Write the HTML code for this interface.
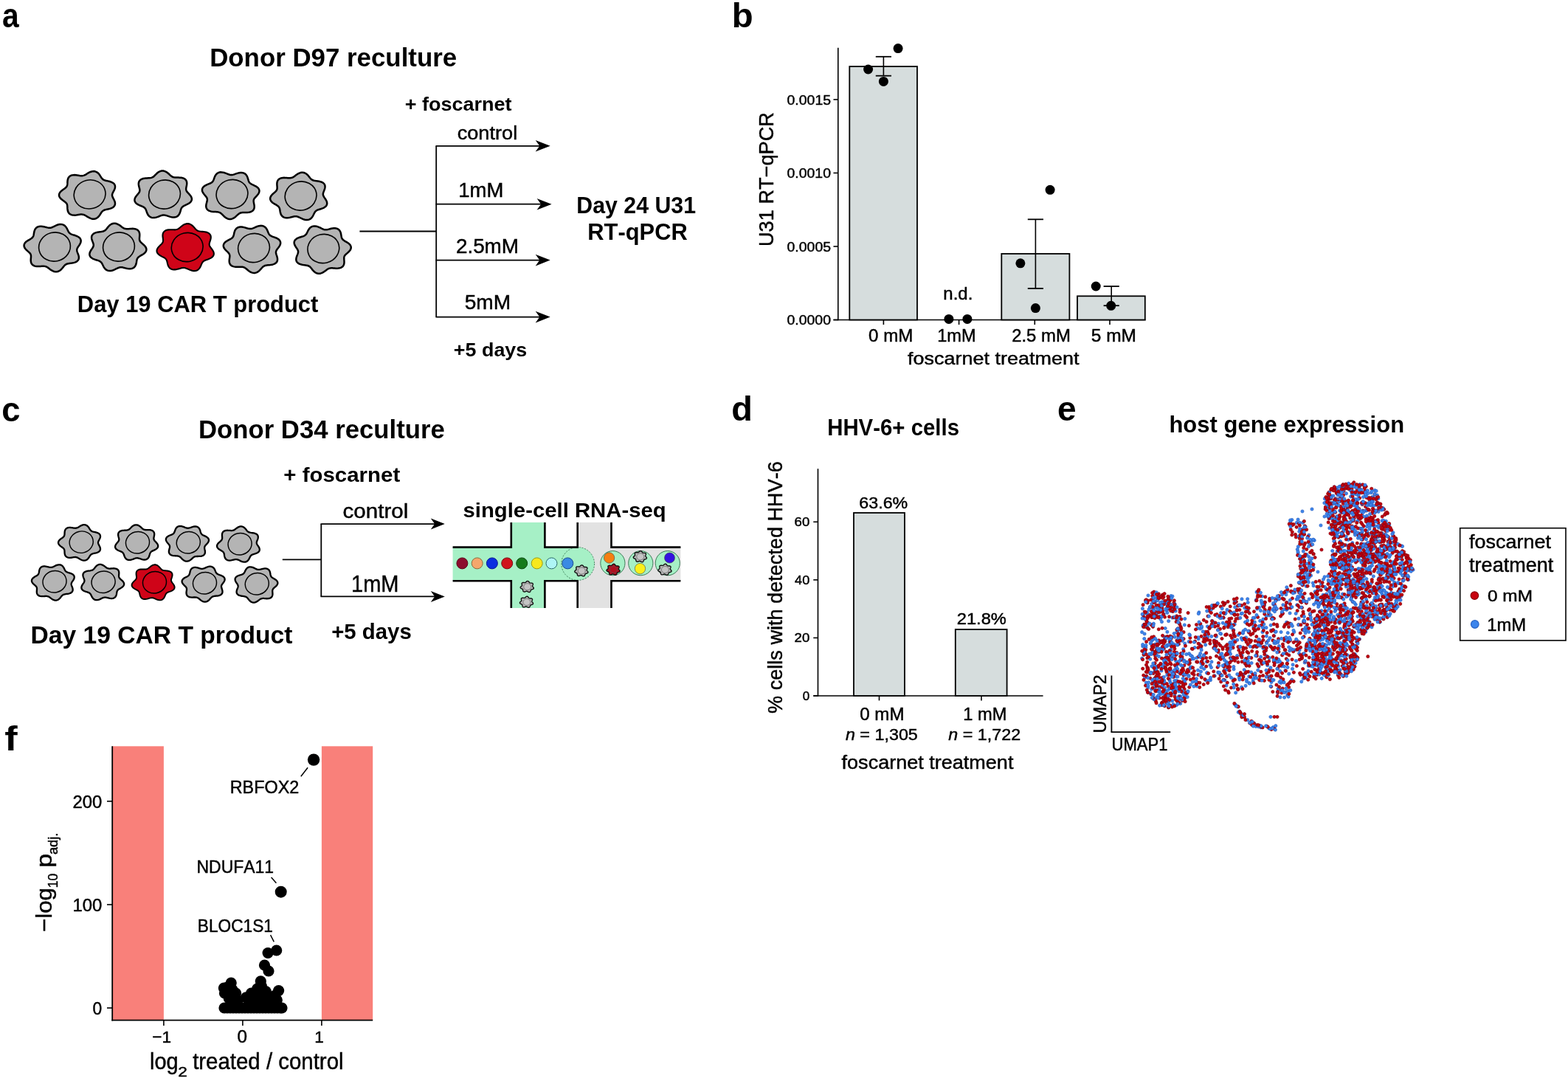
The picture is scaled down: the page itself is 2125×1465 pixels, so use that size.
<!DOCTYPE html>
<html><head><meta charset="utf-8"><title>Figure</title>
<style>
html,body{margin:0;padding:0;background:#fff;overflow:hidden;width:2125px;height:1465px;}
svg{display:block;}
text{font-family:"Liberation Sans",Arial,Helvetica,sans-serif;font-kerning:none;}
text[font-weight="normal"]{stroke:#000;stroke-width:0.45px;}
circle.r{fill:#c2020f;stroke:#86000b;stroke-width:0.7px;}
circle.b{fill:#3d85ec;stroke:#2a63c4;stroke-width:0.7px;}
</style></head>
<body>
<svg width="2125" height="1465" viewBox="0 0 2125 1465">
<rect width="2125" height="1465" fill="#fff"/>
<text x="2.88" y="37.30" font-size="46.70" font-weight="bold" font-style="normal" textLength="22.66" lengthAdjust="spacingAndGlyphs" fill="#000">a</text>
<text x="991.82" y="37.20" font-size="45.66" font-weight="bold" font-style="normal" textLength="28.91" lengthAdjust="spacingAndGlyphs" fill="#000">b</text>
<text x="2.29" y="570.50" font-size="47.07" font-weight="bold" font-style="normal" textLength="25.21" lengthAdjust="spacingAndGlyphs" fill="#000">c</text>
<text x="991.32" y="570.30" font-size="46.34" font-weight="bold" font-style="normal" textLength="28.67" lengthAdjust="spacingAndGlyphs" fill="#000">d</text>
<text x="1433.06" y="570.30" font-size="46.70" font-weight="bold" font-style="normal" textLength="25.59" lengthAdjust="spacingAndGlyphs" fill="#000">e</text>
<text x="6.39" y="1016.80" font-size="46.62" font-weight="bold" font-style="normal" textLength="17.41" lengthAdjust="spacingAndGlyphs" fill="#000">f</text>
<text x="284.15" y="89.70" font-size="34.34" font-weight="bold" font-style="normal" textLength="335.02" lengthAdjust="spacingAndGlyphs" fill="#000">Donor D97 reculture</text>
<text x="548.65" y="149.50" font-size="26.34" font-weight="bold" font-style="normal" textLength="144.91" lengthAdjust="spacingAndGlyphs" fill="#000">+ foscarnet</text>
<text x="619.65" y="189.20" font-size="25.79" font-weight="normal" font-style="normal" textLength="81.56" lengthAdjust="spacingAndGlyphs" fill="#000">control</text>
<text x="621.34" y="266.60" font-size="27.78" font-weight="normal" font-style="normal" textLength="61.12" lengthAdjust="spacingAndGlyphs" fill="#000">1mM</text>
<text x="617.91" y="342.50" font-size="27.10" font-weight="normal" font-style="normal" textLength="85.12" lengthAdjust="spacingAndGlyphs" fill="#000">2.5mM</text>
<text x="629.68" y="419.00" font-size="27.49" font-weight="normal" font-style="normal" textLength="62.43" lengthAdjust="spacingAndGlyphs" fill="#000">5mM</text>
<text x="781.36" y="288.90" font-size="32.11" font-weight="bold" font-style="normal" textLength="161.64" lengthAdjust="spacingAndGlyphs" fill="#000">Day 24 U31</text>
<text x="796.29" y="325.10" font-size="31.40" font-weight="bold" font-style="normal" textLength="135.43" lengthAdjust="spacingAndGlyphs" fill="#000">RT-qPCR</text>
<text x="614.86" y="483.30" font-size="26.07" font-weight="bold" font-style="normal" textLength="99.38" lengthAdjust="spacingAndGlyphs" fill="#000">+5 days</text>
<text x="104.81" y="422.60" font-size="30.90" font-weight="bold" font-style="normal" textLength="326.57" lengthAdjust="spacingAndGlyphs" fill="#000">Day 19 CAR T product</text>
<line x1="487.40" y1="313.50" x2="591.20" y2="313.50" stroke="#000" stroke-width="1.80"/>
<line x1="591.20" y1="197.80" x2="591.20" y2="429.60" stroke="#000" stroke-width="1.80"/>
<line x1="590.50" y1="197.80" x2="733.70" y2="197.80" stroke="#000" stroke-width="1.80"/>
<path d="M745.70 197.80 L725.70 190.00 L731.30 197.80 L725.70 205.60 Z" fill="#000"/>
<line x1="590.50" y1="276.70" x2="735.60" y2="276.70" stroke="#000" stroke-width="1.80"/>
<path d="M747.60 276.70 L727.60 268.90 L733.20 276.70 L727.60 284.50 Z" fill="#000"/>
<line x1="590.50" y1="352.60" x2="733.70" y2="352.60" stroke="#000" stroke-width="1.80"/>
<path d="M745.70 352.60 L725.70 344.80 L731.30 352.60 L725.70 360.40 Z" fill="#000"/>
<line x1="590.50" y1="429.60" x2="733.70" y2="429.60" stroke="#000" stroke-width="1.80"/>
<path d="M745.70 429.60 L725.70 421.80 L731.30 429.60 L725.70 437.40 Z" fill="#000"/>
<path d="M152.00 264.40 L152.10 265.46 L152.41 266.55 L152.90 267.68 L153.52 268.88 L154.19 270.13 L154.85 271.45 L155.42 272.82 L155.83 274.21 L156.01 275.59 L155.92 276.94 L155.54 278.21 L154.85 279.37 L153.87 280.39 L152.65 281.28 L151.22 282.00 L149.65 282.59 L148.01 283.06 L146.36 283.44 L144.76 283.78 L143.27 284.13 L141.91 284.52 L140.71 285.00 L139.66 285.60 L138.74 286.36 L137.93 287.26 L137.18 288.30 L136.44 289.46 L135.67 290.69 L134.84 291.94 L133.89 293.16 L132.82 294.27 L131.62 295.23 L130.29 295.97 L128.84 296.48 L127.31 296.71 L125.74 296.68 L124.14 296.40 L122.57 295.89 L121.05 295.21 L119.60 294.43 L118.22 293.59 L116.92 292.77 L115.68 292.02 L114.47 291.40 L113.26 290.94 L112.03 290.66 L110.75 290.56 L109.38 290.61 L107.92 290.78 L106.36 291.03 L104.72 291.30 L103.01 291.53 L101.29 291.65 L99.58 291.62 L97.95 291.41 L96.43 290.97 L95.09 290.31 L93.94 289.43 L93.02 288.36 L92.33 287.13 L91.85 285.77 L91.56 284.35 L91.42 282.92 L91.35 281.50 L91.31 280.15 L91.22 278.89 L91.03 277.73 L90.69 276.68 L90.16 275.71 L89.42 274.82 L88.49 273.96 L87.40 273.12 L86.18 272.25 L84.90 271.34 L83.63 270.36 L82.46 269.30 L81.44 268.16 L80.67 266.95 L80.17 265.69 L80.00 264.40 L80.16 263.11 L80.64 261.84 L81.40 260.63 L82.40 259.49 L83.57 258.43 L84.84 257.45 L86.12 256.53 L87.35 255.67 L88.46 254.83 L89.40 253.98 L90.15 253.09 L90.70 252.13 L91.05 251.08 L91.26 249.93 L91.35 248.67 L91.40 247.33 L91.46 245.92 L91.61 244.48 L91.89 243.06 L92.36 241.70 L93.04 240.46 L93.95 239.37 L95.08 238.49 L96.42 237.82 L97.93 237.37 L99.56 237.14 L101.26 237.11 L102.99 237.23 L104.69 237.45 L106.34 237.72 L107.90 237.98 L109.37 238.16 L110.74 238.23 L112.03 238.13 L113.27 237.87 L114.47 237.42 L115.68 236.81 L116.93 236.08 L118.23 235.26 L119.60 234.43 L121.05 233.63 L122.57 232.95 L124.14 232.44 L125.73 232.14 L127.31 232.10 L128.84 232.32 L130.29 232.81 L131.63 233.55 L132.84 234.49 L133.91 235.60 L134.86 236.81 L135.70 238.07 L136.47 239.30 L137.20 240.47 L137.95 241.52 L138.75 242.43 L139.66 243.19 L140.70 243.81 L141.89 244.30 L143.24 244.70 L144.72 245.05 L146.31 245.39 L147.96 245.77 L149.60 246.24 L151.17 246.82 L152.61 247.54 L153.85 248.42 L154.84 249.44 L155.54 250.59 L155.94 251.86 L156.04 253.20 L155.87 254.58 L155.47 255.97 L154.91 257.34 L154.25 258.66 L153.57 259.92 L152.95 261.11 L152.44 262.25 L152.12 263.34 Z" fill="#b4b4b4" stroke="#000" stroke-width="2.50" stroke-linejoin="round"/>
<ellipse cx="121.60" cy="263.40" rx="21.50" ry="19.50" fill="#b4b4b4" stroke="#000" stroke-width="1.60" transform="rotate(-14 121.60 263.40)"/>
<path d="M257.61 264.50 L258.52 265.73 L259.26 267.01 L259.75 268.32 L259.95 269.64 L259.84 270.94 L259.40 272.18 L258.65 273.35 L257.63 274.42 L256.38 275.38 L254.99 276.23 L253.52 276.99 L252.04 277.68 L250.63 278.33 L249.33 278.97 L248.20 279.64 L247.24 280.39 L246.47 281.23 L245.86 282.19 L245.38 283.28 L244.99 284.49 L244.62 285.80 L244.23 287.16 L243.75 288.55 L243.15 289.90 L242.38 291.16 L241.43 292.28 L240.29 293.20 L238.98 293.90 L237.52 294.36 L235.94 294.56 L234.29 294.53 L232.62 294.29 L230.95 293.90 L229.33 293.40 L227.77 292.87 L226.29 292.36 L224.90 291.93 L223.56 291.63 L222.27 291.50 L221.00 291.54 L219.71 291.77 L218.39 292.16 L217.00 292.67 L215.54 293.25 L213.99 293.85 L212.39 294.39 L210.74 294.82 L209.08 295.08 L207.44 295.12 L205.88 294.92 L204.42 294.46 L203.11 293.76 L201.96 292.83 L200.99 291.71 L200.19 290.46 L199.54 289.12 L199.00 287.75 L198.54 286.41 L198.10 285.14 L197.62 283.98 L197.06 282.94 L196.36 282.04 L195.49 281.26 L194.45 280.57 L193.24 279.96 L191.87 279.37 L190.40 278.78 L188.88 278.14 L187.38 277.42 L185.96 276.59 L184.71 275.66 L183.69 274.60 L182.94 273.44 L182.51 272.20 L182.40 270.90 L182.60 269.57 L183.07 268.24 L183.78 266.94 L184.65 265.69 L185.61 264.50 L186.58 263.37 L187.48 262.30 L188.25 261.27 L188.84 260.26 L189.22 259.23 L189.39 258.18 L189.35 257.06 L189.15 255.88 L188.83 254.61 L188.47 253.27 L188.13 251.87 L187.89 250.44 L187.81 249.01 L187.94 247.62 L188.33 246.31 L188.99 245.12 L189.93 244.09 L191.11 243.23 L192.51 242.55 L194.08 242.06 L195.75 241.74 L197.47 241.54 L199.18 241.43 L200.83 241.36 L202.38 241.27 L203.81 241.12 L205.11 240.85 L206.29 240.44 L207.37 239.87 L208.39 239.13 L209.37 238.24 L210.37 237.23 L211.41 236.15 L212.52 235.06 L213.72 234.02 L215.03 233.09 L216.43 232.34 L217.91 231.81 L219.45 231.54 L221.00 231.54 L222.54 231.82 L224.04 232.35 L225.46 233.09 L226.80 233.99 L228.04 235.00 L229.20 236.05 L230.28 237.07 L231.33 238.01 L232.36 238.83 L233.43 239.49 L234.57 239.98 L235.80 240.30 L237.14 240.48 L238.61 240.56 L240.19 240.57 L241.86 240.58 L243.58 240.63 L245.30 240.79 L246.98 241.08 L248.54 241.55 L249.93 242.22 L251.11 243.07 L252.04 244.11 L252.70 245.31 L253.10 246.62 L253.26 248.02 L253.22 249.46 L253.03 250.90 L252.76 252.30 L252.48 253.63 L252.26 254.89 L252.17 256.06 L252.24 257.16 L252.52 258.19 L253.01 259.19 L253.71 260.18 L254.58 261.19 L255.56 262.23 L256.60 263.33 Z" fill="#b4b4b4" stroke="#000" stroke-width="2.50" stroke-linejoin="round"/>
<ellipse cx="223.00" cy="263.50" rx="21.50" ry="19.50" fill="#b4b4b4" stroke="#000" stroke-width="1.60" transform="rotate(-14 223.00 263.50)"/>
<path d="M349.17 264.00 L348.16 265.17 L347.12 266.27 L346.12 267.32 L345.25 268.32 L344.53 269.31 L344.03 270.31 L343.73 271.34 L343.64 272.43 L343.73 273.60 L343.94 274.85 L344.21 276.18 L344.48 277.58 L344.67 279.01 L344.72 280.45 L344.57 281.86 L344.18 283.18 L343.53 284.38 L342.61 285.43 L341.44 286.30 L340.06 286.97 L338.51 287.45 L336.84 287.75 L335.12 287.91 L333.39 287.96 L331.72 287.97 L330.13 287.98 L328.66 288.04 L327.31 288.21 L326.07 288.53 L324.93 289.00 L323.85 289.65 L322.81 290.45 L321.77 291.39 L320.68 292.40 L319.53 293.45 L318.29 294.46 L316.96 295.37 L315.53 296.12 L314.04 296.66 L312.50 296.95 L310.95 296.96 L309.41 296.70 L307.93 296.19 L306.52 295.44 L305.21 294.53 L304.00 293.49 L302.89 292.40 L301.85 291.31 L300.86 290.30 L299.88 289.40 L298.87 288.65 L297.79 288.06 L296.62 287.64 L295.32 287.36 L293.90 287.20 L292.36 287.10 L290.71 287.03 L289.01 286.92 L287.29 286.73 L285.61 286.41 L284.04 285.92 L282.63 285.26 L281.43 284.41 L280.49 283.38 L279.81 282.20 L279.41 280.90 L279.27 279.51 L279.34 278.08 L279.58 276.65 L279.92 275.25 L280.28 273.90 L280.61 272.64 L280.82 271.45 L280.87 270.33 L280.72 269.27 L280.36 268.24 L279.78 267.23 L279.02 266.20 L278.13 265.13 L277.17 264.00 L276.21 262.81 L275.34 261.56 L274.62 260.26 L274.13 258.94 L273.92 257.60 L274.01 256.30 L274.43 255.05 L275.17 253.89 L276.18 252.83 L277.42 251.89 L278.82 251.06 L280.33 250.34 L281.85 249.70 L283.33 249.10 L284.70 248.52 L285.93 247.91 L286.98 247.24 L287.86 246.46 L288.57 245.57 L289.15 244.54 L289.63 243.39 L290.08 242.12 L290.54 240.79 L291.07 239.42 L291.72 238.08 L292.51 236.82 L293.48 235.69 L294.62 234.75 L295.92 234.04 L297.37 233.57 L298.93 233.36 L300.57 233.39 L302.22 233.64 L303.87 234.06 L305.48 234.60 L307.03 235.20 L308.49 235.79 L309.88 236.31 L311.21 236.71 L312.50 236.95 L313.77 237.01 L315.06 236.89 L316.39 236.60 L317.79 236.18 L319.26 235.68 L320.81 235.15 L322.43 234.65 L324.10 234.25 L325.78 234.01 L327.43 233.97 L329.01 234.16 L330.48 234.60 L331.80 235.29 L332.94 236.20 L333.90 237.31 L334.68 238.56 L335.29 239.91 L335.77 241.30 L336.16 242.67 L336.52 243.98 L336.91 245.20 L337.38 246.29 L337.98 247.26 L338.74 248.12 L339.68 248.87 L340.80 249.55 L342.09 250.19 L343.49 250.84 L344.97 251.53 L346.44 252.29 L347.83 253.14 L349.08 254.09 L350.12 255.16 L350.88 256.32 L351.34 257.56 L351.47 258.86 L351.28 260.17 L350.80 261.49 L350.08 262.77 Z" fill="#b4b4b4" stroke="#000" stroke-width="2.50" stroke-linejoin="round"/>
<ellipse cx="314.50" cy="263.00" rx="21.50" ry="19.50" fill="#b4b4b4" stroke="#000" stroke-width="1.60" transform="rotate(-14 314.50 263.00)"/>
<path d="M438.83 266.50 L439.53 267.61 L440.33 268.78 L441.16 270.01 L441.93 271.30 L442.59 272.63 L443.04 273.99 L443.25 275.35 L443.15 276.67 L442.75 277.92 L442.04 279.08 L441.04 280.11 L439.80 281.02 L438.37 281.79 L436.82 282.44 L435.23 283.00 L433.65 283.48 L432.16 283.95 L430.78 284.42 L429.57 284.96 L428.52 285.60 L427.63 286.36 L426.88 287.26 L426.23 288.31 L425.63 289.47 L425.03 290.73 L424.38 292.04 L423.64 293.35 L422.78 294.59 L421.76 295.72 L420.59 296.67 L419.28 297.40 L417.83 297.88 L416.29 298.10 L414.69 298.06 L413.07 297.78 L411.46 297.31 L409.89 296.69 L408.38 295.98 L406.96 295.26 L405.60 294.59 L404.30 294.01 L403.04 293.58 L401.79 293.32 L400.52 293.24 L399.19 293.33 L397.80 293.58 L396.32 293.92 L394.75 294.32 L393.11 294.71 L391.42 295.03 L389.71 295.22 L388.03 295.24 L386.42 295.03 L384.94 294.60 L383.61 293.93 L382.47 293.03 L381.54 291.93 L380.82 290.68 L380.28 289.32 L379.91 287.91 L379.64 286.50 L379.43 285.13 L379.22 283.83 L378.94 282.64 L378.54 281.57 L377.97 280.61 L377.23 279.74 L376.28 278.95 L375.16 278.19 L373.90 277.44 L372.53 276.67 L371.15 275.83 L369.80 274.91 L368.58 273.91 L367.55 272.81 L366.78 271.62 L366.31 270.38 L366.16 269.09 L366.34 267.79 L366.83 266.50 L367.58 265.26 L368.55 264.07 L369.65 262.95 L370.82 261.91 L371.97 260.93 L373.03 259.98 L373.95 259.06 L374.68 258.13 L375.20 257.15 L375.52 256.12 L375.65 255.00 L375.64 253.78 L375.55 252.48 L375.43 251.09 L375.36 249.66 L375.40 248.22 L375.61 246.80 L376.04 245.46 L376.70 244.24 L377.61 243.17 L378.76 242.30 L380.12 241.64 L381.65 241.19 L383.31 240.93 L385.03 240.84 L386.76 240.88 L388.46 241.00 L390.09 241.13 L391.62 241.23 L393.04 241.23 L394.36 241.11 L395.59 240.82 L396.75 240.35 L397.88 239.71 L399.02 238.93 L400.19 238.04 L401.42 237.10 L402.74 236.17 L404.13 235.31 L405.60 234.59 L407.13 234.06 L408.69 233.76 L410.25 233.73 L411.78 233.98 L413.24 234.49 L414.61 235.23 L415.86 236.18 L417.00 237.26 L418.03 238.42 L418.97 239.60 L419.85 240.73 L420.72 241.78 L421.60 242.69 L422.56 243.44 L423.61 244.04 L424.79 244.49 L426.12 244.81 L427.58 245.06 L429.16 245.26 L430.82 245.49 L432.51 245.77 L434.18 246.16 L435.76 246.69 L437.18 247.38 L438.40 248.24 L439.36 249.26 L440.05 250.42 L440.44 251.71 L440.55 253.07 L440.41 254.48 L440.08 255.90 L439.62 257.29 L439.10 258.63 L438.59 259.90 L438.17 261.10 L437.89 262.24 L437.81 263.32 L437.94 264.38 L438.28 265.43 Z" fill="#b4b4b4" stroke="#000" stroke-width="2.50" stroke-linejoin="round"/>
<ellipse cx="407.60" cy="265.50" rx="21.50" ry="19.50" fill="#b4b4b4" stroke="#000" stroke-width="1.60" transform="rotate(-14 407.60 265.50)"/>
<path d="M105.27 335.50 L104.71 336.57 L104.35 337.62 L104.20 338.68 L104.27 339.76 L104.53 340.89 L104.94 342.09 L105.44 343.36 L105.96 344.70 L106.43 346.08 L106.77 347.50 L106.91 348.91 L106.81 350.28 L106.43 351.57 L105.76 352.74 L104.82 353.77 L103.61 354.64 L102.19 355.34 L100.62 355.87 L98.96 356.26 L97.26 356.55 L95.59 356.77 L94.01 356.97 L92.54 357.21 L91.21 357.53 L90.01 357.97 L88.95 358.55 L87.99 359.30 L87.10 360.19 L86.23 361.23 L85.35 362.36 L84.41 363.53 L83.38 364.69 L82.25 365.78 L81.00 366.73 L79.64 367.49 L78.18 368.01 L76.65 368.27 L75.09 368.25 L73.53 367.97 L72.00 367.45 L70.53 366.74 L69.13 365.88 L67.82 364.95 L66.58 364.00 L65.41 363.11 L64.28 362.31 L63.14 361.67 L61.98 361.19 L60.76 360.88 L59.45 360.74 L58.04 360.74 L56.51 360.83 L54.89 360.96 L53.19 361.08 L51.46 361.12 L49.74 361.04 L48.08 360.79 L46.54 360.34 L45.17 359.69 L44.01 358.83 L43.08 357.78 L42.41 356.56 L41.97 355.22 L41.76 353.81 L41.71 352.37 L41.78 350.93 L41.90 349.55 L42.00 348.24 L42.02 347.02 L41.90 345.89 L41.60 344.85 L41.09 343.87 L40.38 342.93 L39.47 342.01 L38.42 341.07 L37.28 340.08 L36.11 339.04 L35.01 337.93 L34.03 336.74 L33.27 335.50 L32.76 334.22 L32.57 332.91 L32.70 331.62 L33.16 330.37 L33.92 329.19 L34.93 328.08 L36.15 327.07 L37.49 326.16 L38.88 325.32 L40.25 324.54 L41.52 323.79 L42.66 323.04 L43.61 322.25 L44.37 321.39 L44.95 320.44 L45.36 319.37 L45.65 318.19 L45.87 316.90 L46.08 315.54 L46.35 314.12 L46.72 312.71 L47.25 311.35 L47.96 310.09 L48.89 308.99 L50.01 308.08 L51.33 307.39 L52.81 306.95 L54.41 306.73 L56.09 306.74 L57.80 306.92 L59.49 307.24 L61.13 307.63 L62.70 308.03 L64.19 308.39 L65.59 308.64 L66.92 308.75 L68.19 308.69 L69.44 308.44 L70.70 308.02 L72.00 307.45 L73.35 306.78 L74.78 306.06 L76.28 305.36 L77.85 304.74 L79.46 304.26 L81.08 303.97 L82.69 303.92 L84.23 304.12 L85.68 304.59 L87.01 305.31 L88.18 306.25 L89.20 307.37 L90.07 308.61 L90.81 309.92 L91.46 311.23 L92.06 312.49 L92.65 313.67 L93.30 314.72 L94.04 315.63 L94.92 316.40 L95.95 317.05 L97.16 317.59 L98.52 318.08 L100.01 318.54 L101.58 319.03 L103.17 319.58 L104.72 320.23 L106.16 321.00 L107.41 321.90 L108.42 322.93 L109.15 324.08 L109.57 325.33 L109.67 326.65 L109.48 328.00 L109.04 329.36 L108.39 330.70 L107.62 331.99 L106.79 333.22 L105.98 334.39 Z" fill="#b4b4b4" stroke="#000" stroke-width="2.50" stroke-linejoin="round"/>
<ellipse cx="74.00" cy="334.50" rx="21.50" ry="19.50" fill="#b4b4b4" stroke="#000" stroke-width="1.60" transform="rotate(-14 74.00 334.50)"/>
<path d="M197.75 335.50 L198.25 336.79 L198.44 338.09 L198.30 339.38 L197.83 340.63 L197.07 341.81 L196.04 342.91 L194.83 343.92 L193.48 344.84 L192.09 345.67 L190.73 346.45 L189.46 347.20 L188.33 347.95 L187.38 348.75 L186.63 349.61 L186.06 350.57 L185.65 351.64 L185.37 352.82 L185.15 354.11 L184.94 355.48 L184.67 356.89 L184.30 358.31 L183.77 359.67 L183.05 360.92 L182.12 362.02 L180.99 362.92 L179.67 363.60 L178.18 364.04 L176.58 364.25 L174.90 364.24 L173.19 364.05 L171.50 363.74 L169.86 363.35 L168.29 362.95 L166.81 362.59 L165.41 362.35 L164.08 362.24 L162.81 362.32 L161.56 362.57 L160.30 363.00 L159.00 363.57 L157.64 364.24 L156.22 364.96 L154.72 365.66 L153.15 366.28 L151.54 366.76 L149.91 367.04 L148.31 367.09 L146.77 366.88 L145.32 366.40 L144.00 365.68 L142.83 364.73 L141.81 363.61 L140.94 362.37 L140.20 361.06 L139.56 359.75 L138.96 358.49 L138.36 357.32 L137.71 356.27 L136.96 355.37 L136.08 354.60 L135.04 353.96 L133.83 353.42 L132.46 352.93 L130.97 352.47 L129.40 351.98 L127.80 351.43 L126.26 350.78 L124.82 350.01 L123.58 349.11 L122.57 348.07 L121.85 346.92 L121.44 345.67 L121.34 344.35 L121.54 343.00 L121.99 341.64 L122.64 340.30 L123.41 339.01 L124.24 337.78 L125.05 336.61 L125.75 335.50 L126.30 334.43 L126.66 333.38 L126.80 332.32 L126.72 331.24 L126.45 330.10 L126.03 328.90 L125.53 327.63 L125.01 326.30 L124.54 324.91 L124.21 323.49 L124.07 322.08 L124.18 320.71 L124.56 319.43 L125.24 318.26 L126.19 317.23 L127.40 316.37 L128.82 315.68 L130.40 315.14 L132.07 314.75 L133.76 314.47 L135.42 314.25 L137.01 314.04 L138.47 313.80 L139.80 313.48 L140.99 313.03 L142.05 312.44 L143.00 311.69 L143.89 310.79 L144.76 309.75 L145.64 308.62 L146.58 307.45 L147.61 306.28 L148.74 305.20 L150.00 304.25 L151.36 303.50 L152.82 302.98 L154.35 302.73 L155.91 302.75 L157.47 303.04 L159.00 303.57 L160.47 304.29 L161.87 305.14 L163.18 306.08 L164.41 307.02 L165.58 307.91 L166.72 308.70 L167.85 309.34 L169.02 309.81 L170.24 310.11 L171.55 310.24 L172.97 310.24 L174.50 310.15 L176.12 310.02 L177.82 309.90 L179.56 309.86 L181.28 309.95 L182.93 310.20 L184.47 310.65 L185.84 311.31 L186.99 312.17 L187.91 313.23 L188.58 314.45 L189.01 315.79 L189.22 317.20 L189.26 318.65 L189.19 320.08 L189.08 321.46 L188.98 322.77 L188.96 323.99 L189.09 325.11 L189.40 326.15 L189.91 327.13 L190.64 328.06 L191.55 328.99 L192.60 329.93 L193.75 330.91 L194.92 331.96 L196.02 333.07 L196.99 334.26 Z" fill="#b4b4b4" stroke="#000" stroke-width="2.50" stroke-linejoin="round"/>
<ellipse cx="161.00" cy="334.50" rx="21.50" ry="19.50" fill="#b4b4b4" stroke="#000" stroke-width="1.60" transform="rotate(-14 161.00 334.50)"/>
<path d="M285.88 336.00 L286.77 337.15 L287.66 338.36 L288.49 339.63 L289.18 340.95 L289.65 342.29 L289.86 343.63 L289.76 344.94 L289.35 346.19 L288.62 347.35 L287.61 348.40 L286.36 349.32 L284.94 350.11 L283.41 350.80 L281.85 351.40 L280.32 351.94 L278.89 352.46 L277.59 353.01 L276.45 353.62 L275.49 354.33 L274.69 355.16 L274.03 356.13 L273.46 357.23 L272.94 358.45 L272.41 359.75 L271.82 361.09 L271.13 362.42 L270.30 363.67 L269.31 364.80 L268.15 365.74 L266.84 366.46 L265.39 366.93 L263.84 367.14 L262.23 367.10 L260.58 366.84 L258.95 366.38 L257.36 365.80 L255.84 365.15 L254.39 364.50 L253.02 363.90 L251.70 363.41 L250.42 363.08 L249.16 362.92 L247.87 362.94 L246.54 363.14 L245.14 363.47 L243.66 363.90 L242.10 364.37 L240.47 364.81 L238.78 365.17 L237.09 365.39 L235.43 365.42 L233.83 365.22 L232.36 364.78 L231.04 364.10 L229.90 363.19 L228.96 362.08 L228.21 360.83 L227.64 359.47 L227.22 358.07 L226.89 356.68 L226.60 355.33 L226.30 354.08 L225.92 352.93 L225.42 351.91 L224.76 351.00 L223.90 350.19 L222.87 349.46 L221.66 348.76 L220.31 348.06 L218.89 347.32 L217.46 346.53 L216.09 345.64 L214.85 344.66 L213.82 343.58 L213.05 342.41 L212.59 341.16 L212.46 339.87 L212.65 338.56 L213.14 337.26 L213.88 336.00 L214.82 334.79 L215.88 333.65 L216.99 332.58 L218.06 331.56 L219.03 330.59 L219.85 329.63 L220.46 328.66 L220.87 327.65 L221.07 326.58 L221.09 325.43 L220.98 324.20 L220.79 322.88 L220.60 321.48 L220.46 320.05 L220.46 318.60 L220.64 317.19 L221.05 315.86 L221.71 314.65 L222.62 313.60 L223.78 312.73 L225.16 312.07 L226.70 311.61 L228.36 311.33 L230.09 311.21 L231.82 311.21 L233.51 311.26 L235.12 311.32 L236.62 311.34 L238.01 311.25 L239.29 311.03 L240.47 310.64 L241.59 310.08 L242.68 309.36 L243.78 308.49 L244.91 307.54 L246.10 306.54 L247.38 305.57 L248.74 304.68 L250.19 303.94 L251.70 303.41 L253.25 303.12 L254.81 303.10 L256.34 303.36 L257.81 303.88 L259.19 304.62 L260.47 305.56 L261.64 306.62 L262.71 307.75 L263.70 308.88 L264.64 309.96 L265.57 310.93 L266.52 311.76 L267.54 312.43 L268.66 312.94 L269.90 313.30 L271.28 313.54 L272.79 313.71 L274.40 313.85 L276.09 314.01 L277.80 314.25 L279.47 314.60 L281.05 315.11 L282.47 315.79 L283.67 316.64 L284.62 317.67 L285.29 318.84 L285.69 320.14 L285.81 321.52 L285.70 322.94 L285.41 324.36 L285.01 325.76 L284.56 327.10 L284.15 328.37 L283.83 329.57 L283.67 330.70 L283.71 331.78 L283.96 332.82 L284.43 333.85 L285.08 334.91 Z" fill="#cf0418" stroke="#000" stroke-width="2.10" stroke-linejoin="round"/>
<ellipse cx="253.70" cy="335.00" rx="21.50" ry="19.50" fill="#cf0418" stroke="#000" stroke-width="1.60" transform="rotate(-14 253.70 335.00)"/>
<path d="M376.24 337.00 L375.42 338.09 L374.75 339.15 L374.27 340.18 L374.00 341.22 L373.95 342.30 L374.10 343.42 L374.40 344.62 L374.81 345.88 L375.25 347.22 L375.66 348.62 L375.95 350.04 L376.07 351.46 L375.95 352.85 L375.58 354.15 L374.92 355.33 L373.98 356.36 L372.79 357.23 L371.38 357.91 L369.81 358.42 L368.14 358.79 L366.43 359.03 L364.74 359.19 L363.12 359.32 L361.60 359.49 L360.22 359.72 L358.96 360.07 L357.84 360.57 L356.81 361.22 L355.85 362.04 L354.93 363.00 L353.99 364.07 L353.00 365.20 L351.93 366.33 L350.76 367.40 L349.48 368.34 L348.10 369.10 L346.63 369.63 L345.11 369.90 L343.55 369.89 L342.00 369.61 L340.49 369.09 L339.04 368.36 L337.67 367.48 L336.39 366.51 L335.20 365.51 L334.06 364.55 L332.97 363.67 L331.89 362.94 L330.77 362.36 L329.59 361.96 L328.32 361.73 L326.94 361.63 L325.44 361.64 L323.84 361.70 L322.15 361.75 L320.42 361.75 L318.70 361.63 L317.03 361.36 L315.48 360.91 L314.09 360.26 L312.92 359.40 L311.99 358.36 L311.32 357.15 L310.90 355.83 L310.71 354.42 L310.71 352.98 L310.84 351.54 L311.04 350.15 L311.23 348.82 L311.36 347.58 L311.35 346.42 L311.16 345.35 L310.77 344.34 L310.17 343.37 L309.37 342.41 L308.41 341.43 L307.35 340.42 L306.25 339.34 L305.18 338.21 L304.24 337.00 L303.48 335.74 L302.98 334.44 L302.77 333.13 L302.89 331.84 L303.34 330.59 L304.09 329.42 L305.11 328.33 L306.33 327.34 L307.70 326.46 L309.14 325.66 L310.56 324.92 L311.91 324.23 L313.13 323.53 L314.19 322.80 L315.05 321.99 L315.73 321.10 L316.25 320.08 L316.63 318.94 L316.94 317.70 L317.23 316.36 L317.56 314.97 L317.98 313.56 L318.54 312.21 L319.28 310.94 L320.22 309.83 L321.34 308.91 L322.66 308.22 L324.12 307.76 L325.71 307.55 L327.37 307.57 L329.07 307.78 L330.75 308.14 L332.38 308.58 L333.95 309.06 L335.43 309.49 L336.84 309.84 L338.17 310.04 L339.46 310.08 L340.72 309.94 L342.00 309.61 L343.31 309.14 L344.69 308.55 L346.13 307.90 L347.65 307.25 L349.24 306.66 L350.87 306.20 L352.52 305.93 L354.14 305.87 L355.69 306.07 L357.14 306.53 L358.46 307.24 L359.63 308.17 L360.62 309.29 L361.46 310.54 L362.15 311.86 L362.74 313.21 L363.27 314.51 L363.79 315.74 L364.35 316.85 L365.00 317.83 L365.79 318.67 L366.74 319.39 L367.86 320.01 L369.15 320.56 L370.58 321.09 L372.10 321.63 L373.66 322.22 L375.19 322.91 L376.62 323.70 L377.88 324.62 L378.90 325.66 L379.64 326.81 L380.07 328.05 L380.18 329.36 L379.99 330.70 L379.53 332.05 L378.85 333.37 L378.02 334.64 L377.13 335.85 Z" fill="#b4b4b4" stroke="#000" stroke-width="2.50" stroke-linejoin="round"/>
<ellipse cx="344.00" cy="336.00" rx="21.50" ry="19.50" fill="#b4b4b4" stroke="#000" stroke-width="1.60" transform="rotate(-14 344.00 336.00)"/>
<path d="M475.09 338.00 L474.34 339.25 L473.38 340.43 L472.28 341.55 L471.11 342.59 L469.96 343.58 L468.89 344.52 L467.97 345.44 L467.23 346.37 L466.70 347.35 L466.37 348.38 L466.23 349.50 L466.24 350.71 L466.33 352.01 L466.44 353.39 L466.51 354.82 L466.48 356.27 L466.27 357.69 L465.85 359.03 L465.19 360.26 L464.29 361.32 L463.14 362.20 L461.79 362.87 L460.26 363.33 L458.61 363.59 L456.89 363.68 L455.15 363.64 L453.45 363.52 L451.82 363.39 L450.29 363.29 L448.86 363.28 L447.54 363.40 L446.31 363.68 L445.15 364.14 L444.01 364.77 L442.88 365.55 L441.70 366.43 L440.47 367.37 L439.16 368.31 L437.77 369.17 L436.30 369.89 L434.77 370.43 L433.21 370.73 L431.65 370.77 L430.12 370.53 L428.66 370.02 L427.29 369.28 L426.03 368.34 L424.89 367.26 L423.86 366.10 L422.92 364.92 L422.04 363.78 L421.17 362.74 L420.29 361.82 L419.34 361.06 L418.29 360.46 L417.11 360.01 L415.80 359.68 L414.34 359.43 L412.76 359.22 L411.10 359.00 L409.41 358.71 L407.74 358.33 L406.16 357.80 L404.73 357.11 L403.51 356.26 L402.54 355.24 L401.85 354.08 L401.45 352.80 L401.33 351.43 L401.46 350.03 L401.79 348.61 L402.25 347.22 L402.77 345.88 L403.28 344.61 L403.71 343.40 L404.00 342.26 L404.09 341.18 L403.97 340.12 L403.63 339.07 L403.09 338.00 L402.40 336.89 L401.60 335.72 L400.77 334.50 L400.00 333.21 L399.34 331.87 L398.88 330.51 L398.67 329.16 L398.75 327.83 L399.15 326.58 L399.85 325.42 L400.85 324.38 L402.08 323.47 L403.51 322.70 L405.05 322.04 L406.65 321.49 L408.23 321.00 L409.73 320.54 L411.10 320.07 L412.32 319.53 L413.38 318.90 L414.27 318.14 L415.03 317.24 L415.68 316.21 L416.29 315.05 L416.89 313.79 L417.53 312.48 L418.27 311.17 L419.14 309.93 L420.15 308.80 L421.31 307.84 L422.62 307.11 L424.06 306.62 L425.60 306.39 L427.20 306.43 L428.83 306.70 L430.44 307.17 L432.01 307.79 L433.51 308.49 L434.94 309.21 L436.30 309.89 L437.60 310.48 L438.86 310.91 L440.11 311.18 L441.38 311.27 L442.70 311.18 L444.10 310.94 L445.57 310.60 L447.14 310.20 L448.78 309.81 L450.47 309.49 L452.18 309.30 L453.86 309.28 L455.47 309.47 L456.96 309.90 L458.29 310.57 L459.43 311.47 L460.37 312.56 L461.10 313.80 L461.64 315.16 L462.02 316.57 L462.28 317.99 L462.49 319.36 L462.70 320.66 L462.98 321.85 L463.37 322.93 L463.93 323.89 L464.67 324.76 L465.60 325.56 L466.72 326.31 L467.98 327.06 L469.34 327.84 L470.73 328.68 L472.07 329.59 L473.30 330.60 L474.33 331.70 L475.11 332.88 L475.59 334.12 L475.75 335.41 L475.57 336.71 Z" fill="#b4b4b4" stroke="#000" stroke-width="2.50" stroke-linejoin="round"/>
<ellipse cx="438.30" cy="337.00" rx="21.50" ry="19.50" fill="#b4b4b4" stroke="#000" stroke-width="1.60" transform="rotate(-14 438.30 337.00)"/>
<line x1="1135.80" y1="64.80" x2="1135.80" y2="434.30" stroke="#000" stroke-width="1.60"/>
<line x1="1129.50" y1="433.50" x2="1552.50" y2="433.50" stroke="#000" stroke-width="1.60"/>
<line x1="1129.50" y1="433.50" x2="1135.80" y2="433.50" stroke="#000" stroke-width="1.60"/>
<text x="1066.42" y="440.20" font-size="19.21" font-weight="normal" font-style="normal" textLength="59.63" lengthAdjust="spacingAndGlyphs" fill="#000">0.0000</text>
<line x1="1129.50" y1="333.97" x2="1135.80" y2="333.97" stroke="#000" stroke-width="1.60"/>
<text x="1066.42" y="340.67" font-size="19.21" font-weight="normal" font-style="normal" textLength="59.68" lengthAdjust="spacingAndGlyphs" fill="#000">0.0005</text>
<line x1="1129.50" y1="234.43" x2="1135.80" y2="234.43" stroke="#000" stroke-width="1.60"/>
<text x="1066.42" y="241.13" font-size="19.21" font-weight="normal" font-style="normal" textLength="59.63" lengthAdjust="spacingAndGlyphs" fill="#000">0.0010</text>
<line x1="1129.50" y1="134.90" x2="1135.80" y2="134.90" stroke="#000" stroke-width="1.60"/>
<text x="1066.42" y="141.60" font-size="19.21" font-weight="normal" font-style="normal" textLength="59.68" lengthAdjust="spacingAndGlyphs" fill="#000">0.0015</text>
<rect x="1151.30" y="90.10" width="91.70" height="343.40" fill="#d6dddd" stroke="#000" stroke-width="1.8"/>
<rect x="1357.30" y="343.90" width="92.10" height="89.60" fill="#d6dddd" stroke="#000" stroke-width="1.8"/>
<rect x="1460.00" y="401.30" width="91.80" height="32.20" fill="#d6dddd" stroke="#000" stroke-width="1.8"/>
<line x1="1197.40" y1="433.50" x2="1197.40" y2="440.00" stroke="#000" stroke-width="1.60"/>
<line x1="1299.60" y1="433.50" x2="1299.60" y2="440.00" stroke="#000" stroke-width="1.60"/>
<line x1="1402.30" y1="433.50" x2="1402.30" y2="440.00" stroke="#000" stroke-width="1.60"/>
<line x1="1504.00" y1="433.50" x2="1504.00" y2="440.00" stroke="#000" stroke-width="1.60"/>
<line x1="1197.40" y1="76.80" x2="1197.40" y2="102.70" stroke="#000" stroke-width="1.60"/>
<line x1="1186.80" y1="76.80" x2="1208.00" y2="76.80" stroke="#000" stroke-width="1.80"/>
<line x1="1186.80" y1="102.70" x2="1208.00" y2="102.70" stroke="#000" stroke-width="1.80"/>
<line x1="1403.40" y1="297.30" x2="1403.40" y2="390.90" stroke="#000" stroke-width="1.60"/>
<line x1="1392.80" y1="297.30" x2="1414.00" y2="297.30" stroke="#000" stroke-width="1.80"/>
<line x1="1392.80" y1="390.90" x2="1414.00" y2="390.90" stroke="#000" stroke-width="1.80"/>
<line x1="1506.20" y1="388.00" x2="1506.20" y2="414.20" stroke="#000" stroke-width="1.60"/>
<line x1="1495.60" y1="388.00" x2="1516.80" y2="388.00" stroke="#000" stroke-width="1.80"/>
<line x1="1495.60" y1="414.20" x2="1516.80" y2="414.20" stroke="#000" stroke-width="1.80"/>
<circle cx="1176.60" cy="94.00" r="6.5" fill="#000"/>
<circle cx="1197.40" cy="110.40" r="6.5" fill="#000"/>
<circle cx="1217.10" cy="65.60" r="6.5" fill="#000"/>
<circle cx="1285.90" cy="432.40" r="6.5" fill="#000"/>
<circle cx="1310.90" cy="432.40" r="6.5" fill="#000"/>
<circle cx="1382.90" cy="356.80" r="6.5" fill="#000"/>
<circle cx="1403.40" cy="417.60" r="6.5" fill="#000"/>
<circle cx="1423.10" cy="257.30" r="6.5" fill="#000"/>
<circle cx="1485.20" cy="388.00" r="6.5" fill="#000"/>
<circle cx="1505.70" cy="414.30" r="6.5" fill="#000"/>
<text x="1278.38" y="405.60" font-size="23.86" font-weight="normal" font-style="normal" textLength="39.99" lengthAdjust="spacingAndGlyphs" fill="#000">n.d.</text>
<text x="1177.13" y="462.70" font-size="23.37" font-weight="normal" font-style="normal" textLength="60.36" lengthAdjust="spacingAndGlyphs" fill="#000">0 mM</text>
<text x="1270.23" y="462.70" font-size="23.71" font-weight="normal" font-style="normal" textLength="52.51" lengthAdjust="spacingAndGlyphs" fill="#000">1mM</text>
<text x="1371.20" y="462.70" font-size="23.37" font-weight="normal" font-style="normal" textLength="79.70" lengthAdjust="spacingAndGlyphs" fill="#000">2.5 mM</text>
<text x="1478.72" y="462.70" font-size="23.71" font-weight="normal" font-style="normal" textLength="61.20" lengthAdjust="spacingAndGlyphs" fill="#000">5 mM</text>
<text x="1230.10" y="494.00" font-size="24.78" font-weight="normal" font-style="normal" textLength="232.42" lengthAdjust="spacingAndGlyphs" fill="#000">foscarnet treatment</text>
<text transform="translate(1047.90 331.90) rotate(-90)" x="-2.11" y="0" font-size="28.10" font-weight="normal" font-style="normal" textLength="181.98" lengthAdjust="spacingAndGlyphs" fill="#000">U31 RT−qPCR</text>
<text x="268.96" y="593.80" font-size="35.31" font-weight="bold" font-style="normal" textLength="333.81" lengthAdjust="spacingAndGlyphs" fill="#000">Donor D34 reculture</text>
<text x="384.35" y="652.50" font-size="28.41" font-weight="bold" font-style="normal" textLength="157.85" lengthAdjust="spacingAndGlyphs" fill="#000">+ foscarnet</text>
<text x="464.54" y="702.10" font-size="28.55" font-weight="normal" font-style="normal" textLength="88.72" lengthAdjust="spacingAndGlyphs" fill="#000">control</text>
<text x="476.02" y="801.90" font-size="30.55" font-weight="normal" font-style="normal" textLength="64.57" lengthAdjust="spacingAndGlyphs" fill="#000">1mM</text>
<text x="449.15" y="865.90" font-size="28.69" font-weight="bold" font-style="normal" textLength="108.59" lengthAdjust="spacingAndGlyphs" fill="#000">+5 days</text>
<text x="41.53" y="871.90" font-size="33.38" font-weight="bold" font-style="normal" textLength="354.89" lengthAdjust="spacingAndGlyphs" fill="#000">Day 19 CAR T product</text>
<text x="627.47" y="701.00" font-size="28.14" font-weight="bold" font-style="normal" textLength="275.27" lengthAdjust="spacingAndGlyphs" fill="#000">single-cell RNA-seq</text>
<line x1="382.80" y1="758.40" x2="435.30" y2="758.40" stroke="#000" stroke-width="1.80"/>
<line x1="435.30" y1="710.10" x2="435.30" y2="808.40" stroke="#000" stroke-width="1.80"/>
<line x1="434.50" y1="710.10" x2="591.40" y2="710.10" stroke="#000" stroke-width="1.80"/>
<path d="M602.80 710.10 L583.80 702.60 L589.12 710.10 L583.80 717.60 Z" fill="#000"/>
<line x1="434.50" y1="808.40" x2="591.40" y2="808.40" stroke="#000" stroke-width="1.80"/>
<path d="M602.80 808.40 L583.80 800.90 L589.12 808.40 L583.80 815.90 Z" fill="#000"/>
<path d="M133.00 735.40 L133.08 736.20 L133.31 737.01 L133.68 737.86 L134.14 738.76 L134.64 739.70 L135.14 740.69 L135.57 741.71 L135.87 742.76 L136.01 743.80 L135.94 744.80 L135.65 745.75 L135.14 746.62 L134.40 747.40 L133.48 748.06 L132.41 748.60 L131.24 749.04 L130.00 749.40 L128.77 749.68 L127.57 749.94 L126.45 750.19 L125.44 750.49 L124.53 750.85 L123.74 751.30 L123.06 751.87 L122.45 752.54 L121.88 753.33 L121.33 754.19 L120.76 755.12 L120.13 756.06 L119.42 756.97 L118.62 757.80 L117.71 758.52 L116.71 759.08 L115.63 759.46 L114.48 759.64 L113.30 759.61 L112.11 759.40 L110.93 759.02 L109.79 758.51 L108.70 757.92 L107.67 757.29 L106.69 756.67 L105.76 756.12 L104.85 755.65 L103.95 755.31 L103.03 755.10 L102.06 755.02 L101.04 755.06 L99.94 755.19 L98.77 755.38 L97.54 755.58 L96.26 755.74 L94.96 755.84 L93.69 755.82 L92.46 755.65 L91.32 755.33 L90.31 754.83 L89.46 754.18 L88.77 753.37 L88.25 752.44 L87.89 751.43 L87.67 750.37 L87.56 749.29 L87.51 748.23 L87.48 747.21 L87.42 746.27 L87.27 745.40 L87.02 744.61 L86.62 743.88 L86.07 743.21 L85.37 742.57 L84.55 741.94 L83.63 741.29 L82.67 740.61 L81.72 739.87 L80.84 739.08 L80.08 738.22 L79.50 737.32 L79.13 736.37 L79.00 735.40 L79.12 734.43 L79.48 733.48 L80.05 732.57 L80.80 731.72 L81.68 730.92 L82.63 730.18 L83.59 729.50 L84.51 728.85 L85.34 728.22 L86.05 727.58 L86.61 726.91 L87.02 726.20 L87.29 725.41 L87.44 724.54 L87.51 723.60 L87.55 722.59 L87.60 721.54 L87.71 720.46 L87.92 719.39 L88.27 718.37 L88.78 717.44 L89.46 716.63 L90.31 715.96 L91.32 715.46 L92.45 715.13 L93.67 714.96 L94.94 714.93 L96.24 715.02 L97.52 715.19 L98.75 715.39 L99.93 715.58 L101.03 715.72 L102.06 715.77 L103.02 715.70 L103.95 715.50 L104.85 715.17 L105.76 714.71 L106.69 714.16 L107.67 713.55 L108.70 712.92 L109.79 712.33 L110.93 711.81 L112.10 711.43 L113.30 711.21 L114.48 711.17 L115.63 711.34 L116.72 711.71 L117.72 712.26 L118.63 712.97 L119.44 713.80 L120.15 714.71 L120.78 715.65 L121.35 716.58 L121.90 717.45 L122.46 718.24 L123.07 718.92 L123.75 719.50 L124.53 719.96 L125.42 720.33 L126.43 720.62 L127.54 720.88 L128.73 721.14 L129.97 721.43 L131.20 721.78 L132.38 722.21 L133.46 722.76 L134.39 723.41 L135.13 724.18 L135.66 725.04 L135.96 725.99 L136.03 727.00 L135.91 728.03 L135.61 729.08 L135.18 730.10 L134.69 731.09 L134.18 732.04 L133.71 732.93 L133.33 733.78 L133.09 734.60 Z" fill="#b4b4b4" stroke="#000" stroke-width="2.31" stroke-linejoin="round"/>
<ellipse cx="110.20" cy="734.65" rx="16.12" ry="14.62" fill="#b4b4b4" stroke="#000" stroke-width="1.44" transform="rotate(-14 110.20 734.65)"/>
<path d="M212.46 736.00 L213.14 736.92 L213.69 737.88 L214.06 738.87 L214.21 739.86 L214.13 740.83 L213.80 741.76 L213.24 742.64 L212.47 743.44 L211.54 744.16 L210.49 744.80 L209.39 745.37 L208.28 745.89 L207.22 746.37 L206.25 746.85 L205.40 747.36 L204.68 747.92 L204.10 748.55 L203.65 749.27 L203.29 750.09 L202.99 750.99 L202.72 751.97 L202.42 753.00 L202.06 754.04 L201.61 755.05 L201.03 756.00 L200.32 756.83 L199.47 757.53 L198.48 758.05 L197.39 758.39 L196.21 758.54 L194.97 758.52 L193.71 758.34 L192.46 758.05 L191.24 757.68 L190.08 757.28 L188.97 756.89 L187.92 756.57 L186.92 756.35 L185.95 756.25 L185.00 756.28 L184.04 756.45 L183.04 756.75 L182.00 757.13 L180.90 757.57 L179.75 758.01 L178.54 758.42 L177.30 758.74 L176.06 758.93 L174.83 758.97 L173.66 758.82 L172.57 758.47 L171.58 757.95 L170.72 757.25 L169.99 756.41 L169.39 755.47 L168.90 754.46 L168.50 753.44 L168.16 752.43 L167.83 751.48 L167.47 750.61 L167.04 749.83 L166.52 749.15 L165.87 748.57 L165.09 748.06 L164.18 747.59 L163.15 747.16 L162.05 746.71 L160.91 746.23 L159.78 745.69 L158.72 745.07 L157.79 744.37 L157.02 743.58 L156.46 742.71 L156.13 741.78 L156.05 740.80 L156.20 739.80 L156.56 738.81 L157.09 737.83 L157.74 736.89 L158.46 736.00 L159.18 735.15 L159.86 734.35 L160.44 733.58 L160.88 732.82 L161.17 732.05 L161.29 731.26 L161.26 730.42 L161.11 729.53 L160.88 728.58 L160.60 727.58 L160.35 726.53 L160.17 725.46 L160.11 724.38 L160.21 723.34 L160.50 722.36 L160.99 721.47 L161.69 720.69 L162.58 720.05 L163.63 719.54 L164.81 719.17 L166.06 718.93 L167.35 718.78 L168.63 718.70 L169.87 718.65 L171.03 718.58 L172.11 718.46 L173.08 718.27 L173.97 717.96 L174.78 717.53 L175.54 716.97 L176.28 716.30 L177.03 715.55 L177.80 714.74 L178.64 713.92 L179.54 713.14 L180.52 712.45 L181.57 711.88 L182.68 711.49 L183.83 711.28 L185.00 711.28 L186.16 711.49 L187.28 711.88 L188.35 712.44 L189.35 713.12 L190.28 713.88 L191.15 714.66 L191.96 715.43 L192.75 716.13 L193.52 716.75 L194.32 717.24 L195.18 717.61 L196.10 717.85 L197.11 717.99 L198.21 718.04 L199.39 718.05 L200.64 718.06 L201.93 718.10 L203.23 718.21 L204.48 718.44 L205.65 718.79 L206.70 719.29 L207.58 719.93 L208.28 720.71 L208.78 721.60 L209.08 722.59 L209.20 723.64 L209.17 724.72 L209.02 725.80 L208.82 726.85 L208.61 727.85 L208.45 728.79 L208.37 729.67 L208.43 730.49 L208.64 731.27 L209.01 732.02 L209.53 732.76 L210.18 733.52 L210.92 734.30 L211.70 735.13 Z" fill="#b4b4b4" stroke="#000" stroke-width="2.31" stroke-linejoin="round"/>
<ellipse cx="186.50" cy="735.25" rx="16.12" ry="14.62" fill="#b4b4b4" stroke="#000" stroke-width="1.44" transform="rotate(-14 186.50 735.25)"/>
<path d="M281.30 736.00 L280.54 736.88 L279.76 737.70 L279.02 738.49 L278.36 739.24 L277.83 739.98 L277.44 740.73 L277.22 741.51 L277.16 742.32 L277.22 743.20 L277.38 744.14 L277.58 745.14 L277.78 746.18 L277.93 747.26 L277.96 748.34 L277.85 749.39 L277.56 750.38 L277.07 751.29 L276.38 752.07 L275.51 752.72 L274.47 753.22 L273.31 753.58 L272.06 753.81 L270.76 753.93 L269.47 753.97 L268.21 753.98 L267.02 753.98 L265.92 754.03 L264.90 754.16 L263.98 754.39 L263.12 754.75 L262.32 755.24 L261.54 755.84 L260.75 756.54 L259.94 757.30 L259.07 758.09 L258.14 758.84 L257.14 759.53 L256.08 760.09 L254.95 760.49 L253.80 760.71 L252.63 760.72 L251.48 760.53 L250.37 760.14 L249.32 759.58 L248.34 758.89 L247.43 758.12 L246.59 757.30 L245.81 756.49 L245.07 755.72 L244.33 755.05 L243.57 754.48 L242.77 754.04 L241.89 753.73 L240.92 753.52 L239.85 753.40 L238.69 753.33 L237.46 753.27 L236.18 753.19 L234.89 753.05 L233.63 752.81 L232.45 752.44 L231.40 751.94 L230.50 751.31 L229.79 750.54 L229.28 749.65 L228.98 748.67 L228.87 747.63 L228.93 746.56 L229.11 745.49 L229.36 744.44 L229.64 743.43 L229.88 742.48 L230.04 741.58 L230.08 740.75 L229.97 739.95 L229.69 739.18 L229.26 738.42 L228.69 737.65 L228.02 736.84 L227.30 736.00 L226.59 735.11 L225.93 734.17 L225.39 733.20 L225.02 732.20 L224.86 731.20 L224.94 730.23 L225.25 729.29 L225.80 728.42 L226.56 727.62 L227.49 726.92 L228.54 726.30 L229.67 725.75 L230.81 725.27 L231.92 724.83 L232.95 724.39 L233.87 723.93 L234.66 723.43 L235.32 722.85 L235.85 722.18 L236.29 721.41 L236.65 720.54 L236.99 719.59 L237.33 718.59 L237.73 717.57 L238.21 716.56 L238.81 715.61 L239.53 714.77 L240.39 714.07 L241.37 713.53 L242.46 713.18 L243.63 713.02 L244.85 713.04 L246.09 713.23 L247.33 713.55 L248.54 713.95 L249.69 714.40 L250.79 714.84 L251.84 715.23 L252.83 715.53 L253.80 715.71 L254.75 715.76 L255.72 715.67 L256.72 715.45 L257.77 715.14 L258.87 714.76 L260.03 714.36 L261.25 713.99 L262.50 713.69 L263.76 713.51 L265.00 713.47 L266.18 713.62 L267.28 713.95 L268.27 714.46 L269.13 715.15 L269.85 715.98 L270.43 716.92 L270.89 717.93 L271.25 718.97 L271.55 720.00 L271.82 720.99 L272.11 721.90 L272.46 722.72 L272.91 723.45 L273.48 724.09 L274.18 724.65 L275.03 725.16 L275.99 725.64 L277.04 726.13 L278.15 726.65 L279.25 727.21 L280.30 727.85 L281.24 728.57 L282.01 729.37 L282.59 730.24 L282.93 731.17 L283.03 732.14 L282.89 733.13 L282.53 734.12 L281.98 735.08 Z" fill="#b4b4b4" stroke="#000" stroke-width="2.31" stroke-linejoin="round"/>
<ellipse cx="255.30" cy="735.25" rx="16.12" ry="14.62" fill="#b4b4b4" stroke="#000" stroke-width="1.44" transform="rotate(-14 255.30 735.25)"/>
<path d="M348.52 738.00 L349.05 738.83 L349.65 739.71 L350.27 740.63 L350.85 741.60 L351.34 742.60 L351.68 743.62 L351.83 744.64 L351.77 745.63 L351.46 746.57 L350.93 747.43 L350.18 748.21 L349.25 748.89 L348.18 749.47 L347.02 749.96 L345.82 750.37 L344.64 750.74 L343.52 751.08 L342.49 751.44 L341.58 751.85 L340.79 752.33 L340.12 752.90 L339.56 753.57 L339.07 754.35 L338.62 755.23 L338.17 756.17 L337.69 757.16 L337.13 758.14 L336.48 759.07 L335.72 759.91 L334.85 760.62 L333.86 761.17 L332.78 761.53 L331.62 761.70 L330.42 761.67 L329.20 761.46 L327.99 761.10 L326.82 760.64 L325.69 760.11 L324.62 759.57 L323.60 759.07 L322.63 758.63 L321.68 758.31 L320.74 758.11 L319.79 758.05 L318.80 758.13 L317.75 758.31 L316.64 758.57 L315.46 758.87 L314.23 759.16 L312.96 759.40 L311.68 759.54 L310.42 759.55 L309.22 759.40 L308.10 759.07 L307.11 758.57 L306.25 757.90 L305.56 757.07 L305.01 756.14 L304.61 755.12 L304.33 754.06 L304.13 753.00 L303.97 751.97 L303.81 751.00 L303.60 750.11 L303.30 749.30 L302.88 748.58 L302.32 747.93 L301.61 747.34 L300.77 746.77 L299.82 746.21 L298.80 745.62 L297.76 745.00 L296.75 744.31 L295.84 743.55 L295.06 742.73 L294.48 741.84 L294.13 740.91 L294.02 739.94 L294.15 738.96 L294.52 738.00 L295.09 737.07 L295.81 736.18 L296.64 735.34 L297.52 734.56 L298.38 733.82 L299.17 733.11 L299.86 732.42 L300.41 731.72 L300.80 730.99 L301.04 730.21 L301.14 729.37 L301.13 728.46 L301.06 727.48 L300.97 726.45 L300.92 725.37 L300.95 724.29 L301.11 723.22 L301.43 722.22 L301.92 721.30 L302.61 720.51 L303.47 719.85 L304.49 719.35 L305.64 719.01 L306.88 718.82 L308.17 718.76 L309.47 718.79 L310.75 718.87 L311.97 718.97 L313.11 719.05 L314.18 719.05 L315.17 718.95 L316.09 718.74 L316.96 718.39 L317.81 717.91 L318.66 717.32 L319.54 716.66 L320.47 715.95 L321.45 715.25 L322.50 714.61 L323.60 714.07 L324.75 713.67 L325.92 713.45 L327.09 713.42 L328.24 713.61 L329.33 713.99 L330.36 714.55 L331.30 715.26 L332.15 716.07 L332.92 716.94 L333.63 717.82 L334.29 718.68 L334.94 719.46 L335.60 720.14 L336.32 720.71 L337.11 721.15 L337.99 721.49 L338.99 721.73 L340.08 721.92 L341.27 722.07 L342.51 722.24 L343.78 722.45 L345.04 722.74 L346.22 723.14 L347.29 723.66 L348.20 724.30 L348.92 725.07 L349.43 725.94 L349.73 726.91 L349.81 727.93 L349.71 728.99 L349.46 730.05 L349.12 731.09 L348.72 732.10 L348.34 733.05 L348.03 733.95 L347.82 734.80 L347.76 735.62 L347.85 736.41 L348.11 737.20 Z" fill="#b4b4b4" stroke="#000" stroke-width="2.31" stroke-linejoin="round"/>
<ellipse cx="325.10" cy="737.25" rx="16.12" ry="14.62" fill="#b4b4b4" stroke="#000" stroke-width="1.44" transform="rotate(-14 325.10 737.25)"/>
<path d="M97.45 789.00 L97.03 789.80 L96.76 790.59 L96.65 791.38 L96.70 792.19 L96.90 793.04 L97.21 793.94 L97.58 794.90 L97.97 795.90 L98.32 796.94 L98.57 798.00 L98.68 799.06 L98.61 800.08 L98.32 801.05 L97.82 801.93 L97.11 802.70 L96.21 803.35 L95.15 803.88 L93.97 804.28 L92.72 804.57 L91.45 804.79 L90.20 804.95 L89.01 805.11 L87.90 805.28 L86.90 805.52 L86.01 805.85 L85.21 806.29 L84.49 806.85 L83.82 807.52 L83.17 808.30 L82.51 809.14 L81.81 810.02 L81.04 810.90 L80.19 811.71 L79.25 812.42 L78.23 812.99 L77.13 813.38 L75.99 813.58 L74.82 813.56 L73.65 813.35 L72.50 812.96 L71.40 812.43 L70.35 811.78 L69.36 811.08 L68.44 810.38 L67.56 809.70 L66.71 809.11 L65.86 808.62 L64.99 808.27 L64.07 808.04 L63.09 807.93 L62.03 807.93 L60.88 808.00 L59.67 808.10 L58.39 808.18 L57.09 808.21 L55.80 808.15 L54.56 807.97 L53.40 807.63 L52.38 807.14 L51.50 806.50 L50.81 805.71 L50.31 804.80 L49.98 803.79 L49.82 802.73 L49.78 801.65 L49.84 800.57 L49.93 799.54 L50.00 798.55 L50.02 797.64 L49.93 796.79 L49.70 796.01 L49.32 795.28 L48.78 794.57 L48.11 793.88 L47.32 793.17 L46.46 792.44 L45.59 791.65 L44.76 790.82 L44.03 789.93 L43.45 789.00 L43.07 788.04 L42.93 787.06 L43.02 786.09 L43.37 785.15 L43.94 784.27 L44.70 783.44 L45.61 782.68 L46.62 781.99 L47.66 781.36 L48.68 780.78 L49.64 780.22 L50.49 779.66 L51.21 779.06 L51.78 778.42 L52.21 777.70 L52.52 776.90 L52.74 776.02 L52.90 775.05 L53.06 774.03 L53.26 772.97 L53.54 771.91 L53.94 770.89 L54.47 769.94 L55.16 769.12 L56.01 768.43 L57.00 767.92 L58.11 767.58 L59.31 767.43 L60.57 767.43 L61.85 767.57 L63.12 767.80 L64.35 768.10 L65.53 768.40 L66.64 768.67 L67.69 768.86 L68.69 768.94 L69.64 768.89 L70.58 768.70 L71.53 768.39 L72.50 767.96 L73.52 767.46 L74.58 766.92 L75.71 766.40 L76.88 765.93 L78.09 765.57 L79.31 765.35 L80.52 765.31 L81.68 765.47 L82.76 765.82 L83.75 766.36 L84.64 767.06 L85.40 767.90 L86.05 768.83 L86.61 769.81 L87.10 770.80 L87.54 771.75 L87.99 772.63 L88.47 773.41 L89.03 774.10 L89.69 774.68 L90.47 775.16 L91.37 775.57 L92.39 775.93 L93.50 776.28 L94.68 776.65 L95.88 777.06 L97.04 777.55 L98.12 778.12 L99.06 778.80 L99.82 779.57 L100.36 780.43 L100.68 781.37 L100.76 782.36 L100.61 783.38 L100.28 784.40 L99.79 785.40 L99.21 786.37 L98.59 787.29 L97.98 788.17 Z" fill="#b4b4b4" stroke="#000" stroke-width="2.31" stroke-linejoin="round"/>
<ellipse cx="74.00" cy="788.25" rx="16.12" ry="14.62" fill="#b4b4b4" stroke="#000" stroke-width="1.44" transform="rotate(-14 74.00 788.25)"/>
<path d="M167.67 789.50 L168.04 790.46 L168.18 791.44 L168.07 792.41 L167.72 793.34 L167.15 794.23 L166.38 795.06 L165.47 795.81 L164.46 796.50 L163.42 797.13 L162.40 797.71 L161.44 798.28 L160.60 798.84 L159.89 799.43 L159.32 800.08 L158.89 800.80 L158.59 801.60 L158.37 802.49 L158.21 803.46 L158.05 804.49 L157.85 805.55 L157.57 806.60 L157.18 807.62 L156.64 808.56 L155.94 809.39 L155.09 810.07 L154.10 810.58 L152.99 810.91 L151.78 811.06 L150.53 811.06 L149.24 810.92 L147.98 810.68 L146.74 810.38 L145.57 810.08 L144.45 809.82 L143.41 809.63 L142.41 809.56 L141.46 809.61 L140.52 809.80 L139.57 810.12 L138.60 810.55 L137.58 811.06 L136.51 811.59 L135.39 812.12 L134.21 812.59 L133.00 812.95 L131.78 813.16 L130.58 813.19 L129.42 813.03 L128.34 812.68 L127.35 812.13 L126.47 811.42 L125.71 810.58 L125.06 809.65 L124.50 808.67 L124.02 807.69 L123.57 806.74 L123.12 805.86 L122.63 805.08 L122.07 804.40 L121.41 803.82 L120.63 803.34 L119.72 802.94 L118.70 802.57 L117.58 802.23 L116.40 801.86 L115.20 801.45 L114.04 800.96 L112.97 800.38 L112.03 799.71 L111.28 798.93 L110.74 798.07 L110.43 797.13 L110.36 796.14 L110.50 795.12 L110.84 794.10 L111.33 793.10 L111.91 792.13 L112.53 791.21 L113.14 790.33 L113.67 789.50 L114.08 788.70 L114.34 787.91 L114.45 787.12 L114.39 786.30 L114.19 785.45 L113.87 784.55 L113.50 783.60 L113.11 782.60 L112.76 781.56 L112.51 780.49 L112.40 779.44 L112.48 778.41 L112.77 777.45 L113.28 776.57 L113.99 775.80 L114.90 775.15 L115.97 774.63 L117.15 774.23 L118.40 773.94 L119.67 773.73 L120.92 773.56 L122.11 773.41 L123.20 773.23 L124.20 772.98 L125.09 772.65 L125.88 772.21 L126.60 771.65 L127.27 770.97 L127.92 770.19 L128.58 769.34 L129.29 768.46 L130.06 767.59 L130.91 766.77 L131.85 766.06 L132.87 765.50 L133.96 765.11 L135.11 764.92 L136.28 764.94 L137.45 765.16 L138.60 765.55 L139.70 766.09 L140.75 766.73 L141.73 767.43 L142.66 768.14 L143.54 768.81 L144.39 769.40 L145.24 769.88 L146.11 770.24 L147.03 770.46 L148.02 770.56 L149.08 770.56 L150.22 770.49 L151.44 770.39 L152.72 770.30 L154.02 770.27 L155.31 770.34 L156.55 770.52 L157.70 770.86 L158.73 771.36 L159.59 772.00 L160.28 772.80 L160.78 773.71 L161.10 774.72 L161.27 775.78 L161.30 776.86 L161.25 777.94 L161.16 778.97 L161.08 779.95 L161.07 780.87 L161.17 781.71 L161.40 782.49 L161.79 783.22 L162.33 783.92 L163.01 784.62 L163.80 785.32 L164.66 786.06 L165.54 786.84 L166.37 787.68 L167.09 788.57 Z" fill="#b4b4b4" stroke="#000" stroke-width="2.31" stroke-linejoin="round"/>
<ellipse cx="140.10" cy="788.75" rx="16.12" ry="14.62" fill="#b4b4b4" stroke="#000" stroke-width="1.44" transform="rotate(-14 140.10 788.75)"/>
<path d="M233.64 790.00 L234.30 790.86 L234.97 791.77 L235.59 792.72 L236.11 793.71 L236.46 794.72 L236.62 795.73 L236.54 796.71 L236.23 797.64 L235.69 798.51 L234.93 799.30 L234.00 799.99 L232.93 800.59 L231.79 801.10 L230.61 801.55 L229.47 801.95 L228.39 802.35 L227.42 802.76 L226.57 803.21 L225.84 803.75 L225.25 804.37 L224.75 805.10 L224.32 805.92 L223.93 806.84 L223.53 807.81 L223.09 808.82 L222.57 809.81 L221.95 810.76 L221.21 811.60 L220.34 812.31 L219.36 812.85 L218.27 813.20 L217.11 813.36 L215.89 813.33 L214.66 813.13 L213.44 812.79 L212.25 812.35 L211.11 811.86 L210.02 811.37 L208.99 810.92 L208.00 810.56 L207.04 810.31 L206.09 810.19 L205.13 810.21 L204.13 810.35 L203.08 810.60 L201.97 810.93 L200.80 811.28 L199.57 811.61 L198.31 811.88 L197.04 812.04 L195.79 812.06 L194.60 811.92 L193.49 811.59 L192.50 811.07 L191.65 810.39 L190.94 809.56 L190.38 808.62 L189.96 807.60 L189.64 806.55 L189.39 805.51 L189.18 804.50 L188.95 803.56 L188.67 802.70 L188.29 801.93 L187.79 801.25 L187.15 800.65 L186.37 800.09 L185.47 799.57 L184.46 799.04 L183.39 798.49 L182.32 797.90 L181.29 797.23 L180.36 796.50 L179.59 795.68 L179.02 794.80 L178.67 793.87 L178.57 792.90 L178.71 791.92 L179.08 790.95 L179.64 790.00 L180.34 789.09 L181.14 788.24 L181.97 787.43 L182.77 786.67 L183.50 785.94 L184.11 785.22 L184.57 784.49 L184.88 783.74 L185.03 782.94 L185.04 782.08 L184.96 781.15 L184.82 780.16 L184.67 779.11 L184.57 778.04 L184.57 776.95 L184.70 775.90 L185.01 774.90 L185.50 773.99 L186.19 773.20 L187.06 772.55 L188.09 772.05 L189.25 771.71 L190.50 771.50 L191.79 771.41 L193.09 771.40 L194.36 771.45 L195.56 771.49 L196.69 771.50 L197.73 771.44 L198.69 771.27 L199.58 770.98 L200.42 770.56 L201.24 770.02 L202.06 769.37 L202.90 768.65 L203.80 767.91 L204.76 767.18 L205.78 766.51 L206.87 765.96 L208.00 765.56 L209.16 765.34 L210.33 765.33 L211.48 765.52 L212.58 765.91 L213.62 766.47 L214.58 767.17 L215.46 767.97 L216.26 768.81 L217.00 769.66 L217.71 770.47 L218.40 771.20 L219.12 771.82 L219.88 772.32 L220.72 772.70 L221.65 772.97 L222.68 773.16 L223.82 773.28 L225.03 773.39 L226.29 773.51 L227.58 773.69 L228.83 773.95 L230.01 774.33 L231.07 774.84 L231.98 775.48 L232.69 776.25 L233.20 777.13 L233.49 778.10 L233.58 779.14 L233.50 780.20 L233.28 781.27 L232.98 782.32 L232.65 783.33 L232.34 784.28 L232.10 785.18 L231.98 786.03 L232.01 786.83 L232.19 787.61 L232.54 788.39 L233.04 789.18 Z" fill="#cf0418" stroke="#000" stroke-width="1.94" stroke-linejoin="round"/>
<ellipse cx="209.50" cy="789.25" rx="16.12" ry="14.62" fill="#cf0418" stroke="#000" stroke-width="1.44" transform="rotate(-14 209.50 789.25)"/>
<path d="M301.68 791.00 L301.07 791.82 L300.57 792.61 L300.20 793.39 L300.00 794.17 L299.96 794.97 L300.07 795.82 L300.30 796.71 L300.61 797.66 L300.94 798.67 L301.24 799.71 L301.46 800.78 L301.55 801.85 L301.47 802.88 L301.18 803.86 L300.69 804.75 L299.99 805.52 L299.09 806.17 L298.04 806.68 L296.86 807.07 L295.61 807.34 L294.32 807.52 L293.06 807.64 L291.84 807.74 L290.70 807.86 L289.66 808.04 L288.72 808.30 L287.88 808.67 L287.11 809.17 L286.39 809.78 L285.69 810.50 L284.99 811.31 L284.25 812.15 L283.44 813.00 L282.57 813.80 L281.61 814.50 L280.58 815.07 L279.48 815.47 L278.33 815.67 L277.16 815.67 L276.00 815.46 L274.87 815.07 L273.78 814.52 L272.75 813.86 L271.79 813.13 L270.90 812.38 L270.05 811.66 L269.23 811.01 L268.41 810.45 L267.58 810.02 L266.69 809.72 L265.74 809.55 L264.70 809.48 L263.58 809.48 L262.38 809.52 L261.11 809.56 L259.82 809.56 L258.52 809.47 L257.27 809.27 L256.11 808.93 L255.07 808.44 L254.19 807.80 L253.49 807.02 L252.99 806.12 L252.68 805.12 L252.53 804.07 L252.53 802.98 L252.63 801.91 L252.78 800.86 L252.93 799.86 L253.02 798.93 L253.01 798.07 L252.87 797.26 L252.58 796.50 L252.13 795.78 L251.53 795.06 L250.81 794.32 L250.01 793.56 L249.18 792.76 L248.39 791.90 L247.68 791.00 L247.11 790.05 L246.73 789.08 L246.58 788.10 L246.67 787.13 L247.00 786.19 L247.57 785.31 L248.33 784.50 L249.25 783.76 L250.28 783.09 L251.35 782.49 L252.42 781.94 L253.44 781.42 L254.35 780.90 L255.14 780.35 L255.79 779.75 L256.30 779.07 L256.68 778.31 L256.97 777.46 L257.21 776.52 L257.42 775.52 L257.67 774.47 L257.99 773.42 L258.41 772.40 L258.96 771.46 L259.66 770.62 L260.51 769.93 L261.49 769.41 L262.59 769.07 L263.78 768.92 L265.03 768.93 L266.30 769.09 L267.56 769.35 L268.79 769.69 L269.96 770.04 L271.08 770.37 L272.13 770.63 L273.13 770.78 L274.09 770.81 L275.04 770.70 L276.00 770.46 L276.99 770.10 L278.02 769.66 L279.10 769.17 L280.24 768.69 L281.43 768.25 L282.65 767.90 L283.89 767.70 L285.10 767.66 L286.27 767.81 L287.36 768.15 L288.35 768.68 L289.22 769.38 L289.97 770.22 L290.59 771.15 L291.12 772.15 L291.56 773.16 L291.95 774.14 L292.34 775.05 L292.76 775.89 L293.25 776.62 L293.84 777.25 L294.56 777.79 L295.40 778.26 L296.36 778.67 L297.43 779.07 L298.58 779.47 L299.75 779.92 L300.89 780.43 L301.96 781.03 L302.91 781.71 L303.67 782.49 L304.23 783.36 L304.55 784.29 L304.64 785.27 L304.49 786.28 L304.14 787.29 L303.64 788.27 L303.02 789.23 L302.34 790.14 Z" fill="#b4b4b4" stroke="#000" stroke-width="2.31" stroke-linejoin="round"/>
<ellipse cx="277.50" cy="790.25" rx="16.12" ry="14.62" fill="#b4b4b4" stroke="#000" stroke-width="1.44" transform="rotate(-14 277.50 790.25)"/>
<path d="M375.89 792.00 L375.33 792.93 L374.61 793.82 L373.78 794.66 L372.91 795.45 L372.04 796.18 L371.24 796.89 L370.55 797.58 L370.00 798.28 L369.60 799.01 L369.35 799.79 L369.25 800.62 L369.25 801.53 L369.32 802.51 L369.41 803.54 L369.46 804.62 L369.43 805.70 L369.28 806.77 L368.96 807.77 L368.47 808.69 L367.79 809.49 L366.93 810.15 L365.92 810.65 L364.77 811.00 L363.53 811.19 L362.24 811.26 L360.94 811.23 L359.66 811.14 L358.44 811.04 L357.29 810.97 L356.22 810.96 L355.23 811.05 L354.31 811.26 L353.44 811.61 L352.58 812.08 L351.73 812.66 L350.85 813.32 L349.93 814.03 L348.95 814.73 L347.90 815.38 L346.80 815.92 L345.65 816.32 L344.48 816.55 L343.31 816.57 L342.16 816.40 L341.07 816.02 L340.04 815.46 L339.10 814.76 L338.24 813.95 L337.47 813.08 L336.76 812.19 L336.10 811.34 L335.46 810.55 L334.79 809.87 L334.08 809.30 L333.29 808.85 L332.41 808.51 L331.42 808.26 L330.33 808.07 L329.15 807.91 L327.90 807.75 L326.63 807.54 L325.38 807.24 L324.19 806.85 L323.12 806.34 L322.20 805.70 L321.48 804.93 L320.96 804.06 L320.66 803.10 L320.57 802.08 L320.67 801.02 L320.92 799.96 L321.26 798.91 L321.66 797.91 L322.04 796.95 L322.36 796.05 L322.57 795.20 L322.64 794.38 L322.55 793.59 L322.30 792.80 L321.89 792.00 L321.37 791.17 L320.78 790.29 L320.16 789.37 L319.57 788.41 L319.08 787.41 L318.73 786.38 L318.58 785.37 L318.64 784.38 L318.94 783.43 L319.47 782.56 L320.21 781.78 L321.14 781.10 L322.21 780.52 L323.36 780.03 L324.56 779.62 L325.74 779.25 L326.87 778.91 L327.90 778.55 L328.82 778.15 L329.61 777.67 L330.28 777.11 L330.85 776.43 L331.34 775.66 L331.79 774.78 L332.24 773.84 L332.73 772.86 L333.28 771.88 L333.93 770.95 L334.68 770.10 L335.56 769.38 L336.54 768.83 L337.62 768.46 L338.78 768.30 L339.98 768.32 L341.20 768.53 L342.41 768.88 L343.58 769.34 L344.71 769.87 L345.78 770.41 L346.80 770.92 L347.77 771.36 L348.72 771.69 L349.66 771.89 L350.61 771.95 L351.60 771.88 L352.65 771.70 L353.76 771.45 L354.93 771.15 L356.16 770.86 L357.43 770.62 L358.71 770.47 L359.97 770.46 L361.18 770.61 L362.30 770.93 L363.29 771.43 L364.15 772.10 L364.85 772.92 L365.40 773.85 L365.80 774.87 L366.09 775.93 L366.29 776.99 L366.44 778.02 L366.60 778.99 L366.81 779.89 L367.10 780.69 L367.52 781.42 L368.08 782.07 L368.78 782.67 L369.61 783.24 L370.56 783.80 L371.58 784.38 L372.62 785.01 L373.63 785.69 L374.55 786.45 L375.32 787.27 L375.91 788.16 L376.27 789.09 L376.38 790.06 L376.26 791.04 Z" fill="#b4b4b4" stroke="#000" stroke-width="2.31" stroke-linejoin="round"/>
<ellipse cx="348.30" cy="791.25" rx="16.12" ry="14.62" fill="#b4b4b4" stroke="#000" stroke-width="1.44" transform="rotate(-14 348.30 791.25)"/>
<rect x="782.70" y="708.00" width="45.80" height="116.00" fill="#e2e2e2"/>
<rect x="828.50" y="741.60" width="93.90" height="45.60" fill="#e2e2e2"/>
<rect x="613.60" y="741.60" width="169.10" height="45.60" fill="#a6f0c6"/>
<rect x="692.80" y="708.00" width="45.60" height="116.00" fill="#a6f0c6"/>
<circle cx="783.2" cy="764.0" r="22.4" fill="#a6f0c6" stroke="#3a7a55" stroke-width="0.9" stroke-dasharray="2.2 1.6"/>
<path d="M613.6 741.6 H692.8 V708.0 M738.4 708.0 V741.6 H782.7 V708.0 M828.5 708.0 V741.6 H922.4 M613.6 787.2 H692.8 V824.0 M738.4 824.0 V787.2 H782.7 V824.0 M828.5 824.0 V787.2 H922.4" fill="none" stroke="#000" stroke-width="2.6"/>
<circle cx="626.40" cy="763.4" r="7.5" fill="#8c0d2e" stroke="#5a0618" stroke-width="1.0"/>
<circle cx="646.70" cy="763.4" r="7.5" fill="#f5a76c" stroke="#8a6a3a" stroke-width="1.0"/>
<circle cx="666.90" cy="763.4" r="7.5" fill="#0b2fe0" stroke="#0a1a90" stroke-width="1.0"/>
<circle cx="687.20" cy="763.4" r="7.5" fill="#d0141c" stroke="#7a0a10" stroke-width="1.0"/>
<circle cx="707.20" cy="763.4" r="7.5" fill="#167a1c" stroke="#0c4a10" stroke-width="1.0"/>
<circle cx="727.70" cy="763.4" r="7.5" fill="#f7e81c" stroke="#9a9a10" stroke-width="1.0"/>
<circle cx="747.50" cy="763.4" r="7.5" fill="#aef5f5" stroke="#2a6a6a" stroke-width="1.0"/>
<circle cx="769.30" cy="763.4" r="7.5" fill="#3b8be3" stroke="#1a4a90" stroke-width="1.0"/>
<circle cx="830.40" cy="763.2" r="16.6" fill="#a6f0c6" stroke="#2e6e48" stroke-width="0.9"/>
<circle cx="868.30" cy="763.2" r="16.6" fill="#a6f0c6" stroke="#2e6e48" stroke-width="0.9"/>
<circle cx="904.80" cy="763.2" r="16.6" fill="#a6f0c6" stroke="#2e6e48" stroke-width="0.9"/>
<circle cx="825.6" cy="756.0" r="7.2" fill="#f57f12" stroke="#444" stroke-width="0.6"/>
<circle cx="867.5" cy="770.6" r="7.2" fill="#fbf01a" stroke="#444" stroke-width="0.6"/>
<circle cx="907.5" cy="756.0" r="7.0" fill="#3412e0" stroke="#444" stroke-width="0.6"/>
<path d="M795.78 773.60 L796.02 773.86 L796.27 774.14 L796.51 774.44 L796.71 774.75 L796.85 775.07 L796.92 775.38 L796.91 775.69 L796.82 775.99 L796.64 776.25 L796.38 776.49 L796.06 776.70 L795.70 776.87 L795.31 777.01 L794.91 777.13 L794.52 777.23 L794.16 777.33 L793.84 777.44 L793.57 777.57 L793.35 777.72 L793.18 777.91 L793.04 778.14 L792.93 778.41 L792.84 778.71 L792.74 779.04 L792.63 779.38 L792.50 779.72 L792.32 780.03 L792.11 780.32 L791.85 780.56 L791.55 780.73 L791.21 780.84 L790.84 780.88 L790.46 780.86 L790.07 780.77 L789.68 780.63 L789.30 780.46 L788.95 780.28 L788.61 780.09 L788.30 779.92 L788.00 779.79 L787.71 779.69 L787.43 779.65 L787.14 779.67 L786.84 779.73 L786.51 779.83 L786.17 779.96 L785.80 780.10 L785.41 780.24 L785.01 780.36 L784.60 780.44 L784.20 780.47 L783.82 780.44 L783.47 780.34 L783.16 780.18 L782.90 779.96 L782.70 779.68 L782.54 779.37 L782.44 779.03 L782.37 778.68 L782.32 778.33 L782.29 778.00 L782.25 777.69 L782.19 777.42 L782.09 777.18 L781.94 776.97 L781.74 776.80 L781.49 776.64 L781.18 776.49 L780.84 776.35 L780.48 776.20 L780.10 776.03 L779.75 775.83 L779.42 775.62 L779.16 775.37 L778.96 775.10 L778.84 774.81 L778.81 774.51 L778.87 774.20 L779.01 773.89 L779.22 773.60 L779.48 773.32 L779.77 773.06 L780.06 772.82 L780.35 772.59 L780.61 772.37 L780.82 772.16 L780.97 771.95 L781.07 771.72 L781.10 771.48 L781.08 771.21 L781.02 770.92 L780.94 770.60 L780.86 770.27 L780.79 769.92 L780.75 769.57 L780.77 769.22 L780.84 768.90 L780.98 768.60 L781.19 768.35 L781.47 768.15 L781.80 768.01 L782.18 767.92 L782.58 767.88 L783.01 767.87 L783.43 767.90 L783.84 767.95 L784.23 767.99 L784.59 768.02 L784.91 768.02 L785.21 767.98 L785.47 767.90 L785.72 767.76 L785.96 767.57 L786.20 767.35 L786.45 767.10 L786.71 766.83 L787.00 766.57 L787.31 766.33 L787.65 766.13 L788.00 765.99 L788.36 765.90 L788.73 765.90 L789.08 765.96 L789.43 766.10 L789.74 766.29 L790.03 766.54 L790.29 766.82 L790.53 767.12 L790.74 767.41 L790.94 767.69 L791.13 767.93 L791.34 768.14 L791.56 768.30 L791.82 768.41 L792.10 768.48 L792.43 768.52 L792.79 768.53 L793.19 768.54 L793.61 768.54 L794.03 768.57 L794.45 768.63 L794.84 768.73 L795.19 768.88 L795.48 769.07 L795.71 769.31 L795.86 769.59 L795.94 769.90 L795.94 770.23 L795.88 770.57 L795.77 770.92 L795.64 771.25 L795.50 771.57 L795.36 771.87 L795.26 772.15 L795.20 772.41 L795.20 772.65 L795.26 772.88 L795.38 773.12 L795.56 773.35 Z" fill="#b4b4b4" stroke="#111" stroke-width="1.4"/>
<ellipse cx="788.30" cy="773.60" rx="4.95" ry="4.49" fill="#c4c4c4" stroke="#555" stroke-width="0.6"/>
<path d="M722.18 795.20 L722.42 795.46 L722.67 795.74 L722.91 796.04 L723.11 796.35 L723.25 796.67 L723.32 796.98 L723.31 797.29 L723.22 797.59 L723.04 797.85 L722.78 798.09 L722.46 798.30 L722.10 798.47 L721.71 798.61 L721.31 798.73 L720.92 798.83 L720.56 798.93 L720.24 799.04 L719.97 799.17 L719.75 799.32 L719.58 799.51 L719.44 799.74 L719.33 800.01 L719.24 800.31 L719.14 800.64 L719.03 800.98 L718.90 801.32 L718.72 801.63 L718.51 801.92 L718.25 802.16 L717.95 802.33 L717.61 802.44 L717.24 802.48 L716.86 802.46 L716.47 802.37 L716.08 802.23 L715.70 802.06 L715.35 801.88 L715.01 801.69 L714.70 801.52 L714.40 801.39 L714.11 801.29 L713.83 801.25 L713.54 801.27 L713.24 801.33 L712.91 801.43 L712.57 801.56 L712.20 801.70 L711.81 801.84 L711.41 801.96 L711.00 802.04 L710.60 802.07 L710.22 802.04 L709.87 801.94 L709.56 801.78 L709.30 801.56 L709.10 801.28 L708.94 800.97 L708.84 800.63 L708.77 800.28 L708.72 799.93 L708.69 799.60 L708.65 799.29 L708.59 799.02 L708.49 798.78 L708.34 798.57 L708.14 798.40 L707.89 798.24 L707.58 798.09 L707.24 797.95 L706.88 797.80 L706.50 797.63 L706.15 797.43 L705.82 797.22 L705.56 796.97 L705.36 796.70 L705.24 796.41 L705.21 796.11 L705.27 795.80 L705.41 795.49 L705.62 795.20 L705.88 794.92 L706.17 794.66 L706.46 794.42 L706.75 794.19 L707.01 793.97 L707.22 793.76 L707.37 793.55 L707.47 793.32 L707.50 793.08 L707.48 792.81 L707.42 792.52 L707.34 792.20 L707.26 791.87 L707.19 791.52 L707.15 791.17 L707.17 790.82 L707.24 790.50 L707.38 790.20 L707.59 789.95 L707.87 789.75 L708.20 789.61 L708.58 789.52 L708.98 789.48 L709.41 789.47 L709.83 789.50 L710.24 789.55 L710.63 789.59 L710.99 789.62 L711.31 789.62 L711.61 789.58 L711.87 789.50 L712.12 789.36 L712.36 789.17 L712.60 788.95 L712.85 788.70 L713.11 788.43 L713.40 788.17 L713.71 787.93 L714.05 787.73 L714.40 787.59 L714.76 787.50 L715.13 787.50 L715.48 787.56 L715.83 787.70 L716.14 787.89 L716.43 788.14 L716.69 788.42 L716.93 788.72 L717.14 789.01 L717.34 789.29 L717.53 789.53 L717.74 789.74 L717.96 789.90 L718.22 790.01 L718.50 790.08 L718.83 790.12 L719.19 790.13 L719.59 790.14 L720.01 790.14 L720.43 790.17 L720.85 790.23 L721.24 790.33 L721.59 790.48 L721.88 790.67 L722.11 790.91 L722.26 791.19 L722.34 791.50 L722.34 791.83 L722.28 792.17 L722.17 792.52 L722.04 792.85 L721.90 793.17 L721.76 793.47 L721.66 793.75 L721.60 794.01 L721.60 794.25 L721.66 794.48 L721.78 794.72 L721.96 794.95 Z" fill="#b4b4b4" stroke="#111" stroke-width="1.4"/>
<ellipse cx="714.70" cy="795.20" rx="4.95" ry="4.49" fill="#c4c4c4" stroke="#555" stroke-width="0.6"/>
<path d="M721.38 816.00 L721.62 816.26 L721.87 816.54 L722.11 816.84 L722.31 817.15 L722.45 817.47 L722.52 817.78 L722.51 818.09 L722.42 818.39 L722.24 818.65 L721.98 818.89 L721.66 819.10 L721.30 819.27 L720.91 819.41 L720.51 819.53 L720.12 819.63 L719.76 819.73 L719.44 819.84 L719.17 819.97 L718.95 820.12 L718.78 820.31 L718.64 820.54 L718.53 820.81 L718.44 821.11 L718.34 821.44 L718.23 821.78 L718.10 822.12 L717.92 822.43 L717.71 822.72 L717.45 822.96 L717.15 823.13 L716.81 823.24 L716.44 823.28 L716.06 823.26 L715.67 823.17 L715.28 823.03 L714.90 822.86 L714.55 822.68 L714.21 822.49 L713.90 822.32 L713.60 822.19 L713.31 822.09 L713.03 822.05 L712.74 822.07 L712.44 822.13 L712.11 822.23 L711.77 822.36 L711.40 822.50 L711.01 822.64 L710.61 822.76 L710.20 822.84 L709.80 822.87 L709.42 822.84 L709.07 822.74 L708.76 822.58 L708.50 822.36 L708.30 822.08 L708.14 821.77 L708.04 821.43 L707.97 821.08 L707.92 820.73 L707.89 820.40 L707.85 820.09 L707.79 819.82 L707.69 819.58 L707.54 819.37 L707.34 819.20 L707.09 819.04 L706.78 818.89 L706.44 818.75 L706.08 818.60 L705.70 818.43 L705.35 818.23 L705.02 818.02 L704.76 817.77 L704.56 817.50 L704.44 817.21 L704.41 816.91 L704.47 816.60 L704.61 816.29 L704.82 816.00 L705.08 815.72 L705.37 815.46 L705.66 815.22 L705.95 814.99 L706.21 814.77 L706.42 814.56 L706.57 814.35 L706.67 814.12 L706.70 813.88 L706.68 813.61 L706.62 813.32 L706.54 813.00 L706.46 812.67 L706.39 812.32 L706.35 811.97 L706.37 811.62 L706.44 811.30 L706.58 811.00 L706.79 810.75 L707.07 810.55 L707.40 810.41 L707.78 810.32 L708.18 810.28 L708.61 810.27 L709.03 810.30 L709.44 810.35 L709.83 810.39 L710.19 810.42 L710.51 810.42 L710.81 810.38 L711.07 810.30 L711.32 810.16 L711.56 809.97 L711.80 809.75 L712.05 809.50 L712.31 809.23 L712.60 808.97 L712.91 808.73 L713.25 808.53 L713.60 808.39 L713.96 808.30 L714.33 808.30 L714.68 808.36 L715.03 808.50 L715.34 808.69 L715.63 808.94 L715.89 809.22 L716.13 809.52 L716.34 809.81 L716.54 810.09 L716.73 810.33 L716.94 810.54 L717.16 810.70 L717.42 810.81 L717.70 810.88 L718.03 810.92 L718.39 810.93 L718.79 810.94 L719.21 810.94 L719.63 810.97 L720.05 811.03 L720.44 811.13 L720.79 811.28 L721.08 811.47 L721.31 811.71 L721.46 811.99 L721.54 812.30 L721.54 812.63 L721.48 812.97 L721.37 813.32 L721.24 813.65 L721.10 813.97 L720.96 814.27 L720.86 814.55 L720.80 814.81 L720.80 815.05 L720.86 815.28 L720.98 815.52 L721.16 815.75 Z" fill="#b4b4b4" stroke="#111" stroke-width="1.4"/>
<ellipse cx="713.90" cy="816.00" rx="4.95" ry="4.49" fill="#c4c4c4" stroke="#555" stroke-width="0.6"/>
<path d="M838.98 772.00 L839.22 772.26 L839.47 772.54 L839.71 772.84 L839.91 773.15 L840.05 773.47 L840.12 773.78 L840.11 774.09 L840.02 774.39 L839.84 774.65 L839.58 774.89 L839.26 775.10 L838.90 775.27 L838.51 775.41 L838.11 775.53 L837.72 775.63 L837.36 775.73 L837.04 775.84 L836.77 775.97 L836.55 776.12 L836.38 776.31 L836.24 776.54 L836.13 776.81 L836.04 777.11 L835.94 777.44 L835.83 777.78 L835.70 778.12 L835.52 778.43 L835.31 778.72 L835.05 778.96 L834.75 779.13 L834.41 779.24 L834.04 779.28 L833.66 779.26 L833.27 779.17 L832.88 779.03 L832.50 778.86 L832.15 778.68 L831.81 778.49 L831.50 778.32 L831.20 778.19 L830.91 778.09 L830.63 778.05 L830.34 778.07 L830.04 778.13 L829.71 778.23 L829.37 778.36 L829.00 778.50 L828.61 778.64 L828.21 778.76 L827.80 778.84 L827.40 778.87 L827.02 778.84 L826.67 778.74 L826.36 778.58 L826.10 778.36 L825.90 778.08 L825.74 777.77 L825.64 777.43 L825.57 777.08 L825.52 776.73 L825.49 776.40 L825.45 776.09 L825.39 775.82 L825.29 775.58 L825.14 775.37 L824.94 775.20 L824.69 775.04 L824.38 774.89 L824.04 774.75 L823.68 774.60 L823.30 774.43 L822.95 774.23 L822.62 774.02 L822.36 773.77 L822.16 773.50 L822.04 773.21 L822.01 772.91 L822.07 772.60 L822.21 772.29 L822.42 772.00 L822.68 771.72 L822.97 771.46 L823.26 771.22 L823.55 770.99 L823.81 770.77 L824.02 770.56 L824.17 770.35 L824.27 770.12 L824.30 769.88 L824.28 769.61 L824.22 769.32 L824.14 769.00 L824.06 768.67 L823.99 768.32 L823.95 767.97 L823.97 767.62 L824.04 767.30 L824.18 767.00 L824.39 766.75 L824.67 766.55 L825.00 766.41 L825.38 766.32 L825.78 766.28 L826.21 766.27 L826.63 766.30 L827.04 766.35 L827.43 766.39 L827.79 766.42 L828.11 766.42 L828.41 766.38 L828.67 766.30 L828.92 766.16 L829.16 765.97 L829.40 765.75 L829.65 765.50 L829.91 765.23 L830.20 764.97 L830.51 764.73 L830.85 764.53 L831.20 764.39 L831.56 764.30 L831.93 764.30 L832.28 764.36 L832.63 764.50 L832.94 764.69 L833.23 764.94 L833.49 765.22 L833.73 765.52 L833.94 765.81 L834.14 766.09 L834.33 766.33 L834.54 766.54 L834.76 766.70 L835.02 766.81 L835.30 766.88 L835.63 766.92 L835.99 766.93 L836.39 766.94 L836.81 766.94 L837.23 766.97 L837.65 767.03 L838.04 767.13 L838.39 767.28 L838.68 767.47 L838.91 767.71 L839.06 767.99 L839.14 768.30 L839.14 768.63 L839.08 768.97 L838.97 769.32 L838.84 769.65 L838.70 769.97 L838.56 770.27 L838.46 770.55 L838.40 770.81 L838.40 771.05 L838.46 771.28 L838.58 771.52 L838.76 771.75 Z" fill="#b00e1e" stroke="#111" stroke-width="1.4"/>
<ellipse cx="831.50" cy="772.00" rx="4.95" ry="4.49" fill="#b00e1e" stroke="#555" stroke-width="0.6"/>
<path d="M875.28 754.40 L875.52 754.66 L875.77 754.94 L876.01 755.24 L876.21 755.55 L876.35 755.87 L876.42 756.18 L876.41 756.49 L876.32 756.79 L876.14 757.05 L875.88 757.29 L875.56 757.50 L875.20 757.67 L874.81 757.81 L874.41 757.93 L874.02 758.03 L873.66 758.13 L873.34 758.24 L873.07 758.37 L872.85 758.52 L872.68 758.71 L872.54 758.94 L872.43 759.21 L872.34 759.51 L872.24 759.84 L872.13 760.18 L872.00 760.52 L871.82 760.83 L871.61 761.12 L871.35 761.36 L871.05 761.53 L870.71 761.64 L870.34 761.68 L869.96 761.66 L869.57 761.57 L869.18 761.43 L868.80 761.26 L868.45 761.08 L868.11 760.89 L867.80 760.72 L867.50 760.59 L867.21 760.49 L866.93 760.45 L866.64 760.47 L866.34 760.53 L866.01 760.63 L865.67 760.76 L865.30 760.90 L864.91 761.04 L864.51 761.16 L864.10 761.24 L863.70 761.27 L863.32 761.24 L862.97 761.14 L862.66 760.98 L862.40 760.76 L862.20 760.48 L862.04 760.17 L861.94 759.83 L861.87 759.48 L861.82 759.13 L861.79 758.80 L861.75 758.49 L861.69 758.22 L861.59 757.98 L861.44 757.77 L861.24 757.60 L860.99 757.44 L860.68 757.29 L860.34 757.15 L859.98 757.00 L859.60 756.83 L859.25 756.63 L858.92 756.42 L858.66 756.17 L858.46 755.90 L858.34 755.61 L858.31 755.31 L858.37 755.00 L858.51 754.69 L858.72 754.40 L858.98 754.12 L859.27 753.86 L859.56 753.62 L859.85 753.39 L860.11 753.17 L860.32 752.96 L860.47 752.75 L860.57 752.52 L860.60 752.28 L860.58 752.01 L860.52 751.72 L860.44 751.40 L860.36 751.07 L860.29 750.72 L860.25 750.37 L860.27 750.02 L860.34 749.70 L860.48 749.40 L860.69 749.15 L860.97 748.95 L861.30 748.81 L861.68 748.72 L862.08 748.68 L862.51 748.67 L862.93 748.70 L863.34 748.75 L863.73 748.79 L864.09 748.82 L864.41 748.82 L864.71 748.78 L864.97 748.70 L865.22 748.56 L865.46 748.37 L865.70 748.15 L865.95 747.90 L866.21 747.63 L866.50 747.37 L866.81 747.13 L867.15 746.93 L867.50 746.79 L867.86 746.70 L868.23 746.70 L868.58 746.76 L868.93 746.90 L869.24 747.09 L869.53 747.34 L869.79 747.62 L870.03 747.92 L870.24 748.21 L870.44 748.49 L870.63 748.73 L870.84 748.94 L871.06 749.10 L871.32 749.21 L871.60 749.28 L871.93 749.32 L872.29 749.33 L872.69 749.34 L873.11 749.34 L873.53 749.37 L873.95 749.43 L874.34 749.53 L874.69 749.68 L874.98 749.87 L875.21 750.11 L875.36 750.39 L875.44 750.70 L875.44 751.03 L875.38 751.37 L875.27 751.72 L875.14 752.05 L875.00 752.37 L874.86 752.67 L874.76 752.95 L874.70 753.21 L874.70 753.45 L874.76 753.68 L874.88 753.92 L875.06 754.15 Z" fill="#b4b4b4" stroke="#111" stroke-width="1.4"/>
<ellipse cx="867.80" cy="754.40" rx="4.95" ry="4.49" fill="#c4c4c4" stroke="#555" stroke-width="0.6"/>
<path d="M908.88 772.00 L909.12 772.26 L909.37 772.54 L909.61 772.84 L909.81 773.15 L909.95 773.47 L910.02 773.78 L910.01 774.09 L909.92 774.39 L909.74 774.65 L909.48 774.89 L909.16 775.10 L908.80 775.27 L908.41 775.41 L908.01 775.53 L907.62 775.63 L907.26 775.73 L906.94 775.84 L906.67 775.97 L906.45 776.12 L906.28 776.31 L906.14 776.54 L906.03 776.81 L905.94 777.11 L905.84 777.44 L905.73 777.78 L905.60 778.12 L905.42 778.43 L905.21 778.72 L904.95 778.96 L904.65 779.13 L904.31 779.24 L903.94 779.28 L903.56 779.26 L903.17 779.17 L902.78 779.03 L902.40 778.86 L902.05 778.68 L901.71 778.49 L901.40 778.32 L901.10 778.19 L900.81 778.09 L900.53 778.05 L900.24 778.07 L899.94 778.13 L899.61 778.23 L899.27 778.36 L898.90 778.50 L898.51 778.64 L898.11 778.76 L897.70 778.84 L897.30 778.87 L896.92 778.84 L896.57 778.74 L896.26 778.58 L896.00 778.36 L895.80 778.08 L895.64 777.77 L895.54 777.43 L895.47 777.08 L895.42 776.73 L895.39 776.40 L895.35 776.09 L895.29 775.82 L895.19 775.58 L895.04 775.37 L894.84 775.20 L894.59 775.04 L894.28 774.89 L893.94 774.75 L893.58 774.60 L893.20 774.43 L892.85 774.23 L892.52 774.02 L892.26 773.77 L892.06 773.50 L891.94 773.21 L891.91 772.91 L891.97 772.60 L892.11 772.29 L892.32 772.00 L892.58 771.72 L892.87 771.46 L893.16 771.22 L893.45 770.99 L893.71 770.77 L893.92 770.56 L894.07 770.35 L894.17 770.12 L894.20 769.88 L894.18 769.61 L894.12 769.32 L894.04 769.00 L893.96 768.67 L893.89 768.32 L893.85 767.97 L893.87 767.62 L893.94 767.30 L894.08 767.00 L894.29 766.75 L894.57 766.55 L894.90 766.41 L895.28 766.32 L895.68 766.28 L896.11 766.27 L896.53 766.30 L896.94 766.35 L897.33 766.39 L897.69 766.42 L898.01 766.42 L898.31 766.38 L898.57 766.30 L898.82 766.16 L899.06 765.97 L899.30 765.75 L899.55 765.50 L899.81 765.23 L900.10 764.97 L900.41 764.73 L900.75 764.53 L901.10 764.39 L901.46 764.30 L901.83 764.30 L902.18 764.36 L902.53 764.50 L902.84 764.69 L903.13 764.94 L903.39 765.22 L903.63 765.52 L903.84 765.81 L904.04 766.09 L904.23 766.33 L904.44 766.54 L904.66 766.70 L904.92 766.81 L905.20 766.88 L905.53 766.92 L905.89 766.93 L906.29 766.94 L906.71 766.94 L907.13 766.97 L907.55 767.03 L907.94 767.13 L908.29 767.28 L908.58 767.47 L908.81 767.71 L908.96 767.99 L909.04 768.30 L909.04 768.63 L908.98 768.97 L908.87 769.32 L908.74 769.65 L908.60 769.97 L908.46 770.27 L908.36 770.55 L908.30 770.81 L908.30 771.05 L908.36 771.28 L908.48 771.52 L908.66 771.75 Z" fill="#b4b4b4" stroke="#111" stroke-width="1.4"/>
<ellipse cx="901.40" cy="772.00" rx="4.95" ry="4.49" fill="#c4c4c4" stroke="#555" stroke-width="0.6"/>
<text x="1121.20" y="590.10" font-size="30.62" font-weight="bold" font-style="normal" textLength="178.83" lengthAdjust="spacingAndGlyphs" fill="#000">HHV-6+ cells</text>
<line x1="1108.50" y1="635.30" x2="1108.50" y2="943.80" stroke="#000" stroke-width="1.60"/>
<line x1="1102.30" y1="943.00" x2="1413.60" y2="943.00" stroke="#000" stroke-width="1.60"/>
<line x1="1102.30" y1="943.00" x2="1108.50" y2="943.00" stroke="#000" stroke-width="1.60"/>
<text x="1087.72" y="949.00" font-size="17.20" font-weight="normal" font-style="normal" textLength="9.43" lengthAdjust="spacingAndGlyphs" fill="#000">0</text>
<line x1="1102.30" y1="864.43" x2="1108.50" y2="864.43" stroke="#000" stroke-width="1.60"/>
<text x="1076.57" y="870.43" font-size="17.20" font-weight="normal" font-style="normal" textLength="20.67" lengthAdjust="spacingAndGlyphs" fill="#000">20</text>
<line x1="1102.30" y1="785.87" x2="1108.50" y2="785.87" stroke="#000" stroke-width="1.60"/>
<text x="1077.09" y="791.87" font-size="17.20" font-weight="normal" font-style="normal" textLength="20.13" lengthAdjust="spacingAndGlyphs" fill="#000">40</text>
<line x1="1102.30" y1="707.30" x2="1108.50" y2="707.30" stroke="#000" stroke-width="1.60"/>
<text x="1076.57" y="713.30" font-size="17.20" font-weight="normal" font-style="normal" textLength="20.67" lengthAdjust="spacingAndGlyphs" fill="#000">60</text>
<rect x="1157.00" y="695.00" width="69.00" height="248.00" fill="#d6dddd" stroke="#000" stroke-width="1.8"/>
<rect x="1294.80" y="853.00" width="69.80" height="90.00" fill="#d6dddd" stroke="#000" stroke-width="1.8"/>
<line x1="1191.50" y1="943.00" x2="1191.50" y2="949.40" stroke="#000" stroke-width="1.60"/>
<line x1="1330.00" y1="943.00" x2="1330.00" y2="949.40" stroke="#000" stroke-width="1.60"/>
<text x="1164.34" y="689.00" font-size="22.94" font-weight="normal" font-style="normal" textLength="65.93" lengthAdjust="spacingAndGlyphs" fill="#000">63.6%</text>
<text x="1296.82" y="845.70" font-size="22.37" font-weight="normal" font-style="normal" textLength="67.06" lengthAdjust="spacingAndGlyphs" fill="#000">21.8%</text>
<text x="1165.23" y="975.60" font-size="23.08" font-weight="normal" font-style="normal" textLength="60.36" lengthAdjust="spacingAndGlyphs" fill="#000">0 mM</text>
<text x="1305.33" y="975.60" font-size="23.42" font-weight="normal" font-style="normal" textLength="59.13" lengthAdjust="spacingAndGlyphs" fill="#000">1 mM</text>
<text x="1145.93" y="1003.20" font-size="22.65" font-weight="normal" textLength="97.93" lengthAdjust="spacingAndGlyphs"><tspan font-style="italic">n</tspan> = 1,305</text>
<text x="1285.33" y="1003.20" font-size="22.65" font-weight="normal" textLength="97.86" lengthAdjust="spacingAndGlyphs"><tspan font-style="italic">n</tspan> = 1,722</text>
<text x="1140.59" y="1042.40" font-size="25.88" font-weight="normal" font-style="normal" textLength="232.82" lengthAdjust="spacingAndGlyphs" fill="#000">foscarnet treatment</text>
<text transform="translate(1060.20 966.00) rotate(-90)" x="-0.95" y="0" font-size="27.59" font-weight="normal" font-style="normal" textLength="341.75" lengthAdjust="spacingAndGlyphs" fill="#000">% cells with detected HHV-6</text>
<text x="1584.43" y="585.90" font-size="30.90" font-weight="bold" font-style="normal" textLength="318.66" lengthAdjust="spacingAndGlyphs" fill="#000">host gene expression</text>
<rect x="1978.7" y="715.7" width="143.3" height="152.3" fill="none" stroke="#000" stroke-width="1.6"/>
<text x="1991.10" y="742.70" font-size="26.44" font-weight="normal" font-style="normal" textLength="110.83" lengthAdjust="spacingAndGlyphs" fill="#000">foscarnet</text>
<text x="1991.09" y="775.20" font-size="26.98" font-weight="normal" font-style="normal" textLength="114.29" lengthAdjust="spacingAndGlyphs" fill="#000">treatment</text>
<circle cx="1998.4" cy="807.1" r="5.3" fill="#c8020f" stroke="#8a000b" stroke-width="1.2"/>
<circle cx="1998.8" cy="846.0" r="5.3" fill="#3d85ec" stroke="#2a63c4" stroke-width="1.2"/>
<text x="2016.02" y="814.60" font-size="22.37" font-weight="normal" font-style="normal" textLength="60.99" lengthAdjust="spacingAndGlyphs" fill="#000">0 mM</text>
<text x="2015.21" y="854.70" font-size="23.71" font-weight="normal" font-style="normal" textLength="53.05" lengthAdjust="spacingAndGlyphs" fill="#000">1mM</text>
<line x1="1506.40" y1="915.50" x2="1506.40" y2="992.30" stroke="#000" stroke-width="1.80"/>
<line x1="1505.60" y1="992.10" x2="1586.20" y2="992.10" stroke="#000" stroke-width="1.80"/>
<text x="1506.49" y="1017.10" font-size="23.13" font-weight="normal" font-style="normal" textLength="75.96" lengthAdjust="spacingAndGlyphs" fill="#000">UMAP1</text>
<text transform="translate(1498.80 991.80) rotate(-90)" x="-1.78" y="0" font-size="24.09" font-weight="normal" font-style="normal" textLength="79.24" lengthAdjust="spacingAndGlyphs" fill="#000">UMAP2</text>
<circle class="r" cx="1865.7" cy="748.5" r="2.1"/>
<circle class="b" cx="1622.2" cy="891.3" r="2.1"/>
<circle class="r" cx="1810.9" cy="850.3" r="2.1"/>
<circle class="b" cx="1605.7" cy="872.0" r="2.1"/>
<circle class="b" cx="1599.1" cy="826.1" r="2.1"/>
<circle class="b" cx="1588.9" cy="828.6" r="2.1"/>
<circle class="r" cx="1765.7" cy="886.5" r="2.1"/>
<circle class="b" cx="1840.8" cy="770.8" r="2.1"/>
<circle class="b" cx="1796.8" cy="848.7" r="2.1"/>
<circle class="b" cx="1824.7" cy="843.6" r="2.1"/>
<circle class="r" cx="1569.8" cy="944.2" r="2.1"/>
<circle class="r" cx="1763.9" cy="892.5" r="2.1"/>
<circle class="r" cx="1602.0" cy="893.2" r="2.1"/>
<circle class="b" cx="1593.9" cy="931.2" r="2.1"/>
<circle class="r" cx="1907.4" cy="783.8" r="2.1"/>
<circle class="r" cx="1895.1" cy="770.1" r="2.1"/>
<circle class="b" cx="1811.8" cy="787.6" r="2.1"/>
<circle class="b" cx="1660.5" cy="831.7" r="2.1"/>
<circle class="r" cx="1567.3" cy="909.9" r="2.1"/>
<circle class="b" cx="1633.7" cy="873.9" r="2.1"/>
<circle class="r" cx="1827.9" cy="740.4" r="2.1"/>
<circle class="b" cx="1811.6" cy="722.1" r="2.1"/>
<circle class="b" cx="1819.3" cy="689.1" r="2.1"/>
<circle class="b" cx="1795.3" cy="850.5" r="2.1"/>
<circle class="r" cx="1888.9" cy="726.8" r="2.1"/>
<circle class="r" cx="1833.2" cy="815.5" r="2.1"/>
<circle class="r" cx="1679.1" cy="820.2" r="2.1"/>
<circle class="r" cx="1812.5" cy="884.1" r="2.1"/>
<circle class="b" cx="1852.8" cy="742.4" r="2.1"/>
<circle class="r" cx="1818.4" cy="726.4" r="2.1"/>
<circle class="b" cx="1564.2" cy="945.8" r="2.1"/>
<circle class="r" cx="1858.6" cy="679.9" r="2.1"/>
<circle class="r" cx="1640.7" cy="849.0" r="2.1"/>
<circle class="r" cx="1807.7" cy="894.6" r="2.1"/>
<circle class="b" cx="1627.6" cy="878.0" r="2.1"/>
<circle class="b" cx="1741.9" cy="908.7" r="2.1"/>
<circle class="r" cx="1822.6" cy="680.3" r="2.1"/>
<circle class="r" cx="1892.6" cy="753.5" r="2.1"/>
<circle class="b" cx="1688.7" cy="824.4" r="2.1"/>
<circle class="r" cx="1784.6" cy="888.9" r="2.1"/>
<circle class="r" cx="1804.8" cy="711.4" r="2.1"/>
<circle class="b" cx="1878.3" cy="827.0" r="2.1"/>
<circle class="b" cx="1831.8" cy="905.5" r="2.1"/>
<circle class="b" cx="1815.6" cy="692.0" r="2.1"/>
<circle class="r" cx="1678.1" cy="838.0" r="2.1"/>
<circle class="b" cx="1781.2" cy="916.4" r="2.1"/>
<circle class="r" cx="1812.5" cy="741.9" r="2.1"/>
<circle class="r" cx="1827.3" cy="799.5" r="2.1"/>
<circle class="r" cx="1687.6" cy="834.3" r="2.1"/>
<circle class="r" cx="1695.8" cy="891.6" r="2.1"/>
<circle class="r" cx="1840.6" cy="803.4" r="2.1"/>
<circle class="b" cx="1846.9" cy="762.9" r="2.1"/>
<circle class="b" cx="1594.5" cy="902.6" r="2.1"/>
<circle class="r" cx="1770.7" cy="717.8" r="2.1"/>
<circle class="b" cx="1763.5" cy="729.4" r="2.1"/>
<circle class="r" cx="1807.9" cy="807.8" r="2.1"/>
<circle class="r" cx="1628.0" cy="862.4" r="2.1"/>
<circle class="b" cx="1809.3" cy="908.5" r="2.1"/>
<circle class="r" cx="1876.8" cy="763.4" r="2.1"/>
<circle class="r" cx="1828.3" cy="852.9" r="2.1"/>
<circle class="b" cx="1872.0" cy="723.5" r="2.1"/>
<circle class="r" cx="1597.3" cy="952.7" r="2.1"/>
<circle class="b" cx="1678.3" cy="933.8" r="2.1"/>
<circle class="r" cx="1591.3" cy="821.4" r="2.1"/>
<circle class="b" cx="1764.8" cy="806.3" r="2.1"/>
<circle class="b" cx="1888.6" cy="765.1" r="2.1"/>
<circle class="b" cx="1763.8" cy="923.8" r="2.1"/>
<circle class="b" cx="1832.8" cy="735.7" r="2.1"/>
<circle class="r" cx="1844.2" cy="796.3" r="2.1"/>
<circle class="r" cx="1697.9" cy="876.9" r="2.1"/>
<circle class="b" cx="1826.1" cy="807.9" r="2.1"/>
<circle class="b" cx="1662.4" cy="907.6" r="2.1"/>
<circle class="b" cx="1710.6" cy="808.1" r="2.1"/>
<circle class="r" cx="1846.0" cy="818.3" r="2.1"/>
<circle class="b" cx="1833.7" cy="785.1" r="2.1"/>
<circle class="r" cx="1768.6" cy="753.7" r="2.1"/>
<circle class="r" cx="1833.0" cy="747.3" r="2.1"/>
<circle class="b" cx="1800.8" cy="788.1" r="2.1"/>
<circle class="r" cx="1688.6" cy="878.3" r="2.1"/>
<circle class="b" cx="1872.5" cy="691.1" r="2.1"/>
<circle class="b" cx="1844.1" cy="657.4" r="2.1"/>
<circle class="b" cx="1750.8" cy="921.2" r="2.1"/>
<circle class="r" cx="1911.4" cy="759.0" r="2.1"/>
<circle class="r" cx="1815.5" cy="741.0" r="2.1"/>
<circle class="b" cx="1827.3" cy="731.5" r="2.1"/>
<circle class="b" cx="1790.2" cy="836.5" r="2.1"/>
<circle class="b" cx="1875.9" cy="751.8" r="2.1"/>
<circle class="b" cx="1886.3" cy="778.7" r="2.1"/>
<circle class="b" cx="1765.0" cy="693.0" r="2.1"/>
<circle class="r" cx="1552.2" cy="849.5" r="2.1"/>
<circle class="r" cx="1801.3" cy="690.8" r="2.1"/>
<circle class="r" cx="1831.4" cy="747.1" r="2.1"/>
<circle class="r" cx="1821.0" cy="665.6" r="2.1"/>
<circle class="b" cx="1840.2" cy="796.9" r="2.1"/>
<circle class="r" cx="1784.4" cy="890.6" r="2.1"/>
<circle class="r" cx="1748.4" cy="868.2" r="2.1"/>
<circle class="r" cx="1816.5" cy="822.2" r="2.1"/>
<circle class="r" cx="1686.6" cy="818.6" r="2.1"/>
<circle class="r" cx="1845.0" cy="816.1" r="2.1"/>
<circle class="b" cx="1888.2" cy="822.7" r="2.1"/>
<circle class="b" cx="1833.8" cy="887.9" r="2.1"/>
<circle class="r" cx="1837.8" cy="865.5" r="2.1"/>
<circle class="b" cx="1824.8" cy="739.0" r="2.1"/>
<circle class="b" cx="1825.9" cy="887.7" r="2.1"/>
<circle class="b" cx="1800.7" cy="799.1" r="2.1"/>
<circle class="r" cx="1582.0" cy="823.0" r="2.1"/>
<circle class="r" cx="1800.6" cy="914.6" r="2.1"/>
<circle class="r" cx="1783.6" cy="863.8" r="2.1"/>
<circle class="r" cx="1724.8" cy="890.6" r="2.1"/>
<circle class="r" cx="1784.8" cy="914.5" r="2.1"/>
<circle class="r" cx="1828.5" cy="710.2" r="2.1"/>
<circle class="r" cx="1570.6" cy="883.4" r="2.1"/>
<circle class="r" cx="1745.0" cy="942.0" r="2.1"/>
<circle class="r" cx="1831.9" cy="683.1" r="2.1"/>
<circle class="r" cx="1808.1" cy="784.0" r="2.1"/>
<circle class="b" cx="1851.4" cy="847.5" r="2.1"/>
<circle class="r" cx="1623.8" cy="914.4" r="2.1"/>
<circle class="r" cx="1808.3" cy="872.3" r="2.1"/>
<circle class="b" cx="1820.4" cy="739.6" r="2.1"/>
<circle class="r" cx="1580.7" cy="890.7" r="2.1"/>
<circle class="r" cx="1792.4" cy="814.6" r="2.1"/>
<circle class="b" cx="1845.5" cy="771.0" r="2.1"/>
<circle class="r" cx="1577.5" cy="867.6" r="2.1"/>
<circle class="r" cx="1852.5" cy="721.4" r="2.1"/>
<circle class="r" cx="1575.4" cy="927.0" r="2.1"/>
<circle class="b" cx="1855.8" cy="751.0" r="2.1"/>
<circle class="b" cx="1556.0" cy="807.0" r="2.1"/>
<circle class="b" cx="1860.5" cy="723.3" r="2.1"/>
<circle class="b" cx="1830.2" cy="844.5" r="2.1"/>
<circle class="b" cx="1650.7" cy="911.1" r="2.1"/>
<circle class="r" cx="1816.7" cy="686.2" r="2.1"/>
<circle class="r" cx="1835.4" cy="740.1" r="2.1"/>
<circle class="r" cx="1821.7" cy="850.6" r="2.1"/>
<circle class="r" cx="1829.3" cy="738.3" r="2.1"/>
<circle class="b" cx="1646.3" cy="915.9" r="2.1"/>
<circle class="r" cx="1830.3" cy="889.1" r="2.1"/>
<circle class="r" cx="1810.6" cy="904.9" r="2.1"/>
<circle class="b" cx="1811.4" cy="685.9" r="2.1"/>
<circle class="b" cx="1561.8" cy="813.5" r="2.1"/>
<circle class="r" cx="1821.4" cy="690.8" r="2.1"/>
<circle class="b" cx="1799.0" cy="901.4" r="2.1"/>
<circle class="b" cx="1758.9" cy="869.0" r="2.1"/>
<circle class="r" cx="1722.7" cy="930.6" r="2.1"/>
<circle class="r" cx="1822.1" cy="710.8" r="2.1"/>
<circle class="r" cx="1660.9" cy="887.6" r="2.1"/>
<circle class="b" cx="1849.1" cy="795.6" r="2.1"/>
<circle class="r" cx="1774.7" cy="825.6" r="2.1"/>
<circle class="b" cx="1629.0" cy="896.2" r="2.1"/>
<circle class="b" cx="1635.2" cy="896.8" r="2.1"/>
<circle class="b" cx="1553.3" cy="925.1" r="2.1"/>
<circle class="b" cx="1708.8" cy="985.9" r="2.1"/>
<circle class="b" cx="1865.4" cy="692.0" r="2.1"/>
<circle class="b" cx="1582.7" cy="950.8" r="2.1"/>
<circle class="r" cx="1798.9" cy="843.2" r="2.1"/>
<circle class="b" cx="1809.7" cy="766.1" r="2.1"/>
<circle class="b" cx="1671.4" cy="873.7" r="2.1"/>
<circle class="r" cx="1559.0" cy="912.9" r="2.1"/>
<circle class="b" cx="1797.7" cy="805.0" r="2.1"/>
<circle class="b" cx="1805.2" cy="768.3" r="2.1"/>
<circle class="r" cx="1833.8" cy="694.9" r="2.1"/>
<circle class="r" cx="1811.6" cy="823.1" r="2.1"/>
<circle class="r" cx="1808.3" cy="733.6" r="2.1"/>
<circle class="b" cx="1790.5" cy="791.5" r="2.1"/>
<circle class="b" cx="1821.4" cy="769.0" r="2.1"/>
<circle class="b" cx="1807.2" cy="802.2" r="2.1"/>
<circle class="r" cx="1818.7" cy="689.9" r="2.1"/>
<circle class="r" cx="1782.2" cy="855.2" r="2.1"/>
<circle class="r" cx="1812.3" cy="677.3" r="2.1"/>
<circle class="r" cx="1775.4" cy="877.2" r="2.1"/>
<circle class="r" cx="1874.0" cy="726.1" r="2.1"/>
<circle class="b" cx="1873.5" cy="770.7" r="2.1"/>
<circle class="b" cx="1625.9" cy="873.0" r="2.1"/>
<circle class="r" cx="1832.2" cy="713.0" r="2.1"/>
<circle class="b" cx="1867.4" cy="792.7" r="2.1"/>
<circle class="r" cx="1565.8" cy="892.4" r="2.1"/>
<circle class="b" cx="1729.7" cy="893.9" r="2.1"/>
<circle class="r" cx="1568.2" cy="879.5" r="2.1"/>
<circle class="b" cx="1566.1" cy="815.3" r="2.1"/>
<circle class="b" cx="1771.0" cy="751.6" r="2.1"/>
<circle class="r" cx="1604.9" cy="901.8" r="2.1"/>
<circle class="b" cx="1707.7" cy="983.5" r="2.1"/>
<circle class="b" cx="1870.7" cy="726.3" r="2.1"/>
<circle class="b" cx="1896.4" cy="756.9" r="2.1"/>
<circle class="r" cx="1666.5" cy="828.2" r="2.1"/>
<circle class="r" cx="1664.2" cy="849.8" r="2.1"/>
<circle class="b" cx="1850.8" cy="737.6" r="2.1"/>
<circle class="r" cx="1786.3" cy="894.7" r="2.1"/>
<circle class="r" cx="1817.4" cy="753.9" r="2.1"/>
<circle class="r" cx="1668.5" cy="932.0" r="2.1"/>
<circle class="r" cx="1829.1" cy="909.1" r="2.1"/>
<circle class="r" cx="1869.7" cy="682.8" r="2.1"/>
<circle class="r" cx="1575.0" cy="952.0" r="2.1"/>
<circle class="r" cx="1809.2" cy="851.1" r="2.1"/>
<circle class="r" cx="1585.5" cy="820.3" r="2.1"/>
<circle class="r" cx="1702.9" cy="887.4" r="2.1"/>
<circle class="b" cx="1865.4" cy="684.5" r="2.1"/>
<circle class="b" cx="1829.4" cy="786.5" r="2.1"/>
<circle class="r" cx="1877.3" cy="752.4" r="2.1"/>
<circle class="b" cx="1573.9" cy="870.1" r="2.1"/>
<circle class="b" cx="1809.2" cy="727.0" r="2.1"/>
<circle class="b" cx="1561.7" cy="877.9" r="2.1"/>
<circle class="b" cx="1831.6" cy="746.9" r="2.1"/>
<circle class="r" cx="1832.5" cy="768.8" r="2.1"/>
<circle class="r" cx="1824.4" cy="731.0" r="2.1"/>
<circle class="b" cx="1711.0" cy="856.7" r="2.1"/>
<circle class="b" cx="1868.1" cy="749.5" r="2.1"/>
<circle class="r" cx="1907.5" cy="771.5" r="2.1"/>
<circle class="r" cx="1822.5" cy="738.6" r="2.1"/>
<circle class="b" cx="1826.8" cy="708.1" r="2.1"/>
<circle class="r" cx="1820.3" cy="872.5" r="2.1"/>
<circle class="r" cx="1661.7" cy="860.1" r="2.1"/>
<circle class="b" cx="1845.8" cy="681.2" r="2.1"/>
<circle class="b" cx="1678.3" cy="965.2" r="2.1"/>
<circle class="b" cx="1824.6" cy="907.6" r="2.1"/>
<circle class="r" cx="1575.5" cy="806.1" r="2.1"/>
<circle class="b" cx="1889.1" cy="778.3" r="2.1"/>
<circle class="r" cx="1800.4" cy="846.3" r="2.1"/>
<circle class="r" cx="1873.3" cy="700.1" r="2.1"/>
<circle class="r" cx="1871.4" cy="813.2" r="2.1"/>
<circle class="r" cx="1860.4" cy="703.0" r="2.1"/>
<circle class="b" cx="1624.1" cy="865.8" r="2.1"/>
<circle class="b" cx="1840.5" cy="729.2" r="2.1"/>
<circle class="b" cx="1739.6" cy="924.2" r="2.1"/>
<circle class="b" cx="1716.2" cy="835.0" r="2.1"/>
<circle class="b" cx="1783.8" cy="842.5" r="2.1"/>
<circle class="r" cx="1561.9" cy="829.8" r="2.1"/>
<circle class="r" cx="1830.7" cy="802.6" r="2.1"/>
<circle class="r" cx="1820.0" cy="777.9" r="2.1"/>
<circle class="b" cx="1861.6" cy="722.1" r="2.1"/>
<circle class="r" cx="1876.2" cy="731.7" r="2.1"/>
<circle class="b" cx="1802.7" cy="809.6" r="2.1"/>
<circle class="b" cx="1610.9" cy="915.6" r="2.1"/>
<circle class="b" cx="1681.2" cy="967.3" r="2.1"/>
<circle class="b" cx="1824.6" cy="843.5" r="2.1"/>
<circle class="r" cx="1835.7" cy="903.6" r="2.1"/>
<circle class="b" cx="1704.8" cy="908.3" r="2.1"/>
<circle class="b" cx="1634.2" cy="921.9" r="2.1"/>
<circle class="b" cx="1869.7" cy="843.2" r="2.1"/>
<circle class="b" cx="1806.1" cy="752.3" r="2.1"/>
<circle class="b" cx="1803.4" cy="676.0" r="2.1"/>
<circle class="r" cx="1679.9" cy="826.5" r="2.1"/>
<circle class="b" cx="1847.5" cy="785.9" r="2.1"/>
<circle class="b" cx="1828.2" cy="662.1" r="2.1"/>
<circle class="r" cx="1890.4" cy="738.8" r="2.1"/>
<circle class="r" cx="1854.3" cy="762.3" r="2.1"/>
<circle class="r" cx="1764.3" cy="757.7" r="2.1"/>
<circle class="b" cx="1740.5" cy="903.2" r="2.1"/>
<circle class="r" cx="1635.1" cy="842.7" r="2.1"/>
<circle class="r" cx="1813.6" cy="786.9" r="2.1"/>
<circle class="b" cx="1837.0" cy="898.5" r="2.1"/>
<circle class="b" cx="1706.7" cy="894.9" r="2.1"/>
<circle class="r" cx="1671.1" cy="877.9" r="2.1"/>
<circle class="b" cx="1769.3" cy="751.5" r="2.1"/>
<circle class="r" cx="1714.8" cy="808.9" r="2.1"/>
<circle class="b" cx="1572.4" cy="821.8" r="2.1"/>
<circle class="r" cx="1784.8" cy="860.3" r="2.1"/>
<circle class="r" cx="1835.3" cy="677.8" r="2.1"/>
<circle class="b" cx="1734.9" cy="909.6" r="2.1"/>
<circle class="b" cx="1587.1" cy="909.0" r="2.1"/>
<circle class="b" cx="1640.0" cy="901.4" r="2.1"/>
<circle class="r" cx="1846.0" cy="858.7" r="2.1"/>
<circle class="b" cx="1776.0" cy="760.8" r="2.1"/>
<circle class="r" cx="1581.4" cy="825.8" r="2.1"/>
<circle class="b" cx="1579.2" cy="851.5" r="2.1"/>
<circle class="b" cx="1798.0" cy="808.8" r="2.1"/>
<circle class="b" cx="1795.6" cy="842.0" r="2.1"/>
<circle class="b" cx="1870.9" cy="754.9" r="2.1"/>
<circle class="b" cx="1691.2" cy="825.8" r="2.1"/>
<circle class="r" cx="1870.4" cy="778.8" r="2.1"/>
<circle class="b" cx="1839.9" cy="835.4" r="2.1"/>
<circle class="b" cx="1817.5" cy="855.1" r="2.1"/>
<circle class="r" cx="1604.0" cy="915.1" r="2.1"/>
<circle class="b" cx="1597.0" cy="863.2" r="2.1"/>
<circle class="b" cx="1665.1" cy="844.1" r="2.1"/>
<circle class="r" cx="1823.0" cy="893.4" r="2.1"/>
<circle class="b" cx="1629.6" cy="901.2" r="2.1"/>
<circle class="b" cx="1884.1" cy="831.8" r="2.1"/>
<circle class="r" cx="1604.1" cy="865.7" r="2.1"/>
<circle class="b" cx="1741.9" cy="937.9" r="2.1"/>
<circle class="b" cx="1882.7" cy="711.6" r="2.1"/>
<circle class="b" cx="1819.8" cy="842.0" r="2.1"/>
<circle class="r" cx="1589.6" cy="828.5" r="2.1"/>
<circle class="r" cx="1840.4" cy="742.1" r="2.1"/>
<circle class="r" cx="1652.5" cy="891.5" r="2.1"/>
<circle class="b" cx="1766.4" cy="919.6" r="2.1"/>
<circle class="b" cx="1659.6" cy="900.7" r="2.1"/>
<circle class="r" cx="1834.2" cy="907.3" r="2.1"/>
<circle class="b" cx="1773.9" cy="725.2" r="2.1"/>
<circle class="r" cx="1761.8" cy="802.7" r="2.1"/>
<circle class="r" cx="1789.5" cy="911.4" r="2.1"/>
<circle class="b" cx="1853.9" cy="668.7" r="2.1"/>
<circle class="b" cx="1720.5" cy="874.9" r="2.1"/>
<circle class="r" cx="1822.5" cy="894.4" r="2.1"/>
<circle class="b" cx="1837.5" cy="802.1" r="2.1"/>
<circle class="b" cx="1712.9" cy="846.1" r="2.1"/>
<circle class="b" cx="1835.1" cy="849.7" r="2.1"/>
<circle class="b" cx="1713.2" cy="821.1" r="2.1"/>
<circle class="b" cx="1726.7" cy="861.8" r="2.1"/>
<circle class="b" cx="1833.1" cy="899.4" r="2.1"/>
<circle class="r" cx="1809.3" cy="709.8" r="2.1"/>
<circle class="r" cx="1880.0" cy="778.4" r="2.1"/>
<circle class="b" cx="1703.1" cy="802.4" r="2.1"/>
<circle class="b" cx="1726.9" cy="871.5" r="2.1"/>
<circle class="b" cx="1773.8" cy="736.1" r="2.1"/>
<circle class="b" cx="1684.5" cy="858.2" r="2.1"/>
<circle class="r" cx="1763.8" cy="816.4" r="2.1"/>
<circle class="r" cx="1580.7" cy="944.3" r="2.1"/>
<circle class="b" cx="1804.6" cy="672.2" r="2.1"/>
<circle class="r" cx="1892.3" cy="808.6" r="2.1"/>
<circle class="b" cx="1728.6" cy="871.7" r="2.1"/>
<circle class="r" cx="1580.8" cy="818.5" r="2.1"/>
<circle class="r" cx="1775.5" cy="832.9" r="2.1"/>
<circle class="r" cx="1818.8" cy="791.8" r="2.1"/>
<circle class="b" cx="1775.4" cy="775.4" r="2.1"/>
<circle class="b" cx="1842.3" cy="798.9" r="2.1"/>
<circle class="r" cx="1764.7" cy="891.8" r="2.1"/>
<circle class="r" cx="1696.7" cy="882.5" r="2.1"/>
<circle class="r" cx="1829.6" cy="758.7" r="2.1"/>
<circle class="r" cx="1799.5" cy="842.3" r="2.1"/>
<circle class="b" cx="1878.3" cy="706.3" r="2.1"/>
<circle class="r" cx="1804.2" cy="711.3" r="2.1"/>
<circle class="r" cx="1821.0" cy="689.8" r="2.1"/>
<circle class="r" cx="1825.8" cy="764.1" r="2.1"/>
<circle class="r" cx="1822.9" cy="880.5" r="2.1"/>
<circle class="b" cx="1658.3" cy="837.3" r="2.1"/>
<circle class="r" cx="1888.5" cy="809.0" r="2.1"/>
<circle class="r" cx="1806.0" cy="662.6" r="2.1"/>
<circle class="b" cx="1577.8" cy="863.0" r="2.1"/>
<circle class="r" cx="1566.7" cy="882.2" r="2.1"/>
<circle class="r" cx="1845.4" cy="790.2" r="2.1"/>
<circle class="r" cx="1862.6" cy="730.1" r="2.1"/>
<circle class="r" cx="1612.4" cy="898.5" r="2.1"/>
<circle class="r" cx="1860.2" cy="803.8" r="2.1"/>
<circle class="r" cx="1865.0" cy="705.8" r="2.1"/>
<circle class="b" cx="1862.2" cy="813.3" r="2.1"/>
<circle class="b" cx="1766.3" cy="716.8" r="2.1"/>
<circle class="r" cx="1829.1" cy="876.8" r="2.1"/>
<circle class="b" cx="1602.3" cy="938.1" r="2.1"/>
<circle class="r" cx="1837.4" cy="762.1" r="2.1"/>
<circle class="b" cx="1755.1" cy="880.8" r="2.1"/>
<circle class="b" cx="1565.0" cy="933.0" r="2.1"/>
<circle class="b" cx="1810.8" cy="785.0" r="2.1"/>
<circle class="b" cx="1845.8" cy="750.5" r="2.1"/>
<circle class="r" cx="1803.9" cy="675.1" r="2.1"/>
<circle class="b" cx="1832.0" cy="760.8" r="2.1"/>
<circle class="r" cx="1549.3" cy="848.8" r="2.1"/>
<circle class="r" cx="1810.4" cy="794.6" r="2.1"/>
<circle class="b" cx="1866.4" cy="671.1" r="2.1"/>
<circle class="b" cx="1838.5" cy="869.7" r="2.1"/>
<circle class="r" cx="1590.2" cy="889.5" r="2.1"/>
<circle class="r" cx="1760.6" cy="803.1" r="2.1"/>
<circle class="b" cx="1837.5" cy="691.0" r="2.1"/>
<circle class="r" cx="1856.1" cy="808.3" r="2.1"/>
<circle class="r" cx="1789.4" cy="877.9" r="2.1"/>
<circle class="r" cx="1668.8" cy="838.0" r="2.1"/>
<circle class="b" cx="1819.5" cy="805.1" r="2.1"/>
<circle class="r" cx="1820.6" cy="770.5" r="2.1"/>
<circle class="r" cx="1827.9" cy="748.8" r="2.1"/>
<circle class="b" cx="1766.5" cy="758.3" r="2.1"/>
<circle class="b" cx="1798.4" cy="689.6" r="2.1"/>
<circle class="r" cx="1811.2" cy="700.6" r="2.1"/>
<circle class="b" cx="1887.3" cy="766.5" r="2.1"/>
<circle class="r" cx="1701.0" cy="915.2" r="2.1"/>
<circle class="b" cx="1796.0" cy="859.5" r="2.1"/>
<circle class="b" cx="1566.3" cy="823.0" r="2.1"/>
<circle class="b" cx="1813.5" cy="840.8" r="2.1"/>
<circle class="b" cx="1838.7" cy="679.3" r="2.1"/>
<circle class="r" cx="1575.0" cy="931.5" r="2.1"/>
<circle class="r" cx="1834.7" cy="700.2" r="2.1"/>
<circle class="r" cx="1567.5" cy="894.3" r="2.1"/>
<circle class="b" cx="1766.7" cy="766.2" r="2.1"/>
<circle class="b" cx="1682.1" cy="831.7" r="2.1"/>
<circle class="b" cx="1642.6" cy="841.4" r="2.1"/>
<circle class="b" cx="1869.1" cy="750.6" r="2.1"/>
<circle class="b" cx="1829.6" cy="907.0" r="2.1"/>
<circle class="r" cx="1581.3" cy="926.6" r="2.1"/>
<circle class="r" cx="1700.3" cy="854.9" r="2.1"/>
<circle class="b" cx="1649.9" cy="818.1" r="2.1"/>
<circle class="r" cx="1668.8" cy="895.4" r="2.1"/>
<circle class="b" cx="1737.1" cy="902.9" r="2.1"/>
<circle class="b" cx="1566.4" cy="921.7" r="2.1"/>
<circle class="b" cx="1716.0" cy="850.7" r="2.1"/>
<circle class="b" cx="1609.8" cy="907.7" r="2.1"/>
<circle class="b" cx="1581.6" cy="875.6" r="2.1"/>
<circle class="b" cx="1636.4" cy="849.0" r="2.1"/>
<circle class="b" cx="1824.2" cy="727.1" r="2.1"/>
<circle class="r" cx="1843.5" cy="833.3" r="2.1"/>
<circle class="r" cx="1748.4" cy="845.1" r="2.1"/>
<circle class="r" cx="1644.8" cy="910.0" r="2.1"/>
<circle class="r" cx="1808.4" cy="677.7" r="2.1"/>
<circle class="r" cx="1578.8" cy="904.7" r="2.1"/>
<circle class="b" cx="1568.2" cy="944.5" r="2.1"/>
<circle class="b" cx="1843.8" cy="663.1" r="2.1"/>
<circle class="r" cx="1850.1" cy="765.7" r="2.1"/>
<circle class="b" cx="1799.7" cy="673.6" r="2.1"/>
<circle class="r" cx="1731.8" cy="939.0" r="2.1"/>
<circle class="r" cx="1836.2" cy="824.3" r="2.1"/>
<circle class="b" cx="1760.9" cy="720.3" r="2.1"/>
<circle class="r" cx="1863.4" cy="823.2" r="2.1"/>
<circle class="b" cx="1599.6" cy="943.6" r="2.1"/>
<circle class="b" cx="1817.6" cy="708.1" r="2.1"/>
<circle class="r" cx="1792.1" cy="808.8" r="2.1"/>
<circle class="b" cx="1575.4" cy="928.8" r="2.1"/>
<circle class="b" cx="1825.3" cy="863.9" r="2.1"/>
<circle class="b" cx="1859.4" cy="832.9" r="2.1"/>
<circle class="r" cx="1608.3" cy="911.6" r="2.1"/>
<circle class="b" cx="1750.9" cy="704.5" r="2.1"/>
<circle class="b" cx="1897.9" cy="748.9" r="2.1"/>
<circle class="b" cx="1808.0" cy="815.7" r="2.1"/>
<circle class="b" cx="1865.7" cy="681.7" r="2.1"/>
<circle class="r" cx="1591.7" cy="914.1" r="2.1"/>
<circle class="b" cx="1862.3" cy="803.7" r="2.1"/>
<circle class="b" cx="1626.4" cy="915.0" r="2.1"/>
<circle class="r" cx="1593.9" cy="908.3" r="2.1"/>
<circle class="b" cx="1555.8" cy="931.7" r="2.1"/>
<circle class="r" cx="1646.5" cy="849.2" r="2.1"/>
<circle class="r" cx="1781.7" cy="875.1" r="2.1"/>
<circle class="r" cx="1779.2" cy="860.0" r="2.1"/>
<circle class="b" cx="1804.4" cy="681.4" r="2.1"/>
<circle class="b" cx="1806.0" cy="784.9" r="2.1"/>
<circle class="b" cx="1766.3" cy="810.4" r="2.1"/>
<circle class="b" cx="1840.7" cy="752.8" r="2.1"/>
<circle class="r" cx="1810.1" cy="759.9" r="2.1"/>
<circle class="b" cx="1613.4" cy="904.6" r="2.1"/>
<circle class="r" cx="1883.7" cy="826.3" r="2.1"/>
<circle class="b" cx="1558.9" cy="939.0" r="2.1"/>
<circle class="r" cx="1591.1" cy="820.8" r="2.1"/>
<circle class="r" cx="1558.8" cy="919.2" r="2.1"/>
<circle class="r" cx="1762.7" cy="776.8" r="2.1"/>
<circle class="b" cx="1659.8" cy="817.7" r="2.1"/>
<circle class="b" cx="1889.2" cy="769.3" r="2.1"/>
<circle class="b" cx="1683.1" cy="888.3" r="2.1"/>
<circle class="r" cx="1810.2" cy="826.1" r="2.1"/>
<circle class="b" cx="1682.7" cy="931.3" r="2.1"/>
<circle class="r" cx="1552.7" cy="880.6" r="2.1"/>
<circle class="r" cx="1791.5" cy="817.0" r="2.1"/>
<circle class="b" cx="1818.1" cy="712.1" r="2.1"/>
<circle class="r" cx="1707.7" cy="921.9" r="2.1"/>
<circle class="r" cx="1657.1" cy="879.7" r="2.1"/>
<circle class="r" cx="1835.2" cy="702.2" r="2.1"/>
<circle class="r" cx="1606.5" cy="926.9" r="2.1"/>
<circle class="r" cx="1896.7" cy="798.3" r="2.1"/>
<circle class="b" cx="1756.5" cy="895.6" r="2.1"/>
<circle class="r" cx="1610.1" cy="830.6" r="2.1"/>
<circle class="b" cx="1798.3" cy="867.7" r="2.1"/>
<circle class="b" cx="1584.3" cy="934.0" r="2.1"/>
<circle class="b" cx="1753.8" cy="856.6" r="2.1"/>
<circle class="r" cx="1722.3" cy="876.4" r="2.1"/>
<circle class="b" cx="1840.9" cy="671.7" r="2.1"/>
<circle class="b" cx="1717.7" cy="901.7" r="2.1"/>
<circle class="b" cx="1777.1" cy="733.5" r="2.1"/>
<circle class="r" cx="1654.6" cy="914.4" r="2.1"/>
<circle class="b" cx="1728.8" cy="983.7" r="2.1"/>
<circle class="r" cx="1813.3" cy="915.1" r="2.1"/>
<circle class="r" cx="1844.6" cy="854.6" r="2.1"/>
<circle class="r" cx="1867.4" cy="809.0" r="2.1"/>
<circle class="r" cx="1624.6" cy="889.8" r="2.1"/>
<circle class="r" cx="1909.3" cy="772.8" r="2.1"/>
<circle class="b" cx="1548.8" cy="875.9" r="2.1"/>
<circle class="r" cx="1780.2" cy="750.8" r="2.1"/>
<circle class="r" cx="1905.9" cy="756.0" r="2.1"/>
<circle class="r" cx="1880.4" cy="805.5" r="2.1"/>
<circle class="r" cx="1634.7" cy="903.2" r="2.1"/>
<circle class="r" cx="1852.1" cy="674.5" r="2.1"/>
<circle class="r" cx="1880.4" cy="718.6" r="2.1"/>
<circle class="r" cx="1717.5" cy="916.8" r="2.1"/>
<circle class="b" cx="1810.6" cy="860.6" r="2.1"/>
<circle class="r" cx="1775.2" cy="870.5" r="2.1"/>
<circle class="r" cx="1763.5" cy="737.0" r="2.1"/>
<circle class="r" cx="1853.2" cy="705.8" r="2.1"/>
<circle class="r" cx="1599.1" cy="924.0" r="2.1"/>
<circle class="r" cx="1826.6" cy="714.2" r="2.1"/>
<circle class="r" cx="1789.9" cy="897.5" r="2.1"/>
<circle class="b" cx="1904.6" cy="770.4" r="2.1"/>
<circle class="r" cx="1772.5" cy="727.4" r="2.1"/>
<circle class="r" cx="1577.8" cy="904.7" r="2.1"/>
<circle class="r" cx="1881.4" cy="727.5" r="2.1"/>
<circle class="b" cx="1802.4" cy="880.5" r="2.1"/>
<circle class="r" cx="1809.1" cy="805.4" r="2.1"/>
<circle class="r" cx="1880.2" cy="834.4" r="2.1"/>
<circle class="b" cx="1857.5" cy="754.1" r="2.1"/>
<circle class="r" cx="1906.7" cy="769.9" r="2.1"/>
<circle class="r" cx="1808.2" cy="709.4" r="2.1"/>
<circle class="b" cx="1815.1" cy="833.3" r="2.1"/>
<circle class="b" cx="1691.2" cy="895.5" r="2.1"/>
<circle class="r" cx="1692.3" cy="824.2" r="2.1"/>
<circle class="r" cx="1808.8" cy="728.8" r="2.1"/>
<circle class="r" cx="1863.3" cy="761.4" r="2.1"/>
<circle class="r" cx="1665.8" cy="838.7" r="2.1"/>
<circle class="r" cx="1803.1" cy="888.4" r="2.1"/>
<circle class="r" cx="1766.9" cy="853.9" r="2.1"/>
<circle class="b" cx="1817.6" cy="894.5" r="2.1"/>
<circle class="r" cx="1563.4" cy="883.3" r="2.1"/>
<circle class="r" cx="1621.5" cy="846.6" r="2.1"/>
<circle class="r" cx="1618.3" cy="909.5" r="2.1"/>
<circle class="b" cx="1646.1" cy="873.2" r="2.1"/>
<circle class="r" cx="1853.1" cy="690.2" r="2.1"/>
<circle class="b" cx="1598.0" cy="926.0" r="2.1"/>
<circle class="r" cx="1798.9" cy="833.0" r="2.1"/>
<circle class="r" cx="1815.0" cy="865.5" r="2.1"/>
<circle class="r" cx="1822.9" cy="821.6" r="2.1"/>
<circle class="r" cx="1844.3" cy="716.6" r="2.1"/>
<circle class="b" cx="1562.6" cy="824.9" r="2.1"/>
<circle class="r" cx="1606.0" cy="942.8" r="2.1"/>
<circle class="b" cx="1742.4" cy="885.2" r="2.1"/>
<circle class="b" cx="1812.4" cy="865.7" r="2.1"/>
<circle class="b" cx="1768.1" cy="775.9" r="2.1"/>
<circle class="b" cx="1685.4" cy="865.6" r="2.1"/>
<circle class="b" cx="1594.2" cy="916.8" r="2.1"/>
<circle class="r" cx="1720.5" cy="907.5" r="2.1"/>
<circle class="b" cx="1815.3" cy="781.4" r="2.1"/>
<circle class="r" cx="1789.3" cy="844.2" r="2.1"/>
<circle class="b" cx="1560.8" cy="818.3" r="2.1"/>
<circle class="b" cx="1585.2" cy="868.4" r="2.1"/>
<circle class="r" cx="1869.0" cy="786.1" r="2.1"/>
<circle class="b" cx="1780.4" cy="891.7" r="2.1"/>
<circle class="r" cx="1825.5" cy="898.9" r="2.1"/>
<circle class="b" cx="1784.0" cy="882.0" r="2.1"/>
<circle class="b" cx="1845.3" cy="753.5" r="2.1"/>
<circle class="r" cx="1829.8" cy="702.0" r="2.1"/>
<circle class="r" cx="1882.6" cy="739.5" r="2.1"/>
<circle class="b" cx="1846.1" cy="716.0" r="2.1"/>
<circle class="r" cx="1755.5" cy="724.4" r="2.1"/>
<circle class="r" cx="1730.0" cy="825.4" r="2.1"/>
<circle class="b" cx="1745.0" cy="904.4" r="2.1"/>
<circle class="r" cx="1720.7" cy="814.1" r="2.1"/>
<circle class="r" cx="1615.6" cy="912.5" r="2.1"/>
<circle class="b" cx="1680.1" cy="876.7" r="2.1"/>
<circle class="r" cx="1726.4" cy="897.1" r="2.1"/>
<circle class="r" cx="1586.6" cy="890.1" r="2.1"/>
<circle class="r" cx="1693.8" cy="980.0" r="2.1"/>
<circle class="r" cx="1884.6" cy="804.7" r="2.1"/>
<circle class="r" cx="1683.8" cy="969.2" r="2.1"/>
<circle class="b" cx="1853.9" cy="840.4" r="2.1"/>
<circle class="r" cx="1859.7" cy="695.6" r="2.1"/>
<circle class="b" cx="1721.1" cy="916.3" r="2.1"/>
<circle class="r" cx="1689.2" cy="870.2" r="2.1"/>
<circle class="b" cx="1582.9" cy="910.6" r="2.1"/>
<circle class="b" cx="1770.6" cy="773.6" r="2.1"/>
<circle class="r" cx="1695.6" cy="868.2" r="2.1"/>
<circle class="b" cx="1768.9" cy="912.2" r="2.1"/>
<circle class="r" cx="1839.1" cy="686.6" r="2.1"/>
<circle class="r" cx="1697.5" cy="843.8" r="2.1"/>
<circle class="b" cx="1815.6" cy="840.5" r="2.1"/>
<circle class="b" cx="1841.1" cy="701.4" r="2.1"/>
<circle class="r" cx="1569.5" cy="829.6" r="2.1"/>
<circle class="b" cx="1864.1" cy="724.3" r="2.1"/>
<circle class="r" cx="1636.6" cy="856.2" r="2.1"/>
<circle class="r" cx="1852.0" cy="758.6" r="2.1"/>
<circle class="r" cx="1809.5" cy="799.2" r="2.1"/>
<circle class="b" cx="1595.7" cy="855.1" r="2.1"/>
<circle class="r" cx="1570.0" cy="902.3" r="2.1"/>
<circle class="b" cx="1819.2" cy="780.7" r="2.1"/>
<circle class="r" cx="1870.4" cy="750.1" r="2.1"/>
<circle class="r" cx="1716.7" cy="870.4" r="2.1"/>
<circle class="b" cx="1775.9" cy="731.4" r="2.1"/>
<circle class="b" cx="1766.9" cy="780.5" r="2.1"/>
<circle class="b" cx="1789.2" cy="900.7" r="2.1"/>
<circle class="r" cx="1831.5" cy="749.4" r="2.1"/>
<circle class="b" cx="1824.9" cy="691.1" r="2.1"/>
<circle class="r" cx="1847.5" cy="817.0" r="2.1"/>
<circle class="r" cx="1639.8" cy="868.0" r="2.1"/>
<circle class="b" cx="1737.6" cy="805.8" r="2.1"/>
<circle class="b" cx="1822.2" cy="702.9" r="2.1"/>
<circle class="b" cx="1870.7" cy="791.6" r="2.1"/>
<circle class="r" cx="1867.2" cy="747.2" r="2.1"/>
<circle class="r" cx="1846.3" cy="791.5" r="2.1"/>
<circle class="r" cx="1669.5" cy="864.7" r="2.1"/>
<circle class="b" cx="1641.8" cy="862.5" r="2.1"/>
<circle class="b" cx="1875.9" cy="745.1" r="2.1"/>
<circle class="r" cx="1570.0" cy="882.8" r="2.1"/>
<circle class="r" cx="1664.4" cy="878.5" r="2.1"/>
<circle class="b" cx="1808.4" cy="660.1" r="2.1"/>
<circle class="r" cx="1815.3" cy="741.2" r="2.1"/>
<circle class="r" cx="1810.9" cy="877.5" r="2.1"/>
<circle class="b" cx="1812.0" cy="764.2" r="2.1"/>
<circle class="b" cx="1678.1" cy="860.5" r="2.1"/>
<circle class="r" cx="1820.4" cy="916.5" r="2.1"/>
<circle class="b" cx="1700.2" cy="851.1" r="2.1"/>
<circle class="r" cx="1605.2" cy="933.9" r="2.1"/>
<circle class="r" cx="1832.1" cy="751.9" r="2.1"/>
<circle class="r" cx="1759.7" cy="778.6" r="2.1"/>
<circle class="r" cx="1875.7" cy="754.0" r="2.1"/>
<circle class="b" cx="1708.7" cy="890.2" r="2.1"/>
<circle class="b" cx="1776.6" cy="780.0" r="2.1"/>
<circle class="r" cx="1564.1" cy="816.7" r="2.1"/>
<circle class="r" cx="1809.1" cy="712.9" r="2.1"/>
<circle class="b" cx="1844.8" cy="737.2" r="2.1"/>
<circle class="b" cx="1774.5" cy="759.6" r="2.1"/>
<circle class="b" cx="1745.3" cy="824.4" r="2.1"/>
<circle class="r" cx="1819.3" cy="902.6" r="2.1"/>
<circle class="r" cx="1570.3" cy="804.9" r="2.1"/>
<circle class="b" cx="1900.0" cy="753.8" r="2.1"/>
<circle class="r" cx="1584.0" cy="825.0" r="2.1"/>
<circle class="r" cx="1591.4" cy="883.4" r="2.1"/>
<circle class="r" cx="1842.9" cy="780.3" r="2.1"/>
<circle class="r" cx="1869.5" cy="820.1" r="2.1"/>
<circle class="b" cx="1761.7" cy="757.5" r="2.1"/>
<circle class="b" cx="1740.1" cy="811.8" r="2.1"/>
<circle class="r" cx="1839.5" cy="760.2" r="2.1"/>
<circle class="r" cx="1612.9" cy="864.5" r="2.1"/>
<circle class="r" cx="1768.1" cy="804.3" r="2.1"/>
<circle class="b" cx="1554.8" cy="849.0" r="2.1"/>
<circle class="b" cx="1700.1" cy="981.3" r="2.1"/>
<circle class="r" cx="1733.8" cy="902.3" r="2.1"/>
<circle class="r" cx="1589.3" cy="927.1" r="2.1"/>
<circle class="b" cx="1795.5" cy="849.6" r="2.1"/>
<circle class="r" cx="1638.5" cy="822.5" r="2.1"/>
<circle class="r" cx="1828.0" cy="847.4" r="2.1"/>
<circle class="r" cx="1643.5" cy="820.8" r="2.1"/>
<circle class="r" cx="1903.1" cy="751.2" r="2.1"/>
<circle class="r" cx="1833.1" cy="873.0" r="2.1"/>
<circle class="r" cx="1808.4" cy="875.2" r="2.1"/>
<circle class="r" cx="1569.4" cy="807.2" r="2.1"/>
<circle class="b" cx="1845.3" cy="699.9" r="2.1"/>
<circle class="b" cx="1609.2" cy="944.6" r="2.1"/>
<circle class="r" cx="1805.5" cy="893.8" r="2.1"/>
<circle class="b" cx="1767.0" cy="841.3" r="2.1"/>
<circle class="r" cx="1582.0" cy="862.7" r="2.1"/>
<circle class="r" cx="1832.0" cy="809.3" r="2.1"/>
<circle class="r" cx="1696.0" cy="977.4" r="2.1"/>
<circle class="b" cx="1659.1" cy="908.5" r="2.1"/>
<circle class="r" cx="1788.4" cy="874.6" r="2.1"/>
<circle class="r" cx="1880.1" cy="765.8" r="2.1"/>
<circle class="r" cx="1810.2" cy="703.0" r="2.1"/>
<circle class="r" cx="1813.8" cy="728.1" r="2.1"/>
<circle class="r" cx="1574.0" cy="880.9" r="2.1"/>
<circle class="b" cx="1600.3" cy="901.3" r="2.1"/>
<circle class="b" cx="1859.7" cy="678.7" r="2.1"/>
<circle class="b" cx="1568.3" cy="936.3" r="2.1"/>
<circle class="b" cx="1820.4" cy="759.1" r="2.1"/>
<circle class="r" cx="1830.5" cy="897.4" r="2.1"/>
<circle class="b" cx="1816.7" cy="872.3" r="2.1"/>
<circle class="r" cx="1859.3" cy="788.7" r="2.1"/>
<circle class="r" cx="1817.4" cy="888.0" r="2.1"/>
<circle class="b" cx="1817.3" cy="785.1" r="2.1"/>
<circle class="r" cx="1661.6" cy="900.5" r="2.1"/>
<circle class="r" cx="1731.6" cy="913.7" r="2.1"/>
<circle class="r" cx="1572.7" cy="822.4" r="2.1"/>
<circle class="b" cx="1688.6" cy="864.0" r="2.1"/>
<circle class="b" cx="1605.7" cy="943.1" r="2.1"/>
<circle class="b" cx="1878.9" cy="715.3" r="2.1"/>
<circle class="r" cx="1902.0" cy="786.1" r="2.1"/>
<circle class="b" cx="1824.1" cy="871.7" r="2.1"/>
<circle class="r" cx="1846.3" cy="731.3" r="2.1"/>
<circle class="b" cx="1865.9" cy="758.2" r="2.1"/>
<circle class="r" cx="1733.0" cy="883.3" r="2.1"/>
<circle class="r" cx="1833.3" cy="842.1" r="2.1"/>
<circle class="r" cx="1601.2" cy="908.6" r="2.1"/>
<circle class="b" cx="1826.3" cy="753.2" r="2.1"/>
<circle class="b" cx="1733.5" cy="875.6" r="2.1"/>
<circle class="b" cx="1576.6" cy="955.0" r="2.1"/>
<circle class="r" cx="1787.6" cy="836.6" r="2.1"/>
<circle class="r" cx="1871.4" cy="756.2" r="2.1"/>
<circle class="b" cx="1821.4" cy="905.5" r="2.1"/>
<circle class="b" cx="1817.7" cy="855.6" r="2.1"/>
<circle class="r" cx="1654.3" cy="822.0" r="2.1"/>
<circle class="r" cx="1905.4" cy="779.9" r="2.1"/>
<circle class="b" cx="1789.9" cy="864.8" r="2.1"/>
<circle class="b" cx="1718.9" cy="868.0" r="2.1"/>
<circle class="b" cx="1621.5" cy="919.9" r="2.1"/>
<circle class="r" cx="1789.9" cy="894.9" r="2.1"/>
<circle class="r" cx="1574.3" cy="953.0" r="2.1"/>
<circle class="r" cx="1561.3" cy="880.4" r="2.1"/>
<circle class="r" cx="1588.0" cy="874.5" r="2.1"/>
<circle class="r" cx="1900.3" cy="758.6" r="2.1"/>
<circle class="b" cx="1796.8" cy="852.2" r="2.1"/>
<circle class="b" cx="1878.6" cy="773.9" r="2.1"/>
<circle class="r" cx="1852.2" cy="772.0" r="2.1"/>
<circle class="b" cx="1841.8" cy="669.3" r="2.1"/>
<circle class="b" cx="1809.6" cy="769.2" r="2.1"/>
<circle class="r" cx="1625.7" cy="931.4" r="2.1"/>
<circle class="r" cx="1845.8" cy="847.4" r="2.1"/>
<circle class="b" cx="1885.5" cy="803.3" r="2.1"/>
<circle class="r" cx="1584.2" cy="942.4" r="2.1"/>
<circle class="r" cx="1681.6" cy="888.4" r="2.1"/>
<circle class="r" cx="1677.5" cy="933.5" r="2.1"/>
<circle class="b" cx="1813.7" cy="803.3" r="2.1"/>
<circle class="r" cx="1827.0" cy="723.2" r="2.1"/>
<circle class="r" cx="1869.6" cy="734.6" r="2.1"/>
<circle class="r" cx="1848.4" cy="713.0" r="2.1"/>
<circle class="b" cx="1654.7" cy="830.5" r="2.1"/>
<circle class="b" cx="1786.3" cy="818.9" r="2.1"/>
<circle class="r" cx="1724.8" cy="837.4" r="2.1"/>
<circle class="r" cx="1888.6" cy="804.7" r="2.1"/>
<circle class="r" cx="1801.0" cy="667.2" r="2.1"/>
<circle class="r" cx="1784.6" cy="836.9" r="2.1"/>
<circle class="b" cx="1613.0" cy="906.0" r="2.1"/>
<circle class="r" cx="1784.5" cy="879.6" r="2.1"/>
<circle class="b" cx="1725.4" cy="985.6" r="2.1"/>
<circle class="r" cx="1839.6" cy="777.2" r="2.1"/>
<circle class="b" cx="1868.5" cy="715.1" r="2.1"/>
<circle class="b" cx="1765.6" cy="708.4" r="2.1"/>
<circle class="r" cx="1781.6" cy="886.0" r="2.1"/>
<circle class="r" cx="1798.1" cy="917.8" r="2.1"/>
<circle class="r" cx="1567.0" cy="930.0" r="2.1"/>
<circle class="b" cx="1671.8" cy="927.3" r="2.1"/>
<circle class="r" cx="1853.0" cy="824.4" r="2.1"/>
<circle class="r" cx="1637.8" cy="859.2" r="2.1"/>
<circle class="r" cx="1598.9" cy="835.5" r="2.1"/>
<circle class="r" cx="1837.7" cy="846.4" r="2.1"/>
<circle class="b" cx="1845.6" cy="810.5" r="2.1"/>
<circle class="r" cx="1553.6" cy="869.7" r="2.1"/>
<circle class="b" cx="1785.9" cy="799.2" r="2.1"/>
<circle class="r" cx="1779.7" cy="893.6" r="2.1"/>
<circle class="b" cx="1885.6" cy="741.7" r="2.1"/>
<circle class="r" cx="1847.6" cy="754.4" r="2.1"/>
<circle class="r" cx="1639.0" cy="851.8" r="2.1"/>
<circle class="r" cx="1839.2" cy="664.5" r="2.1"/>
<circle class="r" cx="1889.2" cy="769.9" r="2.1"/>
<circle class="r" cx="1581.1" cy="910.7" r="2.1"/>
<circle class="r" cx="1883.7" cy="718.1" r="2.1"/>
<circle class="b" cx="1772.3" cy="875.5" r="2.1"/>
<circle class="b" cx="1813.5" cy="892.7" r="2.1"/>
<circle class="b" cx="1852.3" cy="824.8" r="2.1"/>
<circle class="r" cx="1671.0" cy="831.5" r="2.1"/>
<circle class="r" cx="1785.1" cy="847.2" r="2.1"/>
<circle class="b" cx="1802.1" cy="889.3" r="2.1"/>
<circle class="b" cx="1815.6" cy="857.2" r="2.1"/>
<circle class="r" cx="1777.0" cy="766.9" r="2.1"/>
<circle class="r" cx="1788.7" cy="872.9" r="2.1"/>
<circle class="r" cx="1761.2" cy="893.9" r="2.1"/>
<circle class="b" cx="1719.7" cy="987.0" r="2.1"/>
<circle class="r" cx="1777.0" cy="738.7" r="2.1"/>
<circle class="b" cx="1595.0" cy="856.8" r="2.1"/>
<circle class="r" cx="1823.8" cy="778.2" r="2.1"/>
<circle class="r" cx="1659.1" cy="850.0" r="2.1"/>
<circle class="r" cx="1826.4" cy="843.5" r="2.1"/>
<circle class="r" cx="1878.9" cy="753.1" r="2.1"/>
<circle class="b" cx="1850.3" cy="666.6" r="2.1"/>
<circle class="b" cx="1792.6" cy="884.5" r="2.1"/>
<circle class="b" cx="1793.0" cy="874.1" r="2.1"/>
<circle class="b" cx="1888.0" cy="721.8" r="2.1"/>
<circle class="b" cx="1769.3" cy="713.9" r="2.1"/>
<circle class="b" cx="1712.2" cy="850.8" r="2.1"/>
<circle class="r" cx="1651.6" cy="872.3" r="2.1"/>
<circle class="r" cx="1874.4" cy="717.3" r="2.1"/>
<circle class="b" cx="1778.8" cy="737.9" r="2.1"/>
<circle class="b" cx="1880.0" cy="726.5" r="2.1"/>
<circle class="b" cx="1679.4" cy="918.4" r="2.1"/>
<circle class="b" cx="1689.6" cy="923.6" r="2.1"/>
<circle class="b" cx="1577.6" cy="922.0" r="2.1"/>
<circle class="b" cx="1795.4" cy="675.9" r="2.1"/>
<circle class="r" cx="1835.6" cy="679.6" r="2.1"/>
<circle class="b" cx="1667.4" cy="875.8" r="2.1"/>
<circle class="r" cx="1816.0" cy="679.5" r="2.1"/>
<circle class="r" cx="1885.0" cy="808.5" r="2.1"/>
<circle class="r" cx="1562.3" cy="822.4" r="2.1"/>
<circle class="r" cx="1648.5" cy="889.2" r="2.1"/>
<circle class="r" cx="1611.8" cy="931.3" r="2.1"/>
<circle class="b" cx="1654.7" cy="859.1" r="2.1"/>
<circle class="b" cx="1845.7" cy="693.7" r="2.1"/>
<circle class="b" cx="1808.8" cy="872.6" r="2.1"/>
<circle class="b" cx="1857.6" cy="827.6" r="2.1"/>
<circle class="b" cx="1711.8" cy="878.4" r="2.1"/>
<circle class="b" cx="1626.5" cy="852.0" r="2.1"/>
<circle class="b" cx="1742.9" cy="805.8" r="2.1"/>
<circle class="r" cx="1840.6" cy="725.1" r="2.1"/>
<circle class="b" cx="1772.8" cy="914.6" r="2.1"/>
<circle class="r" cx="1631.0" cy="869.5" r="2.1"/>
<circle class="r" cx="1901.8" cy="772.0" r="2.1"/>
<circle class="r" cx="1554.9" cy="891.8" r="2.1"/>
<circle class="b" cx="1731.7" cy="870.7" r="2.1"/>
<circle class="b" cx="1857.5" cy="712.7" r="2.1"/>
<circle class="r" cx="1725.0" cy="867.9" r="2.1"/>
<circle class="b" cx="1612.5" cy="860.9" r="2.1"/>
<circle class="b" cx="1879.6" cy="781.0" r="2.1"/>
<circle class="r" cx="1823.2" cy="910.7" r="2.1"/>
<circle class="r" cx="1896.6" cy="749.9" r="2.1"/>
<circle class="b" cx="1869.4" cy="743.5" r="2.1"/>
<circle class="r" cx="1566.2" cy="936.8" r="2.1"/>
<circle class="r" cx="1841.9" cy="667.2" r="2.1"/>
<circle class="b" cx="1807.5" cy="757.7" r="2.1"/>
<circle class="r" cx="1853.1" cy="794.0" r="2.1"/>
<circle class="b" cx="1552.8" cy="877.3" r="2.1"/>
<circle class="r" cx="1820.7" cy="765.5" r="2.1"/>
<circle class="r" cx="1569.1" cy="910.6" r="2.1"/>
<circle class="r" cx="1864.7" cy="830.3" r="2.1"/>
<circle class="r" cx="1848.3" cy="761.7" r="2.1"/>
<circle class="r" cx="1829.8" cy="687.2" r="2.1"/>
<circle class="r" cx="1550.1" cy="887.5" r="2.1"/>
<circle class="b" cx="1758.3" cy="744.6" r="2.1"/>
<circle class="r" cx="1770.8" cy="744.5" r="2.1"/>
<circle class="r" cx="1571.4" cy="930.9" r="2.1"/>
<circle class="b" cx="1547.7" cy="892.3" r="2.1"/>
<circle class="r" cx="1667.6" cy="861.3" r="2.1"/>
<circle class="r" cx="1826.8" cy="680.1" r="2.1"/>
<circle class="r" cx="1879.8" cy="823.3" r="2.1"/>
<circle class="r" cx="1743.3" cy="892.8" r="2.1"/>
<circle class="r" cx="1822.6" cy="754.3" r="2.1"/>
<circle class="r" cx="1663.8" cy="904.5" r="2.1"/>
<circle class="b" cx="1596.3" cy="853.5" r="2.1"/>
<circle class="r" cx="1817.9" cy="691.9" r="2.1"/>
<circle class="r" cx="1588.0" cy="939.5" r="2.1"/>
<circle class="r" cx="1765.2" cy="754.4" r="2.1"/>
<circle class="r" cx="1887.9" cy="729.0" r="2.1"/>
<circle class="b" cx="1766.0" cy="790.0" r="2.1"/>
<circle class="b" cx="1845.3" cy="810.4" r="2.1"/>
<circle class="r" cx="1809.7" cy="694.3" r="2.1"/>
<circle class="b" cx="1795.5" cy="822.2" r="2.1"/>
<circle class="r" cx="1798.3" cy="853.4" r="2.1"/>
<circle class="b" cx="1733.5" cy="811.3" r="2.1"/>
<circle class="b" cx="1686.8" cy="823.8" r="2.1"/>
<circle class="b" cx="1774.1" cy="782.4" r="2.1"/>
<circle class="b" cx="1602.2" cy="865.5" r="2.1"/>
<circle class="r" cx="1724.2" cy="878.4" r="2.1"/>
<circle class="r" cx="1784.9" cy="900.4" r="2.1"/>
<circle class="r" cx="1622.9" cy="924.9" r="2.1"/>
<circle class="r" cx="1796.1" cy="689.9" r="2.1"/>
<circle class="b" cx="1626.6" cy="846.9" r="2.1"/>
<circle class="r" cx="1837.5" cy="791.5" r="2.1"/>
<circle class="r" cx="1577.0" cy="950.5" r="2.1"/>
<circle class="r" cx="1815.7" cy="715.5" r="2.1"/>
<circle class="r" cx="1565.6" cy="948.4" r="2.1"/>
<circle class="b" cx="1802.4" cy="684.5" r="2.1"/>
<circle class="r" cx="1648.0" cy="861.1" r="2.1"/>
<circle class="r" cx="1887.8" cy="726.9" r="2.1"/>
<circle class="b" cx="1783.9" cy="901.8" r="2.1"/>
<circle class="r" cx="1807.8" cy="909.1" r="2.1"/>
<circle class="b" cx="1676.6" cy="888.7" r="2.1"/>
<circle class="r" cx="1628.4" cy="918.1" r="2.1"/>
<circle class="b" cx="1552.5" cy="848.2" r="2.1"/>
<circle class="r" cx="1866.1" cy="720.1" r="2.1"/>
<circle class="r" cx="1841.8" cy="703.4" r="2.1"/>
<circle class="b" cx="1789.6" cy="879.7" r="2.1"/>
<circle class="r" cx="1855.5" cy="824.0" r="2.1"/>
<circle class="r" cx="1848.5" cy="821.7" r="2.1"/>
<circle class="r" cx="1845.3" cy="828.5" r="2.1"/>
<circle class="b" cx="1858.0" cy="800.2" r="2.1"/>
<circle class="r" cx="1550.2" cy="886.1" r="2.1"/>
<circle class="b" cx="1757.4" cy="708.4" r="2.1"/>
<circle class="r" cx="1857.9" cy="750.7" r="2.1"/>
<circle class="r" cx="1764.2" cy="834.8" r="2.1"/>
<circle class="r" cx="1805.4" cy="849.7" r="2.1"/>
<circle class="r" cx="1859.5" cy="835.6" r="2.1"/>
<circle class="b" cx="1777.0" cy="840.5" r="2.1"/>
<circle class="r" cx="1557.9" cy="833.4" r="2.1"/>
<circle class="b" cx="1881.2" cy="818.0" r="2.1"/>
<circle class="r" cx="1846.8" cy="750.2" r="2.1"/>
<circle class="b" cx="1844.3" cy="845.5" r="2.1"/>
<circle class="b" cx="1811.7" cy="661.2" r="2.1"/>
<circle class="r" cx="1576.2" cy="945.3" r="2.1"/>
<circle class="b" cx="1809.3" cy="718.4" r="2.1"/>
<circle class="b" cx="1873.0" cy="831.1" r="2.1"/>
<circle class="r" cx="1822.8" cy="706.1" r="2.1"/>
<circle class="r" cx="1801.0" cy="809.7" r="2.1"/>
<circle class="r" cx="1839.5" cy="795.5" r="2.1"/>
<circle class="r" cx="1800.2" cy="857.9" r="2.1"/>
<circle class="b" cx="1628.4" cy="850.8" r="2.1"/>
<circle class="b" cx="1861.4" cy="781.0" r="2.1"/>
<circle class="r" cx="1658.7" cy="903.6" r="2.1"/>
<circle class="r" cx="1885.8" cy="718.3" r="2.1"/>
<circle class="r" cx="1855.1" cy="742.5" r="2.1"/>
<circle class="r" cx="1901.5" cy="784.9" r="2.1"/>
<circle class="b" cx="1763.5" cy="806.1" r="2.1"/>
<circle class="r" cx="1796.9" cy="839.2" r="2.1"/>
<circle class="b" cx="1872.6" cy="803.8" r="2.1"/>
<circle class="r" cx="1802.5" cy="675.5" r="2.1"/>
<circle class="b" cx="1803.9" cy="832.3" r="2.1"/>
<circle class="r" cx="1864.0" cy="735.0" r="2.1"/>
<circle class="b" cx="1773.8" cy="856.5" r="2.1"/>
<circle class="r" cx="1579.2" cy="903.8" r="2.1"/>
<circle class="b" cx="1707.8" cy="875.2" r="2.1"/>
<circle class="r" cx="1819.0" cy="673.9" r="2.1"/>
<circle class="b" cx="1671.3" cy="853.5" r="2.1"/>
<circle class="b" cx="1737.4" cy="830.3" r="2.1"/>
<circle class="r" cx="1812.3" cy="907.9" r="2.1"/>
<circle class="b" cx="1826.8" cy="777.6" r="2.1"/>
<circle class="b" cx="1803.9" cy="760.3" r="2.1"/>
<circle class="b" cx="1850.6" cy="670.2" r="2.1"/>
<circle class="r" cx="1740.7" cy="867.9" r="2.1"/>
<circle class="b" cx="1800.3" cy="687.1" r="2.1"/>
<circle class="r" cx="1773.8" cy="763.5" r="2.1"/>
<circle class="r" cx="1803.5" cy="907.7" r="2.1"/>
<circle class="r" cx="1600.3" cy="894.5" r="2.1"/>
<circle class="r" cx="1649.1" cy="832.5" r="2.1"/>
<circle class="r" cx="1594.9" cy="868.0" r="2.1"/>
<circle class="b" cx="1814.6" cy="680.2" r="2.1"/>
<circle class="r" cx="1879.3" cy="788.1" r="2.1"/>
<circle class="b" cx="1880.1" cy="804.1" r="2.1"/>
<circle class="r" cx="1813.5" cy="911.6" r="2.1"/>
<circle class="b" cx="1848.3" cy="681.3" r="2.1"/>
<circle class="b" cx="1849.3" cy="844.8" r="2.1"/>
<circle class="b" cx="1692.9" cy="925.7" r="2.1"/>
<circle class="b" cx="1781.2" cy="732.4" r="2.1"/>
<circle class="r" cx="1852.0" cy="772.9" r="2.1"/>
<circle class="r" cx="1767.9" cy="916.5" r="2.1"/>
<circle class="b" cx="1801.4" cy="824.9" r="2.1"/>
<circle class="b" cx="1743.6" cy="843.4" r="2.1"/>
<circle class="b" cx="1642.0" cy="896.9" r="2.1"/>
<circle class="b" cx="1604.3" cy="941.4" r="2.1"/>
<circle class="r" cx="1852.4" cy="840.6" r="2.1"/>
<circle class="b" cx="1861.0" cy="798.0" r="2.1"/>
<circle class="r" cx="1801.2" cy="702.8" r="2.1"/>
<circle class="b" cx="1824.9" cy="873.0" r="2.1"/>
<circle class="r" cx="1882.6" cy="709.6" r="2.1"/>
<circle class="b" cx="1861.8" cy="727.9" r="2.1"/>
<circle class="r" cx="1660.6" cy="935.2" r="2.1"/>
<circle class="b" cx="1583.8" cy="951.8" r="2.1"/>
<circle class="b" cx="1572.8" cy="940.8" r="2.1"/>
<circle class="b" cx="1816.1" cy="659.1" r="2.1"/>
<circle class="b" cx="1731.7" cy="896.9" r="2.1"/>
<circle class="b" cx="1832.3" cy="794.7" r="2.1"/>
<circle class="b" cx="1556.7" cy="924.8" r="2.1"/>
<circle class="b" cx="1859.7" cy="673.6" r="2.1"/>
<circle class="b" cx="1873.5" cy="767.1" r="2.1"/>
<circle class="b" cx="1595.8" cy="906.5" r="2.1"/>
<circle class="r" cx="1865.6" cy="805.4" r="2.1"/>
<circle class="b" cx="1640.5" cy="921.7" r="2.1"/>
<circle class="b" cx="1795.8" cy="894.2" r="2.1"/>
<circle class="r" cx="1748.5" cy="711.9" r="2.1"/>
<circle class="r" cx="1822.1" cy="817.8" r="2.1"/>
<circle class="r" cx="1580.9" cy="952.3" r="2.1"/>
<circle class="r" cx="1825.9" cy="784.7" r="2.1"/>
<circle class="r" cx="1650.8" cy="853.6" r="2.1"/>
<circle class="b" cx="1779.7" cy="900.7" r="2.1"/>
<circle class="b" cx="1668.3" cy="845.9" r="2.1"/>
<circle class="b" cx="1572.9" cy="879.1" r="2.1"/>
<circle class="b" cx="1818.0" cy="770.4" r="2.1"/>
<circle class="r" cx="1808.4" cy="851.8" r="2.1"/>
<circle class="b" cx="1820.9" cy="903.7" r="2.1"/>
<circle class="b" cx="1809.3" cy="828.5" r="2.1"/>
<circle class="r" cx="1798.3" cy="807.5" r="2.1"/>
<circle class="b" cx="1841.5" cy="824.1" r="2.1"/>
<circle class="b" cx="1766.4" cy="843.1" r="2.1"/>
<circle class="r" cx="1825.9" cy="792.8" r="2.1"/>
<circle class="r" cx="1808.0" cy="866.0" r="2.1"/>
<circle class="b" cx="1716.2" cy="917.3" r="2.1"/>
<circle class="b" cx="1861.6" cy="685.6" r="2.1"/>
<circle class="r" cx="1863.8" cy="741.2" r="2.1"/>
<circle class="r" cx="1654.7" cy="924.0" r="2.1"/>
<circle class="b" cx="1837.3" cy="819.3" r="2.1"/>
<circle class="b" cx="1711.2" cy="821.6" r="2.1"/>
<circle class="b" cx="1803.1" cy="805.4" r="2.1"/>
<circle class="r" cx="1853.8" cy="847.9" r="2.1"/>
<circle class="r" cx="1551.0" cy="880.0" r="2.1"/>
<circle class="r" cx="1860.6" cy="756.7" r="2.1"/>
<circle class="r" cx="1824.4" cy="712.3" r="2.1"/>
<circle class="b" cx="1875.5" cy="711.4" r="2.1"/>
<circle class="b" cx="1577.2" cy="940.6" r="2.1"/>
<circle class="b" cx="1848.5" cy="781.0" r="2.1"/>
<circle class="b" cx="1864.5" cy="729.7" r="2.1"/>
<circle class="b" cx="1813.9" cy="902.7" r="2.1"/>
<circle class="b" cx="1745.0" cy="942.2" r="2.1"/>
<circle class="b" cx="1730.8" cy="884.1" r="2.1"/>
<circle class="r" cx="1824.7" cy="697.0" r="2.1"/>
<circle class="b" cx="1822.6" cy="753.4" r="2.1"/>
<circle class="r" cx="1767.1" cy="813.8" r="2.1"/>
<circle class="r" cx="1792.9" cy="898.5" r="2.1"/>
<circle class="r" cx="1820.0" cy="785.3" r="2.1"/>
<circle class="b" cx="1804.0" cy="816.9" r="2.1"/>
<circle class="b" cx="1871.8" cy="800.1" r="2.1"/>
<circle class="b" cx="1844.8" cy="731.0" r="2.1"/>
<circle class="b" cx="1871.5" cy="752.5" r="2.1"/>
<circle class="r" cx="1764.8" cy="718.0" r="2.1"/>
<circle class="b" cx="1839.3" cy="750.3" r="2.1"/>
<circle class="b" cx="1585.3" cy="922.6" r="2.1"/>
<circle class="r" cx="1859.9" cy="726.8" r="2.1"/>
<circle class="r" cx="1907.5" cy="762.3" r="2.1"/>
<circle class="r" cx="1592.1" cy="943.9" r="2.1"/>
<circle class="r" cx="1831.5" cy="862.5" r="2.1"/>
<circle class="r" cx="1585.9" cy="939.5" r="2.1"/>
<circle class="b" cx="1780.2" cy="769.1" r="2.1"/>
<circle class="r" cx="1855.7" cy="772.8" r="2.1"/>
<circle class="b" cx="1804.1" cy="702.0" r="2.1"/>
<circle class="b" cx="1588.5" cy="915.4" r="2.1"/>
<circle class="b" cx="1874.8" cy="799.5" r="2.1"/>
<circle class="r" cx="1565.7" cy="888.9" r="2.1"/>
<circle class="b" cx="1801.8" cy="715.7" r="2.1"/>
<circle class="r" cx="1846.2" cy="683.7" r="2.1"/>
<circle class="r" cx="1852.9" cy="789.0" r="2.1"/>
<circle class="r" cx="1840.6" cy="790.4" r="2.1"/>
<circle class="b" cx="1566.9" cy="887.2" r="2.1"/>
<circle class="r" cx="1815.5" cy="755.0" r="2.1"/>
<circle class="r" cx="1817.1" cy="913.5" r="2.1"/>
<circle class="r" cx="1667.2" cy="821.9" r="2.1"/>
<circle class="r" cx="1866.8" cy="681.2" r="2.1"/>
<circle class="r" cx="1859.4" cy="677.1" r="2.1"/>
<circle class="b" cx="1901.3" cy="787.2" r="2.1"/>
<circle class="b" cx="1625.4" cy="888.7" r="2.1"/>
<circle class="r" cx="1804.6" cy="896.2" r="2.1"/>
<circle class="r" cx="1621.7" cy="896.9" r="2.1"/>
<circle class="b" cx="1672.5" cy="830.0" r="2.1"/>
<circle class="b" cx="1578.3" cy="897.3" r="2.1"/>
<circle class="r" cx="1592.3" cy="925.7" r="2.1"/>
<circle class="b" cx="1683.5" cy="831.2" r="2.1"/>
<circle class="b" cx="1809.9" cy="789.3" r="2.1"/>
<circle class="b" cx="1767.1" cy="840.9" r="2.1"/>
<circle class="r" cx="1560.3" cy="828.7" r="2.1"/>
<circle class="b" cx="1863.4" cy="694.8" r="2.1"/>
<circle class="r" cx="1608.7" cy="939.4" r="2.1"/>
<circle class="r" cx="1765.3" cy="853.5" r="2.1"/>
<circle class="r" cx="1766.0" cy="829.0" r="2.1"/>
<circle class="r" cx="1822.1" cy="805.6" r="2.1"/>
<circle class="b" cx="1873.0" cy="705.8" r="2.1"/>
<circle class="r" cx="1788.0" cy="865.1" r="2.1"/>
<circle class="b" cx="1682.4" cy="864.7" r="2.1"/>
<circle class="b" cx="1789.0" cy="853.4" r="2.1"/>
<circle class="b" cx="1788.4" cy="828.7" r="2.1"/>
<circle class="b" cx="1795.1" cy="862.1" r="2.1"/>
<circle class="r" cx="1826.7" cy="658.0" r="2.1"/>
<circle class="b" cx="1881.9" cy="809.8" r="2.1"/>
<circle class="r" cx="1588.4" cy="928.2" r="2.1"/>
<circle class="b" cx="1824.3" cy="784.3" r="2.1"/>
<circle class="r" cx="1587.0" cy="865.7" r="2.1"/>
<circle class="r" cx="1577.6" cy="926.8" r="2.1"/>
<circle class="b" cx="1706.4" cy="866.8" r="2.1"/>
<circle class="b" cx="1685.2" cy="913.9" r="2.1"/>
<circle class="r" cx="1770.1" cy="878.9" r="2.1"/>
<circle class="r" cx="1796.9" cy="916.1" r="2.1"/>
<circle class="r" cx="1868.0" cy="708.3" r="2.1"/>
<circle class="r" cx="1654.1" cy="915.6" r="2.1"/>
<circle class="r" cx="1737.7" cy="899.2" r="2.1"/>
<circle class="b" cx="1790.0" cy="712.0" r="2.1"/>
<circle class="b" cx="1861.7" cy="743.7" r="2.1"/>
<circle class="r" cx="1676.4" cy="826.7" r="2.1"/>
<circle class="r" cx="1842.8" cy="749.8" r="2.1"/>
<circle class="b" cx="1736.0" cy="925.5" r="2.1"/>
<circle class="r" cx="1838.8" cy="877.4" r="2.1"/>
<circle class="r" cx="1839.5" cy="851.1" r="2.1"/>
<circle class="r" cx="1691.3" cy="873.5" r="2.1"/>
<circle class="r" cx="1657.3" cy="816.5" r="2.1"/>
<circle class="b" cx="1609.6" cy="937.0" r="2.1"/>
<circle class="r" cx="1563.8" cy="904.3" r="2.1"/>
<circle class="b" cx="1846.1" cy="770.5" r="2.1"/>
<circle class="r" cx="1832.1" cy="830.7" r="2.1"/>
<circle class="r" cx="1594.9" cy="838.6" r="2.1"/>
<circle class="b" cx="1819.0" cy="741.0" r="2.1"/>
<circle class="r" cx="1683.0" cy="891.0" r="2.1"/>
<circle class="r" cx="1759.9" cy="846.7" r="2.1"/>
<circle class="b" cx="1853.5" cy="709.9" r="2.1"/>
<circle class="b" cx="1858.1" cy="667.8" r="2.1"/>
<circle class="r" cx="1563.9" cy="802.1" r="2.1"/>
<circle class="r" cx="1820.2" cy="751.8" r="2.1"/>
<circle class="r" cx="1669.4" cy="893.7" r="2.1"/>
<circle class="r" cx="1908.9" cy="756.5" r="2.1"/>
<circle class="r" cx="1811.5" cy="666.2" r="2.1"/>
<circle class="b" cx="1635.6" cy="912.1" r="2.1"/>
<circle class="b" cx="1577.8" cy="895.1" r="2.1"/>
<circle class="r" cx="1798.2" cy="821.6" r="2.1"/>
<circle class="r" cx="1786.7" cy="848.7" r="2.1"/>
<circle class="r" cx="1603.8" cy="924.1" r="2.1"/>
<circle class="b" cx="1747.7" cy="881.9" r="2.1"/>
<circle class="r" cx="1836.8" cy="888.7" r="2.1"/>
<circle class="b" cx="1805.4" cy="768.3" r="2.1"/>
<circle class="r" cx="1756.6" cy="868.6" r="2.1"/>
<circle class="r" cx="1844.7" cy="751.3" r="2.1"/>
<circle class="r" cx="1636.7" cy="867.2" r="2.1"/>
<circle class="r" cx="1590.5" cy="911.5" r="2.1"/>
<circle class="r" cx="1909.7" cy="770.7" r="2.1"/>
<circle class="r" cx="1600.1" cy="849.4" r="2.1"/>
<circle class="r" cx="1806.5" cy="810.7" r="2.1"/>
<circle class="r" cx="1562.2" cy="836.5" r="2.1"/>
<circle class="b" cx="1698.7" cy="849.8" r="2.1"/>
<circle class="b" cx="1786.6" cy="902.3" r="2.1"/>
<circle class="b" cx="1730.3" cy="812.6" r="2.1"/>
<circle class="b" cx="1863.3" cy="664.6" r="2.1"/>
<circle class="r" cx="1597.5" cy="872.9" r="2.1"/>
<circle class="r" cx="1573.2" cy="899.9" r="2.1"/>
<circle class="b" cx="1843.0" cy="790.4" r="2.1"/>
<circle class="b" cx="1793.4" cy="856.6" r="2.1"/>
<circle class="r" cx="1811.7" cy="683.7" r="2.1"/>
<circle class="b" cx="1748.6" cy="705.0" r="2.1"/>
<circle class="r" cx="1767.1" cy="862.9" r="2.1"/>
<circle class="b" cx="1804.2" cy="891.0" r="2.1"/>
<circle class="r" cx="1851.2" cy="659.3" r="2.1"/>
<circle class="r" cx="1789.5" cy="861.2" r="2.1"/>
<circle class="r" cx="1795.6" cy="873.9" r="2.1"/>
<circle class="b" cx="1856.5" cy="723.5" r="2.1"/>
<circle class="b" cx="1595.0" cy="822.9" r="2.1"/>
<circle class="r" cx="1821.2" cy="709.1" r="2.1"/>
<circle class="b" cx="1793.1" cy="806.3" r="2.1"/>
<circle class="r" cx="1825.9" cy="687.1" r="2.1"/>
<circle class="r" cx="1562.8" cy="883.7" r="2.1"/>
<circle class="b" cx="1716.7" cy="889.2" r="2.1"/>
<circle class="b" cx="1825.9" cy="661.8" r="2.1"/>
<circle class="r" cx="1709.4" cy="847.3" r="2.1"/>
<circle class="r" cx="1873.8" cy="837.8" r="2.1"/>
<circle class="r" cx="1826.7" cy="903.3" r="2.1"/>
<circle class="b" cx="1805.5" cy="809.8" r="2.1"/>
<circle class="r" cx="1764.6" cy="730.0" r="2.1"/>
<circle class="b" cx="1732.0" cy="933.7" r="2.1"/>
<circle class="b" cx="1804.0" cy="820.9" r="2.1"/>
<circle class="b" cx="1868.6" cy="783.7" r="2.1"/>
<circle class="r" cx="1874.0" cy="769.0" r="2.1"/>
<circle class="r" cx="1829.6" cy="768.8" r="2.1"/>
<circle class="r" cx="1904.6" cy="776.4" r="2.1"/>
<circle class="b" cx="1854.4" cy="803.0" r="2.1"/>
<circle class="r" cx="1678.0" cy="876.7" r="2.1"/>
<circle class="b" cx="1878.8" cy="803.6" r="2.1"/>
<circle class="b" cx="1563.2" cy="903.9" r="2.1"/>
<circle class="r" cx="1888.7" cy="743.8" r="2.1"/>
<circle class="b" cx="1874.3" cy="688.5" r="2.1"/>
<circle class="b" cx="1834.3" cy="704.0" r="2.1"/>
<circle class="b" cx="1881.6" cy="815.3" r="2.1"/>
<circle class="b" cx="1579.0" cy="937.0" r="2.1"/>
<circle class="r" cx="1883.8" cy="767.1" r="2.1"/>
<circle class="r" cx="1631.2" cy="927.6" r="2.1"/>
<circle class="r" cx="1862.3" cy="720.1" r="2.1"/>
<circle class="r" cx="1711.9" cy="867.5" r="2.1"/>
<circle class="b" cx="1767.0" cy="715.9" r="2.1"/>
<circle class="r" cx="1826.2" cy="907.3" r="2.1"/>
<circle class="b" cx="1550.1" cy="846.8" r="2.1"/>
<circle class="r" cx="1574.4" cy="921.5" r="2.1"/>
<circle class="r" cx="1591.0" cy="889.4" r="2.1"/>
<circle class="b" cx="1830.9" cy="812.5" r="2.1"/>
<circle class="r" cx="1860.4" cy="818.8" r="2.1"/>
<circle class="r" cx="1810.0" cy="681.5" r="2.1"/>
<circle class="r" cx="1858.3" cy="741.7" r="2.1"/>
<circle class="r" cx="1684.1" cy="884.2" r="2.1"/>
<circle class="r" cx="1745.8" cy="927.2" r="2.1"/>
<circle class="b" cx="1698.2" cy="923.6" r="2.1"/>
<circle class="b" cx="1714.3" cy="876.1" r="2.1"/>
<circle class="b" cx="1640.5" cy="918.4" r="2.1"/>
<circle class="r" cx="1580.6" cy="863.4" r="2.1"/>
<circle class="r" cx="1770.4" cy="817.3" r="2.1"/>
<circle class="r" cx="1847.2" cy="754.0" r="2.1"/>
<circle class="b" cx="1586.5" cy="892.5" r="2.1"/>
<circle class="b" cx="1892.0" cy="818.4" r="2.1"/>
<circle class="r" cx="1646.8" cy="872.1" r="2.1"/>
<circle class="r" cx="1679.2" cy="914.9" r="2.1"/>
<circle class="r" cx="1804.0" cy="759.7" r="2.1"/>
<circle class="r" cx="1638.9" cy="828.0" r="2.1"/>
<circle class="b" cx="1820.6" cy="764.8" r="2.1"/>
<circle class="r" cx="1883.5" cy="731.3" r="2.1"/>
<circle class="r" cx="1602.0" cy="890.3" r="2.1"/>
<circle class="b" cx="1770.4" cy="877.6" r="2.1"/>
<circle class="r" cx="1833.0" cy="692.2" r="2.1"/>
<circle class="b" cx="1590.1" cy="936.9" r="2.1"/>
<circle class="r" cx="1667.4" cy="891.8" r="2.1"/>
<circle class="b" cx="1865.3" cy="707.0" r="2.1"/>
<circle class="r" cx="1749.8" cy="802.2" r="2.1"/>
<circle class="r" cx="1575.8" cy="878.6" r="2.1"/>
<circle class="b" cx="1753.0" cy="854.3" r="2.1"/>
<circle class="r" cx="1893.3" cy="758.4" r="2.1"/>
<circle class="r" cx="1821.2" cy="875.6" r="2.1"/>
<circle class="b" cx="1748.6" cy="707.9" r="2.1"/>
<circle class="r" cx="1843.7" cy="748.3" r="2.1"/>
<circle class="b" cx="1782.0" cy="866.1" r="2.1"/>
<circle class="r" cx="1587.1" cy="900.3" r="2.1"/>
<circle class="b" cx="1902.6" cy="780.6" r="2.1"/>
<circle class="r" cx="1828.1" cy="793.2" r="2.1"/>
<circle class="r" cx="1796.1" cy="887.5" r="2.1"/>
<circle class="r" cx="1806.0" cy="721.6" r="2.1"/>
<circle class="r" cx="1896.4" cy="806.1" r="2.1"/>
<circle class="r" cx="1607.4" cy="897.6" r="2.1"/>
<circle class="r" cx="1908.8" cy="767.3" r="2.1"/>
<circle class="b" cx="1771.7" cy="729.2" r="2.1"/>
<circle class="r" cx="1559.9" cy="940.8" r="2.1"/>
<circle class="r" cx="1866.9" cy="790.8" r="2.1"/>
<circle class="b" cx="1679.8" cy="921.1" r="2.1"/>
<circle class="r" cx="1891.9" cy="735.8" r="2.1"/>
<circle class="b" cx="1731.2" cy="938.0" r="2.1"/>
<circle class="b" cx="1572.7" cy="827.5" r="2.1"/>
<circle class="r" cx="1802.5" cy="693.8" r="2.1"/>
<circle class="r" cx="1570.3" cy="852.8" r="2.1"/>
<circle class="b" cx="1902.8" cy="769.3" r="2.1"/>
<circle class="r" cx="1864.7" cy="824.0" r="2.1"/>
<circle class="b" cx="1734.0" cy="924.3" r="2.1"/>
<circle class="b" cx="1568.5" cy="821.0" r="2.1"/>
<circle class="r" cx="1863.0" cy="838.1" r="2.1"/>
<circle class="r" cx="1582.6" cy="863.2" r="2.1"/>
<circle class="r" cx="1858.3" cy="735.7" r="2.1"/>
<circle class="r" cx="1662.3" cy="901.1" r="2.1"/>
<circle class="b" cx="1889.8" cy="826.6" r="2.1"/>
<circle class="r" cx="1579.4" cy="866.0" r="2.1"/>
<circle class="r" cx="1696.6" cy="982.4" r="2.1"/>
<circle class="b" cx="1666.9" cy="871.4" r="2.1"/>
<circle class="r" cx="1805.6" cy="815.4" r="2.1"/>
<circle class="b" cx="1668.0" cy="879.3" r="2.1"/>
<circle class="b" cx="1720.1" cy="834.1" r="2.1"/>
<circle class="r" cx="1900.5" cy="746.7" r="2.1"/>
<circle class="r" cx="1676.2" cy="827.2" r="2.1"/>
<circle class="r" cx="1578.6" cy="948.5" r="2.1"/>
<circle class="r" cx="1878.0" cy="719.5" r="2.1"/>
<circle class="r" cx="1794.1" cy="861.0" r="2.1"/>
<circle class="b" cx="1828.7" cy="800.2" r="2.1"/>
<circle class="r" cx="1597.0" cy="861.1" r="2.1"/>
<circle class="b" cx="1851.7" cy="701.9" r="2.1"/>
<circle class="b" cx="1685.1" cy="855.1" r="2.1"/>
<circle class="b" cx="1583.7" cy="841.7" r="2.1"/>
<circle class="b" cx="1863.5" cy="809.6" r="2.1"/>
<circle class="b" cx="1801.5" cy="872.3" r="2.1"/>
<circle class="b" cx="1867.8" cy="675.6" r="2.1"/>
<circle class="r" cx="1702.8" cy="862.7" r="2.1"/>
<circle class="r" cx="1884.2" cy="760.7" r="2.1"/>
<circle class="b" cx="1829.6" cy="664.1" r="2.1"/>
<circle class="b" cx="1856.3" cy="751.6" r="2.1"/>
<circle class="r" cx="1797.4" cy="851.9" r="2.1"/>
<circle class="b" cx="1725.7" cy="819.3" r="2.1"/>
<circle class="r" cx="1753.2" cy="870.6" r="2.1"/>
<circle class="r" cx="1783.4" cy="869.5" r="2.1"/>
<circle class="r" cx="1758.2" cy="827.7" r="2.1"/>
<circle class="r" cx="1775.0" cy="865.3" r="2.1"/>
<circle class="r" cx="1839.7" cy="870.3" r="2.1"/>
<circle class="b" cx="1824.4" cy="824.6" r="2.1"/>
<circle class="b" cx="1787.1" cy="854.5" r="2.1"/>
<circle class="b" cx="1794.2" cy="914.7" r="2.1"/>
<circle class="r" cx="1821.7" cy="706.8" r="2.1"/>
<circle class="r" cx="1694.3" cy="870.3" r="2.1"/>
<circle class="r" cx="1880.1" cy="823.6" r="2.1"/>
<circle class="b" cx="1858.3" cy="820.5" r="2.1"/>
<circle class="b" cx="1832.8" cy="900.5" r="2.1"/>
<circle class="r" cx="1826.0" cy="721.0" r="2.1"/>
<circle class="b" cx="1602.3" cy="868.4" r="2.1"/>
<circle class="r" cx="1675.4" cy="815.6" r="2.1"/>
<circle class="r" cx="1855.6" cy="682.1" r="2.1"/>
<circle class="r" cx="1850.3" cy="665.0" r="2.1"/>
<circle class="r" cx="1799.4" cy="913.4" r="2.1"/>
<circle class="b" cx="1690.7" cy="975.7" r="2.1"/>
<circle class="b" cx="1597.7" cy="943.6" r="2.1"/>
<circle class="b" cx="1582.2" cy="947.2" r="2.1"/>
<circle class="r" cx="1551.2" cy="837.1" r="2.1"/>
<circle class="r" cx="1783.2" cy="919.8" r="2.1"/>
<circle class="b" cx="1851.1" cy="800.8" r="2.1"/>
<circle class="r" cx="1657.9" cy="836.8" r="2.1"/>
<circle class="r" cx="1605.4" cy="946.8" r="2.1"/>
<circle class="r" cx="1828.9" cy="683.8" r="2.1"/>
<circle class="b" cx="1599.3" cy="932.2" r="2.1"/>
<circle class="b" cx="1852.1" cy="821.0" r="2.1"/>
<circle class="r" cx="1562.7" cy="885.7" r="2.1"/>
<circle class="r" cx="1666.8" cy="903.9" r="2.1"/>
<circle class="b" cx="1824.7" cy="808.7" r="2.1"/>
<circle class="b" cx="1852.9" cy="682.4" r="2.1"/>
<circle class="r" cx="1573.9" cy="819.7" r="2.1"/>
<circle class="r" cx="1594.7" cy="834.9" r="2.1"/>
<circle class="b" cx="1655.3" cy="837.4" r="2.1"/>
<circle class="b" cx="1672.1" cy="920.6" r="2.1"/>
<circle class="r" cx="1865.9" cy="727.5" r="2.1"/>
<circle class="b" cx="1841.1" cy="755.4" r="2.1"/>
<circle class="b" cx="1848.3" cy="727.0" r="2.1"/>
<circle class="r" cx="1809.0" cy="843.3" r="2.1"/>
<circle class="b" cx="1549.2" cy="847.9" r="2.1"/>
<circle class="b" cx="1821.0" cy="758.2" r="2.1"/>
<circle class="b" cx="1673.2" cy="846.1" r="2.1"/>
<circle class="b" cx="1782.1" cy="851.2" r="2.1"/>
<circle class="r" cx="1848.3" cy="792.5" r="2.1"/>
<circle class="b" cx="1815.8" cy="826.3" r="2.1"/>
<circle class="r" cx="1833.3" cy="902.6" r="2.1"/>
<circle class="r" cx="1596.5" cy="851.8" r="2.1"/>
<circle class="r" cx="1683.1" cy="971.9" r="2.1"/>
<circle class="r" cx="1868.4" cy="838.2" r="2.1"/>
<circle class="r" cx="1749.0" cy="823.9" r="2.1"/>
<circle class="b" cx="1688.1" cy="929.4" r="2.1"/>
<circle class="b" cx="1690.7" cy="841.1" r="2.1"/>
<circle class="r" cx="1570.5" cy="872.6" r="2.1"/>
<circle class="b" cx="1888.8" cy="761.4" r="2.1"/>
<circle class="r" cx="1555.3" cy="851.2" r="2.1"/>
<circle class="b" cx="1611.1" cy="869.6" r="2.1"/>
<circle class="r" cx="1808.7" cy="716.5" r="2.1"/>
<circle class="b" cx="1842.8" cy="656.5" r="2.1"/>
<circle class="b" cx="1863.0" cy="839.5" r="2.1"/>
<circle class="b" cx="1558.8" cy="893.2" r="2.1"/>
<circle class="r" cx="1773.1" cy="734.3" r="2.1"/>
<circle class="b" cx="1662.1" cy="897.2" r="2.1"/>
<circle class="r" cx="1752.7" cy="882.9" r="2.1"/>
<circle class="b" cx="1875.8" cy="746.2" r="2.1"/>
<circle class="b" cx="1676.8" cy="867.3" r="2.1"/>
<circle class="r" cx="1833.2" cy="896.5" r="2.1"/>
<circle class="r" cx="1860.7" cy="833.2" r="2.1"/>
<circle class="r" cx="1818.2" cy="863.5" r="2.1"/>
<circle class="r" cx="1688.0" cy="975.6" r="2.1"/>
<circle class="r" cx="1663.3" cy="925.2" r="2.1"/>
<circle class="r" cx="1719.6" cy="831.7" r="2.1"/>
<circle class="r" cx="1810.2" cy="801.2" r="2.1"/>
<circle class="b" cx="1809.7" cy="720.3" r="2.1"/>
<circle class="r" cx="1839.3" cy="881.7" r="2.1"/>
<circle class="r" cx="1822.8" cy="698.6" r="2.1"/>
<circle class="r" cx="1549.7" cy="837.0" r="2.1"/>
<circle class="r" cx="1850.7" cy="686.7" r="2.1"/>
<circle class="r" cx="1747.2" cy="710.1" r="2.1"/>
<circle class="b" cx="1830.7" cy="837.5" r="2.1"/>
<circle class="r" cx="1860.7" cy="734.3" r="2.1"/>
<circle class="b" cx="1828.2" cy="694.0" r="2.1"/>
<circle class="r" cx="1820.7" cy="726.0" r="2.1"/>
<circle class="r" cx="1794.1" cy="875.5" r="2.1"/>
<circle class="r" cx="1869.1" cy="754.9" r="2.1"/>
<circle class="b" cx="1770.8" cy="764.0" r="2.1"/>
<circle class="r" cx="1749.3" cy="717.6" r="2.1"/>
<circle class="b" cx="1757.7" cy="819.9" r="2.1"/>
<circle class="r" cx="1865.0" cy="677.0" r="2.1"/>
<circle class="b" cx="1740.6" cy="945.2" r="2.1"/>
<circle class="r" cx="1867.5" cy="704.7" r="2.1"/>
<circle class="b" cx="1708.7" cy="870.7" r="2.1"/>
<circle class="r" cx="1717.5" cy="899.8" r="2.1"/>
<circle class="b" cx="1567.9" cy="878.7" r="2.1"/>
<circle class="r" cx="1814.3" cy="709.7" r="2.1"/>
<circle class="b" cx="1551.8" cy="918.4" r="2.1"/>
<circle class="b" cx="1814.0" cy="717.5" r="2.1"/>
<circle class="b" cx="1593.5" cy="904.0" r="2.1"/>
<circle class="r" cx="1564.8" cy="919.3" r="2.1"/>
<circle class="b" cx="1803.7" cy="673.9" r="2.1"/>
<circle class="b" cx="1700.3" cy="917.0" r="2.1"/>
<circle class="b" cx="1560.7" cy="934.0" r="2.1"/>
<circle class="b" cx="1745.2" cy="894.9" r="2.1"/>
<circle class="r" cx="1839.3" cy="736.2" r="2.1"/>
<circle class="r" cx="1746.5" cy="849.6" r="2.1"/>
<circle class="r" cx="1822.6" cy="883.5" r="2.1"/>
<circle class="r" cx="1727.5" cy="898.6" r="2.1"/>
<circle class="b" cx="1901.4" cy="766.5" r="2.1"/>
<circle class="r" cx="1765.6" cy="809.3" r="2.1"/>
<circle class="r" cx="1866.6" cy="810.1" r="2.1"/>
<circle class="r" cx="1818.2" cy="821.3" r="2.1"/>
<circle class="r" cx="1844.3" cy="725.9" r="2.1"/>
<circle class="b" cx="1808.5" cy="910.9" r="2.1"/>
<circle class="r" cx="1846.0" cy="803.5" r="2.1"/>
<circle class="r" cx="1816.8" cy="734.8" r="2.1"/>
<circle class="b" cx="1785.8" cy="840.0" r="2.1"/>
<circle class="r" cx="1598.3" cy="864.4" r="2.1"/>
<circle class="r" cx="1828.7" cy="787.2" r="2.1"/>
<circle class="r" cx="1571.5" cy="945.9" r="2.1"/>
<circle class="b" cx="1822.6" cy="756.2" r="2.1"/>
<circle class="r" cx="1727.2" cy="819.0" r="2.1"/>
<circle class="r" cx="1600.6" cy="859.2" r="2.1"/>
<circle class="b" cx="1645.9" cy="867.9" r="2.1"/>
<circle class="r" cx="1859.2" cy="754.7" r="2.1"/>
<circle class="r" cx="1855.4" cy="674.7" r="2.1"/>
<circle class="r" cx="1887.0" cy="779.7" r="2.1"/>
<circle class="r" cx="1879.0" cy="744.5" r="2.1"/>
<circle class="b" cx="1570.9" cy="933.9" r="2.1"/>
<circle class="r" cx="1804.2" cy="821.4" r="2.1"/>
<circle class="r" cx="1869.1" cy="827.6" r="2.1"/>
<circle class="b" cx="1822.8" cy="878.9" r="2.1"/>
<circle class="r" cx="1584.5" cy="815.2" r="2.1"/>
<circle class="r" cx="1575.4" cy="922.4" r="2.1"/>
<circle class="b" cx="1660.0" cy="921.9" r="2.1"/>
<circle class="b" cx="1824.2" cy="847.6" r="2.1"/>
<circle class="b" cx="1784.5" cy="812.7" r="2.1"/>
<circle class="r" cx="1786.8" cy="866.9" r="2.1"/>
<circle class="b" cx="1886.0" cy="736.0" r="2.1"/>
<circle class="r" cx="1705.9" cy="983.1" r="2.1"/>
<circle class="r" cx="1736.9" cy="939.0" r="2.1"/>
<circle class="b" cx="1740.2" cy="825.8" r="2.1"/>
<circle class="r" cx="1867.9" cy="691.6" r="2.1"/>
<circle class="b" cx="1593.8" cy="896.3" r="2.1"/>
<circle class="b" cx="1837.9" cy="670.0" r="2.1"/>
<circle class="b" cx="1830.7" cy="773.4" r="2.1"/>
<circle class="b" cx="1662.0" cy="929.1" r="2.1"/>
<circle class="r" cx="1732.6" cy="865.8" r="2.1"/>
<circle class="r" cx="1813.3" cy="858.4" r="2.1"/>
<circle class="b" cx="1835.1" cy="759.5" r="2.1"/>
<circle class="r" cx="1798.2" cy="884.1" r="2.1"/>
<circle class="r" cx="1851.4" cy="692.0" r="2.1"/>
<circle class="r" cx="1869.5" cy="824.7" r="2.1"/>
<circle class="b" cx="1792.5" cy="858.2" r="2.1"/>
<circle class="b" cx="1871.9" cy="756.0" r="2.1"/>
<circle class="r" cx="1762.4" cy="801.6" r="2.1"/>
<circle class="r" cx="1834.8" cy="653.8" r="2.1"/>
<circle class="r" cx="1562.4" cy="812.1" r="2.1"/>
<circle class="r" cx="1837.6" cy="742.9" r="2.1"/>
<circle class="r" cx="1831.1" cy="842.4" r="2.1"/>
<circle class="r" cx="1761.7" cy="737.4" r="2.1"/>
<circle class="r" cx="1708.9" cy="910.4" r="2.1"/>
<circle class="b" cx="1816.2" cy="790.8" r="2.1"/>
<circle class="b" cx="1870.5" cy="689.2" r="2.1"/>
<circle class="r" cx="1658.4" cy="921.3" r="2.1"/>
<circle class="b" cx="1596.6" cy="899.1" r="2.1"/>
<circle class="r" cx="1691.8" cy="910.4" r="2.1"/>
<circle class="b" cx="1793.3" cy="881.5" r="2.1"/>
<circle class="r" cx="1604.1" cy="856.7" r="2.1"/>
<circle class="r" cx="1571.0" cy="918.1" r="2.1"/>
<circle class="b" cx="1776.8" cy="902.7" r="2.1"/>
<circle class="r" cx="1580.6" cy="883.4" r="2.1"/>
<circle class="b" cx="1733.2" cy="812.1" r="2.1"/>
<circle class="b" cx="1746.1" cy="944.2" r="2.1"/>
<circle class="b" cx="1641.5" cy="826.0" r="2.1"/>
<circle class="r" cx="1797.9" cy="909.3" r="2.1"/>
<circle class="r" cx="1791.2" cy="854.6" r="2.1"/>
<circle class="r" cx="1703.2" cy="889.0" r="2.1"/>
<circle class="r" cx="1600.1" cy="924.5" r="2.1"/>
<circle class="b" cx="1813.0" cy="670.9" r="2.1"/>
<circle class="r" cx="1664.8" cy="883.4" r="2.1"/>
<circle class="b" cx="1716.3" cy="862.1" r="2.1"/>
<circle class="b" cx="1805.6" cy="718.9" r="2.1"/>
<circle class="b" cx="1874.1" cy="773.1" r="2.1"/>
<circle class="b" cx="1782.1" cy="801.8" r="2.1"/>
<circle class="r" cx="1672.2" cy="860.6" r="2.1"/>
<circle class="b" cx="1588.7" cy="837.1" r="2.1"/>
<circle class="b" cx="1857.3" cy="777.8" r="2.1"/>
<circle class="b" cx="1862.9" cy="822.8" r="2.1"/>
<circle class="r" cx="1756.4" cy="728.0" r="2.1"/>
<circle class="r" cx="1560.9" cy="836.4" r="2.1"/>
<circle class="r" cx="1623.7" cy="877.8" r="2.1"/>
<circle class="r" cx="1568.1" cy="879.9" r="2.1"/>
<circle class="r" cx="1584.7" cy="884.7" r="2.1"/>
<circle class="b" cx="1902.4" cy="779.7" r="2.1"/>
<circle class="r" cx="1832.7" cy="797.6" r="2.1"/>
<circle class="b" cx="1823.8" cy="851.6" r="2.1"/>
<circle class="b" cx="1784.0" cy="844.8" r="2.1"/>
<circle class="r" cx="1577.0" cy="818.9" r="2.1"/>
<circle class="r" cx="1757.5" cy="874.9" r="2.1"/>
<circle class="r" cx="1716.8" cy="912.3" r="2.1"/>
<circle class="b" cx="1587.2" cy="824.7" r="2.1"/>
<circle class="r" cx="1632.9" cy="920.5" r="2.1"/>
<circle class="r" cx="1880.8" cy="775.2" r="2.1"/>
<circle class="r" cx="1791.0" cy="816.4" r="2.1"/>
<circle class="b" cx="1824.5" cy="668.8" r="2.1"/>
<circle class="b" cx="1841.2" cy="848.6" r="2.1"/>
<circle class="b" cx="1783.6" cy="913.2" r="2.1"/>
<circle class="b" cx="1638.4" cy="922.1" r="2.1"/>
<circle class="b" cx="1873.6" cy="806.4" r="2.1"/>
<circle class="r" cx="1703.6" cy="883.7" r="2.1"/>
<circle class="r" cx="1797.4" cy="798.2" r="2.1"/>
<circle class="b" cx="1817.0" cy="835.9" r="2.1"/>
<circle class="r" cx="1891.8" cy="729.6" r="2.1"/>
<circle class="r" cx="1803.9" cy="829.1" r="2.1"/>
<circle class="b" cx="1908.7" cy="781.7" r="2.1"/>
<circle class="r" cx="1713.4" cy="819.5" r="2.1"/>
<circle class="r" cx="1819.7" cy="758.8" r="2.1"/>
<circle class="r" cx="1551.6" cy="883.2" r="2.1"/>
<circle class="r" cx="1596.0" cy="899.5" r="2.1"/>
<circle class="r" cx="1804.6" cy="774.2" r="2.1"/>
<circle class="r" cx="1863.3" cy="771.7" r="2.1"/>
<circle class="b" cx="1768.2" cy="898.0" r="2.1"/>
<circle class="b" cx="1563.4" cy="845.2" r="2.1"/>
<circle class="r" cx="1885.7" cy="818.3" r="2.1"/>
<circle class="r" cx="1865.0" cy="734.5" r="2.1"/>
<circle class="r" cx="1802.3" cy="780.8" r="2.1"/>
<circle class="r" cx="1882.1" cy="818.1" r="2.1"/>
<circle class="b" cx="1797.2" cy="905.7" r="2.1"/>
<circle class="r" cx="1834.9" cy="684.2" r="2.1"/>
<circle class="b" cx="1881.6" cy="813.6" r="2.1"/>
<circle class="b" cx="1760.0" cy="838.2" r="2.1"/>
<circle class="r" cx="1549.2" cy="833.3" r="2.1"/>
<circle class="b" cx="1848.7" cy="808.8" r="2.1"/>
<circle class="b" cx="1699.8" cy="848.1" r="2.1"/>
<circle class="r" cx="1790.4" cy="816.7" r="2.1"/>
<circle class="b" cx="1831.5" cy="829.3" r="2.1"/>
<circle class="r" cx="1768.3" cy="712.8" r="2.1"/>
<circle class="b" cx="1751.9" cy="880.3" r="2.1"/>
<circle class="r" cx="1574.2" cy="868.8" r="2.1"/>
<circle class="r" cx="1877.1" cy="829.0" r="2.1"/>
<circle class="b" cx="1585.1" cy="869.6" r="2.1"/>
<circle class="b" cx="1861.4" cy="827.8" r="2.1"/>
<circle class="b" cx="1591.7" cy="931.8" r="2.1"/>
<circle class="r" cx="1701.5" cy="854.1" r="2.1"/>
<circle class="b" cx="1894.7" cy="801.9" r="2.1"/>
<circle class="r" cx="1583.5" cy="958.9" r="2.1"/>
<circle class="r" cx="1578.9" cy="892.2" r="2.1"/>
<circle class="b" cx="1858.5" cy="745.9" r="2.1"/>
<circle class="r" cx="1637.0" cy="835.1" r="2.1"/>
<circle class="r" cx="1844.5" cy="739.6" r="2.1"/>
<circle class="b" cx="1569.8" cy="836.2" r="2.1"/>
<circle class="r" cx="1678.9" cy="881.2" r="2.1"/>
<circle class="r" cx="1572.7" cy="899.4" r="2.1"/>
<circle class="b" cx="1584.9" cy="920.4" r="2.1"/>
<circle class="b" cx="1668.8" cy="873.0" r="2.1"/>
<circle class="b" cx="1803.1" cy="904.3" r="2.1"/>
<circle class="r" cx="1598.8" cy="846.1" r="2.1"/>
<circle class="b" cx="1627.8" cy="904.5" r="2.1"/>
<circle class="r" cx="1885.6" cy="781.4" r="2.1"/>
<circle class="b" cx="1877.3" cy="834.6" r="2.1"/>
<circle class="r" cx="1879.7" cy="713.7" r="2.1"/>
<circle class="r" cx="1580.4" cy="908.1" r="2.1"/>
<circle class="r" cx="1603.9" cy="930.7" r="2.1"/>
<circle class="r" cx="1801.9" cy="907.3" r="2.1"/>
<circle class="r" cx="1742.5" cy="909.2" r="2.1"/>
<circle class="r" cx="1831.1" cy="908.2" r="2.1"/>
<circle class="r" cx="1837.6" cy="800.6" r="2.1"/>
<circle class="b" cx="1580.6" cy="865.2" r="2.1"/>
<circle class="b" cx="1780.2" cy="874.4" r="2.1"/>
<circle class="b" cx="1799.3" cy="895.0" r="2.1"/>
<circle class="r" cx="1761.8" cy="757.3" r="2.1"/>
<circle class="b" cx="1804.5" cy="791.6" r="2.1"/>
<circle class="b" cx="1572.5" cy="870.2" r="2.1"/>
<circle class="b" cx="1857.0" cy="774.7" r="2.1"/>
<circle class="r" cx="1719.9" cy="826.8" r="2.1"/>
<circle class="b" cx="1806.7" cy="873.4" r="2.1"/>
<circle class="b" cx="1820.3" cy="664.6" r="2.1"/>
<circle class="r" cx="1720.9" cy="918.9" r="2.1"/>
<circle class="b" cx="1795.7" cy="863.9" r="2.1"/>
<circle class="b" cx="1614.5" cy="904.0" r="2.1"/>
<circle class="b" cx="1754.7" cy="803.0" r="2.1"/>
<circle class="b" cx="1840.7" cy="722.3" r="2.1"/>
<circle class="b" cx="1553.5" cy="916.3" r="2.1"/>
<circle class="b" cx="1598.7" cy="837.9" r="2.1"/>
<circle class="b" cx="1603.5" cy="913.2" r="2.1"/>
<circle class="b" cx="1591.8" cy="922.6" r="2.1"/>
<circle class="r" cx="1855.6" cy="675.1" r="2.1"/>
<circle class="b" cx="1591.5" cy="889.9" r="2.1"/>
<circle class="b" cx="1798.6" cy="689.8" r="2.1"/>
<circle class="r" cx="1889.1" cy="783.7" r="2.1"/>
<circle class="r" cx="1829.4" cy="656.9" r="2.1"/>
<circle class="r" cx="1854.8" cy="759.3" r="2.1"/>
<circle class="r" cx="1684.8" cy="877.6" r="2.1"/>
<circle class="r" cx="1693.1" cy="902.5" r="2.1"/>
<circle class="r" cx="1841.8" cy="659.9" r="2.1"/>
<circle class="b" cx="1566.9" cy="833.5" r="2.1"/>
<circle class="b" cx="1852.4" cy="691.7" r="2.1"/>
<circle class="b" cx="1830.7" cy="890.6" r="2.1"/>
<circle class="r" cx="1731.0" cy="971.5" r="2.1"/>
<circle class="b" cx="1569.2" cy="881.0" r="2.1"/>
<circle class="b" cx="1882.7" cy="778.0" r="2.1"/>
<circle class="r" cx="1590.1" cy="874.9" r="2.1"/>
<circle class="r" cx="1818.6" cy="678.6" r="2.1"/>
<circle class="b" cx="1624.9" cy="829.9" r="2.1"/>
<circle class="b" cx="1852.3" cy="852.1" r="2.1"/>
<circle class="r" cx="1803.8" cy="856.4" r="2.1"/>
<circle class="b" cx="1795.1" cy="781.8" r="2.1"/>
<circle class="r" cx="1736.0" cy="824.5" r="2.1"/>
<circle class="r" cx="1796.2" cy="877.2" r="2.1"/>
<circle class="r" cx="1771.9" cy="912.4" r="2.1"/>
<circle class="b" cx="1780.0" cy="731.6" r="2.1"/>
<circle class="r" cx="1776.9" cy="804.8" r="2.1"/>
<circle class="r" cx="1576.1" cy="924.9" r="2.1"/>
<circle class="r" cx="1885.5" cy="743.1" r="2.1"/>
<circle class="r" cx="1827.4" cy="678.2" r="2.1"/>
<circle class="b" cx="1842.5" cy="758.8" r="2.1"/>
<circle class="b" cx="1864.1" cy="812.1" r="2.1"/>
<circle class="r" cx="1797.9" cy="840.6" r="2.1"/>
<circle class="r" cx="1813.9" cy="676.8" r="2.1"/>
<circle class="r" cx="1810.2" cy="894.5" r="2.1"/>
<circle class="b" cx="1809.9" cy="803.0" r="2.1"/>
<circle class="r" cx="1807.8" cy="766.1" r="2.1"/>
<circle class="r" cx="1566.5" cy="950.7" r="2.1"/>
<circle class="b" cx="1842.8" cy="825.1" r="2.1"/>
<circle class="b" cx="1818.5" cy="896.3" r="2.1"/>
<circle class="b" cx="1628.2" cy="880.9" r="2.1"/>
<circle class="b" cx="1771.8" cy="878.9" r="2.1"/>
<circle class="r" cx="1727.3" cy="987.8" r="2.1"/>
<circle class="r" cx="1836.4" cy="722.7" r="2.1"/>
<circle class="r" cx="1902.6" cy="747.8" r="2.1"/>
<circle class="b" cx="1847.1" cy="815.3" r="2.1"/>
<circle class="b" cx="1792.5" cy="834.3" r="2.1"/>
<circle class="b" cx="1757.2" cy="812.1" r="2.1"/>
<circle class="r" cx="1711.1" cy="985.9" r="2.1"/>
<circle class="b" cx="1720.3" cy="891.7" r="2.1"/>
<circle class="r" cx="1810.4" cy="687.8" r="2.1"/>
<circle class="b" cx="1781.4" cy="849.0" r="2.1"/>
<circle class="b" cx="1548.7" cy="873.6" r="2.1"/>
<circle class="b" cx="1810.4" cy="758.8" r="2.1"/>
<circle class="r" cx="1834.4" cy="705.7" r="2.1"/>
<circle class="b" cx="1603.7" cy="879.8" r="2.1"/>
<circle class="r" cx="1573.5" cy="870.6" r="2.1"/>
<circle class="r" cx="1822.1" cy="773.5" r="2.1"/>
<circle class="b" cx="1575.0" cy="955.6" r="2.1"/>
<circle class="b" cx="1736.1" cy="856.6" r="2.1"/>
<circle class="r" cx="1744.2" cy="928.3" r="2.1"/>
<circle class="b" cx="1725.0" cy="826.6" r="2.1"/>
<circle class="b" cx="1769.2" cy="857.8" r="2.1"/>
<circle class="b" cx="1889.1" cy="734.4" r="2.1"/>
<circle class="r" cx="1843.0" cy="832.4" r="2.1"/>
<circle class="b" cx="1823.4" cy="703.1" r="2.1"/>
<circle class="b" cx="1842.5" cy="866.1" r="2.1"/>
<circle class="r" cx="1656.0" cy="865.5" r="2.1"/>
<circle class="r" cx="1873.9" cy="808.8" r="2.1"/>
<circle class="r" cx="1849.9" cy="725.5" r="2.1"/>
<circle class="r" cx="1832.2" cy="862.3" r="2.1"/>
<circle class="b" cx="1766.8" cy="786.2" r="2.1"/>
<circle class="r" cx="1773.5" cy="827.0" r="2.1"/>
<circle class="b" cx="1782.9" cy="858.8" r="2.1"/>
<circle class="r" cx="1811.5" cy="892.1" r="2.1"/>
<circle class="r" cx="1692.3" cy="856.7" r="2.1"/>
<circle class="r" cx="1554.0" cy="916.7" r="2.1"/>
<circle class="r" cx="1861.0" cy="759.0" r="2.1"/>
<circle class="b" cx="1585.0" cy="865.7" r="2.1"/>
<circle class="r" cx="1843.7" cy="771.9" r="2.1"/>
<circle class="b" cx="1843.8" cy="743.1" r="2.1"/>
<circle class="r" cx="1638.8" cy="850.5" r="2.1"/>
<circle class="r" cx="1797.7" cy="863.7" r="2.1"/>
<circle class="r" cx="1809.9" cy="839.3" r="2.1"/>
<circle class="r" cx="1582.4" cy="942.1" r="2.1"/>
<circle class="r" cx="1864.3" cy="835.4" r="2.1"/>
<circle class="r" cx="1761.6" cy="912.4" r="2.1"/>
<circle class="r" cx="1851.5" cy="830.3" r="2.1"/>
<circle class="r" cx="1840.8" cy="827.7" r="2.1"/>
<circle class="b" cx="1845.3" cy="785.2" r="2.1"/>
<circle class="r" cx="1866.6" cy="840.1" r="2.1"/>
<circle class="b" cx="1626.8" cy="885.5" r="2.1"/>
<circle class="b" cx="1730.3" cy="824.9" r="2.1"/>
<circle class="b" cx="1749.4" cy="879.0" r="2.1"/>
<circle class="b" cx="1587.3" cy="910.0" r="2.1"/>
<circle class="b" cx="1812.7" cy="833.4" r="2.1"/>
<circle class="r" cx="1762.0" cy="734.4" r="2.1"/>
<circle class="r" cx="1692.2" cy="890.8" r="2.1"/>
<circle class="b" cx="1842.2" cy="716.1" r="2.1"/>
<circle class="r" cx="1860.9" cy="733.4" r="2.1"/>
<circle class="r" cx="1628.1" cy="875.7" r="2.1"/>
<circle class="r" cx="1805.6" cy="812.3" r="2.1"/>
<circle class="r" cx="1895.8" cy="774.5" r="2.1"/>
<circle class="b" cx="1692.8" cy="891.0" r="2.1"/>
<circle class="b" cx="1811.9" cy="909.9" r="2.1"/>
<circle class="b" cx="1620.6" cy="923.0" r="2.1"/>
<circle class="b" cx="1812.5" cy="761.0" r="2.1"/>
<circle class="r" cx="1693.0" cy="855.5" r="2.1"/>
<circle class="b" cx="1601.3" cy="866.3" r="2.1"/>
<circle class="r" cx="1823.8" cy="914.8" r="2.1"/>
<circle class="b" cx="1582.0" cy="815.3" r="2.1"/>
<circle class="b" cx="1596.1" cy="917.1" r="2.1"/>
<circle class="r" cx="1552.5" cy="813.7" r="2.1"/>
<circle class="r" cx="1878.5" cy="740.6" r="2.1"/>
<circle class="r" cx="1821.0" cy="704.0" r="2.1"/>
<circle class="r" cx="1660.2" cy="817.8" r="2.1"/>
<circle class="r" cx="1580.1" cy="947.0" r="2.1"/>
<circle class="r" cx="1622.9" cy="897.2" r="2.1"/>
<circle class="r" cx="1845.3" cy="698.2" r="2.1"/>
<circle class="b" cx="1822.7" cy="838.5" r="2.1"/>
<circle class="r" cx="1793.3" cy="884.3" r="2.1"/>
<circle class="b" cx="1772.0" cy="871.5" r="2.1"/>
<circle class="r" cx="1566.3" cy="918.1" r="2.1"/>
<circle class="r" cx="1747.8" cy="925.4" r="2.1"/>
<circle class="b" cx="1877.5" cy="806.9" r="2.1"/>
<circle class="r" cx="1831.1" cy="707.1" r="2.1"/>
<circle class="r" cx="1865.7" cy="790.8" r="2.1"/>
<circle class="r" cx="1832.4" cy="720.0" r="2.1"/>
<circle class="b" cx="1833.9" cy="716.6" r="2.1"/>
<circle class="b" cx="1809.1" cy="693.2" r="2.1"/>
<circle class="r" cx="1800.6" cy="818.1" r="2.1"/>
<circle class="b" cx="1836.1" cy="657.1" r="2.1"/>
<circle class="r" cx="1892.1" cy="823.5" r="2.1"/>
<circle class="r" cx="1808.8" cy="661.7" r="2.1"/>
<circle class="r" cx="1807.3" cy="813.3" r="2.1"/>
<circle class="r" cx="1600.4" cy="853.6" r="2.1"/>
<circle class="b" cx="1812.0" cy="783.1" r="2.1"/>
<circle class="r" cx="1791.7" cy="889.5" r="2.1"/>
<circle class="r" cx="1877.5" cy="725.1" r="2.1"/>
<circle class="r" cx="1782.1" cy="755.5" r="2.1"/>
<circle class="b" cx="1851.6" cy="793.0" r="2.1"/>
<circle class="r" cx="1810.1" cy="663.9" r="2.1"/>
<circle class="r" cx="1736.3" cy="934.9" r="2.1"/>
<circle class="r" cx="1804.8" cy="806.3" r="2.1"/>
<circle class="b" cx="1823.9" cy="757.8" r="2.1"/>
<circle class="b" cx="1770.2" cy="854.3" r="2.1"/>
<circle class="r" cx="1811.3" cy="668.4" r="2.1"/>
<circle class="r" cx="1823.9" cy="862.2" r="2.1"/>
<circle class="b" cx="1803.4" cy="867.4" r="2.1"/>
<circle class="r" cx="1590.5" cy="836.8" r="2.1"/>
<circle class="r" cx="1666.1" cy="842.4" r="2.1"/>
<circle class="b" cx="1743.6" cy="826.4" r="2.1"/>
<circle class="r" cx="1837.3" cy="680.6" r="2.1"/>
<circle class="r" cx="1567.1" cy="916.5" r="2.1"/>
<circle class="r" cx="1796.6" cy="904.1" r="2.1"/>
<circle class="b" cx="1886.0" cy="784.7" r="2.1"/>
<circle class="r" cx="1680.1" cy="858.2" r="2.1"/>
<circle class="r" cx="1644.1" cy="823.9" r="2.1"/>
<circle class="r" cx="1555.9" cy="836.3" r="2.1"/>
<circle class="r" cx="1832.1" cy="831.7" r="2.1"/>
<circle class="b" cx="1745.3" cy="857.7" r="2.1"/>
<circle class="b" cx="1778.0" cy="876.4" r="2.1"/>
<circle class="b" cx="1596.1" cy="950.8" r="2.1"/>
<circle class="r" cx="1586.3" cy="813.3" r="2.1"/>
<circle class="b" cx="1891.3" cy="822.4" r="2.1"/>
<circle class="b" cx="1611.5" cy="885.8" r="2.1"/>
<circle class="b" cx="1817.8" cy="669.3" r="2.1"/>
<circle class="r" cx="1803.2" cy="857.6" r="2.1"/>
<circle class="b" cx="1713.6" cy="816.2" r="2.1"/>
<circle class="r" cx="1816.4" cy="887.1" r="2.1"/>
<circle class="b" cx="1846.7" cy="692.0" r="2.1"/>
<circle class="r" cx="1825.3" cy="912.9" r="2.1"/>
<circle class="b" cx="1564.2" cy="920.7" r="2.1"/>
<circle class="b" cx="1873.1" cy="711.6" r="2.1"/>
<circle class="b" cx="1810.7" cy="783.4" r="2.1"/>
<circle class="r" cx="1818.7" cy="882.7" r="2.1"/>
<circle class="b" cx="1654.0" cy="837.3" r="2.1"/>
<circle class="r" cx="1854.5" cy="702.6" r="2.1"/>
<circle class="b" cx="1728.4" cy="989.1" r="2.1"/>
<circle class="r" cx="1766.8" cy="742.5" r="2.1"/>
<circle class="b" cx="1830.6" cy="672.9" r="2.1"/>
<circle class="r" cx="1582.8" cy="891.3" r="2.1"/>
<circle class="r" cx="1816.7" cy="764.5" r="2.1"/>
<circle class="r" cx="1879.6" cy="763.6" r="2.1"/>
<circle class="r" cx="1732.0" cy="915.7" r="2.1"/>
<circle class="r" cx="1760.4" cy="709.5" r="2.1"/>
<circle class="r" cx="1880.9" cy="733.9" r="2.1"/>
<circle class="r" cx="1876.5" cy="724.8" r="2.1"/>
<circle class="r" cx="1574.7" cy="825.1" r="2.1"/>
<circle class="b" cx="1586.1" cy="885.1" r="2.1"/>
<circle class="b" cx="1728.0" cy="811.2" r="2.1"/>
<circle class="b" cx="1773.0" cy="909.4" r="2.1"/>
<circle class="r" cx="1849.4" cy="776.7" r="2.1"/>
<circle class="r" cx="1714.3" cy="826.4" r="2.1"/>
<circle class="b" cx="1547.6" cy="856.7" r="2.1"/>
<circle class="r" cx="1857.8" cy="848.0" r="2.1"/>
<circle class="b" cx="1581.9" cy="874.2" r="2.1"/>
<circle class="b" cx="1849.1" cy="658.8" r="2.1"/>
<circle class="b" cx="1686.2" cy="907.8" r="2.1"/>
<circle class="b" cx="1765.4" cy="864.2" r="2.1"/>
<circle class="r" cx="1723.0" cy="988.6" r="2.1"/>
<circle class="r" cx="1831.7" cy="893.4" r="2.1"/>
<circle class="r" cx="1821.8" cy="756.8" r="2.1"/>
<circle class="r" cx="1841.1" cy="751.4" r="2.1"/>
<circle class="b" cx="1822.7" cy="823.9" r="2.1"/>
<circle class="b" cx="1701.7" cy="888.6" r="2.1"/>
<circle class="r" cx="1846.8" cy="854.3" r="2.1"/>
<circle class="b" cx="1855.0" cy="740.5" r="2.1"/>
<circle class="r" cx="1640.1" cy="891.3" r="2.1"/>
<circle class="b" cx="1770.0" cy="773.7" r="2.1"/>
<circle class="r" cx="1871.6" cy="722.4" r="2.1"/>
<circle class="b" cx="1837.9" cy="661.0" r="2.1"/>
<circle class="r" cx="1664.4" cy="900.9" r="2.1"/>
<circle class="r" cx="1596.6" cy="946.5" r="2.1"/>
<circle class="r" cx="1663.0" cy="880.2" r="2.1"/>
<circle class="r" cx="1769.0" cy="896.1" r="2.1"/>
<circle class="b" cx="1620.7" cy="924.2" r="2.1"/>
<circle class="r" cx="1594.6" cy="884.5" r="2.1"/>
<circle class="b" cx="1847.8" cy="699.9" r="2.1"/>
<circle class="r" cx="1847.2" cy="834.2" r="2.1"/>
<circle class="r" cx="1553.8" cy="841.4" r="2.1"/>
<circle class="b" cx="1800.7" cy="814.3" r="2.1"/>
<circle class="r" cx="1841.9" cy="689.6" r="2.1"/>
<circle class="b" cx="1651.5" cy="845.3" r="2.1"/>
<circle class="r" cx="1567.0" cy="832.1" r="2.1"/>
<circle class="b" cx="1623.7" cy="863.8" r="2.1"/>
<circle class="r" cx="1844.5" cy="835.8" r="2.1"/>
<circle class="b" cx="1835.5" cy="875.0" r="2.1"/>
<circle class="r" cx="1646.8" cy="833.4" r="2.1"/>
<circle class="b" cx="1780.4" cy="861.3" r="2.1"/>
<circle class="r" cx="1569.5" cy="904.1" r="2.1"/>
<circle class="r" cx="1782.8" cy="863.8" r="2.1"/>
<circle class="b" cx="1786.0" cy="775.0" r="2.1"/>
<circle class="b" cx="1797.0" cy="797.6" r="2.1"/>
<circle class="r" cx="1832.3" cy="835.6" r="2.1"/>
<circle class="r" cx="1810.0" cy="675.8" r="2.1"/>
<circle class="r" cx="1797.0" cy="673.6" r="2.1"/>
<circle class="b" cx="1853.3" cy="744.4" r="2.1"/>
<circle class="b" cx="1831.4" cy="742.8" r="2.1"/>
<circle class="b" cx="1650.1" cy="835.2" r="2.1"/>
<circle class="r" cx="1559.9" cy="813.0" r="2.1"/>
<circle class="r" cx="1606.5" cy="875.3" r="2.1"/>
<circle class="b" cx="1856.2" cy="773.6" r="2.1"/>
<circle class="r" cx="1896.2" cy="739.0" r="2.1"/>
<circle class="b" cx="1593.3" cy="828.0" r="2.1"/>
<circle class="r" cx="1709.7" cy="871.6" r="2.1"/>
<circle class="r" cx="1832.5" cy="737.6" r="2.1"/>
<circle class="r" cx="1793.7" cy="832.7" r="2.1"/>
<circle class="r" cx="1895.2" cy="801.7" r="2.1"/>
<circle class="b" cx="1900.0" cy="740.0" r="2.1"/>
<circle class="b" cx="1762.0" cy="780.6" r="2.1"/>
<circle class="b" cx="1812.1" cy="722.5" r="2.1"/>
<circle class="r" cx="1719.9" cy="921.4" r="2.1"/>
<circle class="b" cx="1824.8" cy="789.5" r="2.1"/>
<circle class="b" cx="1769.4" cy="912.3" r="2.1"/>
<circle class="r" cx="1716.3" cy="878.2" r="2.1"/>
<circle class="r" cx="1730.7" cy="912.9" r="2.1"/>
<circle class="r" cx="1676.1" cy="928.7" r="2.1"/>
<circle class="b" cx="1834.8" cy="676.2" r="2.1"/>
<circle class="r" cx="1865.2" cy="836.9" r="2.1"/>
<circle class="b" cx="1891.7" cy="746.9" r="2.1"/>
<circle class="b" cx="1733.1" cy="879.6" r="2.1"/>
<circle class="r" cx="1612.6" cy="894.4" r="2.1"/>
<circle class="r" cx="1650.1" cy="904.3" r="2.1"/>
<circle class="r" cx="1833.0" cy="753.4" r="2.1"/>
<circle class="r" cx="1626.8" cy="845.3" r="2.1"/>
<circle class="r" cx="1742.2" cy="801.5" r="2.1"/>
<circle class="b" cx="1862.0" cy="713.2" r="2.1"/>
<circle class="b" cx="1817.3" cy="788.1" r="2.1"/>
<circle class="r" cx="1863.0" cy="669.9" r="2.1"/>
<circle class="r" cx="1828.3" cy="759.9" r="2.1"/>
<circle class="b" cx="1553.0" cy="874.6" r="2.1"/>
<circle class="b" cx="1702.1" cy="984.5" r="2.1"/>
<circle class="r" cx="1856.5" cy="749.6" r="2.1"/>
<circle class="b" cx="1850.7" cy="856.4" r="2.1"/>
<circle class="r" cx="1848.6" cy="667.7" r="2.1"/>
<circle class="r" cx="1831.0" cy="870.1" r="2.1"/>
<circle class="b" cx="1673.7" cy="822.9" r="2.1"/>
<circle class="r" cx="1869.3" cy="842.7" r="2.1"/>
<circle class="b" cx="1806.2" cy="699.3" r="2.1"/>
<circle class="b" cx="1748.1" cy="831.0" r="2.1"/>
<circle class="r" cx="1839.9" cy="891.4" r="2.1"/>
<circle class="b" cx="1873.4" cy="722.9" r="2.1"/>
<circle class="r" cx="1851.1" cy="808.2" r="2.1"/>
<circle class="r" cx="1577.3" cy="879.3" r="2.1"/>
<circle class="b" cx="1880.1" cy="750.5" r="2.1"/>
<circle class="r" cx="1862.7" cy="799.0" r="2.1"/>
<circle class="b" cx="1767.5" cy="841.5" r="2.1"/>
<circle class="r" cx="1658.7" cy="851.2" r="2.1"/>
<circle class="r" cx="1787.3" cy="901.4" r="2.1"/>
<circle class="r" cx="1701.2" cy="868.7" r="2.1"/>
<circle class="r" cx="1851.1" cy="824.4" r="2.1"/>
<circle class="r" cx="1814.0" cy="727.8" r="2.1"/>
<circle class="b" cx="1915.0" cy="772.3" r="2.1"/>
<circle class="b" cx="1548.1" cy="838.0" r="2.1"/>
<circle class="r" cx="1785.5" cy="814.1" r="2.1"/>
<circle class="b" cx="1691.2" cy="816.5" r="2.1"/>
<circle class="r" cx="1879.5" cy="813.8" r="2.1"/>
<circle class="r" cx="1741.3" cy="880.7" r="2.1"/>
<circle class="b" cx="1864.0" cy="713.0" r="2.1"/>
<circle class="r" cx="1631.4" cy="840.4" r="2.1"/>
<circle class="b" cx="1854.2" cy="684.7" r="2.1"/>
<circle class="b" cx="1825.4" cy="758.2" r="2.1"/>
<circle class="b" cx="1811.3" cy="684.7" r="2.1"/>
<circle class="b" cx="1795.0" cy="700.0" r="2.1"/>
<circle class="b" cx="1796.1" cy="891.3" r="2.1"/>
<circle class="b" cx="1830.6" cy="694.8" r="2.1"/>
<circle class="b" cx="1566.2" cy="903.7" r="2.1"/>
<circle class="b" cx="1904.1" cy="795.4" r="2.1"/>
<circle class="r" cx="1745.3" cy="844.1" r="2.1"/>
<circle class="r" cx="1769.9" cy="881.7" r="2.1"/>
<circle class="b" cx="1802.1" cy="692.4" r="2.1"/>
<circle class="b" cx="1663.0" cy="826.3" r="2.1"/>
<circle class="b" cx="1817.5" cy="836.2" r="2.1"/>
<circle class="r" cx="1802.4" cy="920.6" r="2.1"/>
<circle class="r" cx="1806.2" cy="682.5" r="2.1"/>
<circle class="r" cx="1560.8" cy="835.2" r="2.1"/>
<circle class="b" cx="1565.1" cy="902.3" r="2.1"/>
<circle class="b" cx="1882.8" cy="715.5" r="2.1"/>
<circle class="b" cx="1883.6" cy="772.3" r="2.1"/>
<circle class="b" cx="1796.2" cy="835.7" r="2.1"/>
<circle class="b" cx="1816.1" cy="907.9" r="2.1"/>
<circle class="b" cx="1834.2" cy="755.0" r="2.1"/>
<circle class="r" cx="1575.6" cy="876.0" r="2.1"/>
<circle class="b" cx="1801.7" cy="667.6" r="2.1"/>
<circle class="b" cx="1855.2" cy="775.2" r="2.1"/>
<circle class="b" cx="1602.6" cy="936.3" r="2.1"/>
<circle class="r" cx="1790.8" cy="841.4" r="2.1"/>
<circle class="b" cx="1804.2" cy="809.2" r="2.1"/>
<circle class="r" cx="1786.2" cy="847.4" r="2.1"/>
<circle class="b" cx="1833.7" cy="893.2" r="2.1"/>
<circle class="r" cx="1764.2" cy="720.8" r="2.1"/>
<circle class="r" cx="1806.8" cy="849.2" r="2.1"/>
<circle class="b" cx="1795.4" cy="877.9" r="2.1"/>
<circle class="b" cx="1693.5" cy="926.2" r="2.1"/>
<circle class="b" cx="1808.5" cy="704.9" r="2.1"/>
<circle class="b" cx="1726.6" cy="880.9" r="2.1"/>
<circle class="r" cx="1800.0" cy="879.0" r="2.1"/>
<circle class="b" cx="1847.0" cy="738.8" r="2.1"/>
<circle class="b" cx="1846.9" cy="780.6" r="2.1"/>
<circle class="r" cx="1843.4" cy="752.8" r="2.1"/>
<circle class="b" cx="1863.9" cy="823.5" r="2.1"/>
<circle class="b" cx="1869.6" cy="685.2" r="2.1"/>
<circle class="b" cx="1900.5" cy="793.5" r="2.1"/>
<circle class="r" cx="1838.3" cy="698.2" r="2.1"/>
<circle class="b" cx="1700.4" cy="843.1" r="2.1"/>
<circle class="r" cx="1613.3" cy="921.0" r="2.1"/>
<circle class="r" cx="1814.5" cy="702.9" r="2.1"/>
<circle class="r" cx="1870.6" cy="789.3" r="2.1"/>
<circle class="r" cx="1871.8" cy="785.0" r="2.1"/>
<circle class="b" cx="1744.4" cy="825.3" r="2.1"/>
<circle class="r" cx="1871.3" cy="779.3" r="2.1"/>
<circle class="b" cx="1852.5" cy="691.4" r="2.1"/>
<circle class="r" cx="1889.0" cy="774.4" r="2.1"/>
<circle class="b" cx="1832.0" cy="855.5" r="2.1"/>
<circle class="r" cx="1568.5" cy="812.9" r="2.1"/>
<circle class="b" cx="1864.3" cy="837.9" r="2.1"/>
<circle class="r" cx="1832.0" cy="662.6" r="2.1"/>
<circle class="b" cx="1551.7" cy="838.9" r="2.1"/>
<circle class="r" cx="1866.1" cy="755.0" r="2.1"/>
<circle class="r" cx="1699.0" cy="852.2" r="2.1"/>
<circle class="b" cx="1823.9" cy="691.3" r="2.1"/>
<circle class="r" cx="1692.9" cy="857.3" r="2.1"/>
<circle class="r" cx="1876.0" cy="809.5" r="2.1"/>
<circle class="r" cx="1855.5" cy="676.8" r="2.1"/>
<circle class="b" cx="1636.6" cy="863.3" r="2.1"/>
<circle class="r" cx="1765.6" cy="791.0" r="2.1"/>
<circle class="b" cx="1716.0" cy="908.4" r="2.1"/>
<circle class="b" cx="1780.6" cy="819.1" r="2.1"/>
<circle class="r" cx="1892.5" cy="764.1" r="2.1"/>
<circle class="b" cx="1740.1" cy="924.9" r="2.1"/>
<circle class="r" cx="1673.4" cy="833.0" r="2.1"/>
<circle class="b" cx="1723.0" cy="924.5" r="2.1"/>
<circle class="b" cx="1823.2" cy="709.3" r="2.1"/>
<circle class="b" cx="1898.7" cy="808.1" r="2.1"/>
<circle class="b" cx="1759.9" cy="846.7" r="2.1"/>
<circle class="r" cx="1783.8" cy="841.4" r="2.1"/>
<circle class="b" cx="1594.3" cy="955.6" r="2.1"/>
<circle class="b" cx="1561.5" cy="884.4" r="2.1"/>
<circle class="r" cx="1717.1" cy="857.5" r="2.1"/>
<circle class="r" cx="1853.8" cy="889.7" r="2.1"/>
<circle class="r" cx="1760.9" cy="790.2" r="2.1"/>
<circle class="b" cx="1731.0" cy="896.7" r="2.1"/>
<circle class="r" cx="1592.2" cy="935.8" r="2.1"/>
<circle class="b" cx="1689.0" cy="898.7" r="2.1"/>
<circle class="r" cx="1753.2" cy="923.4" r="2.1"/>
<circle class="r" cx="1832.0" cy="862.6" r="2.1"/>
<circle class="r" cx="1593.0" cy="947.8" r="2.1"/>
<circle class="r" cx="1832.6" cy="867.6" r="2.1"/>
<circle class="r" cx="1889.7" cy="733.9" r="2.1"/>
<circle class="r" cx="1565.7" cy="936.0" r="2.1"/>
<circle class="r" cx="1758.5" cy="798.5" r="2.1"/>
<circle class="r" cx="1705.3" cy="870.2" r="2.1"/>
<circle class="r" cx="1799.7" cy="669.2" r="2.1"/>
<circle class="r" cx="1753.4" cy="911.3" r="2.1"/>
<circle class="r" cx="1808.1" cy="663.3" r="2.1"/>
<circle class="r" cx="1815.1" cy="768.9" r="2.1"/>
<circle class="r" cx="1585.9" cy="862.2" r="2.1"/>
<circle class="r" cx="1837.6" cy="875.5" r="2.1"/>
<circle class="r" cx="1658.8" cy="831.2" r="2.1"/>
<circle class="r" cx="1852.3" cy="776.5" r="2.1"/>
<circle class="b" cx="1564.6" cy="805.6" r="2.1"/>
<circle class="r" cx="1591.4" cy="813.9" r="2.1"/>
<circle class="r" cx="1626.8" cy="875.5" r="2.1"/>
<circle class="r" cx="1830.2" cy="715.5" r="2.1"/>
<circle class="r" cx="1896.1" cy="810.4" r="2.1"/>
<circle class="b" cx="1631.7" cy="906.5" r="2.1"/>
<circle class="r" cx="1800.2" cy="867.0" r="2.1"/>
<circle class="b" cx="1775.5" cy="831.9" r="2.1"/>
<circle class="b" cx="1761.1" cy="881.0" r="2.1"/>
<circle class="b" cx="1809.6" cy="770.5" r="2.1"/>
<circle class="b" cx="1740.4" cy="938.4" r="2.1"/>
<circle class="b" cx="1759.2" cy="749.5" r="2.1"/>
<circle class="r" cx="1753.2" cy="710.6" r="2.1"/>
<circle class="r" cx="1549.1" cy="819.7" r="2.1"/>
<circle class="b" cx="1881.1" cy="711.1" r="2.1"/>
<circle class="b" cx="1882.2" cy="824.4" r="2.1"/>
<circle class="b" cx="1799.4" cy="909.8" r="2.1"/>
<circle class="b" cx="1765.7" cy="814.5" r="2.1"/>
<circle class="r" cx="1567.2" cy="820.2" r="2.1"/>
<circle class="r" cx="1611.4" cy="847.9" r="2.1"/>
<circle class="b" cx="1796.6" cy="831.5" r="2.1"/>
<circle class="b" cx="1577.3" cy="832.4" r="2.1"/>
<circle class="b" cx="1671.7" cy="853.6" r="2.1"/>
<circle class="b" cx="1555.4" cy="843.9" r="2.1"/>
<circle class="r" cx="1811.5" cy="871.2" r="2.1"/>
<circle class="r" cx="1762.0" cy="767.2" r="2.1"/>
<circle class="r" cx="1701.3" cy="847.7" r="2.1"/>
<circle class="r" cx="1820.0" cy="662.9" r="2.1"/>
<circle class="r" cx="1599.3" cy="931.0" r="2.1"/>
<circle class="b" cx="1819.9" cy="888.1" r="2.1"/>
<circle class="r" cx="1839.9" cy="681.9" r="2.1"/>
<circle class="r" cx="1875.6" cy="728.4" r="2.1"/>
<circle class="b" cx="1653.3" cy="837.3" r="2.1"/>
<circle class="b" cx="1834.5" cy="714.2" r="2.1"/>
<circle class="b" cx="1848.3" cy="840.1" r="2.1"/>
<circle class="b" cx="1743.5" cy="868.6" r="2.1"/>
<circle class="b" cx="1774.3" cy="767.6" r="2.1"/>
<circle class="b" cx="1820.9" cy="718.0" r="2.1"/>
<circle class="b" cx="1763.2" cy="763.6" r="2.1"/>
<circle class="r" cx="1841.6" cy="725.6" r="2.1"/>
<circle class="r" cx="1825.5" cy="752.7" r="2.1"/>
<circle class="b" cx="1728.4" cy="856.4" r="2.1"/>
<circle class="r" cx="1801.3" cy="820.0" r="2.1"/>
<circle class="r" cx="1555.1" cy="816.9" r="2.1"/>
<circle class="r" cx="1811.6" cy="742.1" r="2.1"/>
<circle class="b" cx="1657.3" cy="844.3" r="2.1"/>
<circle class="b" cx="1887.3" cy="792.6" r="2.1"/>
<circle class="b" cx="1693.8" cy="979.4" r="2.1"/>
<circle class="r" cx="1819.1" cy="736.9" r="2.1"/>
<circle class="r" cx="1794.5" cy="820.3" r="2.1"/>
<circle class="b" cx="1690.7" cy="811.8" r="2.1"/>
<circle class="r" cx="1839.8" cy="745.1" r="2.1"/>
<circle class="r" cx="1765.2" cy="793.0" r="2.1"/>
<circle class="r" cx="1800.3" cy="838.3" r="2.1"/>
<circle class="r" cx="1725.0" cy="880.0" r="2.1"/>
<circle class="r" cx="1641.4" cy="830.5" r="2.1"/>
<circle class="b" cx="1555.8" cy="938.3" r="2.1"/>
<circle class="r" cx="1832.5" cy="738.4" r="2.1"/>
<circle class="r" cx="1795.9" cy="813.9" r="2.1"/>
<circle class="b" cx="1824.1" cy="897.2" r="2.1"/>
<circle class="r" cx="1827.0" cy="911.6" r="2.1"/>
<circle class="b" cx="1687.6" cy="843.2" r="2.1"/>
<circle class="r" cx="1802.1" cy="796.1" r="2.1"/>
<circle class="r" cx="1552.5" cy="929.1" r="2.1"/>
<circle class="r" cx="1554.2" cy="842.5" r="2.1"/>
<circle class="r" cx="1850.2" cy="660.0" r="2.1"/>
<circle class="b" cx="1769.3" cy="851.6" r="2.1"/>
<circle class="r" cx="1583.2" cy="930.1" r="2.1"/>
<circle class="r" cx="1755.2" cy="839.1" r="2.1"/>
<circle class="b" cx="1744.6" cy="801.6" r="2.1"/>
<circle class="r" cx="1568.3" cy="875.6" r="2.1"/>
<circle class="b" cx="1792.4" cy="901.0" r="2.1"/>
<circle class="b" cx="1868.5" cy="770.9" r="2.1"/>
<circle class="b" cx="1567.2" cy="802.9" r="2.1"/>
<circle class="r" cx="1762.9" cy="761.8" r="2.1"/>
<circle class="b" cx="1823.9" cy="829.9" r="2.1"/>
<circle class="r" cx="1838.3" cy="889.7" r="2.1"/>
<circle class="b" cx="1672.1" cy="906.9" r="2.1"/>
<circle class="b" cx="1750.1" cy="845.8" r="2.1"/>
<circle class="r" cx="1827.5" cy="782.5" r="2.1"/>
<circle class="r" cx="1871.8" cy="687.7" r="2.1"/>
<circle class="b" cx="1560.2" cy="911.5" r="2.1"/>
<circle class="b" cx="1848.0" cy="737.4" r="2.1"/>
<circle class="r" cx="1680.4" cy="914.5" r="2.1"/>
<circle class="b" cx="1602.4" cy="902.9" r="2.1"/>
<circle class="r" cx="1890.5" cy="761.8" r="2.1"/>
<circle class="r" cx="1792.5" cy="814.2" r="2.1"/>
<circle class="r" cx="1738.0" cy="811.0" r="2.1"/>
<circle class="b" cx="1800.3" cy="854.4" r="2.1"/>
<circle class="r" cx="1842.9" cy="855.5" r="2.1"/>
<circle class="b" cx="1563.3" cy="814.7" r="2.1"/>
<circle class="r" cx="1548.7" cy="906.2" r="2.1"/>
<circle class="r" cx="1823.7" cy="857.5" r="2.1"/>
<circle class="r" cx="1746.6" cy="931.3" r="2.1"/>
<circle class="b" cx="1550.8" cy="884.0" r="2.1"/>
<circle class="r" cx="1704.6" cy="836.4" r="2.1"/>
<circle class="b" cx="1804.9" cy="866.2" r="2.1"/>
<circle class="b" cx="1563.8" cy="947.6" r="2.1"/>
<circle class="r" cx="1855.7" cy="808.1" r="2.1"/>
<circle class="r" cx="1757.8" cy="880.4" r="2.1"/>
<circle class="b" cx="1688.3" cy="900.3" r="2.1"/>
<circle class="r" cx="1808.3" cy="659.8" r="2.1"/>
<circle class="r" cx="1856.1" cy="843.0" r="2.1"/>
<circle class="r" cx="1772.6" cy="838.6" r="2.1"/>
<circle class="r" cx="1901.8" cy="779.6" r="2.1"/>
<circle class="b" cx="1870.3" cy="843.0" r="2.1"/>
<circle class="r" cx="1834.5" cy="896.9" r="2.1"/>
<circle class="r" cx="1812.3" cy="705.9" r="2.1"/>
<circle class="r" cx="1841.1" cy="698.3" r="2.1"/>
<circle class="b" cx="1825.6" cy="777.3" r="2.1"/>
<circle class="r" cx="1816.4" cy="748.5" r="2.1"/>
<circle class="r" cx="1762.8" cy="770.7" r="2.1"/>
<circle class="r" cx="1880.2" cy="779.5" r="2.1"/>
<circle class="r" cx="1890.5" cy="747.1" r="2.1"/>
<circle class="b" cx="1859.4" cy="732.6" r="2.1"/>
<circle class="b" cx="1778.9" cy="765.8" r="2.1"/>
<circle class="b" cx="1574.0" cy="909.0" r="2.1"/>
<circle class="r" cx="1809.4" cy="716.4" r="2.1"/>
<circle class="r" cx="1896.9" cy="799.6" r="2.1"/>
<circle class="r" cx="1616.6" cy="904.9" r="2.1"/>
<circle class="b" cx="1895.7" cy="790.6" r="2.1"/>
<circle class="b" cx="1770.1" cy="794.4" r="2.1"/>
<circle class="b" cx="1823.2" cy="860.2" r="2.1"/>
<circle class="b" cx="1707.7" cy="841.4" r="2.1"/>
<circle class="b" cx="1780.7" cy="913.4" r="2.1"/>
<circle class="b" cx="1886.8" cy="723.8" r="2.1"/>
<circle class="r" cx="1842.8" cy="787.1" r="2.1"/>
<circle class="b" cx="1598.0" cy="947.7" r="2.1"/>
<circle class="b" cx="1805.4" cy="703.0" r="2.1"/>
<circle class="b" cx="1902.2" cy="786.3" r="2.1"/>
<circle class="b" cx="1822.7" cy="785.9" r="2.1"/>
<circle class="b" cx="1569.0" cy="823.7" r="2.1"/>
<circle class="r" cx="1738.9" cy="920.5" r="2.1"/>
<circle class="r" cx="1586.1" cy="956.2" r="2.1"/>
<circle class="r" cx="1813.0" cy="777.6" r="2.1"/>
<circle class="b" cx="1651.4" cy="912.1" r="2.1"/>
<circle class="r" cx="1848.5" cy="728.3" r="2.1"/>
<circle class="r" cx="1702.4" cy="813.8" r="2.1"/>
<circle class="b" cx="1814.2" cy="669.4" r="2.1"/>
<circle class="r" cx="1881.7" cy="713.1" r="2.1"/>
<circle class="r" cx="1833.9" cy="791.0" r="2.1"/>
<circle class="b" cx="1550.8" cy="865.6" r="2.1"/>
<circle class="b" cx="1816.9" cy="880.1" r="2.1"/>
<circle class="b" cx="1875.2" cy="709.2" r="2.1"/>
<circle class="b" cx="1792.2" cy="845.1" r="2.1"/>
<circle class="b" cx="1894.7" cy="737.4" r="2.1"/>
<circle class="b" cx="1622.0" cy="930.0" r="2.1"/>
<circle class="b" cx="1829.3" cy="756.2" r="2.1"/>
<circle class="r" cx="1824.5" cy="693.2" r="2.1"/>
<circle class="b" cx="1581.5" cy="936.4" r="2.1"/>
<circle class="r" cx="1824.0" cy="887.1" r="2.1"/>
<circle class="b" cx="1645.6" cy="844.4" r="2.1"/>
<circle class="r" cx="1758.9" cy="820.3" r="2.1"/>
<circle class="r" cx="1820.4" cy="826.8" r="2.1"/>
<circle class="r" cx="1590.4" cy="917.4" r="2.1"/>
<circle class="r" cx="1714.5" cy="816.3" r="2.1"/>
<circle class="b" cx="1645.4" cy="844.0" r="2.1"/>
<circle class="b" cx="1842.7" cy="784.2" r="2.1"/>
<circle class="r" cx="1692.5" cy="866.8" r="2.1"/>
<circle class="r" cx="1599.7" cy="946.1" r="2.1"/>
<circle class="r" cx="1572.2" cy="924.5" r="2.1"/>
<circle class="r" cx="1872.5" cy="716.9" r="2.1"/>
<circle class="b" cx="1885.9" cy="746.0" r="2.1"/>
<circle class="r" cx="1826.0" cy="690.7" r="2.1"/>
<circle class="b" cx="1582.4" cy="954.0" r="2.1"/>
<circle class="b" cx="1831.3" cy="906.1" r="2.1"/>
<circle class="r" cx="1662.5" cy="843.2" r="2.1"/>
<circle class="b" cx="1695.6" cy="911.0" r="2.1"/>
<circle class="r" cx="1827.4" cy="863.3" r="2.1"/>
<circle class="b" cx="1677.6" cy="957.9" r="2.1"/>
<circle class="r" cx="1871.7" cy="734.5" r="2.1"/>
<circle class="r" cx="1588.5" cy="958.0" r="2.1"/>
<circle class="r" cx="1839.4" cy="877.6" r="2.1"/>
<circle class="r" cx="1801.1" cy="701.2" r="2.1"/>
<circle class="b" cx="1790.9" cy="827.7" r="2.1"/>
<circle class="b" cx="1868.1" cy="693.5" r="2.1"/>
<circle class="r" cx="1865.9" cy="833.9" r="2.1"/>
<circle class="b" cx="1816.3" cy="876.0" r="2.1"/>
<circle class="r" cx="1846.1" cy="710.4" r="2.1"/>
<circle class="b" cx="1910.8" cy="761.0" r="2.1"/>
<circle class="r" cx="1703.7" cy="982.6" r="2.1"/>
<circle class="r" cx="1833.1" cy="829.3" r="2.1"/>
<circle class="b" cx="1793.9" cy="880.7" r="2.1"/>
<circle class="b" cx="1654.2" cy="887.0" r="2.1"/>
<circle class="r" cx="1824.5" cy="880.8" r="2.1"/>
<circle class="r" cx="1835.1" cy="864.6" r="2.1"/>
<circle class="b" cx="1824.8" cy="909.7" r="2.1"/>
<circle class="r" cx="1865.9" cy="797.4" r="2.1"/>
<circle class="b" cx="1889.7" cy="789.2" r="2.1"/>
<circle class="b" cx="1656.0" cy="915.5" r="2.1"/>
<circle class="b" cx="1560.1" cy="886.7" r="2.1"/>
<circle class="b" cx="1708.5" cy="827.6" r="2.1"/>
<circle class="r" cx="1828.7" cy="773.2" r="2.1"/>
<circle class="r" cx="1586.4" cy="881.4" r="2.1"/>
<circle class="r" cx="1696.8" cy="840.9" r="2.1"/>
<circle class="r" cx="1882.1" cy="743.2" r="2.1"/>
<circle class="r" cx="1588.2" cy="863.3" r="2.1"/>
<circle class="b" cx="1705.9" cy="866.7" r="2.1"/>
<circle class="r" cx="1809.2" cy="765.2" r="2.1"/>
<circle class="r" cx="1673.6" cy="921.1" r="2.1"/>
<circle class="r" cx="1601.6" cy="910.8" r="2.1"/>
<circle class="b" cx="1592.1" cy="940.1" r="2.1"/>
<circle class="r" cx="1668.0" cy="829.6" r="2.1"/>
<circle class="b" cx="1835.1" cy="715.1" r="2.1"/>
<circle class="b" cx="1815.1" cy="912.2" r="2.1"/>
<circle class="r" cx="1676.2" cy="810.9" r="2.1"/>
<circle class="r" cx="1851.1" cy="703.9" r="2.1"/>
<circle class="b" cx="1781.8" cy="869.4" r="2.1"/>
<circle class="r" cx="1761.2" cy="798.1" r="2.1"/>
<circle class="r" cx="1779.9" cy="750.6" r="2.1"/>
<circle class="r" cx="1848.8" cy="847.1" r="2.1"/>
<circle class="r" cx="1566.6" cy="925.6" r="2.1"/>
<circle class="b" cx="1813.7" cy="791.3" r="2.1"/>
<circle class="r" cx="1579.5" cy="942.8" r="2.1"/>
<circle class="r" cx="1844.5" cy="708.1" r="2.1"/>
<circle class="r" cx="1832.3" cy="839.8" r="2.1"/>
<circle class="r" cx="1648.1" cy="875.6" r="2.1"/>
<circle class="r" cx="1821.6" cy="862.3" r="2.1"/>
<circle class="r" cx="1868.5" cy="688.1" r="2.1"/>
<circle class="b" cx="1667.5" cy="886.3" r="2.1"/>
<circle class="b" cx="1606.2" cy="914.6" r="2.1"/>
<circle class="b" cx="1832.4" cy="898.4" r="2.1"/>
<circle class="r" cx="1822.0" cy="848.2" r="2.1"/>
<circle class="b" cx="1844.6" cy="738.5" r="2.1"/>
<circle class="b" cx="1779.2" cy="886.2" r="2.1"/>
<circle class="b" cx="1722.0" cy="971.5" r="2.1"/>
<circle class="r" cx="1555.9" cy="814.1" r="2.1"/>
<circle class="b" cx="1856.0" cy="680.9" r="2.1"/>
<circle class="r" cx="1556.4" cy="890.2" r="2.1"/>
<circle class="b" cx="1912.3" cy="774.3" r="2.1"/>
<circle class="r" cx="1687.2" cy="899.1" r="2.1"/>
<circle class="r" cx="1875.0" cy="839.0" r="2.1"/>
<circle class="r" cx="1849.1" cy="661.4" r="2.1"/>
<circle class="r" cx="1639.0" cy="824.7" r="2.1"/>
<circle class="b" cx="1824.1" cy="909.4" r="2.1"/>
<circle class="r" cx="1796.4" cy="687.2" r="2.1"/>
<circle class="r" cx="1554.3" cy="935.1" r="2.1"/>
<circle class="r" cx="1865.7" cy="798.6" r="2.1"/>
<circle class="r" cx="1603.0" cy="905.9" r="2.1"/>
<circle class="r" cx="1834.4" cy="787.0" r="2.1"/>
<circle class="r" cx="1786.8" cy="885.6" r="2.1"/>
<circle class="b" cx="1732.8" cy="893.7" r="2.1"/>
<circle class="r" cx="1846.0" cy="852.1" r="2.1"/>
<circle class="r" cx="1786.0" cy="887.0" r="2.1"/>
<circle class="r" cx="1759.0" cy="800.0" r="2.1"/>
<circle class="b" cx="1815.8" cy="675.9" r="2.1"/>
<circle class="r" cx="1602.2" cy="949.5" r="2.1"/>
<circle class="r" cx="1861.7" cy="796.0" r="2.1"/>
<circle class="r" cx="1822.6" cy="833.7" r="2.1"/>
<circle class="b" cx="1829.9" cy="780.2" r="2.1"/>
<circle class="r" cx="1889.9" cy="729.3" r="2.1"/>
<circle class="b" cx="1627.7" cy="898.7" r="2.1"/>
<circle class="b" cx="1760.3" cy="789.5" r="2.1"/>
<circle class="r" cx="1809.3" cy="844.5" r="2.1"/>
<circle class="r" cx="1905.5" cy="752.7" r="2.1"/>
<circle class="b" cx="1897.9" cy="776.6" r="2.1"/>
<circle class="r" cx="1749.7" cy="801.2" r="2.1"/>
<circle class="r" cx="1767.8" cy="760.0" r="2.1"/>
<circle class="r" cx="1671.5" cy="847.3" r="2.1"/>
<circle class="b" cx="1673.1" cy="815.6" r="2.1"/>
<circle class="r" cx="1650.6" cy="848.2" r="2.1"/>
<circle class="r" cx="1625.9" cy="925.3" r="2.1"/>
<circle class="b" cx="1600.3" cy="861.8" r="2.1"/>
<circle class="r" cx="1803.3" cy="685.9" r="2.1"/>
<circle class="r" cx="1857.5" cy="818.9" r="2.1"/>
<circle class="r" cx="1795.2" cy="854.2" r="2.1"/>
<circle class="b" cx="1845.0" cy="762.3" r="2.1"/>
<circle class="r" cx="1720.9" cy="824.0" r="2.1"/>
<circle class="r" cx="1651.2" cy="881.1" r="2.1"/>
<circle class="b" cx="1786.6" cy="910.4" r="2.1"/>
<circle class="r" cx="1653.5" cy="852.4" r="2.1"/>
<circle class="b" cx="1810.4" cy="854.0" r="2.1"/>
<circle class="r" cx="1568.2" cy="935.8" r="2.1"/>
<circle class="r" cx="1800.5" cy="696.4" r="2.1"/>
<circle class="b" cx="1550.8" cy="885.3" r="2.1"/>
<circle class="b" cx="1769.6" cy="849.8" r="2.1"/>
<circle class="b" cx="1746.7" cy="877.0" r="2.1"/>
<circle class="r" cx="1892.8" cy="774.8" r="2.1"/>
<circle class="b" cx="1871.2" cy="769.2" r="2.1"/>
<circle class="b" cx="1839.9" cy="806.4" r="2.1"/>
<circle class="r" cx="1663.0" cy="873.7" r="2.1"/>
<circle class="r" cx="1767.9" cy="782.9" r="2.1"/>
<circle class="b" cx="1572.6" cy="808.9" r="2.1"/>
<circle class="r" cx="1565.8" cy="884.1" r="2.1"/>
<circle class="b" cx="1709.8" cy="817.0" r="2.1"/>
<circle class="r" cx="1880.5" cy="695.7" r="2.1"/>
<circle class="r" cx="1563.1" cy="912.6" r="2.1"/>
<circle class="r" cx="1869.8" cy="798.4" r="2.1"/>
<circle class="b" cx="1722.2" cy="847.3" r="2.1"/>
<circle class="r" cx="1764.4" cy="889.7" r="2.1"/>
<circle class="r" cx="1583.0" cy="812.5" r="2.1"/>
<circle class="b" cx="1831.1" cy="806.6" r="2.1"/>
<circle class="r" cx="1778.7" cy="882.6" r="2.1"/>
<circle class="r" cx="1646.2" cy="876.2" r="2.1"/>
<circle class="b" cx="1587.0" cy="807.6" r="2.1"/>
<circle class="b" cx="1586.5" cy="925.7" r="2.1"/>
<circle class="b" cx="1768.0" cy="852.6" r="2.1"/>
<circle class="r" cx="1858.7" cy="730.4" r="2.1"/>
<circle class="r" cx="1831.8" cy="888.5" r="2.1"/>
<circle class="r" cx="1767.6" cy="766.4" r="2.1"/>
<circle class="b" cx="1579.5" cy="894.0" r="2.1"/>
<circle class="r" cx="1834.7" cy="848.9" r="2.1"/>
<circle class="b" cx="1706.1" cy="903.4" r="2.1"/>
<circle class="b" cx="1672.2" cy="931.9" r="2.1"/>
<circle class="b" cx="1826.7" cy="747.1" r="2.1"/>
<circle class="r" cx="1773.2" cy="898.9" r="2.1"/>
<circle class="r" cx="1787.8" cy="905.4" r="2.1"/>
<circle class="r" cx="1843.6" cy="823.2" r="2.1"/>
<circle class="r" cx="1635.2" cy="822.6" r="2.1"/>
<circle class="r" cx="1595.0" cy="950.0" r="2.1"/>
<circle class="b" cx="1855.2" cy="772.4" r="2.1"/>
<circle class="r" cx="1895.0" cy="751.5" r="2.1"/>
<circle class="r" cx="1562.7" cy="924.5" r="2.1"/>
<circle class="r" cx="1551.0" cy="846.1" r="2.1"/>
<circle class="r" cx="1813.8" cy="759.3" r="2.1"/>
<circle class="r" cx="1689.7" cy="836.6" r="2.1"/>
<circle class="b" cx="1820.7" cy="862.4" r="2.1"/>
<circle class="r" cx="1760.6" cy="780.6" r="2.1"/>
<circle class="b" cx="1551.0" cy="884.7" r="2.1"/>
<circle class="b" cx="1783.1" cy="808.5" r="2.1"/>
<circle class="b" cx="1596.5" cy="866.5" r="2.1"/>
<circle class="b" cx="1700.2" cy="837.3" r="2.1"/>
<circle class="r" cx="1897.5" cy="806.6" r="2.1"/>
<circle class="r" cx="1873.0" cy="751.0" r="2.1"/>
<circle class="r" cx="1865.6" cy="767.9" r="2.1"/>
<circle class="r" cx="1553.5" cy="886.9" r="2.1"/>
<circle class="b" cx="1714.3" cy="882.7" r="2.1"/>
<circle class="r" cx="1809.0" cy="774.6" r="2.1"/>
<circle class="b" cx="1816.4" cy="733.5" r="2.1"/>
<circle class="r" cx="1850.9" cy="740.6" r="2.1"/>
<circle class="b" cx="1825.2" cy="788.0" r="2.1"/>
<circle class="b" cx="1721.6" cy="919.5" r="2.1"/>
<circle class="b" cx="1860.4" cy="762.1" r="2.1"/>
<circle class="b" cx="1867.7" cy="775.6" r="2.1"/>
<circle class="r" cx="1812.3" cy="900.8" r="2.1"/>
<circle class="r" cx="1815.8" cy="700.3" r="2.1"/>
<circle class="b" cx="1864.5" cy="821.5" r="2.1"/>
<circle class="r" cx="1716.8" cy="984.2" r="2.1"/>
<circle class="r" cx="1586.4" cy="819.6" r="2.1"/>
<circle class="r" cx="1586.0" cy="905.5" r="2.1"/>
<circle class="r" cx="1677.1" cy="957.2" r="2.1"/>
<circle class="r" cx="1822.4" cy="846.0" r="2.1"/>
<circle class="r" cx="1688.5" cy="892.7" r="2.1"/>
<circle class="r" cx="1654.5" cy="891.4" r="2.1"/>
<circle class="r" cx="1729.9" cy="892.1" r="2.1"/>
<circle class="r" cx="1776.4" cy="773.5" r="2.1"/>
<circle class="b" cx="1597.7" cy="869.3" r="2.1"/>
<circle class="b" cx="1605.8" cy="838.6" r="2.1"/>
<circle class="b" cx="1854.8" cy="754.5" r="2.1"/>
<circle class="b" cx="1797.5" cy="680.0" r="2.1"/>
<circle class="b" cx="1787.8" cy="914.1" r="2.1"/>
<circle class="b" cx="1567.1" cy="887.1" r="2.1"/>
<circle class="r" cx="1575.3" cy="918.3" r="2.1"/>
<circle class="b" cx="1721.3" cy="987.6" r="2.1"/>
<circle class="b" cx="1836.3" cy="683.5" r="2.1"/>
<circle class="r" cx="1887.7" cy="821.3" r="2.1"/>
<circle class="r" cx="1761.3" cy="870.8" r="2.1"/>
<circle class="r" cx="1560.9" cy="836.6" r="2.1"/>
<circle class="r" cx="1711.1" cy="842.9" r="2.1"/>
<circle class="r" cx="1611.2" cy="900.1" r="2.1"/>
<circle class="r" cx="1827.9" cy="739.8" r="2.1"/>
<circle class="r" cx="1873.7" cy="827.6" r="2.1"/>
<circle class="b" cx="1589.4" cy="913.6" r="2.1"/>
<circle class="b" cx="1830.2" cy="834.7" r="2.1"/>
<circle class="b" cx="1680.8" cy="876.4" r="2.1"/>
<circle class="b" cx="1805.2" cy="869.2" r="2.1"/>
<circle class="b" cx="1862.8" cy="707.3" r="2.1"/>
<circle class="b" cx="1759.3" cy="740.9" r="2.1"/>
<circle class="r" cx="1883.0" cy="808.0" r="2.1"/>
<circle class="b" cx="1851.5" cy="730.8" r="2.1"/>
<circle class="b" cx="1569.8" cy="925.7" r="2.1"/>
<circle class="r" cx="1560.5" cy="879.8" r="2.1"/>
<circle class="r" cx="1784.1" cy="815.1" r="2.1"/>
<circle class="b" cx="1712.0" cy="839.2" r="2.1"/>
<circle class="b" cx="1836.5" cy="725.1" r="2.1"/>
<circle class="r" cx="1832.3" cy="788.3" r="2.1"/>
<circle class="b" cx="1798.8" cy="868.9" r="2.1"/>
<circle class="r" cx="1876.6" cy="745.0" r="2.1"/>
<circle class="b" cx="1763.8" cy="771.2" r="2.1"/>
<circle class="r" cx="1730.0" cy="928.2" r="2.1"/>
<circle class="r" cx="1827.8" cy="784.1" r="2.1"/>
<circle class="b" cx="1844.7" cy="742.9" r="2.1"/>
<circle class="b" cx="1674.7" cy="938.8" r="2.1"/>
<circle class="r" cx="1823.6" cy="854.9" r="2.1"/>
<circle class="r" cx="1912.4" cy="770.3" r="2.1"/>
<circle class="r" cx="1789.0" cy="817.6" r="2.1"/>
<circle class="b" cx="1885.0" cy="735.2" r="2.1"/>
<circle class="b" cx="1576.0" cy="880.3" r="2.1"/>
<circle class="b" cx="1699.2" cy="980.0" r="2.1"/>
<circle class="b" cx="1570.9" cy="829.8" r="2.1"/>
<circle class="b" cx="1833.3" cy="704.7" r="2.1"/>
<circle class="b" cx="1908.6" cy="785.7" r="2.1"/>
<circle class="r" cx="1867.7" cy="721.3" r="2.1"/>
<circle class="r" cx="1843.3" cy="703.2" r="2.1"/>
<circle class="r" cx="1897.7" cy="818.4" r="2.1"/>
<circle class="b" cx="1588.9" cy="808.1" r="2.1"/>
<circle class="r" cx="1862.5" cy="736.8" r="2.1"/>
<circle class="b" cx="1814.1" cy="685.1" r="2.1"/>
<circle class="r" cx="1885.0" cy="780.3" r="2.1"/>
<circle class="r" cx="1731.0" cy="849.0" r="2.1"/>
<circle class="r" cx="1695.5" cy="845.9" r="2.1"/>
<circle class="b" cx="1746.8" cy="913.2" r="2.1"/>
<circle class="b" cx="1627.4" cy="890.8" r="2.1"/>
<circle class="b" cx="1706.3" cy="823.4" r="2.1"/>
<circle class="r" cx="1578.8" cy="869.5" r="2.1"/>
<circle class="b" cx="1860.5" cy="820.7" r="2.1"/>
<circle class="r" cx="1811.2" cy="710.2" r="2.1"/>
<circle class="r" cx="1768.7" cy="736.2" r="2.1"/>
<circle class="b" cx="1846.5" cy="680.3" r="2.1"/>
<circle class="r" cx="1824.2" cy="706.0" r="2.1"/>
<circle class="r" cx="1844.9" cy="797.1" r="2.1"/>
<circle class="b" cx="1871.6" cy="739.9" r="2.1"/>
<circle class="r" cx="1846.9" cy="780.6" r="2.1"/>
<circle class="b" cx="1880.4" cy="784.0" r="2.1"/>
<circle class="r" cx="1846.9" cy="656.8" r="2.1"/>
<circle class="r" cx="1706.5" cy="894.0" r="2.1"/>
<circle class="b" cx="1836.2" cy="748.8" r="2.1"/>
<circle class="r" cx="1583.9" cy="958.5" r="2.1"/>
<circle class="r" cx="1839.9" cy="691.0" r="2.1"/>
<circle class="r" cx="1663.2" cy="847.1" r="2.1"/>
<circle class="b" cx="1839.6" cy="706.2" r="2.1"/>
<circle class="r" cx="1881.7" cy="806.4" r="2.1"/>
<circle class="r" cx="1860.5" cy="689.3" r="2.1"/>
<circle class="r" cx="1793.4" cy="846.7" r="2.1"/>
<circle class="r" cx="1630.3" cy="899.5" r="2.1"/>
<circle class="b" cx="1812.2" cy="747.2" r="2.1"/>
<circle class="b" cx="1828.1" cy="721.0" r="2.1"/>
<circle class="r" cx="1563.1" cy="874.3" r="2.1"/>
<circle class="r" cx="1768.7" cy="751.5" r="2.1"/>
<circle class="b" cx="1885.2" cy="742.1" r="2.1"/>
<circle class="b" cx="1838.1" cy="799.7" r="2.1"/>
<circle class="b" cx="1805.7" cy="746.6" r="2.1"/>
<circle class="r" cx="1553.5" cy="901.1" r="2.1"/>
<circle class="r" cx="1731.6" cy="937.4" r="2.1"/>
<circle class="r" cx="1683.1" cy="914.1" r="2.1"/>
<circle class="r" cx="1671.2" cy="922.6" r="2.1"/>
<circle class="r" cx="1831.8" cy="794.9" r="2.1"/>
<circle class="r" cx="1893.5" cy="747.3" r="2.1"/>
<circle class="r" cx="1737.6" cy="832.4" r="2.1"/>
<circle class="r" cx="1808.1" cy="751.1" r="2.1"/>
<circle class="r" cx="1795.0" cy="837.6" r="2.1"/>
<circle class="b" cx="1807.7" cy="682.4" r="2.1"/>
<circle class="r" cx="1820.3" cy="682.3" r="2.1"/>
<circle class="r" cx="1848.2" cy="859.1" r="2.1"/>
<circle class="b" cx="1668.3" cy="850.4" r="2.1"/>
<circle class="b" cx="1594.2" cy="838.5" r="2.1"/>
<circle class="b" cx="1796.2" cy="862.9" r="2.1"/>
<circle class="b" cx="1577.4" cy="917.5" r="2.1"/>
<circle class="r" cx="1870.5" cy="796.1" r="2.1"/>
<circle class="r" cx="1771.0" cy="772.2" r="2.1"/>
<circle class="b" cx="1726.5" cy="824.4" r="2.1"/>
<circle class="b" cx="1883.4" cy="745.8" r="2.1"/>
<circle class="r" cx="1673.5" cy="895.4" r="2.1"/>
<circle class="b" cx="1773.5" cy="740.7" r="2.1"/>
<circle class="r" cx="1889.0" cy="769.9" r="2.1"/>
<circle class="b" cx="1783.6" cy="816.4" r="2.1"/>
<circle class="b" cx="1588.6" cy="933.7" r="2.1"/>
<circle class="b" cx="1595.9" cy="874.1" r="2.1"/>
<circle class="r" cx="1606.1" cy="950.7" r="2.1"/>
<circle class="r" cx="1778.6" cy="809.7" r="2.1"/>
<circle class="b" cx="1771.1" cy="782.4" r="2.1"/>
<circle class="r" cx="1818.9" cy="694.8" r="2.1"/>
<circle class="r" cx="1792.1" cy="789.6" r="2.1"/>
<circle class="r" cx="1858.8" cy="662.3" r="2.1"/>
<circle class="r" cx="1770.4" cy="875.6" r="2.1"/>
<circle class="r" cx="1792.5" cy="889.1" r="2.1"/>
<circle class="b" cx="1692.8" cy="916.7" r="2.1"/>
<circle class="r" cx="1727.0" cy="971.5" r="2.1"/>
<circle class="b" cx="1635.8" cy="911.7" r="2.1"/>
<circle class="r" cx="1781.9" cy="907.3" r="2.1"/>
<circle class="b" cx="1591.2" cy="858.6" r="2.1"/>
<circle class="r" cx="1778.3" cy="876.4" r="2.1"/>
<circle class="r" cx="1834.2" cy="824.0" r="2.1"/>
<circle class="b" cx="1783.2" cy="896.1" r="2.1"/>
<circle class="r" cx="1832.8" cy="901.8" r="2.1"/>
<circle class="r" cx="1578.4" cy="868.8" r="2.1"/>
<circle class="r" cx="1662.4" cy="859.8" r="2.1"/>
<circle class="b" cx="1652.6" cy="911.5" r="2.1"/>
<circle class="r" cx="1750.2" cy="710.1" r="2.1"/>
<circle class="b" cx="1799.8" cy="915.5" r="2.1"/>
<circle class="r" cx="1689.2" cy="902.3" r="2.1"/>
<circle class="r" cx="1905.7" cy="752.6" r="2.1"/>
<circle class="r" cx="1870.0" cy="842.5" r="2.1"/>
<circle class="r" cx="1802.4" cy="687.8" r="2.1"/>
<circle class="b" cx="1674.7" cy="955.4" r="2.1"/>
<circle class="r" cx="1600.9" cy="839.1" r="2.1"/>
<circle class="b" cx="1616.2" cy="892.9" r="2.1"/>
<circle class="r" cx="1570.4" cy="867.9" r="2.1"/>
<circle class="b" cx="1886.2" cy="729.5" r="2.1"/>
<circle class="b" cx="1702.8" cy="876.9" r="2.1"/>
<circle class="b" cx="1764.3" cy="733.9" r="2.1"/>
<circle class="r" cx="1831.7" cy="693.9" r="2.1"/>
<circle class="r" cx="1846.0" cy="797.4" r="2.1"/>
<circle class="b" cx="1725.7" cy="854.2" r="2.1"/>
<circle class="b" cx="1683.0" cy="811.9" r="2.1"/>
<circle class="r" cx="1783.1" cy="887.2" r="2.1"/>
<circle class="b" cx="1845.2" cy="664.2" r="2.1"/>
<circle class="r" cx="1683.9" cy="933.6" r="2.1"/>
<circle class="b" cx="1563.1" cy="941.4" r="2.1"/>
<circle class="r" cx="1803.7" cy="842.9" r="2.1"/>
<circle class="r" cx="1603.5" cy="929.2" r="2.1"/>
<circle class="r" cx="1848.4" cy="823.9" r="2.1"/>
<circle class="b" cx="1886.5" cy="763.9" r="2.1"/>
<circle class="b" cx="1809.6" cy="723.9" r="2.1"/>
<circle class="b" cx="1702.7" cy="918.8" r="2.1"/>
<circle class="r" cx="1556.1" cy="908.0" r="2.1"/>
<circle class="b" cx="1875.1" cy="836.0" r="2.1"/>
<circle class="r" cx="1577.2" cy="819.0" r="2.1"/>
<circle class="b" cx="1861.2" cy="720.2" r="2.1"/>
<circle class="r" cx="1835.6" cy="803.8" r="2.1"/>
<circle class="r" cx="1548.6" cy="893.8" r="2.1"/>
<circle class="r" cx="1662.6" cy="916.7" r="2.1"/>
<circle class="b" cx="1900.5" cy="779.7" r="2.1"/>
<circle class="r" cx="1806.3" cy="776.1" r="2.1"/>
<circle class="b" cx="1836.2" cy="679.2" r="2.1"/>
<circle class="b" cx="1661.1" cy="846.6" r="2.1"/>
<circle class="r" cx="1646.3" cy="878.3" r="2.1"/>
<circle class="r" cx="1868.7" cy="754.1" r="2.1"/>
<circle class="b" cx="1821.8" cy="658.2" r="2.1"/>
<circle class="r" cx="1767.6" cy="843.8" r="2.1"/>
<circle class="r" cx="1765.5" cy="792.3" r="2.1"/>
<circle class="b" cx="1812.1" cy="699.7" r="2.1"/>
<circle class="r" cx="1827.7" cy="747.8" r="2.1"/>
<circle class="b" cx="1885.3" cy="783.0" r="2.1"/>
<circle class="r" cx="1608.1" cy="910.9" r="2.1"/>
<circle class="r" cx="1771.6" cy="846.6" r="2.1"/>
<circle class="r" cx="1695.1" cy="860.2" r="2.1"/>
<circle class="b" cx="1839.4" cy="688.3" r="2.1"/>
<circle class="b" cx="1773.9" cy="754.7" r="2.1"/>
<circle class="b" cx="1845.4" cy="788.2" r="2.1"/>
<circle class="r" cx="1731.7" cy="905.7" r="2.1"/>
<circle class="r" cx="1726.5" cy="838.2" r="2.1"/>
<circle class="b" cx="1845.1" cy="780.4" r="2.1"/>
<circle class="r" cx="1636.7" cy="896.3" r="2.1"/>
<circle class="r" cx="1763.5" cy="724.5" r="2.1"/>
<circle class="r" cx="1801.5" cy="778.2" r="2.1"/>
<circle class="r" cx="1829.7" cy="867.6" r="2.1"/>
<circle class="b" cx="1856.6" cy="696.6" r="2.1"/>
<circle class="r" cx="1818.9" cy="660.2" r="2.1"/>
<circle class="b" cx="1850.0" cy="657.3" r="2.1"/>
<circle class="b" cx="1852.5" cy="684.6" r="2.1"/>
<circle class="b" cx="1867.8" cy="807.6" r="2.1"/>
<circle class="b" cx="1766.0" cy="771.8" r="2.1"/>
<circle class="b" cx="1668.6" cy="892.3" r="2.1"/>
<circle class="r" cx="1585.0" cy="873.7" r="2.1"/>
<circle class="r" cx="1592.7" cy="938.8" r="2.1"/>
<circle class="b" cx="1868.2" cy="727.5" r="2.1"/>
<circle class="b" cx="1841.8" cy="804.8" r="2.1"/>
<circle class="r" cx="1553.4" cy="812.8" r="2.1"/>
<circle class="b" cx="1676.8" cy="913.7" r="2.1"/>
<circle class="r" cx="1892.0" cy="731.7" r="2.1"/>
<circle class="r" cx="1783.8" cy="849.2" r="2.1"/>
<circle class="r" cx="1783.2" cy="803.6" r="2.1"/>
<circle class="r" cx="1874.5" cy="784.0" r="2.1"/>
<circle class="r" cx="1887.5" cy="827.2" r="2.1"/>
<circle class="r" cx="1793.1" cy="845.7" r="2.1"/>
<circle class="b" cx="1748.6" cy="866.8" r="2.1"/>
<circle class="r" cx="1651.0" cy="883.6" r="2.1"/>
<circle class="r" cx="1874.9" cy="713.0" r="2.1"/>
<circle class="r" cx="1816.8" cy="672.7" r="2.1"/>
<circle class="r" cx="1850.1" cy="681.7" r="2.1"/>
<circle class="b" cx="1725.6" cy="817.6" r="2.1"/>
<circle class="r" cx="1561.2" cy="875.4" r="2.1"/>
<circle class="r" cx="1824.3" cy="892.9" r="2.1"/>
<circle class="r" cx="1737.6" cy="887.9" r="2.1"/>
<circle class="r" cx="1654.3" cy="893.4" r="2.1"/>
<circle class="b" cx="1856.1" cy="716.8" r="2.1"/>
<circle class="b" cx="1751.0" cy="822.7" r="2.1"/>
<circle class="r" cx="1875.2" cy="733.8" r="2.1"/>
<circle class="b" cx="1834.1" cy="666.5" r="2.1"/>
<circle class="b" cx="1769.9" cy="918.7" r="2.1"/>
<circle class="b" cx="1555.9" cy="918.8" r="2.1"/>
<circle class="r" cx="1751.2" cy="711.9" r="2.1"/>
<circle class="r" cx="1812.7" cy="898.5" r="2.1"/>
<circle class="r" cx="1819.2" cy="880.0" r="2.1"/>
<circle class="r" cx="1651.5" cy="898.5" r="2.1"/>
<circle class="b" cx="1870.0" cy="838.5" r="2.1"/>
<circle class="b" cx="1852.7" cy="713.7" r="2.1"/>
<circle class="r" cx="1606.8" cy="938.6" r="2.1"/>
<circle class="b" cx="1561.6" cy="921.7" r="2.1"/>
<circle class="b" cx="1798.1" cy="696.4" r="2.1"/>
<circle class="b" cx="1779.3" cy="790.1" r="2.1"/>
<circle class="b" cx="1829.0" cy="775.1" r="2.1"/>
<circle class="b" cx="1836.4" cy="886.7" r="2.1"/>
<circle class="r" cx="1820.8" cy="687.4" r="2.1"/>
<circle class="r" cx="1865.0" cy="828.5" r="2.1"/>
<circle class="r" cx="1759.4" cy="781.1" r="2.1"/>
<circle class="r" cx="1740.6" cy="865.2" r="2.1"/>
<circle class="r" cx="1775.7" cy="748.6" r="2.1"/>
<circle class="r" cx="1851.7" cy="750.1" r="2.1"/>
<circle class="r" cx="1825.7" cy="696.6" r="2.1"/>
<circle class="b" cx="1820.3" cy="687.5" r="2.1"/>
<circle class="b" cx="1672.1" cy="867.8" r="2.1"/>
<circle class="r" cx="1873.3" cy="749.9" r="2.1"/>
<circle class="r" cx="1883.0" cy="797.1" r="2.1"/>
<circle class="r" cx="1832.5" cy="855.1" r="2.1"/>
<circle class="b" cx="1822.2" cy="856.5" r="2.1"/>
<circle class="r" cx="1872.2" cy="762.5" r="2.1"/>
<circle class="r" cx="1827.3" cy="806.0" r="2.1"/>
<circle class="r" cx="1840.2" cy="716.0" r="2.1"/>
<circle class="b" cx="1759.0" cy="747.4" r="2.1"/>
<circle class="r" cx="1849.9" cy="767.0" r="2.1"/>
<circle class="r" cx="1891.0" cy="791.8" r="2.1"/>
<circle class="r" cx="1840.5" cy="790.0" r="2.1"/>
<circle class="b" cx="1818.5" cy="878.6" r="2.1"/>
<circle class="b" cx="1811.1" cy="676.5" r="2.1"/>
<circle class="b" cx="1572.0" cy="879.5" r="2.1"/>
<circle class="b" cx="1874.6" cy="776.0" r="2.1"/>
<circle class="r" cx="1684.9" cy="880.2" r="2.1"/>
<circle class="b" cx="1800.2" cy="786.3" r="2.1"/>
<circle class="r" cx="1897.7" cy="765.5" r="2.1"/>
<circle class="r" cx="1826.0" cy="838.0" r="2.1"/>
<circle class="b" cx="1751.4" cy="848.4" r="2.1"/>
<circle class="r" cx="1599.1" cy="829.5" r="2.1"/>
<circle class="b" cx="1722.1" cy="930.0" r="2.1"/>
<circle class="r" cx="1711.6" cy="915.5" r="2.1"/>
<circle class="r" cx="1816.8" cy="667.6" r="2.1"/>
<circle class="b" cx="1552.8" cy="815.9" r="2.1"/>
<circle class="b" cx="1760.6" cy="885.6" r="2.1"/>
<circle class="r" cx="1888.6" cy="773.0" r="2.1"/>
<circle class="r" cx="1767.3" cy="718.8" r="2.1"/>
<circle class="b" cx="1648.5" cy="862.7" r="2.1"/>
<circle class="r" cx="1607.8" cy="920.1" r="2.1"/>
<circle class="r" cx="1840.3" cy="700.9" r="2.1"/>
<circle class="r" cx="1660.3" cy="912.3" r="2.1"/>
<circle class="b" cx="1851.5" cy="770.9" r="2.1"/>
<circle class="b" cx="1892.5" cy="805.6" r="2.1"/>
<circle class="r" cx="1895.9" cy="800.4" r="2.1"/>
<circle class="b" cx="1830.5" cy="826.4" r="2.1"/>
<circle class="r" cx="1815.4" cy="856.9" r="2.1"/>
<circle class="r" cx="1565.2" cy="898.7" r="2.1"/>
<circle class="r" cx="1588.1" cy="928.6" r="2.1"/>
<circle class="r" cx="1560.4" cy="846.9" r="2.1"/>
<circle class="r" cx="1879.6" cy="694.3" r="2.1"/>
<circle class="b" cx="1845.9" cy="725.4" r="2.1"/>
<circle class="r" cx="1749.3" cy="923.5" r="2.1"/>
<circle class="r" cx="1891.8" cy="758.3" r="2.1"/>
<circle class="b" cx="1887.2" cy="743.6" r="2.1"/>
<circle class="b" cx="1597.6" cy="865.0" r="2.1"/>
<circle class="r" cx="1710.2" cy="899.9" r="2.1"/>
<circle class="r" cx="1836.9" cy="748.9" r="2.1"/>
<circle class="b" cx="1807.4" cy="836.5" r="2.1"/>
<circle class="r" cx="1835.8" cy="887.8" r="2.1"/>
<circle class="r" cx="1807.3" cy="729.9" r="2.1"/>
<circle class="b" cx="1763.6" cy="786.9" r="2.1"/>
<circle class="r" cx="1770.9" cy="873.2" r="2.1"/>
<circle class="r" cx="1594.1" cy="887.3" r="2.1"/>
<circle class="b" cx="1775.6" cy="882.0" r="2.1"/>
<circle class="r" cx="1811.2" cy="798.1" r="2.1"/>
<circle class="r" cx="1810.8" cy="666.0" r="2.1"/>
<circle class="r" cx="1817.8" cy="766.5" r="2.1"/>
<circle class="r" cx="1828.6" cy="904.5" r="2.1"/>
<circle class="b" cx="1780.1" cy="793.8" r="2.1"/>
<circle class="r" cx="1869.3" cy="712.4" r="2.1"/>
<circle class="b" cx="1910.7" cy="761.5" r="2.1"/>
<circle class="b" cx="1842.8" cy="724.8" r="2.1"/>
<circle class="r" cx="1814.1" cy="807.7" r="2.1"/>
<circle class="r" cx="1582.4" cy="945.0" r="2.1"/>
<circle class="b" cx="1890.4" cy="772.4" r="2.1"/>
<circle class="r" cx="1899.4" cy="753.9" r="2.1"/>
<circle class="b" cx="1732.3" cy="868.5" r="2.1"/>
<circle class="b" cx="1847.3" cy="832.3" r="2.1"/>
<circle class="r" cx="1578.6" cy="836.2" r="2.1"/>
<circle class="b" cx="1827.6" cy="655.2" r="2.1"/>
<circle class="b" cx="1551.1" cy="859.0" r="2.1"/>
<circle class="b" cx="1851.6" cy="672.4" r="2.1"/>
<circle class="r" cx="1597.9" cy="844.1" r="2.1"/>
<circle class="r" cx="1809.4" cy="905.4" r="2.1"/>
<circle class="r" cx="1584.4" cy="810.8" r="2.1"/>
<circle class="b" cx="1832.7" cy="716.5" r="2.1"/>
<circle class="r" cx="1758.6" cy="752.4" r="2.1"/>
<circle class="b" cx="1644.9" cy="843.9" r="2.1"/>
<circle class="r" cx="1649.0" cy="819.7" r="2.1"/>
<circle class="r" cx="1567.1" cy="952.8" r="2.1"/>
<circle class="b" cx="1839.9" cy="843.7" r="2.1"/>
<circle class="r" cx="1814.4" cy="835.7" r="2.1"/>
<circle class="b" cx="1827.3" cy="762.8" r="2.1"/>
<circle class="b" cx="1891.9" cy="814.1" r="2.1"/>
<circle class="b" cx="1663.8" cy="898.5" r="2.1"/>
<circle class="b" cx="1726.1" cy="894.5" r="2.1"/>
<circle class="r" cx="1903.0" cy="763.8" r="2.1"/>
<circle class="b" cx="1867.4" cy="836.9" r="2.1"/>
<circle class="r" cx="1844.2" cy="821.5" r="2.1"/>
<circle class="b" cx="1570.7" cy="937.5" r="2.1"/>
<circle class="r" cx="1744.4" cy="899.5" r="2.1"/>
<circle class="b" cx="1705.6" cy="984.8" r="2.1"/>
<circle class="b" cx="1888.5" cy="744.0" r="2.1"/>
<circle class="b" cx="1597.5" cy="911.0" r="2.1"/>
<circle class="r" cx="1905.6" cy="761.7" r="2.1"/>
<circle class="r" cx="1824.1" cy="765.4" r="2.1"/>
<circle class="r" cx="1836.0" cy="778.3" r="2.1"/>
<circle class="b" cx="1565.7" cy="873.1" r="2.1"/>
<circle class="b" cx="1559.2" cy="911.6" r="2.1"/>
<circle class="r" cx="1621.2" cy="927.6" r="2.1"/>
<circle class="r" cx="1801.6" cy="816.9" r="2.1"/>
<circle class="r" cx="1766.4" cy="832.0" r="2.1"/>
<circle class="b" cx="1804.1" cy="813.8" r="2.1"/>
<circle class="r" cx="1812.6" cy="778.1" r="2.1"/>
<circle class="r" cx="1574.3" cy="807.9" r="2.1"/>
<circle class="b" cx="1842.9" cy="846.1" r="2.1"/>
<circle class="r" cx="1563.6" cy="862.9" r="2.1"/>
<circle class="r" cx="1751.1" cy="893.8" r="2.1"/>
<circle class="r" cx="1806.9" cy="895.2" r="2.1"/>
<circle class="r" cx="1762.2" cy="887.8" r="2.1"/>
<circle class="r" cx="1877.5" cy="696.8" r="2.1"/>
<circle class="r" cx="1838.9" cy="782.5" r="2.1"/>
<circle class="b" cx="1897.3" cy="801.6" r="2.1"/>
<circle class="r" cx="1868.3" cy="726.1" r="2.1"/>
<circle class="b" cx="1548.4" cy="824.8" r="2.1"/>
<circle class="b" cx="1763.8" cy="800.1" r="2.1"/>
<circle class="b" cx="1564.9" cy="909.7" r="2.1"/>
<circle class="r" cx="1843.5" cy="797.4" r="2.1"/>
<circle class="b" cx="1817.0" cy="839.0" r="2.1"/>
<circle class="b" cx="1853.3" cy="752.9" r="2.1"/>
<circle class="r" cx="1855.4" cy="691.2" r="2.1"/>
<circle class="r" cx="1628.4" cy="896.5" r="2.1"/>
<circle class="r" cx="1580.3" cy="948.8" r="2.1"/>
<circle class="b" cx="1772.5" cy="851.7" r="2.1"/>
<circle class="b" cx="1744.1" cy="865.5" r="2.1"/>
<circle class="b" cx="1811.6" cy="862.3" r="2.1"/>
<circle class="r" cx="1838.5" cy="800.2" r="2.1"/>
<circle class="r" cx="1599.2" cy="826.3" r="2.1"/>
<circle class="b" cx="1828.1" cy="745.2" r="2.1"/>
<circle class="b" cx="1823.8" cy="681.3" r="2.1"/>
<circle class="r" cx="1781.0" cy="828.0" r="2.1"/>
<circle class="r" cx="1883.8" cy="741.4" r="2.1"/>
<circle class="b" cx="1862.4" cy="723.8" r="2.1"/>
<circle class="r" cx="1839.2" cy="803.6" r="2.1"/>
<circle class="r" cx="1818.7" cy="810.0" r="2.1"/>
<circle class="r" cx="1692.9" cy="847.2" r="2.1"/>
<circle class="r" cx="1738.5" cy="873.1" r="2.1"/>
<circle class="r" cx="1795.6" cy="821.4" r="2.1"/>
<circle class="b" cx="1807.6" cy="838.9" r="2.1"/>
<circle class="b" cx="1642.5" cy="820.6" r="2.1"/>
<circle class="r" cx="1815.8" cy="793.8" r="2.1"/>
<circle class="r" cx="1642.1" cy="846.2" r="2.1"/>
<circle class="b" cx="1736.4" cy="802.6" r="2.1"/>
<circle class="r" cx="1867.6" cy="813.2" r="2.1"/>
<circle class="r" cx="1838.8" cy="894.2" r="2.1"/>
<circle class="b" cx="1680.7" cy="820.2" r="2.1"/>
<circle class="b" cx="1587.1" cy="864.1" r="2.1"/>
<circle class="b" cx="1600.4" cy="892.5" r="2.1"/>
<circle class="r" cx="1853.9" cy="837.3" r="2.1"/>
<circle class="r" cx="1803.5" cy="909.9" r="2.1"/>
<circle class="r" cx="1847.2" cy="765.8" r="2.1"/>
<circle class="r" cx="1778.6" cy="828.9" r="2.1"/>
<circle class="r" cx="1678.3" cy="957.7" r="2.1"/>
<circle class="b" cx="1773.3" cy="902.5" r="2.1"/>
<circle class="r" cx="1847.5" cy="803.8" r="2.1"/>
<circle class="r" cx="1633.9" cy="856.3" r="2.1"/>
<circle class="r" cx="1888.5" cy="821.8" r="2.1"/>
<circle class="r" cx="1811.8" cy="818.6" r="2.1"/>
<circle class="b" cx="1806.8" cy="839.5" r="2.1"/>
<circle class="b" cx="1847.6" cy="673.6" r="2.1"/>
<circle class="b" cx="1777.7" cy="874.3" r="2.1"/>
<circle class="r" cx="1574.7" cy="823.2" r="2.1"/>
<circle class="r" cx="1784.1" cy="908.4" r="2.1"/>
<circle class="r" cx="1901.0" cy="750.5" r="2.1"/>
<circle class="r" cx="1759.1" cy="879.3" r="2.1"/>
<circle class="b" cx="1873.1" cy="794.5" r="2.1"/>
<circle class="b" cx="1821.4" cy="873.5" r="2.1"/>
<circle class="r" cx="1585.8" cy="824.2" r="2.1"/>
<circle class="b" cx="1833.4" cy="771.5" r="2.1"/>
<circle class="b" cx="1840.1" cy="795.0" r="2.1"/>
<circle class="r" cx="1810.9" cy="783.4" r="2.1"/>
<circle class="b" cx="1831.4" cy="909.7" r="2.1"/>
<circle class="b" cx="1656.2" cy="824.9" r="2.1"/>
<circle class="r" cx="1699.5" cy="828.8" r="2.1"/>
<circle class="r" cx="1554.9" cy="904.4" r="2.1"/>
<circle class="b" cx="1572.4" cy="937.5" r="2.1"/>
<circle class="r" cx="1828.0" cy="754.6" r="2.1"/>
<circle class="b" cx="1822.7" cy="904.4" r="2.1"/>
<circle class="r" cx="1744.0" cy="824.3" r="2.1"/>
<circle class="r" cx="1838.7" cy="656.6" r="2.1"/>
<circle class="r" cx="1823.5" cy="757.0" r="2.1"/>
<circle class="b" cx="1747.5" cy="864.2" r="2.1"/>
<circle class="r" cx="1645.1" cy="916.2" r="2.1"/>
<circle class="b" cx="1761.6" cy="716.8" r="2.1"/>
<circle class="b" cx="1842.6" cy="773.7" r="2.1"/>
<circle class="r" cx="1798.6" cy="903.3" r="2.1"/>
<circle class="r" cx="1859.3" cy="710.1" r="2.1"/>
<circle class="r" cx="1857.7" cy="733.4" r="2.1"/>
<circle class="r" cx="1567.9" cy="873.2" r="2.1"/>
<circle class="r" cx="1807.2" cy="694.3" r="2.1"/>
<circle class="r" cx="1778.1" cy="875.9" r="2.1"/>
<circle class="r" cx="1888.3" cy="807.0" r="2.1"/>
<circle class="r" cx="1577.0" cy="870.4" r="2.1"/>
<circle class="b" cx="1888.8" cy="766.3" r="2.1"/>
<circle class="b" cx="1866.8" cy="752.7" r="2.1"/>
<circle class="r" cx="1571.4" cy="835.6" r="2.1"/>
<circle class="r" cx="1853.8" cy="701.8" r="2.1"/>
<circle class="b" cx="1860.5" cy="679.9" r="2.1"/>
<circle class="r" cx="1847.8" cy="692.5" r="2.1"/>
<circle class="b" cx="1624.3" cy="831.7" r="2.1"/>
<circle class="b" cx="1580.9" cy="827.6" r="2.1"/>
<circle class="r" cx="1806.5" cy="901.9" r="2.1"/>
<circle class="b" cx="1633.9" cy="860.2" r="2.1"/>
<circle class="r" cx="1838.1" cy="824.4" r="2.1"/>
<circle class="b" cx="1808.7" cy="872.7" r="2.1"/>
<circle class="r" cx="1762.2" cy="814.9" r="2.1"/>
<circle class="b" cx="1812.8" cy="703.3" r="2.1"/>
<circle class="b" cx="1789.5" cy="867.4" r="2.1"/>
<circle class="b" cx="1831.3" cy="769.9" r="2.1"/>
<circle class="r" cx="1811.0" cy="909.1" r="2.1"/>
<circle class="r" cx="1773.8" cy="851.5" r="2.1"/>
<circle class="r" cx="1845.1" cy="737.2" r="2.1"/>
<circle class="b" cx="1777.6" cy="763.4" r="2.1"/>
<circle class="r" cx="1683.2" cy="896.8" r="2.1"/>
<circle class="r" cx="1852.7" cy="722.2" r="2.1"/>
<circle class="r" cx="1782.4" cy="877.3" r="2.1"/>
<circle class="b" cx="1863.5" cy="829.4" r="2.1"/>
<circle class="r" cx="1838.8" cy="708.5" r="2.1"/>
<circle class="b" cx="1709.3" cy="814.2" r="2.1"/>
<circle class="b" cx="1817.2" cy="693.9" r="2.1"/>
<circle class="b" cx="1826.6" cy="691.8" r="2.1"/>
<circle class="b" cx="1821.8" cy="841.5" r="2.1"/>
<circle class="r" cx="1584.3" cy="894.4" r="2.1"/>
<circle class="b" cx="1832.8" cy="670.1" r="2.1"/>
<circle class="r" cx="1604.2" cy="946.4" r="2.1"/>
<circle class="b" cx="1872.3" cy="776.4" r="2.1"/>
<circle class="r" cx="1715.7" cy="897.4" r="2.1"/>
<circle class="r" cx="1848.3" cy="793.1" r="2.1"/>
<circle class="b" cx="1869.4" cy="772.8" r="2.1"/>
<circle class="b" cx="1767.1" cy="814.6" r="2.1"/>
<circle class="b" cx="1808.5" cy="704.4" r="2.1"/>
<circle class="b" cx="1790.9" cy="878.8" r="2.1"/>
<circle class="r" cx="1820.8" cy="873.1" r="2.1"/>
<circle class="b" cx="1729.3" cy="856.1" r="2.1"/>
<circle class="b" cx="1813.8" cy="843.1" r="2.1"/>
<circle class="r" cx="1713.8" cy="832.2" r="2.1"/>
<circle class="r" cx="1899.9" cy="806.1" r="2.1"/>
<circle class="b" cx="1823.7" cy="708.4" r="2.1"/>
<circle class="r" cx="1830.3" cy="846.0" r="2.1"/>
<circle class="b" cx="1722.6" cy="854.1" r="2.1"/>
<circle class="r" cx="1648.6" cy="869.6" r="2.1"/>
<circle class="r" cx="1554.8" cy="897.3" r="2.1"/>
<circle class="r" cx="1816.7" cy="886.7" r="2.1"/>
<circle class="r" cx="1884.8" cy="777.2" r="2.1"/>
<circle class="r" cx="1849.6" cy="844.9" r="2.1"/>
<circle class="b" cx="1708.4" cy="803.2" r="2.1"/>
<circle class="r" cx="1718.2" cy="985.1" r="2.1"/>
<circle class="r" cx="1804.6" cy="853.1" r="2.1"/>
<circle class="b" cx="1819.3" cy="659.0" r="2.1"/>
<circle class="b" cx="1811.4" cy="824.9" r="2.1"/>
<circle class="b" cx="1875.4" cy="754.4" r="2.1"/>
<circle class="r" cx="1787.5" cy="839.5" r="2.1"/>
<circle class="r" cx="1562.5" cy="849.4" r="2.1"/>
<circle class="r" cx="1550.0" cy="849.7" r="2.1"/>
<circle class="r" cx="1854.7" cy="793.0" r="2.1"/>
<circle class="b" cx="1850.7" cy="667.1" r="2.1"/>
<circle class="b" cx="1752.1" cy="900.8" r="2.1"/>
<circle class="r" cx="1762.6" cy="783.8" r="2.1"/>
<circle class="r" cx="1838.2" cy="794.6" r="2.1"/>
<circle class="b" cx="1663.2" cy="899.7" r="2.1"/>
<circle class="r" cx="1877.1" cy="773.7" r="2.1"/>
<circle class="b" cx="1848.6" cy="692.9" r="2.1"/>
<circle class="r" cx="1706.6" cy="921.4" r="2.1"/>
<circle class="r" cx="1853.0" cy="736.6" r="2.1"/>
<circle class="r" cx="1759.5" cy="872.9" r="2.1"/>
<circle class="r" cx="1873.7" cy="729.4" r="2.1"/>
<circle class="b" cx="1588.6" cy="949.9" r="2.1"/>
<circle class="r" cx="1657.4" cy="891.2" r="2.1"/>
<circle class="r" cx="1766.4" cy="782.4" r="2.1"/>
<circle class="b" cx="1698.3" cy="837.3" r="2.1"/>
<circle class="b" cx="1835.2" cy="684.9" r="2.1"/>
<circle class="b" cx="1578.0" cy="923.9" r="2.1"/>
<circle class="b" cx="1847.1" cy="742.9" r="2.1"/>
<circle class="b" cx="1582.0" cy="823.1" r="2.1"/>
<circle class="r" cx="1738.5" cy="831.3" r="2.1"/>
<circle class="r" cx="1729.0" cy="813.5" r="2.1"/>
<circle class="r" cx="1570.0" cy="902.5" r="2.1"/>
<circle class="r" cx="1815.4" cy="698.4" r="2.1"/>
<circle class="b" cx="1856.8" cy="768.8" r="2.1"/>
<circle class="r" cx="1682.9" cy="971.0" r="2.1"/>
<circle class="r" cx="1570.6" cy="820.3" r="2.1"/>
<circle class="r" cx="1836.6" cy="690.6" r="2.1"/>
<circle class="b" cx="1806.6" cy="721.4" r="2.1"/>
<circle class="b" cx="1815.0" cy="889.6" r="2.1"/>
<circle class="b" cx="1715.6" cy="983.9" r="2.1"/>
<circle class="b" cx="1578.8" cy="932.0" r="2.1"/>
<circle class="b" cx="1813.1" cy="664.8" r="2.1"/>
<circle class="b" cx="1561.6" cy="867.6" r="2.1"/>
<circle class="b" cx="1840.4" cy="852.2" r="2.1"/>
<circle class="b" cx="1801.1" cy="893.3" r="2.1"/>
<circle class="r" cx="1786.0" cy="855.6" r="2.1"/>
<circle class="r" cx="1907.6" cy="785.3" r="2.1"/>
<circle class="r" cx="1711.7" cy="862.7" r="2.1"/>
<circle class="b" cx="1587.4" cy="871.2" r="2.1"/>
<circle class="b" cx="1631.8" cy="887.7" r="2.1"/>
<circle class="r" cx="1691.5" cy="900.4" r="2.1"/>
<circle class="b" cx="1733.6" cy="811.4" r="2.1"/>
<circle class="r" cx="1805.6" cy="764.6" r="2.1"/>
<circle class="b" cx="1863.8" cy="837.9" r="2.1"/>
<circle class="r" cx="1565.6" cy="923.5" r="2.1"/>
<circle class="r" cx="1791.0" cy="745.0" r="2.1"/>
<circle class="r" cx="1873.1" cy="733.1" r="2.1"/>
<circle class="r" cx="1792.8" cy="811.4" r="2.1"/>
<circle class="r" cx="1740.4" cy="803.0" r="2.1"/>
<circle class="r" cx="1865.6" cy="720.5" r="2.1"/>
<circle class="r" cx="1854.3" cy="849.6" r="2.1"/>
<circle class="r" cx="1808.1" cy="869.7" r="2.1"/>
<circle class="r" cx="1794.9" cy="911.3" r="2.1"/>
<circle class="b" cx="1803.1" cy="883.6" r="2.1"/>
<circle class="r" cx="1735.6" cy="835.1" r="2.1"/>
<circle class="b" cx="1797.0" cy="899.1" r="2.1"/>
<circle class="r" cx="1604.1" cy="882.4" r="2.1"/>
<circle class="r" cx="1828.1" cy="801.6" r="2.1"/>
<circle class="b" cx="1560.9" cy="903.0" r="2.1"/>
<circle class="r" cx="1842.2" cy="657.7" r="2.1"/>
<circle class="b" cx="1683.5" cy="867.1" r="2.1"/>
<circle class="r" cx="1842.6" cy="675.0" r="2.1"/>
<circle class="r" cx="1822.5" cy="785.7" r="2.1"/>
<circle class="r" cx="1843.8" cy="723.3" r="2.1"/>
<circle class="r" cx="1591.7" cy="825.7" r="2.1"/>
<circle class="r" cx="1774.4" cy="901.7" r="2.1"/>
<circle class="b" cx="1564.7" cy="927.8" r="2.1"/>
<circle class="r" cx="1575.0" cy="851.3" r="2.1"/>
<circle class="r" cx="1783.3" cy="788.4" r="2.1"/>
<circle class="r" cx="1617.4" cy="919.4" r="2.1"/>
<circle class="r" cx="1862.0" cy="800.0" r="2.1"/>
<circle class="b" cx="1899.6" cy="796.0" r="2.1"/>
<circle class="b" cx="1799.6" cy="780.8" r="2.1"/>
<circle class="r" cx="1814.0" cy="874.4" r="2.1"/>
<circle class="b" cx="1575.0" cy="904.0" r="2.1"/>
<circle class="b" cx="1844.1" cy="818.9" r="2.1"/>
<circle class="r" cx="1870.0" cy="812.9" r="2.1"/>
<circle class="r" cx="1767.6" cy="724.2" r="2.1"/>
<circle class="r" cx="1665.2" cy="938.9" r="2.1"/>
<circle class="b" cx="1600.5" cy="858.2" r="2.1"/>
<circle class="r" cx="1745.8" cy="870.3" r="2.1"/>
<circle class="r" cx="1841.0" cy="754.8" r="2.1"/>
<circle class="b" cx="1617.9" cy="930.2" r="2.1"/>
<circle class="r" cx="1740.0" cy="812.4" r="2.1"/>
<circle class="b" cx="1651.7" cy="902.1" r="2.1"/>
<circle class="b" cx="1809.2" cy="708.4" r="2.1"/>
<circle class="r" cx="1766.7" cy="914.7" r="2.1"/>
<circle class="b" cx="1818.2" cy="762.0" r="2.1"/>
<circle class="r" cx="1742.2" cy="820.9" r="2.1"/>
<circle class="r" cx="1600.5" cy="885.6" r="2.1"/>
<circle class="b" cx="1821.1" cy="763.3" r="2.1"/>
<circle class="b" cx="1601.9" cy="948.2" r="2.1"/>
<circle class="b" cx="1782.5" cy="854.4" r="2.1"/>
<circle class="b" cx="1596.8" cy="839.0" r="2.1"/>
<circle class="b" cx="1661.2" cy="830.7" r="2.1"/>
<circle class="r" cx="1708.0" cy="807.9" r="2.1"/>
<circle class="b" cx="1878.2" cy="803.7" r="2.1"/>
<circle class="b" cx="1838.8" cy="851.4" r="2.1"/>
<circle class="r" cx="1851.3" cy="847.4" r="2.1"/>
<circle class="r" cx="1833.7" cy="806.6" r="2.1"/>
<circle class="r" cx="1826.9" cy="781.2" r="2.1"/>
<circle class="r" cx="1557.3" cy="866.4" r="2.1"/>
<circle class="r" cx="1868.1" cy="758.3" r="2.1"/>
<circle class="r" cx="1813.2" cy="888.6" r="2.1"/>
<circle class="r" cx="1847.4" cy="759.0" r="2.1"/>
<circle class="r" cx="1869.3" cy="752.0" r="2.1"/>
<circle class="r" cx="1869.7" cy="784.0" r="2.1"/>
<circle class="b" cx="1702.5" cy="812.9" r="2.1"/>
<circle class="b" cx="1766.3" cy="747.1" r="2.1"/>
<circle class="r" cx="1760.9" cy="822.8" r="2.1"/>
<circle class="b" cx="1583.0" cy="816.9" r="2.1"/>
<circle class="r" cx="1719.7" cy="910.6" r="2.1"/>
<circle class="b" cx="1857.8" cy="683.4" r="2.1"/>
<circle class="r" cx="1825.3" cy="781.5" r="2.1"/>
<circle class="r" cx="1849.3" cy="837.5" r="2.1"/>
<circle class="r" cx="1895.6" cy="753.5" r="2.1"/>
<circle class="b" cx="1724.3" cy="986.9" r="2.1"/>
<circle class="b" cx="1769.2" cy="914.6" r="2.1"/>
<circle class="b" cx="1907.6" cy="779.9" r="2.1"/>
<circle class="r" cx="1804.3" cy="909.5" r="2.1"/>
<circle class="b" cx="1857.4" cy="791.7" r="2.1"/>
<circle class="b" cx="1788.4" cy="902.9" r="2.1"/>
<circle class="r" cx="1830.1" cy="858.0" r="2.1"/>
<circle class="r" cx="1762.6" cy="877.4" r="2.1"/>
<circle class="r" cx="1800.6" cy="882.7" r="2.1"/>
<circle class="r" cx="1686.5" cy="971.8" r="2.1"/>
<circle class="r" cx="1805.9" cy="861.7" r="2.1"/>
<circle class="b" cx="1815.9" cy="665.1" r="2.1"/>
<circle class="b" cx="1808.9" cy="777.1" r="2.1"/>
<circle class="r" cx="1789.8" cy="910.9" r="2.1"/>
<circle class="r" cx="1762.2" cy="858.0" r="2.1"/>
<circle class="r" cx="1878.1" cy="710.5" r="2.1"/>
<circle class="b" cx="1657.2" cy="902.1" r="2.1"/>
<circle class="r" cx="1735.6" cy="901.5" r="2.1"/>
<circle class="b" cx="1791.7" cy="811.4" r="2.1"/>
<circle class="b" cx="1777.6" cy="766.9" r="2.1"/>
<circle class="r" cx="1595.1" cy="910.0" r="2.1"/>
<circle class="r" cx="1652.1" cy="919.8" r="2.1"/>
<circle class="b" cx="1896.0" cy="813.0" r="2.1"/>
<circle class="r" cx="1883.4" cy="735.9" r="2.1"/>
<circle class="r" cx="1878.0" cy="695.4" r="2.1"/>
<circle class="r" cx="1594.1" cy="842.7" r="2.1"/>
<circle class="r" cx="1601.1" cy="937.1" r="2.1"/>
<circle class="b" cx="1899.7" cy="799.7" r="2.1"/>
<circle class="r" cx="1865.7" cy="674.5" r="2.1"/>
<circle class="b" cx="1833.5" cy="815.6" r="2.1"/>
<circle class="b" cx="1574.3" cy="835.9" r="2.1"/>
<circle class="r" cx="1851.5" cy="798.9" r="2.1"/>
<circle class="b" cx="1820.9" cy="719.9" r="2.1"/>
<circle class="b" cx="1719.7" cy="830.0" r="2.1"/>
<circle class="b" cx="1852.4" cy="719.7" r="2.1"/>
<circle class="b" cx="1602.6" cy="885.9" r="2.1"/>
<circle class="r" cx="1712.3" cy="854.6" r="2.1"/>
<circle class="r" cx="1787.0" cy="908.0" r="2.1"/>
<circle class="b" cx="1667.0" cy="870.7" r="2.1"/>
<circle class="r" cx="1697.9" cy="914.0" r="2.1"/>
<circle class="b" cx="1835.4" cy="847.3" r="2.1"/>
<circle class="r" cx="1850.5" cy="718.6" r="2.1"/>
<circle class="b" cx="1574.4" cy="881.2" r="2.1"/>
<circle class="r" cx="1666.1" cy="908.6" r="2.1"/>
<circle class="b" cx="1832.6" cy="801.3" r="2.1"/>
<circle class="r" cx="1764.5" cy="823.5" r="2.1"/>
<circle class="b" cx="1702.5" cy="875.0" r="2.1"/>
<circle class="r" cx="1733.2" cy="807.6" r="2.1"/>
<circle class="b" cx="1670.0" cy="869.9" r="2.1"/>
<circle class="r" cx="1839.7" cy="891.4" r="2.1"/>
<circle class="b" cx="1655.7" cy="885.8" r="2.1"/>
<circle class="b" cx="1590.8" cy="873.0" r="2.1"/>
<circle class="r" cx="1673.6" cy="862.4" r="2.1"/>
<circle class="b" cx="1863.0" cy="798.4" r="2.1"/>
<circle class="b" cx="1840.1" cy="872.1" r="2.1"/>
<circle class="b" cx="1605.7" cy="922.9" r="2.1"/>
<circle class="r" cx="1724.9" cy="937.5" r="2.1"/>
<circle class="r" cx="1591.5" cy="876.0" r="2.1"/>
<circle class="r" cx="1823.4" cy="914.3" r="2.1"/>
<circle class="r" cx="1582.3" cy="900.6" r="2.1"/>
<circle class="r" cx="1877.3" cy="767.7" r="2.1"/>
<circle class="r" cx="1640.3" cy="849.7" r="2.1"/>
<circle class="b" cx="1821.1" cy="869.8" r="2.1"/>
<circle class="r" cx="1820.0" cy="860.7" r="2.1"/>
<circle class="r" cx="1590.0" cy="822.8" r="2.1"/>
<circle class="b" cx="1769.2" cy="770.5" r="2.1"/>
<circle class="r" cx="1860.4" cy="705.1" r="2.1"/>
<circle class="r" cx="1816.6" cy="757.5" r="2.1"/>
<circle class="r" cx="1845.7" cy="852.4" r="2.1"/>
<circle class="b" cx="1731.4" cy="807.8" r="2.1"/>
<circle class="r" cx="1871.0" cy="683.1" r="2.1"/>
<circle class="b" cx="1745.5" cy="936.6" r="2.1"/>
<circle class="r" cx="1813.1" cy="758.1" r="2.1"/>
<circle class="r" cx="1709.4" cy="897.8" r="2.1"/>
<circle class="b" cx="1568.0" cy="829.9" r="2.1"/>
<circle class="r" cx="1806.7" cy="876.1" r="2.1"/>
<circle class="r" cx="1610.8" cy="910.1" r="2.1"/>
<circle class="r" cx="1837.5" cy="713.7" r="2.1"/>
<circle class="b" cx="1837.7" cy="685.9" r="2.1"/>
<circle class="r" cx="1820.8" cy="700.6" r="2.1"/>
<circle class="b" cx="1876.6" cy="744.6" r="2.1"/>
<circle class="b" cx="1588.3" cy="917.2" r="2.1"/>
<circle class="b" cx="1845.0" cy="823.0" r="2.1"/>
<circle class="r" cx="1856.5" cy="706.3" r="2.1"/>
<circle class="b" cx="1815.9" cy="765.5" r="2.1"/>
<circle class="b" cx="1792.7" cy="835.5" r="2.1"/>
<circle class="r" cx="1568.2" cy="919.6" r="2.1"/>
<circle class="b" cx="1820.7" cy="812.2" r="2.1"/>
<circle class="r" cx="1772.8" cy="921.2" r="2.1"/>
<circle class="r" cx="1851.3" cy="706.8" r="2.1"/>
<circle class="b" cx="1562.8" cy="899.0" r="2.1"/>
<circle class="b" cx="1761.7" cy="803.5" r="2.1"/>
<circle class="r" cx="1808.0" cy="880.9" r="2.1"/>
<circle class="r" cx="1575.0" cy="923.0" r="2.1"/>
<circle class="b" cx="1879.1" cy="832.2" r="2.1"/>
<circle class="r" cx="1795.2" cy="806.9" r="2.1"/>
<circle class="b" cx="1825.5" cy="824.3" r="2.1"/>
<circle class="b" cx="1632.7" cy="863.3" r="2.1"/>
<circle class="b" cx="1594.5" cy="922.4" r="2.1"/>
<circle class="b" cx="1782.4" cy="872.0" r="2.1"/>
<circle class="b" cx="1842.2" cy="663.8" r="2.1"/>
<circle class="b" cx="1799.6" cy="700.1" r="2.1"/>
<circle class="b" cx="1801.5" cy="788.8" r="2.1"/>
<circle class="r" cx="1744.9" cy="799.1" r="2.1"/>
<circle class="b" cx="1850.7" cy="756.7" r="2.1"/>
<circle class="r" cx="1806.7" cy="692.6" r="2.1"/>
<circle class="b" cx="1881.0" cy="738.2" r="2.1"/>
<circle class="r" cx="1687.8" cy="912.3" r="2.1"/>
<circle class="b" cx="1599.7" cy="953.5" r="2.1"/>
<circle class="r" cx="1890.7" cy="742.0" r="2.1"/>
<circle class="r" cx="1565.1" cy="837.6" r="2.1"/>
<circle class="r" cx="1774.3" cy="891.1" r="2.1"/>
<circle class="b" cx="1847.2" cy="794.2" r="2.1"/>
<circle class="b" cx="1894.2" cy="805.1" r="2.1"/>
<circle class="r" cx="1869.4" cy="799.2" r="2.1"/>
<circle class="b" cx="1802.8" cy="840.1" r="2.1"/>
<circle class="b" cx="1808.2" cy="877.2" r="2.1"/>
<circle class="r" cx="1887.1" cy="749.4" r="2.1"/>
<circle class="r" cx="1592.6" cy="893.0" r="2.1"/>
<circle class="b" cx="1775.1" cy="875.5" r="2.1"/>
<circle class="b" cx="1591.5" cy="935.5" r="2.1"/>
<circle class="r" cx="1637.6" cy="912.6" r="2.1"/>
<circle class="r" cx="1587.7" cy="876.5" r="2.1"/>
<circle class="b" cx="1559.9" cy="912.3" r="2.1"/>
<circle class="b" cx="1887.0" cy="785.7" r="2.1"/>
<circle class="r" cx="1880.1" cy="812.8" r="2.1"/>
<circle class="r" cx="1824.9" cy="866.7" r="2.1"/>
<circle class="b" cx="1867.1" cy="830.9" r="2.1"/>
<circle class="b" cx="1804.5" cy="806.3" r="2.1"/>
<circle class="r" cx="1663.7" cy="886.8" r="2.1"/>
<circle class="r" cx="1662.4" cy="885.5" r="2.1"/>
<circle class="r" cx="1825.3" cy="772.7" r="2.1"/>
<circle class="r" cx="1820.2" cy="656.5" r="2.1"/>
<circle class="b" cx="1744.5" cy="816.7" r="2.1"/>
<circle class="r" cx="1722.9" cy="855.4" r="2.1"/>
<circle class="r" cx="1561.1" cy="926.7" r="2.1"/>
<circle class="b" cx="1625.0" cy="843.0" r="2.1"/>
<circle class="r" cx="1785.0" cy="795.2" r="2.1"/>
<circle class="b" cx="1838.9" cy="685.0" r="2.1"/>
<circle class="r" cx="1886.0" cy="780.5" r="2.1"/>
<circle class="r" cx="1863.4" cy="727.7" r="2.1"/>
<circle class="r" cx="1826.5" cy="721.5" r="2.1"/>
<circle class="b" cx="1592.8" cy="928.3" r="2.1"/>
<circle class="r" cx="1835.9" cy="903.3" r="2.1"/>
<circle class="b" cx="1867.0" cy="842.9" r="2.1"/>
<circle class="r" cx="1831.1" cy="902.0" r="2.1"/>
<circle class="r" cx="1843.2" cy="840.8" r="2.1"/>
<circle class="b" cx="1797.4" cy="874.4" r="2.1"/>
<circle class="r" cx="1600.4" cy="946.6" r="2.1"/>
<circle class="b" cx="1743.0" cy="863.6" r="2.1"/>
<circle class="b" cx="1856.3" cy="845.9" r="2.1"/>
<circle class="b" cx="1790.6" cy="816.4" r="2.1"/>
<circle class="b" cx="1592.4" cy="836.0" r="2.1"/>
<circle class="b" cx="1619.1" cy="877.6" r="2.1"/>
<circle class="b" cx="1595.4" cy="885.5" r="2.1"/>
<circle class="b" cx="1845.9" cy="811.0" r="2.1"/>
<circle class="r" cx="1823.2" cy="712.7" r="2.1"/>
<circle class="b" cx="1830.9" cy="684.0" r="2.1"/>
<circle class="b" cx="1590.2" cy="954.7" r="2.1"/>
<circle class="b" cx="1815.6" cy="671.1" r="2.1"/>
<circle class="r" cx="1574.1" cy="883.4" r="2.1"/>
<circle class="b" cx="1832.4" cy="714.3" r="2.1"/>
<circle class="r" cx="1862.4" cy="722.7" r="2.1"/>
<circle class="b" cx="1907.0" cy="772.9" r="2.1"/>
<circle class="b" cx="1760.1" cy="726.9" r="2.1"/>
<circle class="r" cx="1743.9" cy="845.6" r="2.1"/>
<circle class="r" cx="1886.9" cy="776.2" r="2.1"/>
<circle class="r" cx="1877.9" cy="787.0" r="2.1"/>
<circle class="r" cx="1892.7" cy="754.4" r="2.1"/>
<circle class="r" cx="1858.3" cy="674.8" r="2.1"/>
<circle class="b" cx="1778.1" cy="868.2" r="2.1"/>
<circle class="b" cx="1559.2" cy="872.0" r="2.1"/>
<circle class="b" cx="1906.8" cy="773.4" r="2.1"/>
<circle class="b" cx="1795.5" cy="795.4" r="2.1"/>
<circle class="b" cx="1791.9" cy="899.3" r="2.1"/>
<circle class="r" cx="1699.4" cy="980.2" r="2.1"/>
<circle class="r" cx="1860.4" cy="708.3" r="2.1"/>
<circle class="b" cx="1812.7" cy="792.5" r="2.1"/>
<circle class="b" cx="1899.8" cy="770.8" r="2.1"/>
<circle class="r" cx="1619.5" cy="869.2" r="2.1"/>
<circle class="b" cx="1859.3" cy="679.6" r="2.1"/>
<circle class="b" cx="1814.9" cy="910.0" r="2.1"/>
<circle class="r" cx="1820.9" cy="690.7" r="2.1"/>
<circle class="r" cx="1599.7" cy="889.6" r="2.1"/>
<circle class="r" cx="1877.9" cy="785.0" r="2.1"/>
<circle class="b" cx="1597.6" cy="936.6" r="2.1"/>
<circle class="r" cx="1856.8" cy="828.5" r="2.1"/>
<circle class="b" cx="1718.7" cy="829.0" r="2.1"/>
<circle class="r" cx="1817.0" cy="820.8" r="2.1"/>
<circle class="r" cx="1806.3" cy="895.7" r="2.1"/>
<circle class="r" cx="1862.7" cy="699.6" r="2.1"/>
<circle class="r" cx="1705.4" cy="852.2" r="2.1"/>
<circle class="b" cx="1737.5" cy="829.2" r="2.1"/>
<circle class="r" cx="1876.7" cy="697.6" r="2.1"/>
<circle class="b" cx="1563.0" cy="847.7" r="2.1"/>
<circle class="r" cx="1746.9" cy="887.9" r="2.1"/>
<circle class="r" cx="1839.1" cy="697.1" r="2.1"/>
<circle class="r" cx="1599.7" cy="913.1" r="2.1"/>
<circle class="b" cx="1851.9" cy="784.6" r="2.1"/>
<circle class="r" cx="1857.1" cy="776.8" r="2.1"/>
<circle class="b" cx="1562.8" cy="866.4" r="2.1"/>
<circle class="r" cx="1801.9" cy="862.7" r="2.1"/>
<circle class="r" cx="1583.3" cy="919.6" r="2.1"/>
<circle class="r" cx="1817.4" cy="877.7" r="2.1"/>
<circle class="r" cx="1639.9" cy="872.2" r="2.1"/>
<circle class="r" cx="1800.0" cy="676.0" r="2.1"/>
<circle class="r" cx="1823.7" cy="661.9" r="2.1"/>
<circle class="r" cx="1808.8" cy="761.0" r="2.1"/>
<circle class="b" cx="1738.9" cy="819.8" r="2.1"/>
<circle class="r" cx="1801.7" cy="670.4" r="2.1"/>
<circle class="r" cx="1575.6" cy="861.4" r="2.1"/>
<circle class="b" cx="1585.4" cy="933.0" r="2.1"/>
<circle class="r" cx="1806.4" cy="664.3" r="2.1"/>
<circle class="r" cx="1761.2" cy="729.6" r="2.1"/>
<circle class="r" cx="1774.8" cy="779.1" r="2.1"/>
<circle class="r" cx="1574.5" cy="892.2" r="2.1"/>
<circle class="r" cx="1870.8" cy="789.5" r="2.1"/>
<circle class="r" cx="1758.6" cy="798.7" r="2.1"/>
<circle class="b" cx="1841.3" cy="743.4" r="2.1"/>
<circle class="r" cx="1810.2" cy="763.3" r="2.1"/>
<circle class="r" cx="1609.6" cy="907.8" r="2.1"/>
<circle class="r" cx="1820.6" cy="670.9" r="2.1"/>
<circle class="r" cx="1830.1" cy="891.0" r="2.1"/>
<circle class="r" cx="1749.4" cy="793.7" r="2.1"/>
<circle class="r" cx="1738.9" cy="876.4" r="2.1"/>
<circle class="r" cx="1603.9" cy="908.4" r="2.1"/>
<circle class="r" cx="1848.5" cy="846.8" r="2.1"/>
<circle class="b" cx="1796.6" cy="898.3" r="2.1"/>
<circle class="r" cx="1822.2" cy="703.2" r="2.1"/>
<circle class="r" cx="1906.9" cy="763.3" r="2.1"/>
<circle class="b" cx="1568.6" cy="813.5" r="2.1"/>
<circle class="r" cx="1567.8" cy="928.8" r="2.1"/>
<circle class="r" cx="1713.4" cy="922.4" r="2.1"/>
<circle class="b" cx="1891.9" cy="778.4" r="2.1"/>
<circle class="r" cx="1790.3" cy="885.9" r="2.1"/>
<circle class="r" cx="1729.6" cy="915.1" r="2.1"/>
<circle class="b" cx="1881.0" cy="780.2" r="2.1"/>
<circle class="r" cx="1556.7" cy="852.5" r="2.1"/>
<circle class="r" cx="1817.4" cy="726.9" r="2.1"/>
<circle class="r" cx="1821.1" cy="693.6" r="2.1"/>
<circle class="b" cx="1824.8" cy="916.2" r="2.1"/>
<circle class="r" cx="1914.0" cy="770.9" r="2.1"/>
<circle class="b" cx="1813.0" cy="912.6" r="2.1"/>
<circle class="b" cx="1856.3" cy="754.1" r="2.1"/>
<circle class="r" cx="1820.1" cy="724.4" r="2.1"/>
<circle class="r" cx="1869.1" cy="761.4" r="2.1"/>
<circle class="r" cx="1814.8" cy="918.3" r="2.1"/>
<circle class="b" cx="1859.2" cy="665.9" r="2.1"/>
<circle class="r" cx="1815.4" cy="884.9" r="2.1"/>
<circle class="r" cx="1818.5" cy="693.6" r="2.1"/>
<circle class="r" cx="1857.1" cy="762.0" r="2.1"/>
<circle class="r" cx="1560.7" cy="863.7" r="2.1"/>
<circle class="b" cx="1843.8" cy="822.2" r="2.1"/>
<circle class="b" cx="1825.0" cy="793.8" r="2.1"/>
<circle class="r" cx="1875.8" cy="788.7" r="2.1"/>
<circle class="b" cx="1826.8" cy="780.1" r="2.1"/>
<circle class="b" cx="1594.6" cy="933.6" r="2.1"/>
<circle class="r" cx="1793.4" cy="817.8" r="2.1"/>
<circle class="r" cx="1699.2" cy="925.9" r="2.1"/>
<circle class="r" cx="1880.1" cy="836.7" r="2.1"/>
<circle class="r" cx="1837.5" cy="879.2" r="2.1"/>
<circle class="r" cx="1867.1" cy="682.4" r="2.1"/>
<circle class="b" cx="1805.5" cy="866.5" r="2.1"/>
<circle class="r" cx="1804.7" cy="855.4" r="2.1"/>
<circle class="b" cx="1859.4" cy="766.4" r="2.1"/>
<circle class="b" cx="1703.0" cy="833.5" r="2.1"/>
<circle class="b" cx="1568.2" cy="920.0" r="2.1"/>
<circle class="b" cx="1824.5" cy="780.0" r="2.1"/>
<circle class="r" cx="1823.8" cy="760.7" r="2.1"/>
<circle class="b" cx="1900.5" cy="740.5" r="2.1"/>
<circle class="r" cx="1555.8" cy="905.7" r="2.1"/>
<circle class="r" cx="1677.2" cy="833.2" r="2.1"/>
<circle class="r" cx="1613.4" cy="870.0" r="2.1"/>
<circle class="r" cx="1586.7" cy="827.8" r="2.1"/>
<circle class="b" cx="1730.9" cy="906.5" r="2.1"/>
<circle class="b" cx="1761.5" cy="708.4" r="2.1"/>
<circle class="r" cx="1587.1" cy="942.7" r="2.1"/>
<circle class="r" cx="1847.9" cy="853.8" r="2.1"/>
<circle class="b" cx="1829.9" cy="707.6" r="2.1"/>
<circle class="b" cx="1837.2" cy="758.9" r="2.1"/>
<circle class="r" cx="1684.2" cy="921.0" r="2.1"/>
<circle class="b" cx="1728.7" cy="814.7" r="2.1"/>
<circle class="r" cx="1865.4" cy="733.4" r="2.1"/>
<circle class="b" cx="1837.0" cy="787.7" r="2.1"/>
<circle class="b" cx="1848.1" cy="757.1" r="2.1"/>
<circle class="r" cx="1839.7" cy="788.7" r="2.1"/>
<circle class="b" cx="1818.4" cy="820.1" r="2.1"/>
<circle class="r" cx="1690.3" cy="845.6" r="2.1"/>
<circle class="b" cx="1611.0" cy="916.5" r="2.1"/>
<circle class="b" cx="1854.4" cy="833.2" r="2.1"/>
<circle class="r" cx="1697.9" cy="858.6" r="2.1"/>
<circle class="b" cx="1773.3" cy="789.1" r="2.1"/>
<circle class="r" cx="1777.9" cy="746.4" r="2.1"/>
<circle class="r" cx="1804.0" cy="764.7" r="2.1"/>
<circle class="r" cx="1731.1" cy="943.4" r="2.1"/>
<circle class="r" cx="1857.6" cy="701.4" r="2.1"/>
<circle class="r" cx="1693.2" cy="831.0" r="2.1"/>
<circle class="r" cx="1813.3" cy="799.1" r="2.1"/>
<circle class="r" cx="1743.9" cy="886.1" r="2.1"/>
<circle class="r" cx="1565.3" cy="886.0" r="2.1"/>
<circle class="r" cx="1681.4" cy="966.2" r="2.1"/>
<circle class="b" cx="1865.1" cy="665.4" r="2.1"/>
<circle class="b" cx="1816.4" cy="747.4" r="2.1"/>
<circle class="b" cx="1666.3" cy="883.2" r="2.1"/>
<circle class="b" cx="1857.3" cy="710.2" r="2.1"/>
<circle class="b" cx="1838.1" cy="795.3" r="2.1"/>
<circle class="r" cx="1819.1" cy="712.8" r="2.1"/>
<circle class="r" cx="1831.6" cy="859.3" r="2.1"/>
<circle class="b" cx="1821.0" cy="694.9" r="2.1"/>
<circle class="r" cx="1671.5" cy="854.8" r="2.1"/>
<circle class="b" cx="1869.1" cy="733.1" r="2.1"/>
<circle class="r" cx="1833.8" cy="677.8" r="2.1"/>
<circle class="r" cx="1836.7" cy="803.6" r="2.1"/>
<circle class="b" cx="1813.4" cy="721.7" r="2.1"/>
<circle class="r" cx="1703.1" cy="813.7" r="2.1"/>
<circle class="r" cx="1792.1" cy="875.5" r="2.1"/>
<circle class="r" cx="1810.1" cy="713.2" r="2.1"/>
<circle class="r" cx="1837.5" cy="809.7" r="2.1"/>
<circle class="b" cx="1803.0" cy="892.1" r="2.1"/>
<circle class="b" cx="1558.0" cy="886.2" r="2.1"/>
<circle class="b" cx="1579.0" cy="936.8" r="2.1"/>
<circle class="r" cx="1813.7" cy="666.0" r="2.1"/>
<circle class="b" cx="1581.9" cy="819.4" r="2.1"/>
<circle class="b" cx="1713.4" cy="829.1" r="2.1"/>
<circle class="r" cx="1900.4" cy="750.4" r="2.1"/>
<circle class="r" cx="1715.6" cy="881.5" r="2.1"/>
<circle class="b" cx="1696.9" cy="978.2" r="2.1"/>
<circle class="r" cx="1849.9" cy="747.7" r="2.1"/>
<circle class="b" cx="1767.5" cy="835.7" r="2.1"/>
<circle class="r" cx="1709.0" cy="984.9" r="2.1"/>
<circle class="b" cx="1743.8" cy="795.9" r="2.1"/>
<circle class="r" cx="1862.1" cy="691.4" r="2.1"/>
<circle class="r" cx="1840.4" cy="843.6" r="2.1"/>
<circle class="b" cx="1873.8" cy="776.3" r="2.1"/>
<circle class="b" cx="1859.0" cy="849.9" r="2.1"/>
<circle class="b" cx="1806.7" cy="790.5" r="2.1"/>
<circle class="b" cx="1853.0" cy="760.8" r="2.1"/>
<circle class="r" cx="1840.8" cy="785.7" r="2.1"/>
<circle class="b" cx="1641.5" cy="904.6" r="2.1"/>
<circle class="r" cx="1762.2" cy="725.1" r="2.1"/>
<circle class="r" cx="1810.9" cy="891.8" r="2.1"/>
<circle class="r" cx="1788.1" cy="787.3" r="2.1"/>
<circle class="r" cx="1780.2" cy="844.0" r="2.1"/>
<circle class="r" cx="1861.0" cy="754.3" r="2.1"/>
<circle class="b" cx="1797.7" cy="836.4" r="2.1"/>
<circle class="b" cx="1815.3" cy="844.5" r="2.1"/>
<circle class="r" cx="1839.8" cy="779.5" r="2.1"/>
<circle class="r" cx="1875.0" cy="746.6" r="2.1"/>
<circle class="r" cx="1794.2" cy="844.6" r="2.1"/>
<circle class="r" cx="1818.2" cy="663.0" r="2.1"/>
<circle class="b" cx="1815.0" cy="793.8" r="2.1"/>
<circle class="b" cx="1856.1" cy="768.1" r="2.1"/>
<circle class="r" cx="1726.4" cy="845.9" r="2.1"/>
<circle class="b" cx="1859.1" cy="817.2" r="2.1"/>
<circle class="r" cx="1590.9" cy="816.8" r="2.1"/>
<circle class="r" cx="1647.0" cy="861.3" r="2.1"/>
<circle class="r" cx="1849.9" cy="855.5" r="2.1"/>
<circle class="r" cx="1598.0" cy="930.6" r="2.1"/>
<circle class="r" cx="1777.9" cy="874.1" r="2.1"/>
<circle class="b" cx="1819.2" cy="859.1" r="2.1"/>
<circle class="b" cx="1848.5" cy="762.5" r="2.1"/>
<circle class="b" cx="1653.6" cy="858.4" r="2.1"/>
<circle class="b" cx="1585.9" cy="818.8" r="2.1"/>
<circle class="b" cx="1839.5" cy="893.6" r="2.1"/>
<circle class="r" cx="1851.0" cy="761.7" r="2.1"/>
<circle class="b" cx="1841.8" cy="690.6" r="2.1"/>
<circle class="r" cx="1767.5" cy="738.8" r="2.1"/>
<circle class="b" cx="1829.5" cy="803.2" r="2.1"/>
<circle class="b" cx="1804.8" cy="695.5" r="2.1"/>
<circle class="r" cx="1806.5" cy="780.2" r="2.1"/>
<circle class="b" cx="1805.6" cy="786.6" r="2.1"/>
<circle class="r" cx="1558.6" cy="823.2" r="2.1"/>
<circle class="r" cx="1833.0" cy="672.6" r="2.1"/>
<circle class="r" cx="1672.8" cy="891.5" r="2.1"/>
<circle class="b" cx="1890.3" cy="804.6" r="2.1"/>
<circle class="b" cx="1865.3" cy="797.1" r="2.1"/>
<circle class="b" cx="1728.4" cy="821.8" r="2.1"/>
<circle class="r" cx="1658.7" cy="909.6" r="2.1"/>
<circle class="r" cx="1561.7" cy="803.5" r="2.1"/>
<circle class="b" cx="1711.6" cy="821.2" r="2.1"/>
<circle class="r" cx="1872.9" cy="715.1" r="2.1"/>
<circle class="b" cx="1553.5" cy="830.5" r="2.1"/>
<circle class="r" cx="1574.2" cy="955.2" r="2.1"/>
<circle class="b" cx="1889.8" cy="778.1" r="2.1"/>
<circle class="r" cx="1555.5" cy="938.5" r="2.1"/>
<circle class="b" cx="1679.8" cy="964.0" r="2.1"/>
<circle class="r" cx="1834.3" cy="886.1" r="2.1"/>
<circle class="r" cx="1589.7" cy="931.7" r="2.1"/>
<circle class="r" cx="1682.6" cy="820.5" r="2.1"/>
<circle class="r" cx="1570.8" cy="913.7" r="2.1"/>
<circle class="b" cx="1866.4" cy="809.9" r="2.1"/>
<circle class="b" cx="1811.7" cy="899.1" r="2.1"/>
<circle class="r" cx="1793.4" cy="810.5" r="2.1"/>
<circle class="r" cx="1803.5" cy="765.2" r="2.1"/>
<circle class="b" cx="1859.0" cy="682.9" r="2.1"/>
<circle class="b" cx="1858.0" cy="684.9" r="2.1"/>
<circle class="b" cx="1828.5" cy="775.4" r="2.1"/>
<circle class="r" cx="1565.8" cy="909.9" r="2.1"/>
<circle class="r" cx="1871.4" cy="831.0" r="2.1"/>
<circle class="b" cx="1684.4" cy="857.3" r="2.1"/>
<circle class="r" cx="1704.8" cy="801.4" r="2.1"/>
<circle class="r" cx="1806.4" cy="886.1" r="2.1"/>
<circle class="r" cx="1782.0" cy="838.8" r="2.1"/>
<circle class="r" cx="1673.9" cy="842.0" r="2.1"/>
<circle class="r" cx="1824.3" cy="712.2" r="2.1"/>
<circle class="r" cx="1820.8" cy="879.2" r="2.1"/>
<circle class="b" cx="1554.2" cy="832.1" r="2.1"/>
<circle class="r" cx="1780.7" cy="917.5" r="2.1"/>
<circle class="r" cx="1884.3" cy="715.4" r="2.1"/>
<circle class="b" cx="1839.5" cy="802.5" r="2.1"/>
<circle class="r" cx="1673.9" cy="870.0" r="2.1"/>
<circle class="r" cx="1712.1" cy="876.8" r="2.1"/>
<circle class="b" cx="1585.7" cy="872.2" r="2.1"/>
<circle class="b" cx="1823.3" cy="909.0" r="2.1"/>
<circle class="r" cx="1903.7" cy="794.7" r="2.1"/>
<circle class="r" cx="1837.0" cy="772.3" r="2.1"/>
<circle class="b" cx="1831.2" cy="680.6" r="2.1"/>
<circle class="b" cx="1784.4" cy="838.8" r="2.1"/>
<circle class="r" cx="1618.1" cy="914.4" r="2.1"/>
<circle class="r" cx="1653.8" cy="874.9" r="2.1"/>
<circle class="r" cx="1823.8" cy="778.6" r="2.1"/>
<circle class="r" cx="1859.4" cy="827.8" r="2.1"/>
<circle class="r" cx="1873.9" cy="784.8" r="2.1"/>
<circle class="r" cx="1632.8" cy="860.3" r="2.1"/>
<circle class="r" cx="1575.7" cy="828.4" r="2.1"/>
<circle class="b" cx="1574.2" cy="820.9" r="2.1"/>
<circle class="b" cx="1825.7" cy="874.6" r="2.1"/>
<circle class="b" cx="1879.5" cy="809.1" r="2.1"/>
<circle class="r" cx="1822.6" cy="678.4" r="2.1"/>
<circle class="b" cx="1815.4" cy="797.6" r="2.1"/>
<circle class="r" cx="1788.1" cy="880.2" r="2.1"/>
<circle class="r" cx="1598.1" cy="944.7" r="2.1"/>
<circle class="b" cx="1601.4" cy="858.6" r="2.1"/>
<circle class="b" cx="1880.4" cy="795.7" r="2.1"/>
<circle class="r" cx="1873.6" cy="821.6" r="2.1"/>
<circle class="r" cx="1796.9" cy="837.6" r="2.1"/>
<circle class="b" cx="1616.3" cy="924.3" r="2.1"/>
<circle class="b" cx="1657.8" cy="921.8" r="2.1"/>
<circle class="r" cx="1807.8" cy="724.3" r="2.1"/>
<circle class="b" cx="1853.5" cy="845.1" r="2.1"/>
<circle class="b" cx="1790.0" cy="906.0" r="2.1"/>
<circle class="r" cx="1751.4" cy="810.9" r="2.1"/>
<circle class="r" cx="1808.5" cy="763.0" r="2.1"/>
<circle class="b" cx="1657.3" cy="890.5" r="2.1"/>
<circle class="r" cx="1860.1" cy="693.0" r="2.1"/>
<circle class="r" cx="1644.8" cy="878.1" r="2.1"/>
<circle class="b" cx="1579.0" cy="896.9" r="2.1"/>
<circle class="r" cx="1568.8" cy="810.0" r="2.1"/>
<circle class="r" cx="1817.5" cy="692.2" r="2.1"/>
<circle class="b" cx="1878.5" cy="770.4" r="2.1"/>
<circle class="r" cx="1857.7" cy="745.4" r="2.1"/>
<circle class="r" cx="1799.8" cy="678.7" r="2.1"/>
<circle class="r" cx="1722.6" cy="921.8" r="2.1"/>
<circle class="r" cx="1823.6" cy="862.6" r="2.1"/>
<circle class="b" cx="1806.5" cy="770.8" r="2.1"/>
<circle class="b" cx="1823.8" cy="685.3" r="2.1"/>
<circle class="b" cx="1618.1" cy="892.6" r="2.1"/>
<circle class="b" cx="1556.0" cy="929.2" r="2.1"/>
<circle class="r" cx="1816.8" cy="707.6" r="2.1"/>
<circle class="r" cx="1907.8" cy="753.1" r="2.1"/>
<circle class="b" cx="1833.0" cy="904.0" r="2.1"/>
<circle class="r" cx="1806.0" cy="752.8" r="2.1"/>
<circle class="r" cx="1787.7" cy="861.4" r="2.1"/>
<circle class="b" cx="1818.5" cy="672.5" r="2.1"/>
<circle class="r" cx="1806.6" cy="722.4" r="2.1"/>
<circle class="b" cx="1874.9" cy="705.4" r="2.1"/>
<circle class="b" cx="1818.9" cy="888.4" r="2.1"/>
<circle class="r" cx="1875.6" cy="826.2" r="2.1"/>
<circle class="b" cx="1579.7" cy="825.5" r="2.1"/>
<circle class="b" cx="1668.8" cy="831.0" r="2.1"/>
<circle class="r" cx="1788.1" cy="878.7" r="2.1"/>
<circle class="b" cx="1597.2" cy="852.3" r="2.1"/>
<circle class="r" cx="1807.8" cy="665.0" r="2.1"/>
<circle class="r" cx="1573.2" cy="808.9" r="2.1"/>
<circle class="r" cx="1672.0" cy="858.4" r="2.1"/>
<circle class="r" cx="1577.0" cy="809.0" r="2.1"/>
<circle class="r" cx="1680.3" cy="964.5" r="2.1"/>
<circle class="b" cx="1896.4" cy="751.4" r="2.1"/>
<circle class="r" cx="1562.1" cy="932.2" r="2.1"/>
<circle class="r" cx="1566.7" cy="927.6" r="2.1"/>
<circle class="r" cx="1563.7" cy="833.1" r="2.1"/>
<circle class="b" cx="1822.5" cy="880.3" r="2.1"/>
<circle class="b" cx="1827.0" cy="837.8" r="2.1"/>
<circle class="r" cx="1829.4" cy="791.6" r="2.1"/>
<circle class="r" cx="1768.1" cy="918.5" r="2.1"/>
<circle class="r" cx="1575.9" cy="946.4" r="2.1"/>
<circle class="b" cx="1834.6" cy="790.0" r="2.1"/>
<circle class="b" cx="1853.8" cy="735.5" r="2.1"/>
<circle class="r" cx="1735.6" cy="918.1" r="2.1"/>
<circle class="b" cx="1882.7" cy="755.1" r="2.1"/>
<circle class="b" cx="1573.4" cy="922.2" r="2.1"/>
<circle class="r" cx="1854.2" cy="740.0" r="2.1"/>
<circle class="r" cx="1853.0" cy="758.7" r="2.1"/>
<circle class="b" cx="1581.8" cy="914.8" r="2.1"/>
<circle class="b" cx="1872.2" cy="767.7" r="2.1"/>
<circle class="b" cx="1807.9" cy="733.5" r="2.1"/>
<circle class="b" cx="1809.0" cy="693.5" r="2.1"/>
<circle class="b" cx="1838.0" cy="676.7" r="2.1"/>
<circle class="b" cx="1591.8" cy="908.2" r="2.1"/>
<circle class="b" cx="1687.6" cy="853.2" r="2.1"/>
<circle class="b" cx="1761.1" cy="808.8" r="2.1"/>
<circle class="r" cx="1824.7" cy="717.2" r="2.1"/>
<circle class="b" cx="1850.6" cy="670.1" r="2.1"/>
<circle class="r" cx="1673.0" cy="817.6" r="2.1"/>
<circle class="b" cx="1814.7" cy="659.8" r="2.1"/>
<circle class="b" cx="1845.2" cy="722.6" r="2.1"/>
<circle class="r" cx="1848.5" cy="841.6" r="2.1"/>
<circle class="r" cx="1677.5" cy="821.1" r="2.1"/>
<circle class="r" cx="1810.2" cy="751.0" r="2.1"/>
<circle class="r" cx="1768.9" cy="788.5" r="2.1"/>
<circle class="b" cx="1638.3" cy="835.2" r="2.1"/>
<circle class="r" cx="1811.8" cy="793.6" r="2.1"/>
<circle class="b" cx="1590.2" cy="886.6" r="2.1"/>
<circle class="r" cx="1690.0" cy="883.4" r="2.1"/>
<circle class="r" cx="1854.3" cy="726.4" r="2.1"/>
<circle class="b" cx="1807.6" cy="835.9" r="2.1"/>
<circle class="r" cx="1675.1" cy="838.6" r="2.1"/>
<circle class="r" cx="1897.2" cy="739.1" r="2.1"/>
<circle class="r" cx="1705.9" cy="799.3" r="2.1"/>
<circle class="b" cx="1775.6" cy="879.8" r="2.1"/>
<circle class="b" cx="1824.9" cy="769.4" r="2.1"/>
<circle class="b" cx="1764.6" cy="727.1" r="2.1"/>
<circle class="r" cx="1777.2" cy="910.4" r="2.1"/>
<circle class="b" cx="1845.9" cy="721.3" r="2.1"/>
<circle class="r" cx="1707.3" cy="916.6" r="2.1"/>
<circle class="r" cx="1872.9" cy="819.1" r="2.1"/>
<circle class="r" cx="1841.8" cy="866.5" r="2.1"/>
<circle class="r" cx="1733.5" cy="930.8" r="2.1"/>
<circle class="b" cx="1710.7" cy="819.4" r="2.1"/>
<circle class="r" cx="1803.8" cy="663.6" r="2.1"/>
<circle class="r" cx="1831.0" cy="685.8" r="2.1"/>
<circle class="r" cx="1560.8" cy="833.6" r="2.1"/>
<circle class="b" cx="1691.3" cy="828.5" r="2.1"/>
<circle class="b" cx="1768.1" cy="714.1" r="2.1"/>
<circle class="b" cx="1830.3" cy="765.7" r="2.1"/>
<circle class="r" cx="1805.3" cy="715.6" r="2.1"/>
<circle class="r" cx="1880.0" cy="770.9" r="2.1"/>
<circle class="b" cx="1726.0" cy="921.6" r="2.1"/>
<circle class="b" cx="1831.4" cy="665.4" r="2.1"/>
<circle class="b" cx="1857.8" cy="684.2" r="2.1"/>
<circle class="r" cx="1700.2" cy="875.5" r="2.1"/>
<circle class="b" cx="1565.7" cy="865.5" r="2.1"/>
<circle class="r" cx="1787.4" cy="795.3" r="2.1"/>
<circle class="b" cx="1851.7" cy="812.5" r="2.1"/>
<circle class="b" cx="1876.5" cy="768.1" r="2.1"/>
<circle class="b" cx="1701.0" cy="912.5" r="2.1"/>
<circle class="r" cx="1852.2" cy="724.1" r="2.1"/>
<circle class="r" cx="1767.6" cy="761.7" r="2.1"/>
<circle class="b" cx="1820.3" cy="771.2" r="2.1"/>
<circle class="b" cx="1847.2" cy="788.0" r="2.1"/>
<circle class="r" cx="1806.6" cy="877.6" r="2.1"/>
<circle class="b" cx="1787.9" cy="852.6" r="2.1"/>
<circle class="r" cx="1578.4" cy="956.8" r="2.1"/>
<circle class="b" cx="1592.6" cy="927.0" r="2.1"/>
<circle class="b" cx="1691.7" cy="898.5" r="2.1"/>
<circle class="r" cx="1863.5" cy="798.6" r="2.1"/>
<circle class="r" cx="1615.4" cy="879.2" r="2.1"/>
<circle class="r" cx="1815.3" cy="776.4" r="2.1"/>
<circle class="r" cx="1813.7" cy="746.2" r="2.1"/>
<circle class="b" cx="1808.1" cy="680.8" r="2.1"/>
<circle class="r" cx="1874.1" cy="710.8" r="2.1"/>
<circle class="b" cx="1841.8" cy="770.9" r="2.1"/>
<circle class="r" cx="1725.3" cy="853.7" r="2.1"/>
<circle class="r" cx="1798.8" cy="799.4" r="2.1"/>
<circle class="r" cx="1853.3" cy="748.7" r="2.1"/>
<circle class="r" cx="1737.6" cy="912.3" r="2.1"/>
<circle class="b" cx="1756.7" cy="866.4" r="2.1"/>
<circle class="r" cx="1815.0" cy="745.0" r="2.1"/>
<circle class="r" cx="1653.2" cy="834.5" r="2.1"/>
<circle class="b" cx="1832.4" cy="695.1" r="2.1"/>
<circle class="b" cx="1853.4" cy="664.9" r="2.1"/>
<circle class="b" cx="1806.9" cy="672.0" r="2.1"/>
<circle class="b" cx="1774.1" cy="867.1" r="2.1"/>
<circle class="b" cx="1882.8" cy="834.6" r="2.1"/>
<circle class="r" cx="1848.1" cy="745.6" r="2.1"/>
<circle class="b" cx="1894.5" cy="789.6" r="2.1"/>
<circle class="b" cx="1566.6" cy="906.8" r="2.1"/>
<circle class="b" cx="1818.7" cy="723.4" r="2.1"/>
<circle class="r" cx="1552.3" cy="846.3" r="2.1"/>
<circle class="r" cx="1767.1" cy="723.9" r="2.1"/>
<circle class="b" cx="1801.6" cy="801.5" r="2.1"/>
<circle class="r" cx="1764.2" cy="773.1" r="2.1"/>
<circle class="r" cx="1783.3" cy="894.1" r="2.1"/>
<circle class="r" cx="1568.0" cy="915.1" r="2.1"/>
<circle class="b" cx="1854.8" cy="748.3" r="2.1"/>
<circle class="b" cx="1673.4" cy="954.5" r="2.1"/>
<circle class="r" cx="1561.8" cy="835.4" r="2.1"/>
<circle class="b" cx="1825.8" cy="685.2" r="2.1"/>
<circle class="r" cx="1875.7" cy="690.3" r="2.1"/>
<circle class="b" cx="1812.4" cy="809.7" r="2.1"/>
<circle class="r" cx="1620.3" cy="863.6" r="2.1"/>
<circle class="b" cx="1862.9" cy="750.9" r="2.1"/>
<circle class="b" cx="1884.9" cy="821.0" r="2.1"/>
<circle class="b" cx="1554.7" cy="829.9" r="2.1"/>
<circle class="r" cx="1905.1" cy="752.4" r="2.1"/>
<circle class="r" cx="1846.6" cy="772.4" r="2.1"/>
<circle class="b" cx="1787.8" cy="819.9" r="2.1"/>
<circle class="b" cx="1570.7" cy="880.5" r="2.1"/>
<circle class="r" cx="1727.5" cy="877.6" r="2.1"/>
<circle class="b" cx="1824.3" cy="795.1" r="2.1"/>
<circle class="r" cx="1603.2" cy="927.2" r="2.1"/>
<circle class="b" cx="1774.2" cy="811.9" r="2.1"/>
<circle class="r" cx="1856.4" cy="801.5" r="2.1"/>
<circle class="b" cx="1586.3" cy="867.5" r="2.1"/>
<circle class="r" cx="1790.2" cy="799.7" r="2.1"/>
<circle class="r" cx="1766.9" cy="773.0" r="2.1"/>
<circle class="r" cx="1575.7" cy="810.6" r="2.1"/>
<circle class="b" cx="1689.6" cy="921.1" r="2.1"/>
<circle class="r" cx="1807.8" cy="739.0" r="2.1"/>
<circle class="r" cx="1717.9" cy="890.1" r="2.1"/>
<circle class="r" cx="1896.5" cy="770.6" r="2.1"/>
<circle class="b" cx="1589.6" cy="819.5" r="2.1"/>
<circle class="r" cx="1808.3" cy="788.1" r="2.1"/>
<circle class="r" cx="1799.7" cy="853.1" r="2.1"/>
<circle class="r" cx="1807.5" cy="740.5" r="2.1"/>
<circle class="r" cx="1576.6" cy="832.6" r="2.1"/>
<circle class="b" cx="1865.0" cy="836.4" r="2.1"/>
<circle class="r" cx="1785.5" cy="833.9" r="2.1"/>
<circle class="b" cx="1806.2" cy="755.1" r="2.1"/>
<circle class="b" cx="1827.8" cy="766.9" r="2.1"/>
<circle class="r" cx="1661.1" cy="875.8" r="2.1"/>
<circle class="b" cx="1807.9" cy="897.1" r="2.1"/>
<circle class="r" cx="1592.2" cy="901.4" r="2.1"/>
<circle class="b" cx="1827.6" cy="802.8" r="2.1"/>
<circle class="r" cx="1845.3" cy="701.3" r="2.1"/>
<circle class="r" cx="1817.3" cy="798.1" r="2.1"/>
<circle class="r" cx="1822.5" cy="887.7" r="2.1"/>
<circle class="b" cx="1851.0" cy="849.1" r="2.1"/>
<circle class="r" cx="1585.0" cy="948.5" r="2.1"/>
<circle class="r" cx="1837.9" cy="695.4" r="2.1"/>
<circle class="b" cx="1574.8" cy="815.9" r="2.1"/>
<circle class="r" cx="1704.7" cy="806.7" r="2.1"/>
<circle class="r" cx="1757.1" cy="714.3" r="2.1"/>
<circle class="r" cx="1845.5" cy="774.9" r="2.1"/>
<circle class="r" cx="1563.3" cy="877.1" r="2.1"/>
<circle class="r" cx="1688.3" cy="829.2" r="2.1"/>
<circle class="b" cx="1724.6" cy="921.6" r="2.1"/>
<circle class="r" cx="1878.4" cy="820.0" r="2.1"/>
<circle class="r" cx="1785.4" cy="805.4" r="2.1"/>
<circle class="r" cx="1838.7" cy="778.6" r="2.1"/>
<circle class="r" cx="1860.1" cy="846.7" r="2.1"/>
<circle class="r" cx="1634.7" cy="884.9" r="2.1"/>
<circle class="b" cx="1580.0" cy="875.9" r="2.1"/>
<circle class="r" cx="1876.7" cy="708.1" r="2.1"/>
<circle class="b" cx="1595.1" cy="873.6" r="2.1"/>
<circle class="r" cx="1779.9" cy="765.1" r="2.1"/>
<circle class="b" cx="1868.8" cy="765.5" r="2.1"/>
<circle class="b" cx="1834.9" cy="659.5" r="2.1"/>
<circle class="b" cx="1819.6" cy="820.0" r="2.1"/>
<circle class="b" cx="1888.2" cy="794.6" r="2.1"/>
<circle class="r" cx="1677.6" cy="934.4" r="2.1"/>
<circle class="r" cx="1676.7" cy="891.8" r="2.1"/>
<circle class="r" cx="1898.3" cy="791.0" r="2.1"/>
<circle class="r" cx="1831.2" cy="891.7" r="2.1"/>
<circle class="b" cx="1703.7" cy="825.1" r="2.1"/>
<circle class="r" cx="1584.0" cy="810.3" r="2.1"/>
<circle class="r" cx="1723.5" cy="838.5" r="2.1"/>
<circle class="b" cx="1864.6" cy="734.4" r="2.1"/>
<circle class="r" cx="1879.5" cy="826.6" r="2.1"/>
<circle class="b" cx="1791.2" cy="890.7" r="2.1"/>
<circle class="r" cx="1586.1" cy="870.2" r="2.1"/>
<circle class="b" cx="1758.7" cy="811.7" r="2.1"/>
<circle class="b" cx="1836.6" cy="721.8" r="2.1"/>
<circle class="b" cx="1577.5" cy="895.3" r="2.1"/>
<circle class="b" cx="1736.6" cy="935.7" r="2.1"/>
<circle class="r" cx="1834.2" cy="829.9" r="2.1"/>
<circle class="b" cx="1890.5" cy="818.7" r="2.1"/>
<circle class="r" cx="1907.0" cy="757.8" r="2.1"/>
<circle class="r" cx="1885.1" cy="793.1" r="2.1"/>
<circle class="b" cx="1897.2" cy="763.7" r="2.1"/>
<circle class="r" cx="1817.8" cy="689.0" r="2.1"/>
<circle class="r" cx="1826.7" cy="854.0" r="2.1"/>
<circle class="r" cx="1875.2" cy="739.0" r="2.1"/>
<circle class="r" cx="1568.3" cy="836.2" r="2.1"/>
<circle class="r" cx="1808.7" cy="879.7" r="2.1"/>
<circle class="r" cx="1832.5" cy="656.3" r="2.1"/>
<circle class="r" cx="1848.2" cy="823.3" r="2.1"/>
<circle class="r" cx="1594.4" cy="837.1" r="2.1"/>
<circle class="r" cx="1577.1" cy="871.9" r="2.1"/>
<circle class="r" cx="1830.8" cy="898.8" r="2.1"/>
<circle class="b" cx="1882.8" cy="734.9" r="2.1"/>
<circle class="b" cx="1802.0" cy="696.7" r="2.1"/>
<circle class="r" cx="1885.1" cy="812.4" r="2.1"/>
<circle class="b" cx="1808.6" cy="778.6" r="2.1"/>
<circle class="b" cx="1767.4" cy="720.8" r="2.1"/>
<circle class="r" cx="1806.5" cy="689.9" r="2.1"/>
<circle class="r" cx="1788.0" cy="864.7" r="2.1"/>
<circle class="b" cx="1835.6" cy="816.9" r="2.1"/>
<circle class="b" cx="1878.4" cy="724.7" r="2.1"/>
<circle class="b" cx="1820.1" cy="769.6" r="2.1"/>
<circle class="r" cx="1864.9" cy="801.5" r="2.1"/>
<circle class="r" cx="1553.3" cy="910.5" r="2.1"/>
<circle class="r" cx="1713.7" cy="892.5" r="2.1"/>
<circle class="r" cx="1672.9" cy="953.4" r="2.1"/>
<circle class="r" cx="1800.2" cy="707.9" r="2.1"/>
<circle class="r" cx="1761.5" cy="712.1" r="2.1"/>
<circle class="r" cx="1549.8" cy="915.2" r="2.1"/>
<circle class="b" cx="1850.3" cy="835.8" r="2.1"/>
<circle class="b" cx="1686.7" cy="895.1" r="2.1"/>
<circle class="b" cx="1839.3" cy="791.5" r="2.1"/>
<circle class="r" cx="1685.0" cy="917.2" r="2.1"/>
<circle class="r" cx="1839.2" cy="682.1" r="2.1"/>
<circle class="b" cx="1794.9" cy="681.7" r="2.1"/>
<circle class="r" cx="1744.3" cy="899.2" r="2.1"/>
<circle class="r" cx="1799.5" cy="843.1" r="2.1"/>
<circle class="b" cx="1842.2" cy="771.9" r="2.1"/>
<circle class="r" cx="1574.5" cy="922.6" r="2.1"/>
<circle class="r" cx="1715.6" cy="838.5" r="2.1"/>
<circle class="b" cx="1828.3" cy="863.8" r="2.1"/>
<circle class="b" cx="1675.3" cy="957.2" r="2.1"/>
<circle class="b" cx="1627.5" cy="910.2" r="2.1"/>
<circle class="r" cx="1868.1" cy="785.7" r="2.1"/>
<circle class="r" cx="1792.6" cy="840.1" r="2.1"/>
<circle class="b" cx="1767.4" cy="854.2" r="2.1"/>
<circle class="b" cx="1892.5" cy="816.2" r="2.1"/>
<circle class="b" cx="1863.1" cy="669.7" r="2.1"/>
<circle class="b" cx="1846.2" cy="719.8" r="2.1"/>
<circle class="b" cx="1578.3" cy="814.9" r="2.1"/>
<circle class="b" cx="1588.1" cy="870.9" r="2.1"/>
<circle class="b" cx="1852.4" cy="699.0" r="2.1"/>
<circle class="r" cx="1709.5" cy="870.6" r="2.1"/>
<circle class="r" cx="1738.2" cy="933.0" r="2.1"/>
<circle class="r" cx="1872.6" cy="771.4" r="2.1"/>
<circle class="b" cx="1650.2" cy="817.6" r="2.1"/>
<circle class="r" cx="1803.0" cy="723.0" r="2.1"/>
<circle class="r" cx="1666.4" cy="846.9" r="2.1"/>
<circle class="b" cx="1588.0" cy="888.2" r="2.1"/>
<circle class="r" cx="1796.6" cy="909.7" r="2.1"/>
<circle class="b" cx="1816.3" cy="871.3" r="2.1"/>
<circle class="b" cx="1816.6" cy="823.8" r="2.1"/>
<circle class="r" cx="1871.9" cy="723.0" r="2.1"/>
<circle class="b" cx="1861.3" cy="674.1" r="2.1"/>
<circle class="r" cx="1785.5" cy="910.7" r="2.1"/>
<circle class="r" cx="1712.5" cy="822.7" r="2.1"/>
<circle class="r" cx="1704.0" cy="899.9" r="2.1"/>
<circle class="r" cx="1731.7" cy="878.9" r="2.1"/>
<circle class="b" cx="1823.2" cy="872.7" r="2.1"/>
<circle class="r" cx="1681.2" cy="911.6" r="2.1"/>
<circle class="r" cx="1591.6" cy="956.9" r="2.1"/>
<circle class="r" cx="1779.6" cy="772.4" r="2.1"/>
<circle class="r" cx="1792.5" cy="794.6" r="2.1"/>
<circle class="r" cx="1858.7" cy="701.6" r="2.1"/>
<circle class="b" cx="1876.2" cy="800.5" r="2.1"/>
<circle class="b" cx="1596.7" cy="843.5" r="2.1"/>
<circle class="r" cx="1821.9" cy="750.6" r="2.1"/>
<circle class="r" cx="1852.7" cy="815.8" r="2.1"/>
<circle class="r" cx="1592.7" cy="937.4" r="2.1"/>
<circle class="b" cx="1572.8" cy="839.1" r="2.1"/>
<circle class="r" cx="1857.7" cy="704.0" r="2.1"/>
<circle class="b" cx="1871.7" cy="799.9" r="2.1"/>
<circle class="b" cx="1839.9" cy="847.0" r="2.1"/>
<circle class="r" cx="1859.3" cy="785.6" r="2.1"/>
<circle class="b" cx="1808.6" cy="769.5" r="2.1"/>
<circle class="r" cx="1880.6" cy="782.3" r="2.1"/>
<circle class="b" cx="1847.6" cy="738.9" r="2.1"/>
<circle class="b" cx="1580.3" cy="897.6" r="2.1"/>
<circle class="r" cx="1572.8" cy="829.2" r="2.1"/>
<circle class="r" cx="1616.2" cy="879.5" r="2.1"/>
<circle class="r" cx="1567.3" cy="911.4" r="2.1"/>
<circle class="b" cx="1820.9" cy="746.5" r="2.1"/>
<circle class="b" cx="1862.6" cy="825.2" r="2.1"/>
<circle class="r" cx="1887.8" cy="827.8" r="2.1"/>
<circle class="b" cx="1604.8" cy="895.0" r="2.1"/>
<circle class="b" cx="1615.5" cy="889.5" r="2.1"/>
<circle class="r" cx="1645.6" cy="820.4" r="2.1"/>
<circle class="b" cx="1611.8" cy="859.9" r="2.1"/>
<circle class="b" cx="1764.3" cy="791.7" r="2.1"/>
<circle class="r" cx="1551.2" cy="829.1" r="2.1"/>
<circle class="r" cx="1757.4" cy="902.5" r="2.1"/>
<circle class="b" cx="1568.5" cy="878.8" r="2.1"/>
<circle class="b" cx="1570.5" cy="882.1" r="2.1"/>
<circle class="b" cx="1607.8" cy="886.7" r="2.1"/>
<circle class="r" cx="1680.7" cy="884.9" r="2.1"/>
<circle class="r" cx="1730.6" cy="846.6" r="2.1"/>
<circle class="b" cx="1814.2" cy="807.4" r="2.1"/>
<circle class="b" cx="1769.1" cy="895.6" r="2.1"/>
<circle class="r" cx="1830.0" cy="879.4" r="2.1"/>
<circle class="r" cx="1568.3" cy="911.9" r="2.1"/>
<circle class="b" cx="1802.4" cy="886.0" r="2.1"/>
<circle class="r" cx="1806.5" cy="706.3" r="2.1"/>
<circle class="r" cx="1864.5" cy="814.1" r="2.1"/>
<circle class="r" cx="1577.3" cy="935.2" r="2.1"/>
<circle class="b" cx="1668.4" cy="918.3" r="2.1"/>
<circle class="r" cx="1600.8" cy="851.5" r="2.1"/>
<circle class="r" cx="1889.4" cy="828.3" r="2.1"/>
<circle class="b" cx="1573.1" cy="835.2" r="2.1"/>
<circle class="r" cx="1705.4" cy="902.8" r="2.1"/>
<circle class="r" cx="1861.4" cy="675.6" r="2.1"/>
<circle class="r" cx="1597.6" cy="952.4" r="2.1"/>
<circle class="b" cx="1831.7" cy="894.4" r="2.1"/>
<circle class="r" cx="1867.6" cy="673.6" r="2.1"/>
<circle class="r" cx="1647.2" cy="844.0" r="2.1"/>
<circle class="r" cx="1585.7" cy="886.5" r="2.1"/>
<circle class="b" cx="1587.7" cy="810.5" r="2.1"/>
<circle class="b" cx="1801.6" cy="835.0" r="2.1"/>
<circle class="b" cx="1808.6" cy="813.4" r="2.1"/>
<circle class="r" cx="1871.5" cy="726.2" r="2.1"/>
<circle class="b" cx="1907.3" cy="771.3" r="2.1"/>
<circle class="b" cx="1798.3" cy="828.1" r="2.1"/>
<circle class="r" cx="1816.0" cy="825.5" r="2.1"/>
<circle class="r" cx="1849.4" cy="762.9" r="2.1"/>
<circle class="r" cx="1801.7" cy="700.6" r="2.1"/>
<circle class="r" cx="1828.3" cy="780.4" r="2.1"/>
<circle class="b" cx="1826.2" cy="794.5" r="2.1"/>
<circle class="b" cx="1759.1" cy="704.1" r="2.1"/>
<circle class="r" cx="1584.8" cy="906.3" r="2.1"/>
<circle class="b" cx="1828.4" cy="855.0" r="2.1"/>
<circle class="b" cx="1838.9" cy="722.0" r="2.1"/>
<circle class="b" cx="1684.7" cy="969.4" r="2.1"/>
<circle class="b" cx="1789.3" cy="909.8" r="2.1"/>
<circle class="b" cx="1834.0" cy="669.1" r="2.1"/>
<circle class="r" cx="1832.9" cy="874.2" r="2.1"/>
<circle class="b" cx="1806.2" cy="804.3" r="2.1"/>
<circle class="b" cx="1869.9" cy="755.2" r="2.1"/>
<circle class="r" cx="1877.1" cy="714.1" r="2.1"/>
<circle class="r" cx="1853.7" cy="791.0" r="2.1"/>
<circle class="r" cx="1866.3" cy="746.9" r="2.1"/>
<circle class="r" cx="1811.5" cy="765.6" r="2.1"/>
<circle class="b" cx="1564.1" cy="835.4" r="2.1"/>
<circle class="r" cx="1840.3" cy="828.3" r="2.1"/>
<circle class="b" cx="1671.9" cy="903.5" r="2.1"/>
<circle class="r" cx="1547.8" cy="882.3" r="2.1"/>
<circle class="r" cx="1596.3" cy="869.4" r="2.1"/>
<circle class="r" cx="1630.2" cy="892.7" r="2.1"/>
<circle class="b" cx="1635.7" cy="828.1" r="2.1"/>
<circle class="r" cx="1845.5" cy="838.3" r="2.1"/>
<circle class="b" cx="1835.6" cy="876.7" r="2.1"/>
<circle class="r" cx="1856.7" cy="834.2" r="2.1"/>
<circle class="b" cx="1845.6" cy="682.8" r="2.1"/>
<circle class="b" cx="1818.2" cy="667.7" r="2.1"/>
<circle class="r" cx="1645.7" cy="870.8" r="2.1"/>
<circle class="r" cx="1573.9" cy="906.4" r="2.1"/>
<circle class="b" cx="1826.8" cy="786.6" r="2.1"/>
<circle class="b" cx="1899.7" cy="748.7" r="2.1"/>
<circle class="r" cx="1751.3" cy="721.0" r="2.1"/>
<circle class="r" cx="1585.8" cy="898.4" r="2.1"/>
<circle class="b" cx="1870.6" cy="837.8" r="2.1"/>
<circle class="b" cx="1774.4" cy="769.6" r="2.1"/>
<circle class="r" cx="1902.6" cy="800.6" r="2.1"/>
<circle class="r" cx="1565.5" cy="828.9" r="2.1"/>
<circle class="r" cx="1765.7" cy="906.5" r="2.1"/>
<circle class="r" cx="1785.5" cy="801.2" r="2.1"/>
<circle class="r" cx="1686.1" cy="865.3" r="2.1"/>
<circle class="b" cx="1816.5" cy="879.8" r="2.1"/>
<circle class="b" cx="1548.1" cy="832.4" r="2.1"/>
<circle class="b" cx="1824.9" cy="768.8" r="2.1"/>
<circle class="b" cx="1596.2" cy="954.0" r="2.1"/>
<circle class="r" cx="1561.8" cy="807.7" r="2.1"/>
<circle class="r" cx="1817.1" cy="809.7" r="2.1"/>
<circle class="r" cx="1861.0" cy="751.1" r="2.1"/>
<circle class="b" cx="1735.8" cy="922.6" r="2.1"/>
<circle class="b" cx="1609.1" cy="897.4" r="2.1"/>
<circle class="r" cx="1842.5" cy="774.4" r="2.1"/>
<circle class="r" cx="1574.6" cy="954.2" r="2.1"/>
<circle class="r" cx="1691.8" cy="884.9" r="2.1"/>
<circle class="r" cx="1810.8" cy="902.1" r="2.1"/>
<circle class="b" cx="1628.6" cy="849.1" r="2.1"/>
<circle class="r" cx="1792.0" cy="912.3" r="2.1"/>
<circle class="b" cx="1875.3" cy="741.6" r="2.1"/>
<circle class="r" cx="1816.6" cy="830.3" r="2.1"/>
<circle class="b" cx="1756.2" cy="831.5" r="2.1"/>
<circle class="r" cx="1624.1" cy="872.2" r="2.1"/>
<circle class="r" cx="1800.2" cy="674.5" r="2.1"/>
<circle class="r" cx="1825.4" cy="831.1" r="2.1"/>
<circle class="b" cx="1851.3" cy="740.3" r="2.1"/>
<circle class="r" cx="1861.1" cy="711.1" r="2.1"/>
<circle class="r" cx="1862.7" cy="717.0" r="2.1"/>
<circle class="b" cx="1588.4" cy="913.8" r="2.1"/>
<circle class="r" cx="1658.4" cy="930.0" r="2.1"/>
<circle class="r" cx="1791.6" cy="842.1" r="2.1"/>
<circle class="b" cx="1832.1" cy="668.5" r="2.1"/>
<circle class="r" cx="1793.5" cy="808.3" r="2.1"/>
<circle class="b" cx="1759.3" cy="778.6" r="2.1"/>
<circle class="r" cx="1845.5" cy="681.6" r="2.1"/>
<circle class="b" cx="1721.0" cy="864.6" r="2.1"/>
<circle class="r" cx="1871.2" cy="819.3" r="2.1"/>
<circle class="r" cx="1658.4" cy="830.5" r="2.1"/>
<circle class="b" cx="1623.1" cy="851.4" r="2.1"/>
<circle class="r" cx="1781.5" cy="850.1" r="2.1"/>
<circle class="r" cx="1883.9" cy="805.9" r="2.1"/>
<circle class="b" cx="1884.8" cy="775.1" r="2.1"/>
<circle class="r" cx="1831.9" cy="881.9" r="2.1"/>
<circle class="r" cx="1740.2" cy="849.4" r="2.1"/>
<circle class="r" cx="1595.5" cy="869.0" r="2.1"/>
<circle class="r" cx="1799.4" cy="846.4" r="2.1"/>
<circle class="r" cx="1847.3" cy="809.0" r="2.1"/>
<circle class="r" cx="1849.1" cy="806.8" r="2.1"/>
<circle class="r" cx="1819.6" cy="880.8" r="2.1"/>
<circle class="r" cx="1833.6" cy="678.0" r="2.1"/>
<circle class="r" cx="1554.6" cy="911.1" r="2.1"/>
<circle class="b" cx="1722.0" cy="904.9" r="2.1"/>
<circle class="r" cx="1766.5" cy="789.1" r="2.1"/>
<circle class="r" cx="1570.2" cy="829.7" r="2.1"/>
<circle class="r" cx="1845.5" cy="810.6" r="2.1"/>
<circle class="r" cx="1876.8" cy="826.6" r="2.1"/>
<circle class="r" cx="1889.8" cy="764.6" r="2.1"/>
<circle class="b" cx="1878.2" cy="819.6" r="2.1"/>
<circle class="r" cx="1690.9" cy="828.6" r="2.1"/>
<circle class="r" cx="1863.4" cy="753.9" r="2.1"/>
<circle class="r" cx="1835.8" cy="890.2" r="2.1"/>
<circle class="b" cx="1888.3" cy="742.8" r="2.1"/>
<circle class="b" cx="1588.3" cy="893.7" r="2.1"/>
<circle class="r" cx="1844.1" cy="783.8" r="2.1"/>
<circle class="b" cx="1879.3" cy="759.6" r="2.1"/>
<circle class="b" cx="1630.3" cy="855.9" r="2.1"/>
<circle class="r" cx="1678.0" cy="897.4" r="2.1"/>
<circle class="b" cx="1834.1" cy="788.1" r="2.1"/>
<circle class="b" cx="1580.9" cy="887.5" r="2.1"/>
<circle class="r" cx="1832.3" cy="667.0" r="2.1"/>
<circle class="b" cx="1786.9" cy="810.7" r="2.1"/>
<circle class="r" cx="1794.1" cy="896.9" r="2.1"/>
<circle class="r" cx="1584.4" cy="914.7" r="2.1"/>
<circle class="b" cx="1808.1" cy="823.3" r="2.1"/>
<circle class="b" cx="1808.6" cy="873.4" r="2.1"/>
<circle class="r" cx="1753.6" cy="801.6" r="2.1"/>
<circle class="r" cx="1576.1" cy="937.3" r="2.1"/>
<circle class="r" cx="1830.3" cy="730.3" r="2.1"/>
<circle class="b" cx="1899.9" cy="762.2" r="2.1"/>
<circle class="r" cx="1795.6" cy="827.9" r="2.1"/>
<circle class="r" cx="1791.4" cy="889.8" r="2.1"/>
<circle class="r" cx="1703.5" cy="876.4" r="2.1"/>
<circle class="r" cx="1666.8" cy="897.9" r="2.1"/>
<circle class="b" cx="1798.1" cy="684.1" r="2.1"/>
<circle class="b" cx="1807.9" cy="871.6" r="2.1"/>
<circle class="b" cx="1754.9" cy="799.1" r="2.1"/>
<circle class="r" cx="1876.8" cy="832.2" r="2.1"/>
<circle class="r" cx="1579.9" cy="906.1" r="2.1"/>
<circle class="b" cx="1623.5" cy="908.3" r="2.1"/>
<circle class="b" cx="1809.1" cy="680.8" r="2.1"/>
<circle class="r" cx="1820.2" cy="858.1" r="2.1"/>
<circle class="r" cx="1865.2" cy="692.3" r="2.1"/>
<circle class="r" cx="1788.8" cy="829.3" r="2.1"/>
<circle class="r" cx="1851.1" cy="751.9" r="2.1"/>
<circle class="r" cx="1660.7" cy="860.5" r="2.1"/>
<circle class="r" cx="1719.7" cy="896.0" r="2.1"/>
<circle class="b" cx="1582.1" cy="816.6" r="2.1"/>
<circle class="b" cx="1748.9" cy="713.6" r="2.1"/>
<circle class="b" cx="1577.2" cy="900.1" r="2.1"/>
<circle class="r" cx="1694.7" cy="917.5" r="2.1"/>
<circle class="r" cx="1835.2" cy="857.0" r="2.1"/>
<circle class="b" cx="1857.6" cy="835.2" r="2.1"/>
<circle class="r" cx="1818.5" cy="721.9" r="2.1"/>
<circle class="b" cx="1851.4" cy="828.1" r="2.1"/>
<circle class="b" cx="1877.8" cy="783.6" r="2.1"/>
<circle class="r" cx="1779.0" cy="806.4" r="2.1"/>
<circle class="r" cx="1805.0" cy="724.1" r="2.1"/>
<circle class="b" cx="1840.6" cy="676.5" r="2.1"/>
<circle class="r" cx="1656.9" cy="877.5" r="2.1"/>
<circle class="r" cx="1848.1" cy="835.1" r="2.1"/>
<circle class="b" cx="1803.8" cy="790.2" r="2.1"/>
<circle class="r" cx="1804.6" cy="900.3" r="2.1"/>
<circle class="b" cx="1806.1" cy="717.9" r="2.1"/>
<circle class="b" cx="1603.3" cy="919.6" r="2.1"/>
<circle class="b" cx="1598.2" cy="896.1" r="2.1"/>
<circle class="r" cx="1631.7" cy="865.9" r="2.1"/>
<circle class="r" cx="1834.5" cy="754.8" r="2.1"/>
<circle class="r" cx="1836.1" cy="796.5" r="2.1"/>
<circle class="r" cx="1799.9" cy="791.6" r="2.1"/>
<circle class="b" cx="1827.7" cy="858.9" r="2.1"/>
<circle class="r" cx="1689.5" cy="822.9" r="2.1"/>
<circle class="b" cx="1809.8" cy="910.2" r="2.1"/>
<circle class="b" cx="1586.6" cy="880.6" r="2.1"/>
<circle class="b" cx="1786.1" cy="817.3" r="2.1"/>
<circle class="r" cx="1764.9" cy="775.6" r="2.1"/>
<circle class="r" cx="1806.4" cy="698.9" r="2.1"/>
<circle class="b" cx="1706.4" cy="848.5" r="2.1"/>
<circle class="b" cx="1883.5" cy="743.7" r="2.1"/>
<circle class="b" cx="1710.1" cy="922.2" r="2.1"/>
<circle class="b" cx="1820.9" cy="899.4" r="2.1"/>
<circle class="r" cx="1862.5" cy="795.7" r="2.1"/>
<circle class="b" cx="1559.9" cy="870.7" r="2.1"/>
<circle class="b" cx="1821.7" cy="867.9" r="2.1"/>
<circle class="b" cx="1898.0" cy="813.2" r="2.1"/>
<circle class="r" cx="1851.7" cy="723.9" r="2.1"/>
<circle class="b" cx="1792.8" cy="866.3" r="2.1"/>
<circle class="r" cx="1634.9" cy="865.5" r="2.1"/>
<circle class="r" cx="1820.8" cy="906.1" r="2.1"/>
<circle class="b" cx="1742.8" cy="932.9" r="2.1"/>
<circle class="b" cx="1791.3" cy="903.5" r="2.1"/>
<circle class="r" cx="1645.2" cy="868.4" r="2.1"/>
<circle class="r" cx="1798.5" cy="680.4" r="2.1"/>
<circle class="r" cx="1845.4" cy="667.8" r="2.1"/>
<circle class="b" cx="1767.2" cy="885.7" r="2.1"/>
<circle class="r" cx="1813.2" cy="864.5" r="2.1"/>
<circle class="r" cx="1598.7" cy="933.9" r="2.1"/>
<circle class="b" cx="1803.1" cy="761.8" r="2.1"/>
<circle class="r" cx="1591.9" cy="879.3" r="2.1"/>
<circle class="b" cx="1709.1" cy="983.9" r="2.1"/>
<circle class="r" cx="1853.8" cy="797.0" r="2.1"/>
<circle class="r" cx="1633.0" cy="869.2" r="2.1"/>
<circle class="b" cx="1772.2" cy="786.1" r="2.1"/>
<circle class="b" cx="1582.2" cy="823.8" r="2.1"/>
<circle class="b" cx="1847.3" cy="694.5" r="2.1"/>
<circle class="r" cx="1555.5" cy="835.1" r="2.1"/>
<circle class="r" cx="1767.4" cy="706.4" r="2.1"/>
<circle class="b" cx="1819.4" cy="915.5" r="2.1"/>
<circle class="r" cx="1809.4" cy="752.3" r="2.1"/>
<circle class="b" cx="1752.4" cy="803.9" r="2.1"/>
<circle class="b" cx="1797.4" cy="880.6" r="2.1"/>
<circle class="r" cx="1862.1" cy="774.2" r="2.1"/>
<circle class="r" cx="1741.5" cy="846.6" r="2.1"/>
<circle class="r" cx="1582.7" cy="821.5" r="2.1"/>
<circle class="r" cx="1713.8" cy="886.8" r="2.1"/>
<circle class="r" cx="1563.3" cy="874.4" r="2.1"/>
<circle class="r" cx="1801.2" cy="856.1" r="2.1"/>
<circle class="r" cx="1872.5" cy="739.8" r="2.1"/>
<circle class="b" cx="1669.3" cy="848.9" r="2.1"/>
<circle class="b" cx="1836.5" cy="719.4" r="2.1"/>
<circle class="r" cx="1642.7" cy="841.8" r="2.1"/>
<circle class="r" cx="1871.8" cy="762.8" r="2.1"/>
<circle class="r" cx="1686.5" cy="967.7" r="2.1"/>
<circle class="r" cx="1550.0" cy="921.4" r="2.1"/>
<circle class="b" cx="1566.9" cy="810.3" r="2.1"/>
<circle class="r" cx="1879.0" cy="826.4" r="2.1"/>
<circle class="b" cx="1821.8" cy="676.0" r="2.1"/>
<circle class="b" cx="1829.7" cy="842.6" r="2.1"/>
<circle class="b" cx="1807.7" cy="760.1" r="2.1"/>
<circle class="b" cx="1680.8" cy="837.4" r="2.1"/>
<circle class="r" cx="1896.1" cy="785.0" r="2.1"/>
<circle class="r" cx="1809.6" cy="736.9" r="2.1"/>
<circle class="b" cx="1722.3" cy="833.6" r="2.1"/>
<circle class="r" cx="1750.8" cy="725.0" r="2.1"/>
<circle class="r" cx="1815.1" cy="911.7" r="2.1"/>
<circle class="b" cx="1796.2" cy="862.9" r="2.1"/>
<circle class="b" cx="1845.1" cy="837.1" r="2.1"/>
<circle class="r" cx="1582.9" cy="808.3" r="2.1"/>
<circle class="b" cx="1809.3" cy="758.5" r="2.1"/>
<circle class="r" cx="1797.9" cy="675.6" r="2.1"/>
<circle class="b" cx="1808.5" cy="816.5" r="2.1"/>
<circle class="r" cx="1884.1" cy="735.1" r="2.1"/>
<circle class="b" cx="1833.5" cy="697.6" r="2.1"/>
<circle class="r" cx="1570.5" cy="924.1" r="2.1"/>
<circle class="b" cx="1569.8" cy="942.5" r="2.1"/>
<circle class="r" cx="1855.5" cy="738.4" r="2.1"/>
<circle class="r" cx="1571.0" cy="810.8" r="2.1"/>
<circle class="r" cx="1882.8" cy="788.9" r="2.1"/>
<circle class="r" cx="1579.9" cy="898.5" r="2.1"/>
<circle class="r" cx="1772.1" cy="794.3" r="2.1"/>
<circle class="b" cx="1596.1" cy="946.2" r="2.1"/>
<circle class="r" cx="1840.9" cy="693.1" r="2.1"/>
<circle class="b" cx="1783.4" cy="882.8" r="2.1"/>
<circle class="r" cx="1723.1" cy="916.2" r="2.1"/>
<circle class="b" cx="1659.5" cy="894.7" r="2.1"/>
<circle class="r" cx="1673.2" cy="833.4" r="2.1"/>
<circle class="r" cx="1720.7" cy="811.3" r="2.1"/>
<circle class="r" cx="1855.2" cy="846.6" r="2.1"/>
<circle class="r" cx="1822.4" cy="906.5" r="2.1"/>
<circle class="r" cx="1842.7" cy="742.6" r="2.1"/>
<circle class="r" cx="1820.7" cy="898.6" r="2.1"/>
<circle class="b" cx="1581.9" cy="830.4" r="2.1"/>
<circle class="b" cx="1748.8" cy="935.5" r="2.1"/>
<circle class="b" cx="1608.4" cy="898.1" r="2.1"/>
<circle class="b" cx="1778.0" cy="690.0" r="2.1"/>
<circle class="r" cx="1664.5" cy="937.0" r="2.1"/>
<circle class="r" cx="1834.0" cy="748.8" r="2.1"/>
<circle class="r" cx="1859.7" cy="731.8" r="2.1"/>
<circle class="b" cx="1872.0" cy="746.4" r="2.1"/>
<circle class="b" cx="1605.3" cy="847.0" r="2.1"/>
<circle class="b" cx="1631.4" cy="888.4" r="2.1"/>
<circle class="r" cx="1835.7" cy="746.3" r="2.1"/>
<circle class="b" cx="1698.3" cy="920.5" r="2.1"/>
<circle class="b" cx="1822.3" cy="890.1" r="2.1"/>
<circle class="b" cx="1778.0" cy="756.8" r="2.1"/>
<circle class="b" cx="1570.5" cy="889.6" r="2.1"/>
<circle class="r" cx="1808.9" cy="870.8" r="2.1"/>
<circle class="b" cx="1846.3" cy="850.6" r="2.1"/>
<circle class="b" cx="1845.1" cy="693.1" r="2.1"/>
<circle class="r" cx="1687.6" cy="866.9" r="2.1"/>
<circle class="b" cx="1833.9" cy="877.4" r="2.1"/>
<circle class="b" cx="1694.3" cy="876.1" r="2.1"/>
<circle class="r" cx="1845.7" cy="725.0" r="2.1"/>
<circle class="b" cx="1779.6" cy="879.0" r="2.1"/>
<circle class="b" cx="1812.6" cy="705.2" r="2.1"/>
<circle class="b" cx="1860.1" cy="740.0" r="2.1"/>
<circle class="r" cx="1867.0" cy="744.3" r="2.1"/>
<circle class="r" cx="1763.0" cy="846.8" r="2.1"/>
<circle class="r" cx="1861.4" cy="823.8" r="2.1"/>
<circle class="b" cx="1589.9" cy="913.2" r="2.1"/>
<circle class="b" cx="1618.4" cy="870.3" r="2.1"/>
<circle class="b" cx="1739.1" cy="885.9" r="2.1"/>
<circle class="b" cx="1763.7" cy="823.1" r="2.1"/>
<circle class="r" cx="1751.6" cy="859.9" r="2.1"/>
<circle class="r" cx="1798.2" cy="887.0" r="2.1"/>
<circle class="r" cx="1578.1" cy="804.6" r="2.1"/>
<circle class="b" cx="1558.5" cy="822.4" r="2.1"/>
<circle class="r" cx="1809.0" cy="707.2" r="2.1"/>
<circle class="r" cx="1781.4" cy="900.5" r="2.1"/>
<circle class="b" cx="1839.0" cy="863.7" r="2.1"/>
<circle class="b" cx="1828.6" cy="866.4" r="2.1"/>
<circle class="b" cx="1820.0" cy="714.9" r="2.1"/>
<circle class="b" cx="1770.9" cy="815.4" r="2.1"/>
<circle class="b" cx="1802.1" cy="836.1" r="2.1"/>
<circle class="b" cx="1880.0" cy="726.9" r="2.1"/>
<circle class="b" cx="1564.0" cy="827.3" r="2.1"/>
<circle class="r" cx="1793.7" cy="892.6" r="2.1"/>
<circle class="b" cx="1794.2" cy="847.1" r="2.1"/>
<circle class="r" cx="1746.9" cy="940.4" r="2.1"/>
<circle class="b" cx="1784.9" cy="899.0" r="2.1"/>
<circle class="b" cx="1864.7" cy="692.3" r="2.1"/>
<circle class="r" cx="1818.2" cy="825.9" r="2.1"/>
<circle class="r" cx="1854.0" cy="690.2" r="2.1"/>
<circle class="r" cx="1845.6" cy="778.4" r="2.1"/>
<circle class="b" cx="1724.2" cy="839.1" r="2.1"/>
<circle class="b" cx="1761.5" cy="753.5" r="2.1"/>
<circle class="b" cx="1854.5" cy="770.5" r="2.1"/>
<circle class="r" cx="1799.2" cy="913.8" r="2.1"/>
<circle class="r" cx="1664.1" cy="815.4" r="2.1"/>
<circle class="r" cx="1819.4" cy="657.8" r="2.1"/>
<circle class="r" cx="1801.3" cy="896.0" r="2.1"/>
<circle class="r" cx="1827.8" cy="765.6" r="2.1"/>
<circle class="r" cx="1815.3" cy="735.7" r="2.1"/>
<circle class="r" cx="1816.6" cy="744.9" r="2.1"/>
<circle class="r" cx="1647.1" cy="821.5" r="2.1"/>
<circle class="r" cx="1705.4" cy="982.8" r="2.1"/>
<circle class="b" cx="1847.4" cy="679.7" r="2.1"/>
<circle class="b" cx="1724.2" cy="810.5" r="2.1"/>
<circle class="r" cx="1812.5" cy="718.0" r="2.1"/>
<circle class="r" cx="1587.5" cy="932.4" r="2.1"/>
<circle class="r" cx="1874.6" cy="808.8" r="2.1"/>
<circle class="r" cx="1855.6" cy="776.2" r="2.1"/>
<circle class="b" cx="1604.7" cy="896.5" r="2.1"/>
<circle class="r" cx="1567.7" cy="805.5" r="2.1"/>
<circle class="r" cx="1762.5" cy="914.4" r="2.1"/>
<circle class="b" cx="1869.6" cy="751.3" r="2.1"/>
<circle class="b" cx="1842.1" cy="726.8" r="2.1"/>
<circle class="b" cx="1573.0" cy="826.5" r="2.1"/>
<circle class="r" cx="1599.2" cy="868.2" r="2.1"/>
<circle class="b" cx="1884.2" cy="752.3" r="2.1"/>
<circle class="r" cx="1620.5" cy="853.0" r="2.1"/>
<circle class="r" cx="1585.5" cy="906.9" r="2.1"/>
<circle class="r" cx="1726.2" cy="861.7" r="2.1"/>
<circle class="r" cx="1856.3" cy="807.4" r="2.1"/>
<circle class="r" cx="1790.0" cy="809.5" r="2.1"/>
<circle class="b" cx="1797.2" cy="814.3" r="2.1"/>
<circle class="r" cx="1596.7" cy="858.9" r="2.1"/>
<circle class="b" cx="1571.6" cy="956.1" r="2.1"/>
<circle class="b" cx="1823.9" cy="786.9" r="2.1"/>
<circle class="r" cx="1796.0" cy="809.7" r="2.1"/>
<circle class="b" cx="1584.3" cy="956.9" r="2.1"/>
<circle class="r" cx="1825.3" cy="856.6" r="2.1"/>
<circle class="r" cx="1709.3" cy="895.4" r="2.1"/>
<circle class="b" cx="1786.7" cy="822.5" r="2.1"/>
<circle class="r" cx="1797.9" cy="691.7" r="2.1"/>
<circle class="b" cx="1857.8" cy="759.4" r="2.1"/>
<circle class="r" cx="1786.2" cy="891.3" r="2.1"/>
<circle class="b" cx="1705.3" cy="873.8" r="2.1"/>
<circle class="b" cx="1767.8" cy="841.8" r="2.1"/>
<circle class="b" cx="1665.8" cy="915.0" r="2.1"/>
<circle class="r" cx="1555.1" cy="906.8" r="2.1"/>
<circle class="b" cx="1889.5" cy="768.7" r="2.1"/>
<circle class="r" cx="1834.9" cy="778.0" r="2.1"/>
<circle class="b" cx="1558.0" cy="845.0" r="2.1"/>
<circle class="b" cx="1727.6" cy="869.2" r="2.1"/>
<circle class="r" cx="1892.8" cy="809.9" r="2.1"/>
<circle class="r" cx="1741.9" cy="880.9" r="2.1"/>
<circle class="r" cx="1555.2" cy="838.0" r="2.1"/>
<circle class="r" cx="1769.6" cy="769.7" r="2.1"/>
<circle class="b" cx="1712.8" cy="898.3" r="2.1"/>
<circle class="b" cx="1568.1" cy="868.4" r="2.1"/>
<circle class="r" cx="1827.6" cy="698.2" r="2.1"/>
<circle class="r" cx="1800.7" cy="898.9" r="2.1"/>
<circle class="r" cx="1725.1" cy="909.0" r="2.1"/>
<circle class="b" cx="1817.0" cy="747.9" r="2.1"/>
<circle class="b" cx="1696.1" cy="898.6" r="2.1"/>
<circle class="r" cx="1562.5" cy="946.0" r="2.1"/>
<circle class="r" cx="1827.6" cy="742.9" r="2.1"/>
<circle class="r" cx="1835.0" cy="807.0" r="2.1"/>
<circle class="r" cx="1581.6" cy="891.4" r="2.1"/>
<circle class="r" cx="1569.8" cy="810.2" r="2.1"/>
<circle class="r" cx="1809.9" cy="677.3" r="2.1"/>
<circle class="b" cx="1822.7" cy="746.6" r="2.1"/>
<circle class="b" cx="1779.8" cy="891.2" r="2.1"/>
<circle class="r" cx="1802.2" cy="681.8" r="2.1"/>
<circle class="b" cx="1891.9" cy="824.8" r="2.1"/>
<circle class="b" cx="1776.3" cy="836.5" r="2.1"/>
<circle class="b" cx="1727.5" cy="828.8" r="2.1"/>
<circle class="r" cx="1781.0" cy="899.1" r="2.1"/>
<circle class="b" cx="1856.7" cy="769.6" r="2.1"/>
<circle class="r" cx="1826.6" cy="832.7" r="2.1"/>
<circle class="b" cx="1771.8" cy="778.7" r="2.1"/>
<circle class="b" cx="1581.9" cy="856.4" r="2.1"/>
<circle class="b" cx="1870.1" cy="801.3" r="2.1"/>
<circle class="r" cx="1564.1" cy="905.6" r="2.1"/>
<circle class="r" cx="1877.7" cy="755.1" r="2.1"/>
<circle class="r" cx="1579.0" cy="814.2" r="2.1"/>
<circle class="r" cx="1815.7" cy="843.3" r="2.1"/>
<circle class="r" cx="1670.9" cy="890.8" r="2.1"/>
<circle class="r" cx="1770.0" cy="888.2" r="2.1"/>
<circle class="b" cx="1569.3" cy="945.9" r="2.1"/>
<circle class="b" cx="1737.7" cy="935.5" r="2.1"/>
<circle class="b" cx="1711.3" cy="850.5" r="2.1"/>
<circle class="r" cx="1817.7" cy="896.1" r="2.1"/>
<circle class="b" cx="1818.2" cy="723.0" r="2.1"/>
<circle class="r" cx="1810.0" cy="874.7" r="2.1"/>
<circle class="b" cx="1831.2" cy="658.9" r="2.1"/>
<circle class="b" cx="1795.5" cy="823.2" r="2.1"/>
<circle class="r" cx="1847.0" cy="835.5" r="2.1"/>
<circle class="b" cx="1679.5" cy="820.2" r="2.1"/>
<circle class="r" cx="1875.1" cy="726.6" r="2.1"/>
<circle class="r" cx="1823.8" cy="791.9" r="2.1"/>
<circle class="r" cx="1786.7" cy="875.0" r="2.1"/>
<circle class="r" cx="1827.2" cy="828.9" r="2.1"/>
<circle class="b" cx="1808.1" cy="798.3" r="2.1"/>
<circle class="r" cx="1848.6" cy="756.3" r="2.1"/>
<circle class="r" cx="1784.7" cy="860.0" r="2.1"/>
<circle class="r" cx="1836.8" cy="667.3" r="2.1"/>
<circle class="b" cx="1561.3" cy="945.6" r="2.1"/>
<circle class="r" cx="1763.5" cy="783.5" r="2.1"/>
<circle class="b" cx="1880.1" cy="719.7" r="2.1"/>
<circle class="r" cx="1704.3" cy="809.1" r="2.1"/>
<circle class="r" cx="1581.4" cy="940.8" r="2.1"/>
<circle class="b" cx="1583.3" cy="943.0" r="2.1"/>
<circle class="b" cx="1574.5" cy="842.7" r="2.1"/>
<circle class="b" cx="1734.6" cy="896.6" r="2.1"/>
<circle class="b" cx="1899.5" cy="773.7" r="2.1"/>
<circle class="r" cx="1801.5" cy="683.2" r="2.1"/>
<circle class="r" cx="1689.0" cy="910.7" r="2.1"/>
<circle class="r" cx="1881.8" cy="767.0" r="2.1"/>
<circle class="b" cx="1867.9" cy="712.6" r="2.1"/>
<circle class="r" cx="1768.9" cy="788.7" r="2.1"/>
<circle class="r" cx="1743.4" cy="816.7" r="2.1"/>
<circle class="b" cx="1748.4" cy="813.3" r="2.1"/>
<circle class="r" cx="1904.3" cy="770.7" r="2.1"/>
<circle class="r" cx="1727.0" cy="901.6" r="2.1"/>
<circle class="r" cx="1814.7" cy="703.2" r="2.1"/>
<circle class="b" cx="1577.1" cy="955.8" r="2.1"/>
<circle class="b" cx="1610.1" cy="937.1" r="2.1"/>
<circle class="b" cx="1871.3" cy="820.8" r="2.1"/>
<circle class="b" cx="1812.5" cy="726.7" r="2.1"/>
<circle class="b" cx="1716.7" cy="871.5" r="2.1"/>
<circle class="b" cx="1814.9" cy="809.9" r="2.1"/>
<circle class="r" cx="1594.9" cy="853.4" r="2.1"/>
<circle class="r" cx="1570.3" cy="836.7" r="2.1"/>
<circle class="r" cx="1812.7" cy="876.1" r="2.1"/>
<circle class="r" cx="1827.7" cy="662.4" r="2.1"/>
<circle class="b" cx="1691.7" cy="855.1" r="2.1"/>
<circle class="b" cx="1792.5" cy="872.4" r="2.1"/>
<circle class="r" cx="1892.9" cy="821.1" r="2.1"/>
<circle class="b" cx="1778.0" cy="846.4" r="2.1"/>
<circle class="b" cx="1819.4" cy="739.0" r="2.1"/>
<circle class="b" cx="1843.0" cy="746.0" r="2.1"/>
<circle class="b" cx="1804.5" cy="687.0" r="2.1"/>
<circle class="b" cx="1855.4" cy="711.8" r="2.1"/>
<circle class="b" cx="1569.2" cy="825.7" r="2.1"/>
<circle class="b" cx="1779.1" cy="903.5" r="2.1"/>
<circle class="r" cx="1858.7" cy="721.8" r="2.1"/>
<circle class="r" cx="1658.5" cy="820.1" r="2.1"/>
<circle class="r" cx="1885.2" cy="798.6" r="2.1"/>
<circle class="b" cx="1595.8" cy="852.2" r="2.1"/>
<circle class="b" cx="1883.9" cy="775.7" r="2.1"/>
<circle class="r" cx="1904.9" cy="795.5" r="2.1"/>
<circle class="r" cx="1852.8" cy="850.9" r="2.1"/>
<circle class="b" cx="1827.9" cy="845.2" r="2.1"/>
<circle class="r" cx="1824.0" cy="656.1" r="2.1"/>
<circle class="b" cx="1736.7" cy="865.3" r="2.1"/>
<circle class="b" cx="1793.5" cy="785.1" r="2.1"/>
<circle class="b" cx="1794.7" cy="881.7" r="2.1"/>
<circle class="r" cx="1665.8" cy="842.3" r="2.1"/>
<circle class="r" cx="1818.5" cy="737.7" r="2.1"/>
<circle class="b" cx="1779.8" cy="731.2" r="2.1"/>
<circle class="b" cx="1563.2" cy="810.0" r="2.1"/>
<circle class="r" cx="1856.9" cy="794.8" r="2.1"/>
<circle class="r" cx="1859.1" cy="740.9" r="2.1"/>
<circle class="r" cx="1891.4" cy="794.0" r="2.1"/>
<circle class="r" cx="1875.9" cy="712.3" r="2.1"/>
<circle class="b" cx="1788.8" cy="880.0" r="2.1"/>
<circle class="b" cx="1791.2" cy="919.4" r="2.1"/>
<circle class="b" cx="1643.0" cy="848.7" r="2.1"/>
<circle class="b" cx="1600.5" cy="946.2" r="2.1"/>
<circle class="r" cx="1672.4" cy="812.1" r="2.1"/>
<circle class="b" cx="1735.0" cy="944.9" r="2.1"/>
<circle class="r" cx="1636.8" cy="925.6" r="2.1"/>
<circle class="r" cx="1843.2" cy="796.5" r="2.1"/>
<circle class="b" cx="1852.7" cy="746.9" r="2.1"/>
<circle class="r" cx="1585.0" cy="881.8" r="2.1"/>
<circle class="r" cx="1634.8" cy="891.6" r="2.1"/>
<circle class="b" cx="1648.6" cy="881.8" r="2.1"/>
<circle class="b" cx="1874.1" cy="690.1" r="2.1"/>
<circle class="r" cx="1788.6" cy="848.6" r="2.1"/>
<circle class="b" cx="1585.9" cy="885.1" r="2.1"/>
<circle class="r" cx="1843.5" cy="842.9" r="2.1"/>
<circle class="r" cx="1807.0" cy="806.7" r="2.1"/>
<circle class="r" cx="1810.8" cy="687.9" r="2.1"/>
<circle class="b" cx="1841.4" cy="856.0" r="2.1"/>
<circle class="b" cx="1557.0" cy="825.9" r="2.1"/>
<circle class="b" cx="1893.8" cy="804.7" r="2.1"/>
<circle class="b" cx="1800.3" cy="699.5" r="2.1"/>
<circle class="b" cx="1780.5" cy="858.5" r="2.1"/>
<circle class="b" cx="1913.4" cy="769.9" r="2.1"/>
<circle class="b" cx="1880.1" cy="825.9" r="2.1"/>
<circle class="r" cx="1775.0" cy="916.7" r="2.1"/>
<circle class="b" cx="1831.1" cy="811.3" r="2.1"/>
<circle class="b" cx="1584.0" cy="873.8" r="2.1"/>
<circle class="r" cx="1824.2" cy="660.1" r="2.1"/>
<circle class="r" cx="1596.8" cy="923.6" r="2.1"/>
<circle class="r" cx="1583.9" cy="817.7" r="2.1"/>
<circle class="b" cx="1698.4" cy="984.1" r="2.1"/>
<circle class="b" cx="1829.7" cy="834.7" r="2.1"/>
<circle class="r" cx="1821.9" cy="868.8" r="2.1"/>
<circle class="r" cx="1603.3" cy="930.1" r="2.1"/>
<circle class="b" cx="1592.3" cy="818.8" r="2.1"/>
<circle class="r" cx="1713.1" cy="883.2" r="2.1"/>
<circle class="r" cx="1791.9" cy="832.9" r="2.1"/>
<circle class="b" cx="1572.4" cy="816.7" r="2.1"/>
<circle class="r" cx="1584.5" cy="835.8" r="2.1"/>
<circle class="b" cx="1751.5" cy="906.4" r="2.1"/>
<circle class="b" cx="1701.9" cy="919.0" r="2.1"/>
<circle class="r" cx="1830.5" cy="797.1" r="2.1"/>
<circle class="b" cx="1645.9" cy="879.1" r="2.1"/>
<circle class="r" cx="1865.8" cy="683.6" r="2.1"/>
<circle class="b" cx="1758.7" cy="808.5" r="2.1"/>
<circle class="r" cx="1884.9" cy="766.9" r="2.1"/>
<circle class="b" cx="1592.2" cy="863.3" r="2.1"/>
<circle class="b" cx="1613.5" cy="888.1" r="2.1"/>
<circle class="b" cx="1786.0" cy="858.0" r="2.1"/>
<circle class="r" cx="1552.5" cy="829.7" r="2.1"/>
<circle class="r" cx="1836.5" cy="781.1" r="2.1"/>
<circle class="b" cx="1613.3" cy="928.0" r="2.1"/>
<circle class="b" cx="1894.1" cy="822.2" r="2.1"/>
<circle class="b" cx="1856.1" cy="830.6" r="2.1"/>
<circle class="r" cx="1816.9" cy="821.1" r="2.1"/>
<circle class="b" cx="1807.5" cy="791.1" r="2.1"/>
<circle class="r" cx="1806.2" cy="803.1" r="2.1"/>
<circle class="r" cx="1804.5" cy="662.4" r="2.1"/>
<circle class="r" cx="1703.6" cy="823.6" r="2.1"/>
<circle class="b" cx="1779.4" cy="897.6" r="2.1"/>
<circle class="r" cx="1864.6" cy="760.6" r="2.1"/>
<circle class="r" cx="1748.5" cy="818.7" r="2.1"/>
<circle class="r" cx="1812.3" cy="857.0" r="2.1"/>
<circle class="r" cx="1591.8" cy="819.3" r="2.1"/>
<circle class="r" cx="1819.0" cy="834.5" r="2.1"/>
<circle class="r" cx="1912.3" cy="765.6" r="2.1"/>
<circle class="b" cx="1650.5" cy="854.0" r="2.1"/>
<circle class="b" cx="1816.4" cy="852.2" r="2.1"/>
<rect x="152.20" y="1011.3" width="69.70" height="371.30" fill="#f9807a"/>
<rect x="435.90" y="1011.3" width="69.30" height="371.30" fill="#f9807a"/>
<line x1="152.20" y1="1011.30" x2="152.20" y2="1383.40" stroke="#000" stroke-width="1.80"/>
<line x1="151.40" y1="1382.60" x2="505.20" y2="1382.60" stroke="#000" stroke-width="1.80"/>
<line x1="145.00" y1="1366.00" x2="152.20" y2="1366.00" stroke="#000" stroke-width="1.60"/>
<text x="125.59" y="1375.00" font-size="24.37" font-weight="normal" font-style="normal" textLength="12.70" lengthAdjust="spacingAndGlyphs" fill="#000">0</text>
<line x1="145.00" y1="1225.95" x2="152.20" y2="1225.95" stroke="#000" stroke-width="1.60"/>
<text x="98.41" y="1234.95" font-size="24.37" font-weight="normal" font-style="normal" textLength="39.92" lengthAdjust="spacingAndGlyphs" fill="#000">100</text>
<line x1="145.00" y1="1085.90" x2="152.20" y2="1085.90" stroke="#000" stroke-width="1.60"/>
<text x="98.51" y="1094.90" font-size="24.37" font-weight="normal" font-style="normal" textLength="39.81" lengthAdjust="spacingAndGlyphs" fill="#000">200</text>
<line x1="221.90" y1="1382.60" x2="221.90" y2="1390.10" stroke="#000" stroke-width="1.60"/>
<text x="232.10" y="1413.4" font-size="22.6" font-weight="normal" text-anchor="end">−1</text>
<line x1="328.90" y1="1382.60" x2="328.90" y2="1390.10" stroke="#000" stroke-width="1.60"/>
<text x="321.43" y="1413.40" font-size="23.51" font-weight="normal" font-style="normal" textLength="13.51" lengthAdjust="spacingAndGlyphs" fill="#000">0</text>
<line x1="435.90" y1="1382.60" x2="435.90" y2="1390.10" stroke="#000" stroke-width="1.60"/>
<text x="438.90" y="1413.4" font-size="22.6" font-weight="normal" text-anchor="end">1</text>
<text x="203.05" y="1448.50" font-size="31.03" font-weight="normal" font-style="normal" textLength="38.62" lengthAdjust="spacingAndGlyphs" fill="#000">log</text>
<text x="241.37" y="1458.60" font-size="18.49" font-weight="normal" font-style="normal" textLength="12.59" lengthAdjust="spacingAndGlyphs" fill="#000">2</text>
<text x="261.16" y="1448.50" font-size="31.03" font-weight="normal" font-style="normal" textLength="204.38" lengthAdjust="spacingAndGlyphs" fill="#000">treated / control</text>
<text transform="translate(69.50 1261.50) rotate(-90)" x="-1.57" y="0" font-size="30.07" font-weight="normal" font-style="normal" textLength="60.05" lengthAdjust="spacingAndGlyphs" fill="#000">−log</text>
<text transform="translate(78.30 1202.00) rotate(-90)" x="-1.32" y="0" font-size="18.92" font-weight="normal" font-style="normal" textLength="19.51" lengthAdjust="spacingAndGlyphs" fill="#000">10</text>
<text transform="translate(69.50 1173.60) rotate(-90)" x="-2.21" y="0" font-size="30.00" font-weight="normal" font-style="normal" textLength="18.91" lengthAdjust="spacingAndGlyphs" fill="#000">p</text>
<text transform="translate(78.30 1157.20) rotate(-90)" x="-0.77" y="0" font-size="18.21" font-weight="normal" font-style="normal" textLength="29.20" lengthAdjust="spacingAndGlyphs" fill="#000">adj.</text>
<circle cx="425.10" cy="1029.60" r="8.20" fill="#000"/>
<circle cx="380.70" cy="1208.70" r="8.00" fill="#000"/>
<circle cx="374.70" cy="1288.00" r="7.60" fill="#000"/>
<circle cx="363.10" cy="1291.50" r="7.60" fill="#000"/>
<circle cx="358.50" cy="1308.00" r="7.60" fill="#000"/>
<circle cx="364.00" cy="1316.00" r="7.60" fill="#000"/>
<circle cx="313.20" cy="1332.00" r="7.60" fill="#000"/>
<circle cx="303.40" cy="1339.00" r="7.60" fill="#000"/>
<circle cx="304.50" cy="1346.00" r="7.60" fill="#000"/>
<circle cx="310.30" cy="1353.00" r="7.60" fill="#000"/>
<circle cx="319.60" cy="1346.00" r="7.60" fill="#000"/>
<circle cx="322.00" cy="1355.30" r="7.60" fill="#000"/>
<circle cx="315.00" cy="1341.40" r="7.60" fill="#000"/>
<circle cx="308.00" cy="1338.00" r="7.60" fill="#000"/>
<circle cx="353.30" cy="1329.80" r="7.60" fill="#000"/>
<circle cx="354.40" cy="1336.70" r="7.60" fill="#000"/>
<circle cx="348.60" cy="1340.20" r="7.60" fill="#000"/>
<circle cx="340.50" cy="1346.00" r="7.60" fill="#000"/>
<circle cx="333.50" cy="1351.80" r="7.60" fill="#000"/>
<circle cx="354.40" cy="1346.00" r="7.60" fill="#000"/>
<circle cx="360.20" cy="1343.70" r="7.60" fill="#000"/>
<circle cx="346.30" cy="1351.80" r="7.60" fill="#000"/>
<circle cx="361.40" cy="1351.80" r="7.60" fill="#000"/>
<circle cx="366.00" cy="1353.00" r="7.60" fill="#000"/>
<circle cx="377.60" cy="1342.60" r="7.60" fill="#000"/>
<circle cx="371.80" cy="1349.50" r="7.60" fill="#000"/>
<circle cx="375.30" cy="1355.30" r="7.60" fill="#000"/>
<circle cx="368.40" cy="1357.60" r="7.60" fill="#000"/>
<circle cx="322.00" cy="1360.00" r="7.60" fill="#000"/>
<circle cx="340.00" cy="1360.00" r="7.60" fill="#000"/>
<circle cx="352.10" cy="1355.30" r="7.60" fill="#000"/>
<circle cx="358.00" cy="1358.00" r="7.60" fill="#000"/>
<circle cx="304.00" cy="1366.00" r="7.60" fill="#000"/>
<circle cx="308.00" cy="1366.00" r="7.60" fill="#000"/>
<circle cx="312.00" cy="1366.00" r="7.60" fill="#000"/>
<circle cx="316.00" cy="1366.00" r="7.60" fill="#000"/>
<circle cx="320.00" cy="1366.00" r="7.60" fill="#000"/>
<circle cx="324.00" cy="1366.00" r="7.60" fill="#000"/>
<circle cx="328.00" cy="1366.00" r="7.60" fill="#000"/>
<circle cx="332.00" cy="1366.00" r="7.60" fill="#000"/>
<circle cx="336.00" cy="1366.00" r="7.60" fill="#000"/>
<circle cx="340.00" cy="1366.00" r="7.60" fill="#000"/>
<circle cx="344.00" cy="1366.00" r="7.60" fill="#000"/>
<circle cx="348.00" cy="1366.00" r="7.60" fill="#000"/>
<circle cx="352.00" cy="1366.00" r="7.60" fill="#000"/>
<circle cx="356.00" cy="1366.00" r="7.60" fill="#000"/>
<circle cx="360.00" cy="1366.00" r="7.60" fill="#000"/>
<circle cx="364.00" cy="1366.00" r="7.60" fill="#000"/>
<circle cx="368.00" cy="1366.00" r="7.60" fill="#000"/>
<circle cx="372.00" cy="1366.00" r="7.60" fill="#000"/>
<circle cx="376.00" cy="1366.00" r="7.60" fill="#000"/>
<circle cx="380.00" cy="1366.00" r="7.60" fill="#000"/>
<circle cx="382.00" cy="1366.00" r="7.60" fill="#000"/>
<line x1="407.80" y1="1052.20" x2="417.10" y2="1040.20" stroke="#000" stroke-width="1.50"/>
<line x1="367.60" y1="1188.90" x2="374.40" y2="1196.70" stroke="#000" stroke-width="1.50"/>
<line x1="366.60" y1="1267.10" x2="371.30" y2="1276.40" stroke="#000" stroke-width="1.50"/>
<text x="311.67" y="1075.40" font-size="23.08" font-weight="normal" font-style="normal" textLength="93.63" lengthAdjust="spacingAndGlyphs" fill="#000">RBFOX2</text>
<text x="266.55" y="1182.90" font-size="23.71" font-weight="normal" font-style="normal" textLength="104.53" lengthAdjust="spacingAndGlyphs" fill="#000">NDUFA11</text>
<text x="267.83" y="1262.70" font-size="23.66" font-weight="normal" font-style="normal" textLength="102.15" lengthAdjust="spacingAndGlyphs" fill="#000">BLOC1S1</text>
</svg>
</body></html>
